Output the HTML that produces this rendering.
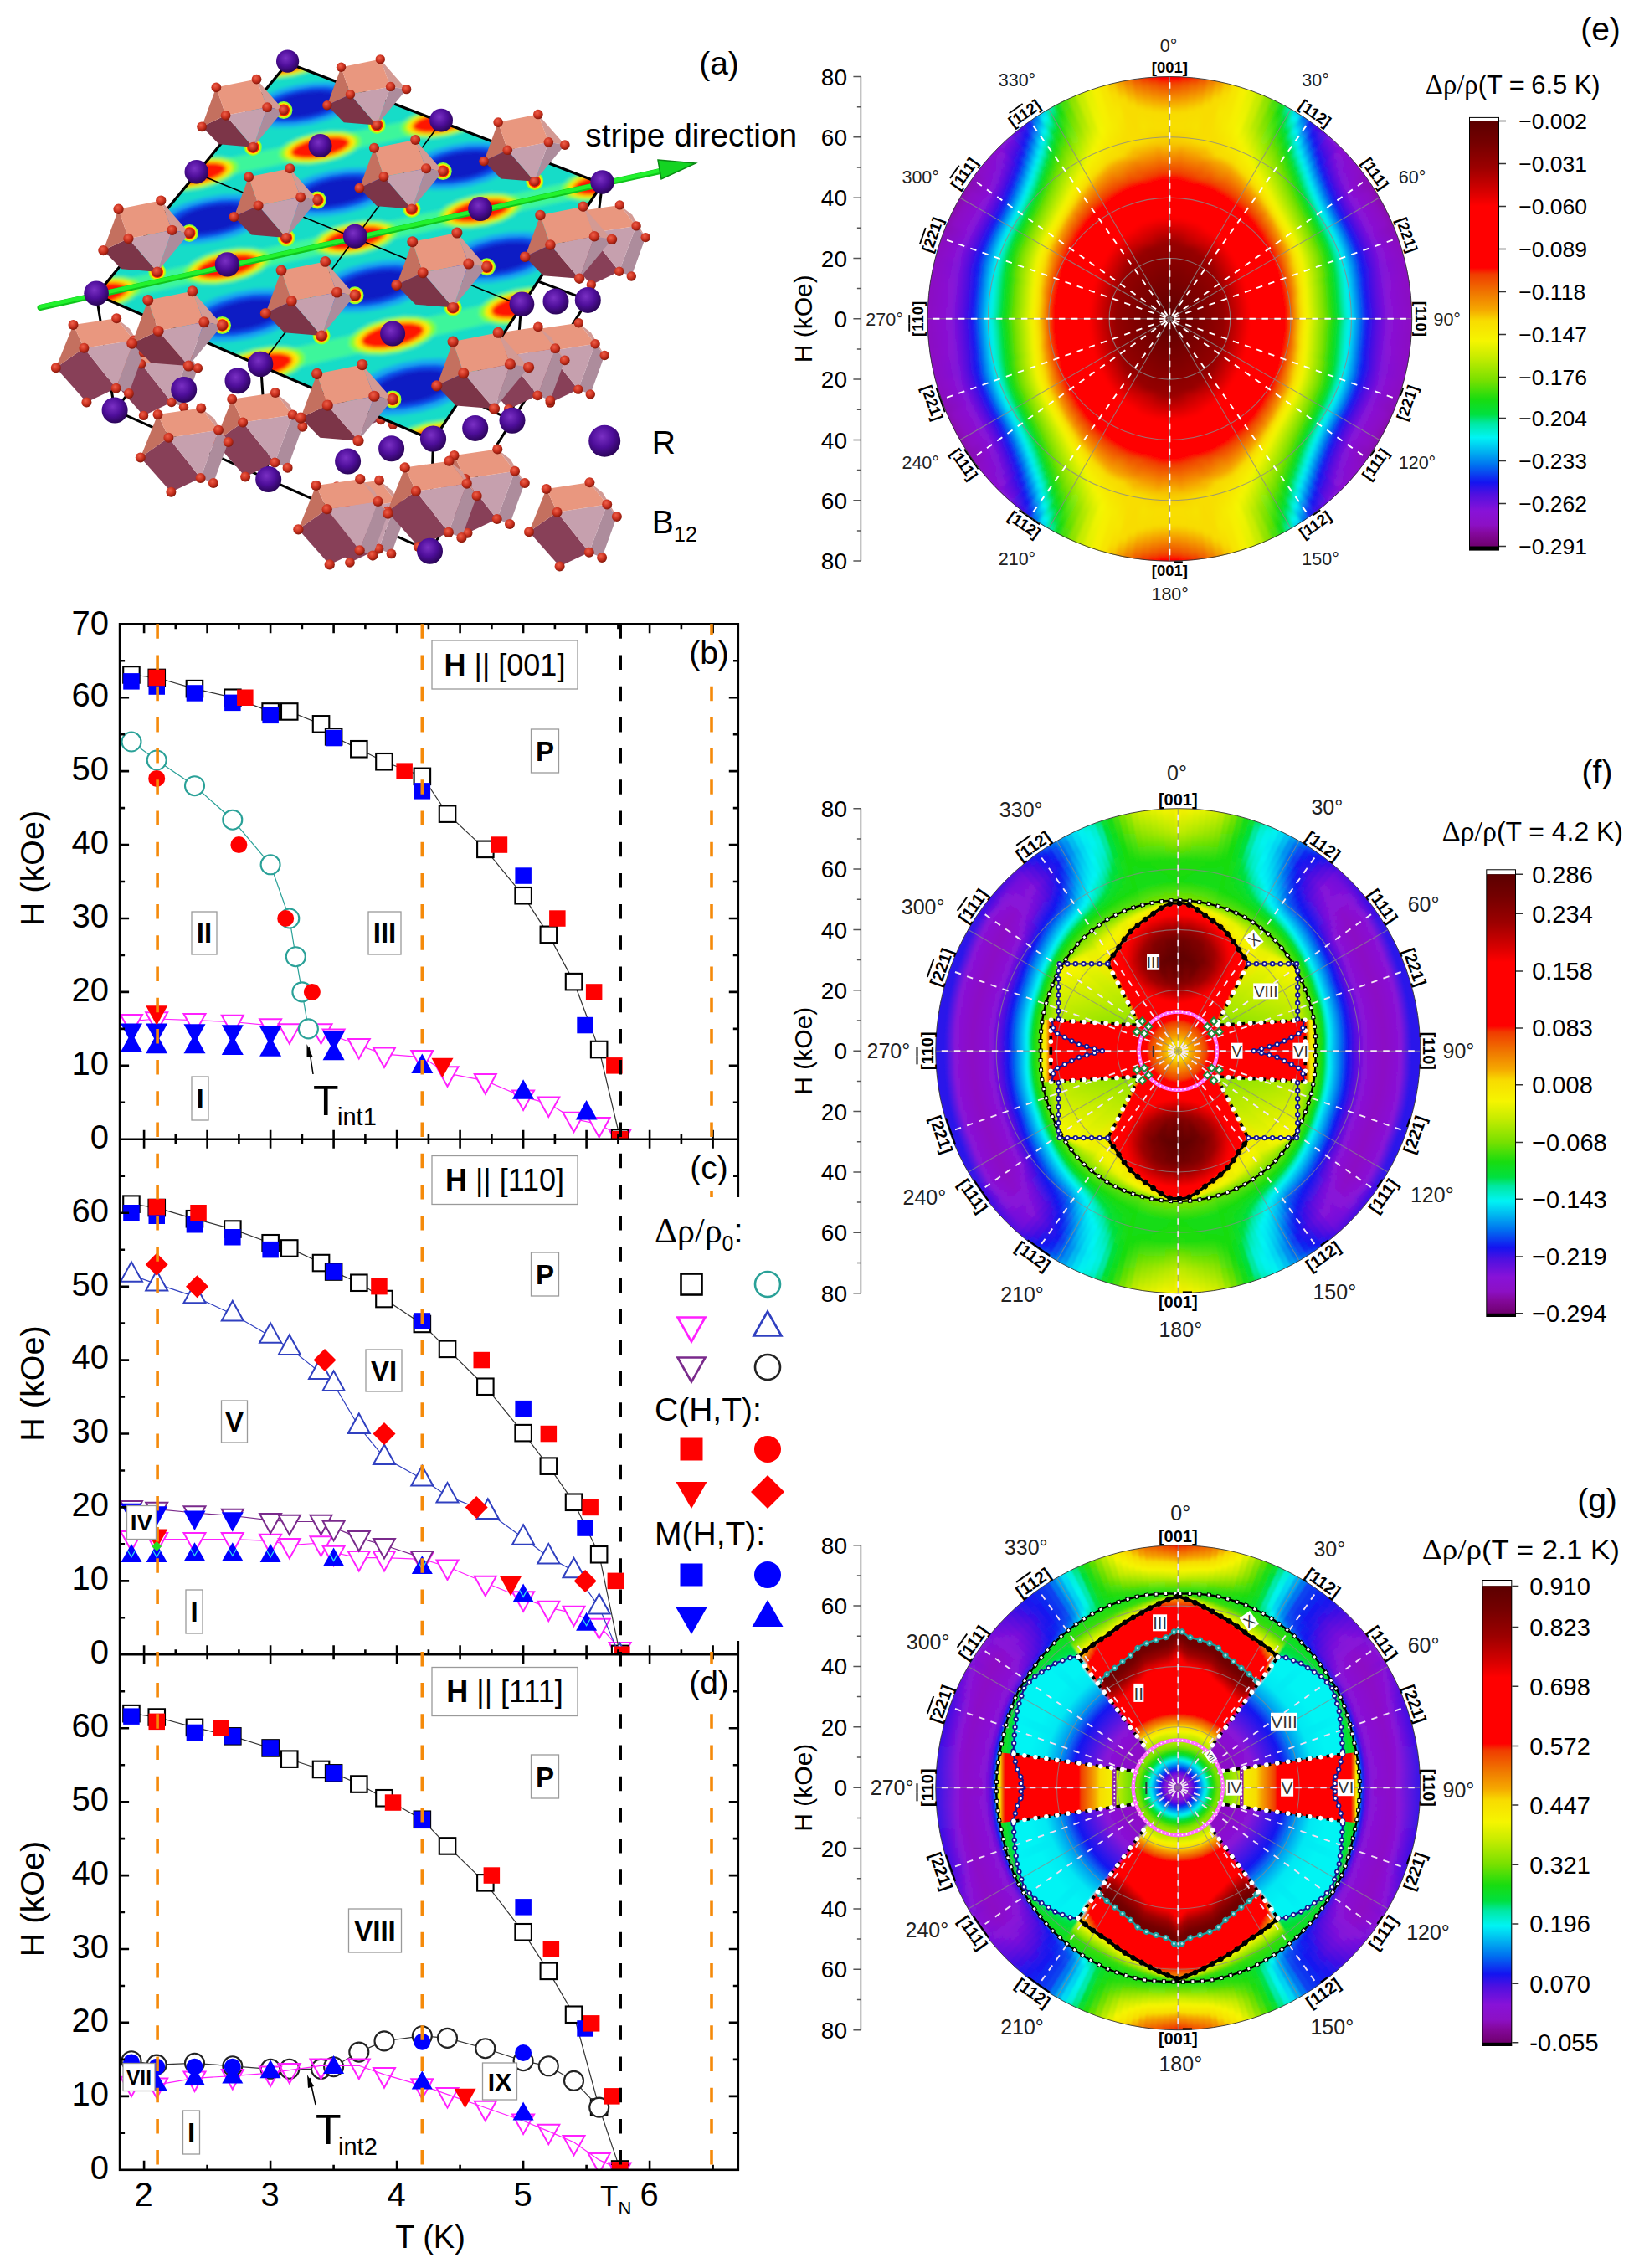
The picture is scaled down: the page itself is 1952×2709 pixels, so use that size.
<!DOCTYPE html>
<html><head><meta charset="utf-8"><title>figure</title><style>html,body{margin:0;padding:0;background:#fff}svg{display:block}</style></head><body>
<svg width="1952" height="2709" viewBox="0 0 1952 2709">
<rect width="1952" height="2709" fill="#fff"/>
<g font-family='"Liberation Sans", Arial, sans-serif' fill="#000">
<defs><clipPath id="cpb"><rect x="143" y="745" width="739" height="615.8"/></clipPath><clipPath id="cpc"><rect x="143" y="1360.8" width="739" height="615.5"/></clipPath><clipPath id="cpd"><rect x="143" y="1976.3" width="739" height="615.5"/></clipPath></defs>
<g clip-path="url(#cpb)">
<polyline points="157,1219.6 187.2,1217 232.5,1218.7 277.8,1220.5 323.1,1224.9 345.8,1231.1 383.5,1231.1 398.6,1237.2 428.8,1248.6 459,1259.2 504.3,1262.7 534.5,1282.1 579.8,1290.9 625.1,1310.2 655.3,1318.1 685.5,1336.6 715.7,1342.7 740.6,1356.8" fill="none" stroke="#ff20ff" stroke-width="1.2"/>
<polygon points="144,1211.9 170,1211.9 157,1235.4" fill="#fff" stroke="#ff20ff" stroke-width="2.0" stroke-linejoin="miter"/>
<polygon points="174.2,1209.2 200.2,1209.2 187.2,1232.7" fill="#fff" stroke="#ff20ff" stroke-width="2.0" stroke-linejoin="miter"/>
<polygon points="219.5,1211 245.5,1211 232.5,1234.5" fill="#fff" stroke="#ff20ff" stroke-width="2.0" stroke-linejoin="miter"/>
<polygon points="264.8,1212.8 290.8,1212.8 277.8,1236.3" fill="#fff" stroke="#ff20ff" stroke-width="2.0" stroke-linejoin="miter"/>
<polygon points="310.1,1217.2 336.1,1217.2 323.1,1240.7" fill="#fff" stroke="#ff20ff" stroke-width="2.0" stroke-linejoin="miter"/>
<polygon points="332.8,1223.3 358.8,1223.3 345.8,1246.8" fill="#fff" stroke="#ff20ff" stroke-width="2.0" stroke-linejoin="miter"/>
<polygon points="370.5,1223.3 396.5,1223.3 383.5,1246.8" fill="#fff" stroke="#ff20ff" stroke-width="2.0" stroke-linejoin="miter"/>
<polygon points="385.6,1229.5 411.6,1229.5 398.6,1253" fill="#fff" stroke="#ff20ff" stroke-width="2.0" stroke-linejoin="miter"/>
<polygon points="415.8,1240.9 441.8,1240.9 428.8,1264.4" fill="#fff" stroke="#ff20ff" stroke-width="2.0" stroke-linejoin="miter"/>
<polygon points="446,1251.4 472,1251.4 459,1274.9" fill="#fff" stroke="#ff20ff" stroke-width="2.0" stroke-linejoin="miter"/>
<polygon points="491.3,1255 517.3,1255 504.3,1278.5" fill="#fff" stroke="#ff20ff" stroke-width="2.0" stroke-linejoin="miter"/>
<polygon points="521.5,1274.3 547.5,1274.3 534.5,1297.8" fill="#fff" stroke="#ff20ff" stroke-width="2.0" stroke-linejoin="miter"/>
<polygon points="566.8,1283.1 592.8,1283.1 579.8,1306.6" fill="#fff" stroke="#ff20ff" stroke-width="2.0" stroke-linejoin="miter"/>
<polygon points="612.1,1302.4 638.1,1302.4 625.1,1325.9" fill="#fff" stroke="#ff20ff" stroke-width="2.0" stroke-linejoin="miter"/>
<polygon points="642.3,1310.4 668.3,1310.4 655.3,1333.9" fill="#fff" stroke="#ff20ff" stroke-width="2.0" stroke-linejoin="miter"/>
<polygon points="672.5,1328.8 698.5,1328.8 685.5,1352.3" fill="#fff" stroke="#ff20ff" stroke-width="2.0" stroke-linejoin="miter"/>
<polygon points="702.7,1335 728.7,1335 715.7,1358.5" fill="#fff" stroke="#ff20ff" stroke-width="2.0" stroke-linejoin="miter"/>
<polygon points="727.6,1349 753.6,1349 740.6,1372.5" fill="#fff" stroke="#ff20ff" stroke-width="2.0" stroke-linejoin="miter"/>
<polyline points="157,806 187.2,809.5 232.5,822.7 277.8,833.2 323.1,849.9 345.8,849.9 383.5,864.9 398.6,879.8 428.8,894.8 459,909.7 504.3,927.3 534.5,972.1 579.8,1014.4 625.1,1069.8 655.3,1116.4 685.5,1172.6 715.7,1253.5 740.6,1359" fill="none" stroke="#333" stroke-width="1.2"/>
<rect x="147.2" y="796.2" width="19.5" height="19.5" fill="#fff" stroke="#000" stroke-width="2.1"/>
<rect x="177.5" y="799.7" width="19.5" height="19.5" fill="#fff" stroke="#000" stroke-width="2.1"/>
<rect x="222.7" y="812.9" width="19.5" height="19.5" fill="#fff" stroke="#000" stroke-width="2.1"/>
<rect x="268.1" y="823.5" width="19.5" height="19.5" fill="#fff" stroke="#000" stroke-width="2.1"/>
<rect x="313.4" y="840.2" width="19.5" height="19.5" fill="#fff" stroke="#000" stroke-width="2.1"/>
<rect x="336" y="840.2" width="19.5" height="19.5" fill="#fff" stroke="#000" stroke-width="2.1"/>
<rect x="373.8" y="855.1" width="19.5" height="19.5" fill="#fff" stroke="#000" stroke-width="2.1"/>
<rect x="388.9" y="870.1" width="19.5" height="19.5" fill="#fff" stroke="#000" stroke-width="2.1"/>
<rect x="419.1" y="885" width="19.5" height="19.5" fill="#fff" stroke="#000" stroke-width="2.1"/>
<rect x="449.2" y="900" width="19.5" height="19.5" fill="#fff" stroke="#000" stroke-width="2.1"/>
<rect x="494.6" y="917.6" width="19.5" height="19.5" fill="#fff" stroke="#000" stroke-width="2.1"/>
<rect x="524.8" y="962.4" width="19.5" height="19.5" fill="#fff" stroke="#000" stroke-width="2.1"/>
<rect x="570.1" y="1004.6" width="19.5" height="19.5" fill="#fff" stroke="#000" stroke-width="2.1"/>
<rect x="615.4" y="1060" width="19.5" height="19.5" fill="#fff" stroke="#000" stroke-width="2.1"/>
<rect x="645.6" y="1106.6" width="19.5" height="19.5" fill="#fff" stroke="#000" stroke-width="2.1"/>
<rect x="675.8" y="1162.9" width="19.5" height="19.5" fill="#fff" stroke="#000" stroke-width="2.1"/>
<rect x="705.9" y="1243.8" width="19.5" height="19.5" fill="#fff" stroke="#000" stroke-width="2.1"/>
<rect x="730.9" y="1349.3" width="19.5" height="19.5" fill="#fff" stroke="#000" stroke-width="2.1"/>
<polyline points="157,886 187.2,908 232.5,938.7 277.8,979.2 323.1,1032.8 345.8,1097 353.3,1142.7 360.9,1184.9 368.4,1228.9" fill="none" stroke="#2aa198" stroke-width="1.2"/>
<circle cx="157" cy="886" r="11.5" fill="#fff" stroke="#2aa198" stroke-width="2.1"/>
<circle cx="187.2" cy="908" r="11.5" fill="#fff" stroke="#2aa198" stroke-width="2.1"/>
<circle cx="232.5" cy="938.7" r="11.5" fill="#fff" stroke="#2aa198" stroke-width="2.1"/>
<circle cx="277.8" cy="979.2" r="11.5" fill="#fff" stroke="#2aa198" stroke-width="2.1"/>
<circle cx="323.1" cy="1032.8" r="11.5" fill="#fff" stroke="#2aa198" stroke-width="2.1"/>
<circle cx="345.8" cy="1097" r="11.5" fill="#fff" stroke="#2aa198" stroke-width="2.1"/>
<circle cx="353.3" cy="1142.7" r="11.5" fill="#fff" stroke="#2aa198" stroke-width="2.1"/>
<circle cx="360.9" cy="1184.9" r="11.5" fill="#fff" stroke="#2aa198" stroke-width="2.1"/>
<circle cx="368.4" cy="1228.9" r="11.5" fill="#fff" stroke="#2aa198" stroke-width="2.1"/>
<polygon points="144,1222.4 170,1222.4 157,1245.9" fill="#0000ff" stroke="none" stroke-width="0" stroke-linejoin="miter"/>
<polygon points="174.2,1222.4 200.2,1222.4 187.2,1245.9" fill="#0000ff" stroke="none" stroke-width="0" stroke-linejoin="miter"/>
<polygon points="219.5,1223.3 245.5,1223.3 232.5,1246.8" fill="#0000ff" stroke="none" stroke-width="0" stroke-linejoin="miter"/>
<polygon points="264.8,1224.2 290.8,1224.2 277.8,1247.7" fill="#0000ff" stroke="none" stroke-width="0" stroke-linejoin="miter"/>
<polygon points="310.1,1225.9 336.1,1225.9 323.1,1249.4" fill="#0000ff" stroke="none" stroke-width="0" stroke-linejoin="miter"/>
<polygon points="385.6,1232.1 411.6,1232.1 398.6,1255.6" fill="#0000ff" stroke="none" stroke-width="0" stroke-linejoin="miter"/>
<polygon points="144,1256.5 170,1256.5 157,1233" fill="#0000ff" stroke="none" stroke-width="0" stroke-linejoin="miter"/>
<polygon points="174.2,1258.2 200.2,1258.2 187.2,1234.7" fill="#0000ff" stroke="none" stroke-width="0" stroke-linejoin="miter"/>
<polygon points="219.5,1258.2 245.5,1258.2 232.5,1234.7" fill="#0000ff" stroke="none" stroke-width="0" stroke-linejoin="miter"/>
<polygon points="264.8,1260 290.8,1260 277.8,1236.5" fill="#0000ff" stroke="none" stroke-width="0" stroke-linejoin="miter"/>
<polygon points="310.1,1261.8 336.1,1261.8 323.1,1238.3" fill="#0000ff" stroke="none" stroke-width="0" stroke-linejoin="miter"/>
<polygon points="385.6,1266.2 411.6,1266.2 398.6,1242.7" fill="#0000ff" stroke="none" stroke-width="0" stroke-linejoin="miter"/>
<polygon points="491.3,1282 517.3,1282 504.3,1258.5" fill="#0000ff" stroke="none" stroke-width="0" stroke-linejoin="miter"/>
<polygon points="612.1,1312.8 638.1,1312.8 625.1,1289.3" fill="#0000ff" stroke="none" stroke-width="0" stroke-linejoin="miter"/>
<polygon points="687.6,1337.4 713.6,1337.4 700.6,1313.9" fill="#0000ff" stroke="none" stroke-width="0" stroke-linejoin="miter"/>
<rect x="147.2" y="804.1" width="19.5" height="19.5" fill="#0000ff" stroke="none" stroke-width="0"/>
<rect x="177.5" y="810.3" width="19.5" height="19.5" fill="#0000ff" stroke="none" stroke-width="0"/>
<rect x="222.7" y="818.2" width="19.5" height="19.5" fill="#0000ff" stroke="none" stroke-width="0"/>
<rect x="268.1" y="829.6" width="19.5" height="19.5" fill="#0000ff" stroke="none" stroke-width="0"/>
<rect x="313.4" y="844.6" width="19.5" height="19.5" fill="#0000ff" stroke="none" stroke-width="0"/>
<rect x="388.9" y="871.8" width="19.5" height="19.5" fill="#0000ff" stroke="none" stroke-width="0"/>
<rect x="494.6" y="935.1" width="19.5" height="19.5" fill="#0000ff" stroke="none" stroke-width="0"/>
<rect x="615.4" y="1036.3" width="19.5" height="19.5" fill="#0000ff" stroke="none" stroke-width="0"/>
<rect x="689.3" y="1214.8" width="19.5" height="19.5" fill="#0000ff" stroke="none" stroke-width="0"/>
<rect x="177.5" y="799.7" width="19.5" height="19.5" fill="#ff0000" stroke="none" stroke-width="0"/>
<rect x="283.1" y="823.5" width="19.5" height="19.5" fill="#ff0000" stroke="none" stroke-width="0"/>
<rect x="473.4" y="911.4" width="19.5" height="19.5" fill="#ff0000" stroke="none" stroke-width="0"/>
<rect x="586.7" y="999.3" width="19.5" height="19.5" fill="#ff0000" stroke="none" stroke-width="0"/>
<rect x="656.1" y="1087.3" width="19.5" height="19.5" fill="#ff0000" stroke="none" stroke-width="0"/>
<rect x="699.9" y="1175.2" width="19.5" height="19.5" fill="#ff0000" stroke="none" stroke-width="0"/>
<rect x="724.1" y="1263.1" width="19.5" height="19.5" fill="#ff0000" stroke="none" stroke-width="0"/>
<rect x="730.9" y="1351" width="19.5" height="19.5" fill="#ff0000" stroke="none" stroke-width="0"/>
<circle cx="187.2" cy="929.9" r="10" fill="#ff0000" stroke="none" stroke-width="0"/>
<circle cx="285.4" cy="1009.1" r="10" fill="#ff0000" stroke="none" stroke-width="0"/>
<circle cx="341.2" cy="1097" r="10" fill="#ff0000" stroke="none" stroke-width="0"/>
<circle cx="372.9" cy="1184.9" r="10" fill="#ff0000" stroke="none" stroke-width="0"/>
<polygon points="174.2,1201.3 200.2,1201.3 187.2,1224.8" fill="#ff0000" stroke="none" stroke-width="0" stroke-linejoin="miter"/>
<polygon points="515.5,1263.8 541.5,1263.8 528.5,1287.3" fill="#ff0000" stroke="none" stroke-width="0" stroke-linejoin="miter"/>
</g><g clip-path="url(#cpc)">
<polyline points="157,1836.9 187.2,1838.6 232.5,1838.6 277.8,1838.6 323.1,1840.4 345.8,1845.7 383.5,1843 398.6,1854.5 428.8,1860.6 459,1860.6 504.3,1862.4 534.5,1871.2 579.8,1890.5 625.1,1909 655.3,1920.4 685.5,1926.6 715.7,1941.5 740.6,1969.7" fill="none" stroke="#ff20ff" stroke-width="1.2"/>
<polygon points="144,1829.1 170,1829.1 157,1852.6" fill="#fff" stroke="#ff20ff" stroke-width="2.0" stroke-linejoin="miter"/>
<polygon points="174.2,1830.9 200.2,1830.9 187.2,1854.4" fill="#fff" stroke="#ff20ff" stroke-width="2.0" stroke-linejoin="miter"/>
<polygon points="219.5,1830.9 245.5,1830.9 232.5,1854.4" fill="#fff" stroke="#ff20ff" stroke-width="2.0" stroke-linejoin="miter"/>
<polygon points="264.8,1830.9 290.8,1830.9 277.8,1854.4" fill="#fff" stroke="#ff20ff" stroke-width="2.0" stroke-linejoin="miter"/>
<polygon points="310.1,1832.7 336.1,1832.7 323.1,1856.2" fill="#fff" stroke="#ff20ff" stroke-width="2.0" stroke-linejoin="miter"/>
<polygon points="332.8,1837.9 358.8,1837.9 345.8,1861.4" fill="#fff" stroke="#ff20ff" stroke-width="2.0" stroke-linejoin="miter"/>
<polygon points="370.5,1835.3 396.5,1835.3 383.5,1858.8" fill="#fff" stroke="#ff20ff" stroke-width="2.0" stroke-linejoin="miter"/>
<polygon points="385.6,1846.7 411.6,1846.7 398.6,1870.2" fill="#fff" stroke="#ff20ff" stroke-width="2.0" stroke-linejoin="miter"/>
<polygon points="415.8,1852.9 441.8,1852.9 428.8,1876.4" fill="#fff" stroke="#ff20ff" stroke-width="2.0" stroke-linejoin="miter"/>
<polygon points="446,1852.9 472,1852.9 459,1876.4" fill="#fff" stroke="#ff20ff" stroke-width="2.0" stroke-linejoin="miter"/>
<polygon points="491.3,1854.6 517.3,1854.6 504.3,1878.1" fill="#fff" stroke="#ff20ff" stroke-width="2.0" stroke-linejoin="miter"/>
<polygon points="521.5,1863.4 547.5,1863.4 534.5,1886.9" fill="#fff" stroke="#ff20ff" stroke-width="2.0" stroke-linejoin="miter"/>
<polygon points="566.8,1882.8 592.8,1882.8 579.8,1906.3" fill="#fff" stroke="#ff20ff" stroke-width="2.0" stroke-linejoin="miter"/>
<polygon points="612.1,1901.2 638.1,1901.2 625.1,1924.7" fill="#fff" stroke="#ff20ff" stroke-width="2.0" stroke-linejoin="miter"/>
<polygon points="642.3,1912.7 668.3,1912.7 655.3,1936.2" fill="#fff" stroke="#ff20ff" stroke-width="2.0" stroke-linejoin="miter"/>
<polygon points="672.5,1918.8 698.5,1918.8 685.5,1942.3" fill="#fff" stroke="#ff20ff" stroke-width="2.0" stroke-linejoin="miter"/>
<polygon points="702.7,1933.8 728.7,1933.8 715.7,1957.3" fill="#fff" stroke="#ff20ff" stroke-width="2.0" stroke-linejoin="miter"/>
<polygon points="727.6,1961.9 753.6,1961.9 740.6,1985.4" fill="#fff" stroke="#ff20ff" stroke-width="2.0" stroke-linejoin="miter"/>
<polyline points="157,1800.8 187.2,1802.6 232.5,1807 277.8,1810.5 323.1,1815.8 345.8,1817.5 383.5,1817.5 398.6,1824.6 428.8,1836.9 459,1845.7 504.3,1860.6" fill="none" stroke="#7a2a8c" stroke-width="1.2"/>
<polygon points="144,1793.1 170,1793.1 157,1816.6" fill="#fff" stroke="#7a2a8c" stroke-width="2.0" stroke-linejoin="miter"/>
<polygon points="174.2,1794.8 200.2,1794.8 187.2,1818.3" fill="#fff" stroke="#7a2a8c" stroke-width="2.0" stroke-linejoin="miter"/>
<polygon points="219.5,1799.2 245.5,1799.2 232.5,1822.7" fill="#fff" stroke="#7a2a8c" stroke-width="2.0" stroke-linejoin="miter"/>
<polygon points="264.8,1802.8 290.8,1802.8 277.8,1826.3" fill="#fff" stroke="#7a2a8c" stroke-width="2.0" stroke-linejoin="miter"/>
<polygon points="310.1,1808 336.1,1808 323.1,1831.5" fill="#fff" stroke="#7a2a8c" stroke-width="2.0" stroke-linejoin="miter"/>
<polygon points="332.8,1809.8 358.8,1809.8 345.8,1833.3" fill="#fff" stroke="#7a2a8c" stroke-width="2.0" stroke-linejoin="miter"/>
<polygon points="370.5,1809.8 396.5,1809.8 383.5,1833.3" fill="#fff" stroke="#7a2a8c" stroke-width="2.0" stroke-linejoin="miter"/>
<polygon points="385.6,1816.8 411.6,1816.8 398.6,1840.3" fill="#fff" stroke="#7a2a8c" stroke-width="2.0" stroke-linejoin="miter"/>
<polygon points="415.8,1829.1 441.8,1829.1 428.8,1852.6" fill="#fff" stroke="#7a2a8c" stroke-width="2.0" stroke-linejoin="miter"/>
<polygon points="446,1837.9 472,1837.9 459,1861.4" fill="#fff" stroke="#7a2a8c" stroke-width="2.0" stroke-linejoin="miter"/>
<polygon points="491.3,1852.9 517.3,1852.9 504.3,1876.4" fill="#fff" stroke="#7a2a8c" stroke-width="2.0" stroke-linejoin="miter"/>
<polyline points="157,1438.2 187.2,1442.6 232.5,1455.8 277.8,1468.1 323.1,1484.8 345.8,1490.9 383.5,1508.5 398.6,1519.1 428.8,1532.3 459,1551.6 504.3,1581.5 534.5,1611.4 579.8,1656.2 625.1,1711.6 655.3,1751.2 685.5,1794.3 715.7,1856.7 740.6,1975.4" fill="none" stroke="#333" stroke-width="1.2"/>
<rect x="147.2" y="1428.4" width="19.5" height="19.5" fill="#fff" stroke="#000" stroke-width="2.1"/>
<rect x="177.5" y="1432.8" width="19.5" height="19.5" fill="#fff" stroke="#000" stroke-width="2.1"/>
<rect x="222.7" y="1446" width="19.5" height="19.5" fill="#fff" stroke="#000" stroke-width="2.1"/>
<rect x="268.1" y="1458.3" width="19.5" height="19.5" fill="#fff" stroke="#000" stroke-width="2.1"/>
<rect x="313.4" y="1475" width="19.5" height="19.5" fill="#fff" stroke="#000" stroke-width="2.1"/>
<rect x="336" y="1481.2" width="19.5" height="19.5" fill="#fff" stroke="#000" stroke-width="2.1"/>
<rect x="373.8" y="1498.8" width="19.5" height="19.5" fill="#fff" stroke="#000" stroke-width="2.1"/>
<rect x="388.9" y="1509.3" width="19.5" height="19.5" fill="#fff" stroke="#000" stroke-width="2.1"/>
<rect x="419.1" y="1522.5" width="19.5" height="19.5" fill="#fff" stroke="#000" stroke-width="2.1"/>
<rect x="449.2" y="1541.8" width="19.5" height="19.5" fill="#fff" stroke="#000" stroke-width="2.1"/>
<rect x="494.6" y="1571.7" width="19.5" height="19.5" fill="#fff" stroke="#000" stroke-width="2.1"/>
<rect x="524.8" y="1601.6" width="19.5" height="19.5" fill="#fff" stroke="#000" stroke-width="2.1"/>
<rect x="570.1" y="1646.5" width="19.5" height="19.5" fill="#fff" stroke="#000" stroke-width="2.1"/>
<rect x="615.4" y="1701.9" width="19.5" height="19.5" fill="#fff" stroke="#000" stroke-width="2.1"/>
<rect x="645.6" y="1741.4" width="19.5" height="19.5" fill="#fff" stroke="#000" stroke-width="2.1"/>
<rect x="675.8" y="1784.5" width="19.5" height="19.5" fill="#fff" stroke="#000" stroke-width="2.1"/>
<rect x="705.9" y="1847" width="19.5" height="19.5" fill="#fff" stroke="#000" stroke-width="2.1"/>
<rect x="730.9" y="1965.7" width="19.5" height="19.5" fill="#fff" stroke="#000" stroke-width="2.1"/>
<polyline points="157,1523.1 187.2,1533.6 232.5,1548.6 277.8,1569.7 323.1,1596 345.8,1610.1 382,1639.1 398.6,1653.2 428.8,1704.2 459,1741.1 504.3,1766.6 534.5,1786.9 582.8,1806.2 625.1,1837 655.3,1859.8 685.5,1876.5 715.7,1919.6 740.6,1978.5" fill="none" stroke="#3040c0" stroke-width="1.2"/>
<polygon points="144,1530.8 170,1530.8 157,1507.3" fill="#fff" stroke="#3040c0" stroke-width="2.0" stroke-linejoin="miter"/>
<polygon points="174.2,1541.4 200.2,1541.4 187.2,1517.9" fill="#fff" stroke="#3040c0" stroke-width="2.0" stroke-linejoin="miter"/>
<polygon points="219.5,1556.3 245.5,1556.3 232.5,1532.8" fill="#fff" stroke="#3040c0" stroke-width="2.0" stroke-linejoin="miter"/>
<polygon points="264.8,1577.4 290.8,1577.4 277.8,1553.9" fill="#fff" stroke="#3040c0" stroke-width="2.0" stroke-linejoin="miter"/>
<polygon points="310.1,1603.8 336.1,1603.8 323.1,1580.3" fill="#fff" stroke="#3040c0" stroke-width="2.0" stroke-linejoin="miter"/>
<polygon points="332.8,1617.9 358.8,1617.9 345.8,1594.4" fill="#fff" stroke="#3040c0" stroke-width="2.0" stroke-linejoin="miter"/>
<polygon points="369,1646.9 395,1646.9 382,1623.4" fill="#fff" stroke="#3040c0" stroke-width="2.0" stroke-linejoin="miter"/>
<polygon points="385.6,1661 411.6,1661 398.6,1637.5" fill="#fff" stroke="#3040c0" stroke-width="2.0" stroke-linejoin="miter"/>
<polygon points="415.8,1711.9 441.8,1711.9 428.8,1688.4" fill="#fff" stroke="#3040c0" stroke-width="2.0" stroke-linejoin="miter"/>
<polygon points="446,1748.9 472,1748.9 459,1725.4" fill="#fff" stroke="#3040c0" stroke-width="2.0" stroke-linejoin="miter"/>
<polygon points="491.3,1774.4 517.3,1774.4 504.3,1750.9" fill="#fff" stroke="#3040c0" stroke-width="2.0" stroke-linejoin="miter"/>
<polygon points="521.5,1794.6 547.5,1794.6 534.5,1771.1" fill="#fff" stroke="#3040c0" stroke-width="2.0" stroke-linejoin="miter"/>
<polygon points="569.8,1813.9 595.8,1813.9 582.8,1790.4" fill="#fff" stroke="#3040c0" stroke-width="2.0" stroke-linejoin="miter"/>
<polygon points="612.1,1844.7 638.1,1844.7 625.1,1821.2" fill="#fff" stroke="#3040c0" stroke-width="2.0" stroke-linejoin="miter"/>
<polygon points="642.3,1867.6 668.3,1867.6 655.3,1844.1" fill="#fff" stroke="#3040c0" stroke-width="2.0" stroke-linejoin="miter"/>
<polygon points="672.5,1884.3 698.5,1884.3 685.5,1860.8" fill="#fff" stroke="#3040c0" stroke-width="2.0" stroke-linejoin="miter"/>
<polygon points="702.7,1927.4 728.7,1927.4 715.7,1903.9" fill="#fff" stroke="#3040c0" stroke-width="2.0" stroke-linejoin="miter"/>
<polygon points="727.6,1986.3 753.6,1986.3 740.6,1962.8" fill="#fff" stroke="#3040c0" stroke-width="2.0" stroke-linejoin="miter"/>
<polygon points="144,1795.7 170,1795.7 157,1819.2" fill="#0000ff" stroke="none" stroke-width="0" stroke-linejoin="miter"/>
<polygon points="174.2,1799.2 200.2,1799.2 187.2,1822.7" fill="#0000ff" stroke="none" stroke-width="0" stroke-linejoin="miter"/>
<polygon points="219.5,1804.5 245.5,1804.5 232.5,1828" fill="#0000ff" stroke="none" stroke-width="0" stroke-linejoin="miter"/>
<polygon points="264.8,1806.3 290.8,1806.3 277.8,1829.8" fill="#0000ff" stroke="none" stroke-width="0" stroke-linejoin="miter"/>
<polygon points="144.5,1866 169.5,1866 157,1844" fill="#0000ff" stroke="none" stroke-width="0" stroke-linejoin="miter"/>
<polygon points="174.7,1866 199.7,1866 187.2,1844" fill="#0000ff" stroke="none" stroke-width="0" stroke-linejoin="miter"/>
<polygon points="220,1864.2 245,1864.2 232.5,1842.2" fill="#0000ff" stroke="none" stroke-width="0" stroke-linejoin="miter"/>
<polygon points="265.3,1864.2 290.3,1864.2 277.8,1842.2" fill="#0000ff" stroke="none" stroke-width="0" stroke-linejoin="miter"/>
<polygon points="310.6,1866 335.6,1866 323.1,1844" fill="#0000ff" stroke="none" stroke-width="0" stroke-linejoin="miter"/>
<polygon points="386.1,1870.4 411.1,1870.4 398.6,1848.4" fill="#0000ff" stroke="none" stroke-width="0" stroke-linejoin="miter"/>
<polygon points="491.8,1880 516.8,1880 504.3,1858" fill="#0000ff" stroke="none" stroke-width="0" stroke-linejoin="miter"/>
<polygon points="612.6,1913.4 637.6,1913.4 625.1,1891.4" fill="#0000ff" stroke="none" stroke-width="0" stroke-linejoin="miter"/>
<polygon points="688.1,1947.7 713.1,1947.7 700.6,1925.7" fill="#0000ff" stroke="none" stroke-width="0" stroke-linejoin="miter"/>
<polyline points="152.5,1852 157,1860 161.5,1852" fill="none" stroke="#30d8f0" stroke-width="1.3"/>
<polyline points="182.7,1852 187.2,1860 191.7,1852" fill="none" stroke="#30d8f0" stroke-width="1.3"/>
<polyline points="228,1850.2 232.5,1858.2 237,1850.2" fill="none" stroke="#30d8f0" stroke-width="1.3"/>
<polyline points="273.3,1850.2 277.8,1858.2 282.3,1850.2" fill="none" stroke="#30d8f0" stroke-width="1.3"/>
<polyline points="318.6,1852 323.1,1860 327.6,1852" fill="none" stroke="#30d8f0" stroke-width="1.3"/>
<polyline points="394.1,1856.4 398.6,1864.4 403.1,1856.4" fill="none" stroke="#30d8f0" stroke-width="1.3"/>
<polyline points="499.8,1866 504.3,1874 508.8,1866" fill="none" stroke="#30d8f0" stroke-width="1.3"/>
<polyline points="620.6,1899.4 625.1,1907.4 629.6,1899.4" fill="none" stroke="#30d8f0" stroke-width="1.3"/>
<polyline points="696.1,1933.7 700.6,1941.7 705.1,1933.7" fill="none" stroke="#30d8f0" stroke-width="1.3"/>
<rect x="147.2" y="1439" width="19.5" height="19.5" fill="#0000ff" stroke="none" stroke-width="0"/>
<rect x="177.5" y="1442.5" width="19.5" height="19.5" fill="#0000ff" stroke="none" stroke-width="0"/>
<rect x="222.7" y="1453" width="19.5" height="19.5" fill="#0000ff" stroke="none" stroke-width="0"/>
<rect x="268.1" y="1468" width="19.5" height="19.5" fill="#0000ff" stroke="none" stroke-width="0"/>
<rect x="313.4" y="1482.9" width="19.5" height="19.5" fill="#0000ff" stroke="none" stroke-width="0"/>
<rect x="388.9" y="1509.3" width="19.5" height="19.5" fill="#0000ff" stroke="none" stroke-width="0"/>
<rect x="494.6" y="1568.2" width="19.5" height="19.5" fill="#0000ff" stroke="none" stroke-width="0"/>
<rect x="615.4" y="1672.9" width="19.5" height="19.5" fill="#0000ff" stroke="none" stroke-width="0"/>
<rect x="689.3" y="1815.3" width="19.5" height="19.5" fill="#0000ff" stroke="none" stroke-width="0"/>
<rect x="177.5" y="1431.9" width="19.5" height="19.5" fill="#ff0000" stroke="none" stroke-width="0"/>
<rect x="227.3" y="1439" width="19.5" height="19.5" fill="#ff0000" stroke="none" stroke-width="0"/>
<rect x="443.2" y="1526.9" width="19.5" height="19.5" fill="#ff0000" stroke="none" stroke-width="0"/>
<rect x="565.5" y="1614.8" width="19.5" height="19.5" fill="#ff0000" stroke="none" stroke-width="0"/>
<rect x="645.6" y="1702.8" width="19.5" height="19.5" fill="#ff0000" stroke="none" stroke-width="0"/>
<rect x="695.4" y="1790.7" width="19.5" height="19.5" fill="#ff0000" stroke="none" stroke-width="0"/>
<rect x="725.6" y="1878.6" width="19.5" height="19.5" fill="#ff0000" stroke="none" stroke-width="0"/>
<rect x="733.1" y="1966.5" width="19.5" height="19.5" fill="#ff0000" stroke="none" stroke-width="0"/>
<polygon points="173.7,1510.3 187.2,1496.8 200.7,1510.3 187.2,1523.8" fill="#f00" stroke="none" stroke-width="0"/>
<polygon points="222,1536.7 235.5,1523.2 249,1536.7 235.5,1550.2" fill="#f00" stroke="none" stroke-width="0"/>
<polygon points="374.5,1624.6 388,1611.1 401.5,1624.6 388,1638.1" fill="#f00" stroke="none" stroke-width="0"/>
<polygon points="445.5,1712.5 459,1699 472.5,1712.5 459,1726" fill="#f00" stroke="none" stroke-width="0"/>
<polygon points="555.7,1800.4 569.2,1786.9 582.7,1800.4 569.2,1813.9" fill="#f00" stroke="none" stroke-width="0"/>
<polygon points="685.6,1888.4 699.1,1874.9 712.6,1888.4 699.1,1901.9" fill="#f00" stroke="none" stroke-width="0"/>
<polygon points="174.2,1826.5 200.2,1826.5 187.2,1850" fill="#ff0000" stroke="none" stroke-width="0" stroke-linejoin="miter"/>
<polygon points="597,1882.8 623,1882.8 610,1906.3" fill="#ff0000" stroke="none" stroke-width="0" stroke-linejoin="miter"/>
<polygon points="181.2,1847 187.2,1841 193.2,1847 187.2,1853" fill="#20e020" stroke="none" stroke-width="0"/>
</g><g clip-path="url(#cpd)">
<polyline points="157,2046.6 187.2,2051 232.5,2063.3 277.8,2073.9 323.1,2088 345.8,2101.2 383.5,2113.5 398.6,2117.9 428.8,2131 459,2147.8 504.3,2173.3 534.5,2204.9 579.8,2248.9 625.1,2307.8 655.3,2354.4 685.5,2406.3 715.7,2517.1 740.6,2590.9" fill="none" stroke="#333" stroke-width="1.2"/>
<rect x="147.2" y="2036.9" width="19.5" height="19.5" fill="#fff" stroke="#000" stroke-width="2.1"/>
<rect x="177.5" y="2041.3" width="19.5" height="19.5" fill="#fff" stroke="#000" stroke-width="2.1"/>
<rect x="222.7" y="2053.6" width="19.5" height="19.5" fill="#fff" stroke="#000" stroke-width="2.1"/>
<rect x="268.1" y="2064.1" width="19.5" height="19.5" fill="#fff" stroke="#000" stroke-width="2.1"/>
<rect x="313.4" y="2078.2" width="19.5" height="19.5" fill="#fff" stroke="#000" stroke-width="2.1"/>
<rect x="336" y="2091.4" width="19.5" height="19.5" fill="#fff" stroke="#000" stroke-width="2.1"/>
<rect x="373.8" y="2103.7" width="19.5" height="19.5" fill="#fff" stroke="#000" stroke-width="2.1"/>
<rect x="388.9" y="2108.1" width="19.5" height="19.5" fill="#fff" stroke="#000" stroke-width="2.1"/>
<rect x="419.1" y="2121.3" width="19.5" height="19.5" fill="#fff" stroke="#000" stroke-width="2.1"/>
<rect x="449.2" y="2138" width="19.5" height="19.5" fill="#fff" stroke="#000" stroke-width="2.1"/>
<rect x="494.6" y="2163.5" width="19.5" height="19.5" fill="#fff" stroke="#000" stroke-width="2.1"/>
<rect x="524.8" y="2195.2" width="19.5" height="19.5" fill="#fff" stroke="#000" stroke-width="2.1"/>
<rect x="570.1" y="2239.1" width="19.5" height="19.5" fill="#fff" stroke="#000" stroke-width="2.1"/>
<rect x="615.4" y="2298" width="19.5" height="19.5" fill="#fff" stroke="#000" stroke-width="2.1"/>
<rect x="645.6" y="2344.6" width="19.5" height="19.5" fill="#fff" stroke="#000" stroke-width="2.1"/>
<rect x="675.8" y="2396.5" width="19.5" height="19.5" fill="#fff" stroke="#000" stroke-width="2.1"/>
<rect x="705.9" y="2507.3" width="19.5" height="19.5" fill="#fff" stroke="#000" stroke-width="2.1"/>
<rect x="730.9" y="2581.2" width="19.5" height="19.5" fill="#fff" stroke="#000" stroke-width="2.1"/>
<polyline points="157,2461.7 187.2,2466.1 232.5,2464.3 277.8,2467.8 323.1,2471.3 345.8,2471.3 383.5,2471.3 398.6,2468.7 428.8,2451.1 459,2437.9 504.3,2431.8 534.5,2434.4 579.8,2446.7 625.1,2461.7 655.3,2467.8 685.5,2485.4 715.7,2517.1" fill="none" stroke="#333" stroke-width="1.2"/>
<circle cx="157" cy="2461.7" r="11.5" fill="#fff" stroke="#222" stroke-width="2.1"/>
<circle cx="187.2" cy="2466.1" r="11.5" fill="#fff" stroke="#222" stroke-width="2.1"/>
<circle cx="232.5" cy="2464.3" r="11.5" fill="#fff" stroke="#222" stroke-width="2.1"/>
<circle cx="277.8" cy="2467.8" r="11.5" fill="#fff" stroke="#222" stroke-width="2.1"/>
<circle cx="323.1" cy="2471.3" r="11.5" fill="#fff" stroke="#222" stroke-width="2.1"/>
<circle cx="345.8" cy="2471.3" r="11.5" fill="#fff" stroke="#222" stroke-width="2.1"/>
<circle cx="383.5" cy="2471.3" r="11.5" fill="#fff" stroke="#222" stroke-width="2.1"/>
<circle cx="398.6" cy="2468.7" r="11.5" fill="#fff" stroke="#222" stroke-width="2.1"/>
<circle cx="428.8" cy="2451.1" r="11.5" fill="#fff" stroke="#222" stroke-width="2.1"/>
<circle cx="459" cy="2437.9" r="11.5" fill="#fff" stroke="#222" stroke-width="2.1"/>
<circle cx="504.3" cy="2431.8" r="11.5" fill="#fff" stroke="#222" stroke-width="2.1"/>
<circle cx="534.5" cy="2434.4" r="11.5" fill="#fff" stroke="#222" stroke-width="2.1"/>
<circle cx="579.8" cy="2446.7" r="11.5" fill="#fff" stroke="#222" stroke-width="2.1"/>
<circle cx="625.1" cy="2461.7" r="11.5" fill="#fff" stroke="#222" stroke-width="2.1"/>
<circle cx="655.3" cy="2467.8" r="11.5" fill="#fff" stroke="#222" stroke-width="2.1"/>
<circle cx="685.5" cy="2485.4" r="11.5" fill="#fff" stroke="#222" stroke-width="2.1"/>
<circle cx="715.7" cy="2517.1" r="11.5" fill="#fff" stroke="#222" stroke-width="2.1"/>
<polyline points="157,2488.4 187.2,2490.2 232.5,2482.3 277.8,2479.6 323.1,2476.1 345.8,2472.6 383.5,2467.3 428.8,2467.3 459,2477.9 504.3,2491.1 534.5,2501.6 579.8,2517.5 625.1,2533.3 655.3,2545.6 685.5,2558.8 715.7,2579.9 740.6,2591.3" fill="none" stroke="#ff20ff" stroke-width="1.2"/>
<polygon points="144,2480.7 170,2480.7 157,2504.2" fill="none" stroke="#ff20ff" stroke-width="2.0" stroke-linejoin="miter"/>
<polygon points="174.2,2482.4 200.2,2482.4 187.2,2505.9" fill="none" stroke="#ff20ff" stroke-width="2.0" stroke-linejoin="miter"/>
<polygon points="219.5,2474.5 245.5,2474.5 232.5,2498" fill="none" stroke="#ff20ff" stroke-width="2.0" stroke-linejoin="miter"/>
<polygon points="264.8,2471.9 290.8,2471.9 277.8,2495.4" fill="none" stroke="#ff20ff" stroke-width="2.0" stroke-linejoin="miter"/>
<polygon points="310.1,2468.4 336.1,2468.4 323.1,2491.9" fill="none" stroke="#ff20ff" stroke-width="2.0" stroke-linejoin="miter"/>
<polygon points="332.8,2464.9 358.8,2464.9 345.8,2488.4" fill="none" stroke="#ff20ff" stroke-width="2.0" stroke-linejoin="miter"/>
<polygon points="370.5,2459.6 396.5,2459.6 383.5,2483.1" fill="none" stroke="#ff20ff" stroke-width="2.0" stroke-linejoin="miter"/>
<polygon points="415.8,2459.6 441.8,2459.6 428.8,2483.1" fill="none" stroke="#ff20ff" stroke-width="2.0" stroke-linejoin="miter"/>
<polygon points="446,2470.1 472,2470.1 459,2493.6" fill="none" stroke="#ff20ff" stroke-width="2.0" stroke-linejoin="miter"/>
<polygon points="491.3,2483.3 517.3,2483.3 504.3,2506.8" fill="none" stroke="#ff20ff" stroke-width="2.0" stroke-linejoin="miter"/>
<polygon points="521.5,2493.9 547.5,2493.9 534.5,2517.4" fill="none" stroke="#ff20ff" stroke-width="2.0" stroke-linejoin="miter"/>
<polygon points="566.8,2509.7 592.8,2509.7 579.8,2533.2" fill="none" stroke="#ff20ff" stroke-width="2.0" stroke-linejoin="miter"/>
<polygon points="612.1,2525.5 638.1,2525.5 625.1,2549" fill="none" stroke="#ff20ff" stroke-width="2.0" stroke-linejoin="miter"/>
<polygon points="642.3,2537.8 668.3,2537.8 655.3,2561.3" fill="none" stroke="#ff20ff" stroke-width="2.0" stroke-linejoin="miter"/>
<polygon points="672.5,2551 698.5,2551 685.5,2574.5" fill="none" stroke="#ff20ff" stroke-width="2.0" stroke-linejoin="miter"/>
<polygon points="702.7,2572.1 728.7,2572.1 715.7,2595.6" fill="none" stroke="#ff20ff" stroke-width="2.0" stroke-linejoin="miter"/>
<polygon points="727.6,2583.6 753.6,2583.6 740.6,2607.1" fill="none" stroke="#ff20ff" stroke-width="2.0" stroke-linejoin="miter"/>
<circle cx="157" cy="2463.4" r="10" fill="#0000ff" stroke="none" stroke-width="0"/>
<circle cx="187.2" cy="2468.7" r="10" fill="#0000ff" stroke="none" stroke-width="0"/>
<circle cx="232.5" cy="2468.7" r="10" fill="#0000ff" stroke="none" stroke-width="0"/>
<circle cx="277.8" cy="2468.7" r="10" fill="#0000ff" stroke="none" stroke-width="0"/>
<circle cx="504.3" cy="2438.8" r="10" fill="#0000ff" stroke="none" stroke-width="0"/>
<circle cx="625.1" cy="2452" r="10" fill="#0000ff" stroke="none" stroke-width="0"/>
<polygon points="174.7,2497.3 199.7,2497.3 187.2,2475.3" fill="#0000ff" stroke="none" stroke-width="0" stroke-linejoin="miter"/>
<polygon points="220,2491.1 245,2491.1 232.5,2469.1" fill="#0000ff" stroke="none" stroke-width="0" stroke-linejoin="miter"/>
<polygon points="265.3,2488.5 290.3,2488.5 277.8,2466.5" fill="#0000ff" stroke="none" stroke-width="0" stroke-linejoin="miter"/>
<polygon points="310.6,2482.3 335.6,2482.3 323.1,2460.3" fill="#0000ff" stroke="none" stroke-width="0" stroke-linejoin="miter"/>
<polygon points="386.1,2477.1 411.1,2477.1 398.6,2455.1" fill="#0000ff" stroke="none" stroke-width="0" stroke-linejoin="miter"/>
<polygon points="491.8,2495.5 516.8,2495.5 504.3,2473.5" fill="#0000ff" stroke="none" stroke-width="0" stroke-linejoin="miter"/>
<polygon points="612.6,2532.5 637.6,2532.5 625.1,2510.5" fill="#0000ff" stroke="none" stroke-width="0" stroke-linejoin="miter"/>
<rect x="147.2" y="2040.4" width="19.5" height="19.5" fill="#0000ff" stroke="none" stroke-width="0"/>
<rect x="222.7" y="2059.7" width="19.5" height="19.5" fill="#0000ff" stroke="none" stroke-width="0"/>
<rect x="268.1" y="2064.1" width="19.5" height="19.5" fill="#0000ff" stroke="none" stroke-width="0"/>
<rect x="313.4" y="2078.2" width="19.5" height="19.5" fill="#0000ff" stroke="none" stroke-width="0"/>
<rect x="388.9" y="2108.1" width="19.5" height="19.5" fill="#0000ff" stroke="none" stroke-width="0"/>
<rect x="494.6" y="2163.5" width="19.5" height="19.5" fill="#0000ff" stroke="none" stroke-width="0"/>
<rect x="615.4" y="2268.1" width="19.5" height="19.5" fill="#0000ff" stroke="none" stroke-width="0"/>
<rect x="689.3" y="2413.2" width="19.5" height="19.5" fill="#0000ff" stroke="none" stroke-width="0"/>
<rect x="177.5" y="2046.6" width="19.5" height="19.5" fill="#ff0000" stroke="none" stroke-width="0"/>
<rect x="254.5" y="2054.5" width="19.5" height="19.5" fill="#ff0000" stroke="none" stroke-width="0"/>
<rect x="459.8" y="2143.3" width="19.5" height="19.5" fill="#ff0000" stroke="none" stroke-width="0"/>
<rect x="577.6" y="2230.3" width="19.5" height="19.5" fill="#ff0000" stroke="none" stroke-width="0"/>
<rect x="648.6" y="2318.3" width="19.5" height="19.5" fill="#ff0000" stroke="none" stroke-width="0"/>
<rect x="696.9" y="2407.1" width="19.5" height="19.5" fill="#ff0000" stroke="none" stroke-width="0"/>
<rect x="721.1" y="2494.1" width="19.5" height="19.5" fill="#ff0000" stroke="none" stroke-width="0"/>
<rect x="730.9" y="2582.1" width="19.5" height="19.5" fill="#ff0000" stroke="none" stroke-width="0"/>
<polygon points="542.6,2494.8 568.6,2494.8 555.6,2518.3" fill="#ff0000" stroke="none" stroke-width="0" stroke-linejoin="miter"/>
</g>
<g stroke="#000" stroke-width="2.6" fill="none">
<rect x="143.1" y="745.3" width="738.7" height="1846.5"/>
<line x1="143.1" y1="1360.8" x2="881.8" y2="1360.8"/>
<line x1="143.1" y1="1976.3" x2="881.8" y2="1976.3"/>
<path d="M172.1 745.3v11M172.1 1349.8v22M172.1 1965.3v11M172.1 1976.3v11M172.1 2580.8v11M209.8 745.3v6M209.8 1354.8v12M209.8 1970.3v6M247.6 745.3v11M247.6 1349.8v22M247.6 1965.3v11M247.6 1976.3v6M247.6 2585.8v6M285.4 745.3v6M285.4 1354.8v12M285.4 1970.3v6M323.1 745.3v11M323.1 1349.8v22M323.1 1965.3v11M323.1 1976.3v11M323.1 2580.8v11M360.9 745.3v6M360.9 1354.8v12M360.9 1970.3v6M398.6 745.3v11M398.6 1349.8v22M398.6 1965.3v11M398.6 1976.3v6M398.6 2585.8v6M436.4 745.3v6M436.4 1354.8v12M436.4 1970.3v6M474.1 745.3v11M474.1 1349.8v22M474.1 1965.3v11M474.1 1976.3v11M474.1 2580.8v11M511.9 745.3v6M511.9 1354.8v12M511.9 1970.3v6M549.6 745.3v11M549.6 1349.8v22M549.6 1965.3v11M549.6 1976.3v6M549.6 2585.8v6M587.4 745.3v6M587.4 1354.8v12M587.4 1970.3v6M625.1 745.3v11M625.1 1349.8v22M625.1 1965.3v11M625.1 1976.3v11M625.1 2580.8v11M662.9 745.3v6M662.9 1354.8v12M662.9 1970.3v6M700.6 745.3v11M700.6 1349.8v22M700.6 1965.3v11M700.6 1976.3v6M700.6 2585.8v6M738.4 745.3v6M738.4 1354.8v12M738.4 1970.3v6M776.1 745.3v11M776.1 1349.8v22M776.1 1965.3v11M776.1 1976.3v11M776.1 2580.8v11M813.9 745.3v6M813.9 1354.8v12M813.9 1970.3v6M851.6 745.3v11M851.6 1349.8v22M851.6 1965.3v11M851.6 1976.3v6M851.6 2585.8v6M143.1 1316.8h6M881.8 1316.8h-6M143.1 1272.9h11M881.8 1272.9h-11M143.1 1228.9h6M881.8 1228.9h-6M143.1 1184.9h11M881.8 1184.9h-11M143.1 1141h6M881.8 1141h-6M143.1 1097h11M881.8 1097h-11M143.1 1053h6M881.8 1053h-6M143.1 1009.1h11M881.8 1009.1h-11M143.1 965.1h6M881.8 965.1h-6M143.1 921.1h11M881.8 921.1h-11M143.1 877.2h6M881.8 877.2h-6M143.1 833.2h11M881.8 833.2h-11M143.1 789.3h6M881.8 789.3h-6M143.1 1932.3h6M881.8 1932.3h-6M143.1 1888.4h11M881.8 1888.4h-11M143.1 1844.4h6M881.8 1844.4h-6M143.1 1800.4h11M881.8 1800.4h-11M143.1 1756.5h6M881.8 1756.5h-6M143.1 1712.5h11M881.8 1712.5h-11M143.1 1668.5h6M881.8 1668.5h-6M143.1 1624.6h11M881.8 1624.6h-11M143.1 1580.6h6M881.8 1580.6h-6M143.1 1536.7h11M881.8 1536.7h-11M143.1 1492.7h6M881.8 1492.7h-6M143.1 1448.7h11M881.8 1448.7h-11M143.1 1404.8h6M881.8 1404.8h-6M143.1 2547.8h6M881.8 2547.8h-6M143.1 2503.9h11M881.8 2503.9h-11M143.1 2459.9h6M881.8 2459.9h-6M143.1 2415.9h11M881.8 2415.9h-11M143.1 2372h6M881.8 2372h-6M143.1 2328h11M881.8 2328h-11M143.1 2284h6M881.8 2284h-6M143.1 2240.1h11M881.8 2240.1h-11M143.1 2196.1h6M881.8 2196.1h-6M143.1 2152.2h11M881.8 2152.2h-11M143.1 2108.2h6M881.8 2108.2h-6M143.1 2064.2h11M881.8 2064.2h-11M143.1 2020.3h6M881.8 2020.3h-6"/>
</g>
<line x1="188.1" y1="745.3" x2="188.1" y2="2590.8" stroke="#f58a0a" stroke-width="3.6" stroke-dasharray="17.5 19.7"/>
<line x1="504.3" y1="745.3" x2="504.3" y2="2590.8" stroke="#f58a0a" stroke-width="3.6" stroke-dasharray="17.5 19.7"/>
<line x1="850" y1="745.3" x2="850" y2="2590.8" stroke="#f58a0a" stroke-width="3.6" stroke-dasharray="17.5 19.7"/>
<line x1="741" y1="745.3" x2="741" y2="2590.8" stroke="#000" stroke-width="4" stroke-dasharray="17.5 19.7"/>
<rect x="772" y="1430" width="190" height="530" fill="#fff"/>
<rect x="516" y="765" width="174" height="58" fill="#fff" stroke="#9a9a9a" stroke-width="1.3"/><text x="603" y="806.8" font-size="36" text-anchor="middle"><tspan font-weight="bold">H</tspan><tspan font-weight="normal"> || [001]</tspan></text>
<rect x="634.5" y="871" width="33" height="52" fill="#fff" stroke="#9a9a9a" stroke-width="1.3"/><text x="651" y="908.7" font-size="33" text-anchor="middle" font-weight="bold">P</text>
<rect x="229" y="1089" width="30" height="51" fill="#fff" stroke="#9a9a9a" stroke-width="1.3"/><text x="244" y="1126.2" font-size="33" text-anchor="middle" font-weight="bold">II</text>
<rect x="440" y="1089" width="39" height="51" fill="#fff" stroke="#9a9a9a" stroke-width="1.3"/><text x="459.5" y="1126.2" font-size="33" text-anchor="middle" font-weight="bold">III</text>
<rect x="229" y="1286" width="20" height="52" fill="#fff" stroke="#9a9a9a" stroke-width="1.3"/><text x="239" y="1323.7" font-size="33" text-anchor="middle" font-weight="bold">I</text>
<text x="374" y="1332" font-size="50">T</text><text x="403" y="1344" font-size="29">int1</text>
<line x1="374" y1="1283" x2="369" y2="1250" stroke="#000" stroke-width="1.5"/><polygon points="366.5,1247 373.5,1262 366.5,1263" fill="#000"/>
<rect x="822" y="758" width="54" height="50" fill="#fff"/><text x="847" y="793" font-size="39" text-anchor="middle">(b)</text>
<rect x="516" y="1380.5" width="174" height="58" fill="#fff" stroke="#9a9a9a" stroke-width="1.3"/><text x="603" y="1422.3" font-size="36" text-anchor="middle"><tspan font-weight="bold">H</tspan><tspan font-weight="normal"> || [110]</tspan></text>
<rect x="634.5" y="1496" width="33" height="52" fill="#fff" stroke="#9a9a9a" stroke-width="1.3"/><text x="651" y="1533.7" font-size="33" text-anchor="middle" font-weight="bold">P</text>
<rect x="437" y="1612" width="43" height="50" fill="#fff" stroke="#9a9a9a" stroke-width="1.3"/><text x="458.5" y="1648.7" font-size="33" text-anchor="middle" font-weight="bold">VI</text>
<rect x="264.5" y="1673" width="31" height="50" fill="#fff" stroke="#9a9a9a" stroke-width="1.3"/><text x="280" y="1709.7" font-size="33" text-anchor="middle" font-weight="bold">V</text>
<rect x="151.5" y="1798.5" width="35" height="40" fill="#fff" stroke="#9a9a9a" stroke-width="1.3"/><text x="169" y="1828.4" font-size="28" text-anchor="middle" font-weight="bold">IV</text>
<rect x="222" y="1899" width="20" height="52" fill="#fff" stroke="#9a9a9a" stroke-width="1.3"/><text x="232" y="1936.7" font-size="33" text-anchor="middle" font-weight="bold">I</text>
<rect x="822" y="1373" width="54" height="50" fill="#fff"/><text x="847" y="1408" font-size="39" text-anchor="middle">(c)</text>
<rect x="516" y="1991.5" width="174" height="58" fill="#fff" stroke="#9a9a9a" stroke-width="1.3"/><text x="603" y="2033.3" font-size="36" text-anchor="middle"><tspan font-weight="bold">H</tspan><tspan font-weight="normal"> || [111]</tspan></text>
<rect x="634.5" y="2096" width="33" height="52" fill="#fff" stroke="#9a9a9a" stroke-width="1.3"/><text x="651" y="2133.7" font-size="33" text-anchor="middle" font-weight="bold">P</text>
<rect x="416.5" y="2280" width="63" height="52" fill="#fff" stroke="#9a9a9a" stroke-width="1.3"/><text x="448" y="2317.7" font-size="33" text-anchor="middle" font-weight="bold">VIII</text>
<rect x="147" y="2464.5" width="38" height="33" fill="#fff" stroke="#9a9a9a" stroke-width="1.3"/><text x="166" y="2489.7" font-size="24.5" text-anchor="middle" font-weight="bold">VII</text>
<rect x="576.5" y="2464" width="41" height="44" fill="#fff" stroke="#9a9a9a" stroke-width="1.3"/><text x="597" y="2496.7" font-size="30" text-anchor="middle" font-weight="bold">IX</text>
<rect x="218.5" y="2521" width="20" height="52" fill="#fff" stroke="#9a9a9a" stroke-width="1.3"/><text x="228.5" y="2558.7" font-size="33" text-anchor="middle" font-weight="bold">I</text>
<text x="377" y="2561" font-size="50">T</text><text x="404" y="2574" font-size="29">int2</text>
<line x1="377" y1="2514" x2="370" y2="2482" stroke="#000" stroke-width="1.5"/><polygon points="367,2478 375,2492 368,2494" fill="#000"/>
<rect x="822" y="1988" width="54" height="50" fill="#fff"/><text x="847" y="2023" font-size="39" text-anchor="middle">(d)</text>
<g font-size="40" text-anchor="end">
<text x="130" y="1371.6">0</text>
<text x="130" y="1283.7">10</text>
<text x="130" y="1195.7">20</text>
<text x="130" y="1107.8">30</text>
<text x="130" y="1019.9">40</text>
<text x="130" y="931.9">50</text>
<text x="130" y="844">60</text>
<text x="130" y="1987.1">0</text>
<text x="130" y="1899.2">10</text>
<text x="130" y="1811.2">20</text>
<text x="130" y="1723.3">30</text>
<text x="130" y="1635.4">40</text>
<text x="130" y="1547.5">50</text>
<text x="130" y="1459.5">60</text>
<text x="130" y="2602.6">0</text>
<text x="130" y="2514.7">10</text>
<text x="130" y="2426.7">20</text>
<text x="130" y="2338.8">30</text>
<text x="130" y="2250.9">40</text>
<text x="130" y="2163">50</text>
<text x="130" y="2075">60</text>
<text x="130" y="757.8">70</text>
</g>
<g font-size="40" text-anchor="middle">
<text x="171.6" y="2634.5">2</text>
<text x="322.6" y="2634.5">3</text>
<text x="473.6" y="2634.5">4</text>
<text x="624.6" y="2634.5">5</text>
<text x="775.6" y="2634.5">6</text>
<text x="727.6" y="2634.5" font-size="35">T</text><text x="746.5" y="2644.6" font-size="22">N</text>
<text x="514" y="2685" font-size="38">T (K)</text>
</g>
<text transform="translate(52 1037) rotate(-90)" font-size="39.5" text-anchor="middle">H (kOe)</text>
<text transform="translate(52 1652.5) rotate(-90)" font-size="39.5" text-anchor="middle">H (kOe)</text>
<text transform="translate(52 2268) rotate(-90)" font-size="39.5" text-anchor="middle">H (kOe)</text>
<text x="782" y="1484" font-size="40"><tspan font-family="Liberation Serif, serif" font-size="42">Δρ/ρ</tspan><tspan dy="10" font-size="25">0</tspan><tspan dy="-10">:</tspan></text>
<text x="782" y="1697" font-size="39">C(H,T):</text>
<text x="782" y="1845" font-size="39">M(H,T):</text>
<rect x="813.5" y="1521.5" width="25" height="25" fill="#fff" stroke="#000" stroke-width="2.6"/>
<circle cx="917" cy="1534" r="15" fill="#fff" stroke="#2aa198" stroke-width="2.6"/>
<polygon points="809.5,1573.5 842.5,1573.5 826,1602.5" fill="#fff" stroke="#ff20ff" stroke-width="2.6" stroke-linejoin="miter"/>
<polygon points="900.5,1595.5 933.5,1595.5 917,1566.5" fill="#fff" stroke="#3040c0" stroke-width="2.6" stroke-linejoin="miter"/>
<polygon points="809.5,1621.5 842.5,1621.5 826,1650.5" fill="#fff" stroke="#7a2a8c" stroke-width="2.6" stroke-linejoin="miter"/>
<circle cx="917" cy="1633" r="15" fill="#fff" stroke="#222" stroke-width="2.6"/>
<rect x="812.5" y="1717.5" width="27" height="27" fill="#ff0000" stroke="none" stroke-width="0"/>
<circle cx="917" cy="1731" r="16" fill="#ff0000" stroke="none" stroke-width="0"/>
<polygon points="807.5,1770 844.5,1770 826,1802" fill="#ff0000" stroke="none" stroke-width="0" stroke-linejoin="miter"/>
<polygon points="897,1782 917,1762 937,1782 917,1802" fill="#f00" stroke="none" stroke-width="0"/>
<rect x="812.5" y="1867.5" width="27" height="27" fill="#0000ff" stroke="none" stroke-width="0"/>
<circle cx="917" cy="1881" r="16" fill="#0000ff" stroke="none" stroke-width="0"/>
<polygon points="807.5,1920 844.5,1920 826,1952" fill="#0000ff" stroke="none" stroke-width="0" stroke-linejoin="miter"/>
<polygon points="898.5,1943 935.5,1943 917,1911" fill="#0000ff" stroke="none" stroke-width="0" stroke-linejoin="miter"/>
</g>
<g font-family='"Liberation Sans", Arial, sans-serif'><defs><radialGradient id="abg" cx="0.4" cy="0.35" r="0.7"><stop offset="0" stop-color="#f0604a"/><stop offset="0.55" stop-color="#c8301e"/><stop offset="1" stop-color="#7a1408"/></radialGradient><radialGradient id="asg" cx="0.42" cy="0.36" r="0.7"><stop offset="0" stop-color="#7a30c4"/><stop offset="0.5" stop-color="#4e0e9a"/><stop offset="1" stop-color="#24034c"/></radialGradient><g id="aph"><polygon points="18.4,-40.7 30,-27.4 51.4,-3 31.3,-6.4" fill="#d39a94"/><polygon points="-48.4,17.1 -19.3,3.4 14.1,42 -27.4,38.6" fill="#7c3548"/><polygon points="-30.8,-30.8 -19.3,3.4 -48.4,17.1" fill="#c4705f"/><polygon points="31.3,-6.4 51.4,-3 14.1,42" fill="#ad8c9c"/><polygon points="-19.3,3.4 31.3,-6.4 14.1,42" fill="#c6a0ae"/><polygon points="-30.8,-30.8 18.4,-40.7 31.3,-6.4 -19.3,3.4" fill="#e9977f"/><circle cx="18.4" cy="-40.7" r="6" fill="url(#abg)"/><circle cx="51.4" cy="-3" r="6" fill="url(#abg)"/><circle cx="-30.8" cy="-30.8" r="6" fill="url(#abg)"/><circle cx="-48.4" cy="17.1" r="6" fill="url(#abg)"/><circle cx="31.3" cy="-6.4" r="6" fill="url(#abg)"/><circle cx="-19.3" cy="3.4" r="6" fill="url(#abg)"/><circle cx="14.1" cy="42" r="6" fill="url(#abg)"/></g><g id="aph2"><polygon points="17.4,-48.3 33,-36 49.9,-7.6 38.2,-22" fill="#d39a94"/><polygon points="-55,10.7 -21.4,-12.9 16.8,35.2 -18.4,52" fill="#884058"/><polygon points="-34.3,-40.7 -21.4,-12.9 -55,10.7" fill="#c4705f"/><polygon points="38.2,-22 49.9,-7.6 32.1,41.3 16.8,35.2" fill="#ad8c9c"/><polygon points="-21.4,-12.9 38.2,-22 16.8,35.2" fill="#c6a0ae"/><polygon points="-34.3,-40.7 17.4,-48.3 38.2,-22 -21.4,-12.9" fill="#e9977f"/><circle cx="17.4" cy="-48.3" r="6" fill="url(#abg)"/><circle cx="49.9" cy="-7.6" r="6" fill="url(#abg)"/><circle cx="-34.3" cy="-40.7" r="6" fill="url(#abg)"/><circle cx="-55" cy="10.7" r="6" fill="url(#abg)"/><circle cx="38.2" cy="-22" r="6" fill="url(#abg)"/><circle cx="-21.4" cy="-12.9" r="6" fill="url(#abg)"/><circle cx="-18.4" cy="52" r="6" fill="url(#abg)"/><circle cx="32.1" cy="41.3" r="6" fill="url(#abg)"/><circle cx="16.8" cy="35.2" r="6" fill="url(#abg)"/></g><g id="ahl"><circle r="10.5" fill="#8cff30"/><circle r="8.8" fill="#ffe600"/><circle r="7.2" fill="#ff2000"/></g></defs><g stroke="#000" stroke-width="3" fill="none"><path d="M115 352L137 490L320.7 572.6L513.5 658.2L517.5 526M513.5 658.2L612 502.2L702.3 358.4L719.5 219.5M320.7 572.6L311.5 435M137 490L190 425M612 502.2L622.8 363M702.3 358.4L640 335M612 502.2L560 478"/></g><use href="#aph2" transform="translate(189 447) scale(0.95)"/><use href="#aph2" transform="translate(723.8 290.8) scale(0.95)"/><use href="#aph2" transform="translate(674.8 431.7) scale(0.95)"/><use href="#aph2" transform="translate(625.8 437.8) scale(0.98)"/><use href="#aph2" transform="translate(439 468) scale(0.95)"/><circle cx="664" cy="360" r="15.5" fill="url(#asg)"/><circle cx="702.3" cy="358.4" r="15.5" fill="url(#asg)"/><circle cx="219.7" cy="465.5" r="15.5" fill="url(#asg)"/><circle cx="284" cy="454.8" r="15.5" fill="url(#asg)"/><circle cx="567.7" cy="511.4" r="15.5" fill="url(#asg)"/><circle cx="612" cy="502.2" r="15.5" fill="url(#asg)"/><use href="#aph2" transform="translate(121.8 428.6) scale(1.00)"/><use href="#aph2" transform="translate(311.5 517.4) scale(1.00)"/><use href="#aph2" transform="translate(576.9 584.7) scale(1.00)"/><circle cx="137.1" cy="490" r="15.5" fill="url(#asg)"/><circle cx="415.6" cy="551.1" r="15.5" fill="url(#asg)"/><circle cx="467.6" cy="535.8" r="15.5" fill="url(#asg)"/><use href="#aph2" transform="translate(222.8 535.7) scale(1.00)"/><use href="#aph2" transform="translate(436 621) scale(0.98)"/><circle cx="320.7" cy="572.6" r="15.5" fill="url(#asg)"/><use href="#aph2" transform="translate(518.7 600) scale(1.02)"/><use href="#aph2" transform="translate(412.5 621.4) scale(1.02)"/><circle cx="513.5" cy="658.2" r="15.5" fill="url(#asg)"/><defs><clipPath id="apl"><polygon points="115.1,352.2 517.5,526 719.5,219.5 343.6,75.2"/></clipPath><filter id="abl" x="-5%" y="-5%" width="110%" height="110%"><feGaussianBlur stdDeviation="2.2"/></filter></defs><g clip-path="url(#apl)"><g filter="url(#abl)"><polygon points="83.4,359.2 527.6,552.3 748.3,213.2 336.1,55.8" fill="#19dcc8"/><polygon points="489.5,545.6 554.4,530 545.1,506.6 480.7,522" fill="#48ff8c" opacity="0.75"/><polygon points="282.7,455.4 658.6,368.9 649.1,347.8 275.5,433.1" fill="#48ff8c" opacity="0.75"/><polygon points="86.2,369.8 753.1,222.8 743.5,203.6 80.5,348.6" fill="#48ff8c" opacity="0.75"/><polygon points="207.8,223.2 559.8,148.8 551.6,130.5 201.6,204" fill="#48ff8c" opacity="0.75"/><polygon points="318.5,89.8 375.4,78.2 368.4,60.8 311.9,72.2" fill="#48ff8c" opacity="0.75"/><g fill="#18a8f0"><polygon points="171.2,279.1 165.2,271.8 152.9,266.8 135.3,264.4 114.2,265 91.7,268.5 69.7,274.5 50.5,282.5 35.9,291.8 27.5,301.3 26,310.3 31.7,317.8 44.1,323 61.9,325.5 83.4,324.8 106.4,321.2 128.6,315 147.8,306.8 162.1,297.5 170.1,288"/><polygon points="285.5,140.7 279.6,134.1 267.6,129.5 250.8,127.3 230.7,127.8 209.3,131 188.5,136.5 170.5,143.7 157,152.2 149.3,160.9 148.2,169.1 153.9,175.9 165.9,180.7 183,182.9 203.5,182.3 225.3,179.1 246.2,173.4 264.2,166 277.5,157.5 284.8,148.8"/><polygon points="389.9,14.4 384,8.3 372.4,4.1 356.2,2.1 337,2.5 316.7,5.4 297.1,10.4 280.1,17.1 267.5,24.8 260.4,32.8 259.6,40.2 265.4,46.5 277,50.8 293.4,52.9 312.9,52.4 333.7,49.4 353.5,44.3 370.4,37.5 382.8,29.7 389.5,21.8"/><polygon points="206.6,395.2 200.3,387.3 187.4,381.9 169.2,379.4 147.3,380 123.9,383.8 101.2,390.3 81.4,398.9 66.4,408.9 57.7,419.2 56.3,428.9 62.3,436.9 75.2,442.6 93.7,445.2 116,444.5 139.9,440.6 162.8,433.9 182.6,425.1 197.3,415 205.6,404.7"/><polygon points="323.3,246.4 317.1,239.3 304.6,234.3 287.2,232 266.4,232.6 244.2,236 222.8,241.9 204.3,249.7 190.3,258.7 182.4,268.1 181.4,276.9 187.4,284.2 199.9,289.3 217.6,291.7 238.9,291.1 261.4,287.6 283,281.5 301.6,273.5 315.2,264.4 322.7,255.1"/><polygon points="429.6,111 423.4,104.5 411.3,100 394.6,97.9 374.7,98.4 353.7,101.4 333.5,106.8 316.1,113.9 303.1,122.2 295.9,130.7 295.2,138.7 301.2,145.4 313.3,150.1 330.3,152.2 350.5,151.7 371.9,148.5 392.3,143 409.7,135.7 422.4,127.4 429.3,118.9"/><polygon points="363.9,359.9 357.3,352.2 344.3,346.9 326.2,344.5 304.7,345.1 281.8,348.7 259.7,355.1 240.5,363.5 226.2,373.3 218.1,383.3 217.2,392.8 223.5,400.7 236.5,406.2 254.9,408.7 276.9,408.1 300.3,404.3 322.6,397.7 341.7,389.1 355.8,379.3 363.4,369.2"/><polygon points="472,214.4 465.5,207.4 452.9,202.6 435.6,200.4 415.1,200.9 393.4,204.2 372.5,210 354.6,217.6 341.2,226.5 333.9,235.7 333.3,244.2 339.6,251.4 352.2,256.4 369.8,258.7 390.7,258.1 412.8,254.7 433.9,248.8 451.8,241 464.9,232 471.8,222.9"/><polygon points="570.5,81.9 564.1,75.5 551.9,71.1 535.3,69 515.7,69.5 495.1,72.5 475.4,77.8 458.5,84.8 446,92.8 439.3,101.2 439,109 445.3,115.6 457.5,120.1 474.4,122.3 494.3,121.8 515.3,118.6 535.2,113.2 552.1,106.1 564.3,98 570.6,89.6"/><polygon points="407.6,482.1 400.7,473.8 387.1,468.1 368.3,465.5 345.9,466.2 322.2,470.1 299.3,477 279.6,486.1 264.8,496.6 256.5,507.5 255.7,517.7 262.3,526.2 275.9,532.1 295.1,534.9 317.9,534.1 342.1,530 365.2,522.9 385,513.6 399.4,503 407.2,492.1"/><polygon points="517.6,325.4 510.7,317.9 497.6,312.7 479.6,310.3 458.4,310.9 435.9,314.5 414.4,320.7 395.9,328.9 382.2,338.5 374.7,348.3 374.2,357.6 380.9,365.3 394,370.6 412.3,373.1 434,372.5 456.8,368.8 478.6,362.4 497.1,354 510.5,344.4 517.5,334.5"/><polygon points="617.4,183.2 610.6,176.3 598,171.6 580.7,169.4 560.5,169.9 539.2,173.2 518.9,178.8 501.5,186.3 488.8,194.9 482,203.9 481.8,212.3 488.4,219.3 501,224.2 518.6,226.5 539.2,225.9 560.9,222.6 581.4,216.8 598.7,209.1 611.2,200.4 617.6,191.5"/><polygon points="566.6,444.8 559.3,436.8 545.7,431.2 526.9,428.6 504.9,429.3 481.7,433.1 459.4,439.8 440.4,448.7 426.3,459 418.7,469.6 418.3,479.6 425.3,487.9 439,493.7 458,496.4 480.6,495.6 504.2,491.6 526.7,484.7 545.8,475.6 559.5,465.3 566.6,454.7"/><polygon points="667.7,291.8 660.5,284.4 647.4,279.3 629.5,277 608.5,277.6 586.5,281.1 565.6,287.1 547.7,295.2 534.6,304.5 527.7,314.1 527.7,323.2 534.6,330.7 547.8,335.9 566,338.4 587.4,337.7 609.8,334.1 631,327.9 648.8,319.6 661.6,310.3 668,300.7"/><polygon points="759.6,152.6 752.6,145.9 739.9,141.3 722.7,139.1 702.7,139.6 681.8,142.8 662,148.3 645.2,155.6 633,164.1 626.7,172.9 627,181.1 633.8,188 646.5,192.8 664,195 684.3,194.4 705.6,191.2 725.6,185.5 742.4,178 754.3,169.5 760.2,160.7"/><polygon points="619.4,573.7 611.8,565 597.5,558.9 578,556.2 555.1,556.9 531,561.1 508,568.3 488.4,578 473.9,589.1 466.1,600.6 465.9,611.4 473.3,620.3 487.6,626.6 507.5,629.5 530.9,628.7 555.4,624.3 578.7,616.8 598.3,607 612.4,595.8 619.7,584.3"/><polygon points="721.7,408.5 714.2,400.6 700.5,395.1 681.8,392.6 660.1,393.3 637.4,397 615.7,403.6 597.3,412.2 583.9,422.3 576.9,432.7 577,442.4 584.3,450.5 598.1,456.2 617,458.8 639.2,458.1 662.4,454.2 684.3,447.4 702.6,438.5 715.7,428.4 722.3,418.1"/><polygon points="814.4,258.9 807,251.7 793.7,246.7 775.9,244.4 755.3,245 733.7,248.4 713.3,254.3 696,262.2 683.5,271.3 677.2,280.7 677.5,289.5 684.7,296.9 698,302 716.1,304.4 737.2,303.8 759.2,300.3 779.8,294.2 797,286.1 809.2,277 815.1,267.6"/></g><g fill="#1048e8"><polygon points="158.1,281.9 153.3,276.2 143.3,272.3 128.9,270.5 111.7,271.1 93.2,274 75.2,278.9 59.5,285.3 47.5,292.7 40.6,300.4 39.3,307.5 43.9,313.3 54,317.3 68.5,319.1 86.1,318.5 104.8,315.6 123,310.5 138.7,304 150.5,296.5 157.1,288.9"/><polygon points="273.2,143.3 268.4,138 258.7,134.5 244.9,132.9 228.5,133.4 210.9,136 194,140.5 179.2,146.3 168.1,153.1 161.7,160 160.8,166.5 165.4,171.8 175.2,175.5 189.1,177.1 205.8,176.6 223.6,173.9 240.7,169.3 255.4,163.4 266.4,156.6 272.5,149.7"/><polygon points="378.2,16.7 373.4,11.9 364,8.6 350.8,7.2 335.1,7.6 318.5,10 302.4,14.1 288.5,19.5 278.1,25.6 272.3,32 271.6,37.9 276.2,42.8 285.7,46.1 299,47.6 314.9,47.1 331.8,44.7 348,40.5 361.9,35.1 372.2,28.9 377.7,22.6"/><polygon points="193,398.2 188,392 177.5,387.8 162.6,385.9 144.8,386.6 125.6,389.7 107,395 90.7,402 78.4,409.9 71.3,418.2 70.1,425.8 74.9,432.1 85.4,436.4 100.5,438.4 118.7,437.7 138.1,434.5 156.9,429 173.2,422 185.3,413.9 192.1,405.8"/><polygon points="310.5,249.1 305.5,243.5 295.4,239.7 281.2,238 264.2,238.6 246,241.4 228.5,246.2 213.3,252.5 201.8,259.7 195.3,267.2 194.4,274.1 199.3,279.8 209.4,283.8 223.9,285.5 241.2,284.9 259.6,282 277.2,277.1 292.4,270.7 303.7,263.4 309.9,256"/><polygon points="417.5,113.5 412.5,108.4 402.7,104.9 389,103.3 372.8,103.8 355.6,106.4 339.1,110.7 324.7,116.5 314.1,123.1 308.1,129.9 307.5,136.2 312.4,141.4 322.2,145 336,146.6 352.5,146.1 369.9,143.5 386.6,139 400.9,133.2 411.4,126.5 417.1,119.7"/><polygon points="350.7,362.9 345.4,356.8 334.9,352.7 320.1,350.9 302.5,351.5 283.7,354.5 265.6,359.7 249.9,366.5 238.1,374.3 231.5,382.3 230.6,389.8 235.7,395.9 246.3,400.2 261.3,402.1 279.2,401.4 298.3,398.3 316.5,393 332.2,386.1 343.8,378.2 350.1,370.2"/><polygon points="459.5,217.1 454.3,211.6 444.1,207.9 430,206.2 413.2,206.7 395.4,209.5 378.3,214.2 363.6,220.4 352.6,227.4 346.6,234.7 346,241.5 351.1,247.1 361.3,251 375.7,252.7 392.7,252.1 410.8,249.3 428,244.5 442.7,238.2 453.5,231.1 459.2,223.8"/><polygon points="558.7,84.4 553.5,79.3 543.7,75.9 530.1,74.3 514.1,74.8 497.2,77.4 481,81.6 467.2,87.3 456.9,93.7 451.4,100.4 451.1,106.6 456.1,111.7 466,115.2 479.8,116.8 496,116.3 513.1,113.7 529.4,109.3 543.3,103.6 553.3,97.1 558.6,90.5"/><polygon points="393.9,485.3 388.4,478.8 377.4,474.4 362,472.4 343.7,473.1 324.3,476.4 305.5,482 289.3,489.3 277.2,497.7 270.4,506.4 269.6,514.4 275,521.1 286,525.7 301.6,527.7 320.2,527 340,523.6 358.9,517.8 375.1,510.4 387,501.9 393.5,493.3"/><polygon points="504.7,328.3 499.2,322.4 488.6,318.4 473.9,316.6 456.5,317.2 438.1,320.2 420.5,325.2 405.3,331.9 394,339.5 387.9,347.3 387.4,354.6 392.7,360.6 403.4,364.8 418.3,366.6 435.9,366 454.6,362.9 472.4,357.8 487.5,351 498.6,343.3 504.5,335.5"/><polygon points="605.2,185.8 599.8,180.4 589.5,176.7 575.5,175.1 558.9,175.6 541.5,178.3 524.8,182.9 510.5,189 500.1,195.9 494.4,203 494.2,209.6 499.5,215.1 509.8,218.9 524,220.6 540.9,220 558.5,217.3 575.3,212.6 589.6,206.4 599.9,199.5 605.2,192.4"/><polygon points="553.2,448 547.4,441.6 536.4,437.3 521.1,435.4 503.1,436 484,439.2 465.8,444.7 450.1,451.9 438.6,460.1 432.3,468.5 431.9,476.4 437.6,482.9 448.7,487.4 464.2,489.3 482.5,488.6 501.8,485.3 520.2,479.7 535.8,472.4 547.2,464.2 553.1,455.7"/><polygon points="655.1,294.6 649.4,288.8 638.7,284.9 624.1,283.1 607,283.7 588.9,286.6 571.8,291.5 557.1,298 546.3,305.5 540.6,313.1 540.5,320.3 546.1,326.2 556.8,330.2 571.6,332 589,331.4 607.3,328.4 624.6,323.4 639.2,316.8 649.8,309.3 655.2,301.6"/><polygon points="747.6,155.2 742,149.9 731.7,146.3 717.7,144.7 701.4,145.2 684.3,147.9 668.1,152.3 654.3,158.3 644.2,165 639,172 639.1,178.5 644.6,183.9 654.9,187.6 669.1,189.2 685.7,188.7 703,186 719.4,181.4 733.2,175.4 743,168.5 748,161.6"/><polygon points="605.6,577.1 599.5,570.2 587.9,565.5 572,563.5 553.3,564.2 533.6,567.7 514.7,573.6 498.6,581.4 486.7,590.2 480.3,599.4 480,607.9 486,614.9 497.6,619.7 513.7,621.9 532.8,621.1 552.8,617.5 571.8,611.4 588,603.5 599.6,594.6 605.7,585.5"/><polygon points="708.7,411.5 702.7,405.3 691.5,401.1 676.4,399.2 658.6,399.9 640,403 622.2,408.3 607.1,415.3 596.1,423.3 590.3,431.6 590.3,439.3 596.2,445.6 607.4,450 622.7,451.9 640.8,451.2 659.7,448 677.6,442.6 692.7,435.4 703.5,427.4 709,419.1"/><polygon points="802,261.6 796.1,256 785.4,252.1 770.9,250.4 754,251 736.3,253.8 719.6,258.6 705.4,265 695.2,272.3 689.9,279.7 690.1,286.7 695.9,292.5 706.6,296.4 721.3,298.2 738.5,297.6 756.4,294.7 773.3,289.8 787.5,283.3 797.5,276 802.5,268.5"/></g><g fill="#0a1cc4"><polygon points="145,284.7 141.4,280.4 133.6,277.5 122.4,276.2 109,276.8 94.6,279 80.6,282.8 68.3,287.8 59,293.5 53.6,299.2 52.6,304.6 56.2,309 64,312 75.2,313.3 88.8,312.7 103.4,310.4 117.5,306.5 129.7,301.5 138.9,295.8 144.2,290"/><polygon points="260.8,145.8 257.1,141.9 249.6,139.2 238.9,138.1 226.1,138.6 212.5,140.6 199.2,144.1 187.7,148.6 179.1,153.7 174.1,159 173.4,163.9 176.9,167.9 184.5,170.6 195.2,171.8 208.2,171.3 222,169.2 235.3,165.7 246.8,161.1 255.4,155.9 260.2,150.7"/><polygon points="366.4,19.1 362.8,15.4 355.5,13 345.3,11.9 333.1,12.4 320.1,14.2 307.6,17.4 296.7,21.5 288.6,26.2 284.1,31 283.5,35.5 287.1,39.2 294.4,41.7 304.7,42.7 317,42.3 330.2,40.4 342.8,37.2 353.6,33 361.6,28.3 366,23.5"/><polygon points="179.5,401.3 175.6,396.6 167.5,393.5 156,392.1 142.1,392.7 127.1,395.2 112.6,399.3 100,404.6 90.4,410.7 84.8,416.9 83.8,422.7 87.6,427.4 95.7,430.6 107.4,432 121.5,431.4 136.6,428.9 151.2,424.7 163.8,419.3 173.3,413.2 178.7,407"/><polygon points="297.7,251.9 293.9,247.7 286.1,244.8 275,243.6 261.8,244.1 247.7,246.3 234,250 222.1,254.9 213.2,260.4 208.2,266.1 207.4,271.3 211.2,275.6 219,278.5 230.2,279.8 243.6,279.2 257.9,277 271.6,273.2 283.5,268.3 292.3,262.7 297.2,257.1"/><polygon points="405.3,116 401.5,112.1 394,109.5 383.4,108.4 370.8,108.9 357.4,110.9 344.5,114.3 333.3,118.7 325,123.7 320.3,128.9 319.8,133.6 323.6,137.6 331.1,140.2 341.8,141.4 354.6,140.9 368.2,138.8 381.1,135.4 392.3,130.9 400.5,125.9 405,120.7"/><polygon points="337.5,365.8 333.4,361.3 325.3,358.2 313.8,356.9 300.1,357.5 285.5,359.9 271.4,363.9 259.1,369.1 249.9,375 244.7,381.1 244.1,386.8 248,391.4 256.2,394.5 267.8,395.9 281.7,395.3 296.4,392.8 310.7,388.7 322.9,383.5 331.9,377.5 336.9,371.4"/><polygon points="447,219.8 443,215.7 435.1,212.9 424.2,211.7 411.1,212.2 397.3,214.3 384,218 372.5,222.7 363.9,228.1 359.2,233.7 358.8,238.8 362.7,243 370.5,245.8 381.6,247.1 394.8,246.5 408.8,244.3 422.2,240.6 433.7,235.8 442.1,230.4 446.7,224.9"/><polygon points="546.8,86.8 542.9,83 535.3,80.5 524.7,79.3 512.3,79.8 499.1,81.8 486.5,85.1 475.7,89.4 467.7,94.3 463.4,99.4 463.1,104.1 467,107.9 474.6,110.5 485.3,111.7 497.9,111.2 511.1,109.2 523.8,105.8 534.6,101.4 542.5,96.5 546.7,91.4"/><polygon points="380.2,488.5 376,483.6 367.5,480.3 355.5,478.9 341.3,479.5 326.2,482.1 311.6,486.4 298.9,492.1 289.5,498.5 284.2,505.1 283.5,511.2 287.7,516.2 296.2,519.5 308.3,521 322.7,520.3 338,517.7 352.7,513.3 365.3,507.5 374.7,501.1 379.8,494.5"/><polygon points="491.7,331.2 487.5,326.8 479.3,323.8 467.9,322.5 454.4,323 440.1,325.4 426.4,329.3 414.5,334.4 405.8,340.2 400.9,346.2 400.5,351.7 404.6,356.2 412.9,359.3 424.4,360.6 438.1,360 452.5,357.6 466.4,353.6 478.2,348.4 486.8,342.6 491.5,336.7"/><polygon points="592.9,188.4 588.8,184.4 580.9,181.6 570,180.5 557.1,180.9 543.5,183.1 530.6,186.6 519.4,191.3 511.3,196.6 506.9,202 506.7,207 510.7,211.1 518.7,213.9 529.7,215.1 542.7,214.6 556.4,212.4 569.5,208.8 580.6,204.1 588.6,198.8 592.9,193.4"/><polygon points="539.9,451.1 535.4,446.3 526.9,443.1 515,441.7 501,442.3 486.2,444.8 472,449.1 459.8,454.6 450.8,460.9 445.8,467.3 445.5,473.2 449.8,478.1 458.4,481.4 470.4,482.8 484.6,482.2 499.6,479.6 513.9,475.3 526.1,469.7 535,463.4 539.7,457"/><polygon points="642.4,297.4 638.1,293.1 629.8,290.1 618.5,288.9 605.2,289.4 591.2,291.7 577.8,295.5 566.3,300.5 558,306.2 553.5,312 553.3,317.4 557.6,321.8 565.9,324.8 577.3,326.1 590.8,325.5 605,323.2 618.5,319.3 629.9,314.3 638.2,308.5 642.5,302.7"/><polygon points="735.7,157.7 731.4,153.8 723.4,151.1 712.6,149.9 699.9,150.4 686.6,152.5 673.9,156 663.2,160.5 655.3,165.7 651.2,171 651.3,175.9 655.5,179.9 663.5,182.6 674.4,183.8 687.2,183.3 700.7,181.2 713.4,177.7 724.2,173.1 731.9,167.9 735.8,162.6"/><polygon points="591.8,580.5 587.1,575.3 578.2,571.8 565.8,570.3 551.3,571 535.9,573.7 521.2,578.3 508.6,584.3 499.3,591.1 494.3,598 494.1,604.4 498.7,609.7 507.6,613.3 520.1,614.8 534.9,614.1 550.4,611.3 565.2,606.6 577.8,600.6 586.9,593.8 591.7,586.8"/><polygon points="695.7,414.6 691.1,409.9 682.5,406.8 670.7,405.4 656.9,406 642.4,408.5 628.6,412.6 616.8,418 608.2,424.1 603.6,430.4 603.6,436.2 608.1,440.9 616.7,444.2 628.6,445.5 642.6,444.9 657.3,442.4 671.2,438.2 682.9,432.7 691.4,426.6 695.8,420.3"/><polygon points="789.7,264.4 785.2,260.1 776.9,257.3 765.7,256 752.5,256.5 738.8,258.8 725.7,262.5 714.7,267.4 706.7,273 702.5,278.6 702.6,283.9 707.1,288.2 715.4,291.2 726.7,292.4 740,291.9 753.9,289.6 767,285.8 778.1,280.9 786,275.3 790,269.6"/></g><g fill="#7dff38"><polygon points="167.5,340.7 161.4,334.3 148.3,330.7 130.2,330.3 109.8,333.2 90.1,339.1 74.2,346.9 64.4,355.6 62.3,363.8 68.3,370.3 81.5,374 99.8,374.4 120.5,371.4 140.3,365.5 156.1,357.5 165.7,348.8"/><polygon points="284.2,196.8 278.1,191 265.5,187.7 248.3,187.4 228.9,190 210.4,195.3 195.5,202.4 186.5,210.3 184.8,217.8 190.7,223.7 203.4,227.1 220.9,227.4 240.5,224.7 259.1,219.3 273.9,212.1 282.7,204.2"/><polygon points="390.5,65.7 384.5,60.4 372.4,57.4 355.9,57 337.5,59.4 320,64.2 306,70.7 297.7,77.9 296.3,84.8 302.2,90.2 314.4,93.3 331.1,93.6 349.8,91.1 367.4,86.2 381.3,79.7 389.4,72.5"/><polygon points="322.7,306.6 316.3,300.4 303.2,296.9 285.3,296.5 265.3,299.3 246.2,305 230.8,312.7 221.6,321.2 219.9,329.2 226.1,335.5 239.3,339.2 257.5,339.6 277.7,336.6 297,330.8 312.3,323.1 321.3,314.6"/><polygon points="430.9,165.9 424.7,160.2 412.1,157 395,156.6 376,159.2 358,164.4 343.6,171.3 335.1,179.1 333.8,186.4 339.9,192.2 352.6,195.5 369.9,195.9 389.1,193.2 407.3,187.9 421.6,180.9 429.9,173.2"/><polygon points="364,424.7 357.4,418 343.7,414.2 325.2,413.8 304.5,416.9 284.7,423 268.9,431.3 259.4,440.4 257.7,449.1 264.3,455.9 278,459.8 296.8,460.2 317.8,457.1 337.7,450.8 353.5,442.5 362.7,433.3"/><polygon points="474.3,273.3 467.7,267.3 454.6,263.8 436.9,263.4 417.3,266.2 398.7,271.7 383.9,279.2 375.1,287.5 373.9,295.4 380.3,301.6 393.5,305.1 411.5,305.5 431.3,302.7 450.1,297 464.8,289.4 473.3,281.1"/><polygon points="574.5,135.7 568,130.1 555.4,126.9 538.5,126.6 519.9,129.1 502.3,134.2 488.4,141 480.4,148.5 479.4,155.7 485.8,161.4 498.5,164.6 515.6,165 534.5,162.4 552.2,157.2 566,150.3 573.8,142.8"/><polygon points="520.8,388.8 513.9,382.2 500.3,378.5 481.9,378.1 461.6,381.1 442.4,387.1 427.2,395.2 418.2,404.1 417,412.6 423.8,419.2 437.6,423.1 456.2,423.5 476.8,420.4 496.1,414.3 511.2,406.1 519.9,397.2"/><polygon points="622.4,240.8 615.7,234.9 602.5,231.5 585,231.1 565.8,233.8 547.7,239.2 533.4,246.6 525.2,254.7 524.3,262.4 531,268.4 544.2,271.9 561.9,272.3 581.4,269.5 599.7,263.9 613.8,256.5 621.8,248.4"/><polygon points="571,513.2 563.7,506.1 549.5,502.1 530.4,501.7 509.4,505 489.5,511.4 473.8,520.1 464.7,529.8 463.6,538.9 470.7,546.1 485.1,550.3 504.4,550.7 525.7,547.3 545.7,540.7 561.3,531.9 570.2,522.2"/><polygon points="673.9,353.7 666.8,347.3 653.1,343.6 635,343.3 615.1,346.2 596.4,352 581.7,359.9 573.3,368.7 572.6,376.9 579.6,383.4 593.3,387.2 611.7,387.6 631.9,384.6 650.7,378.6 665.3,370.6 673.4,361.9"/><polygon points="767.3,209 760.3,203.2 747.2,199.8 729.9,199.5 711,202.1 693.3,207.5 679.6,214.6 671.9,222.6 671.4,230.1 678.2,236 691.5,239.4 709,239.8 728.1,237.1 745.9,231.6 759.5,224.4 767,216.5"/></g><g fill="#ffe600"><polygon points="160.8,342.2 155.6,336.9 144.2,334 128.5,333.9 110.7,336.5 93.5,341.5 79.6,348.2 71,355.5 69.1,362.3 74.2,367.6 85.6,370.6 101.5,370.7 119.5,368 136.8,362.9 150.7,356.2 159.1,348.9"/><polygon points="277.9,198.2 272.7,193.4 261.8,190.8 246.8,190.6 229.9,193 213.7,197.5 200.7,203.6 192.7,210.2 191.2,216.4 196.3,221.2 207.2,223.9 222.4,224.1 239.5,221.7 255.7,217 268.7,210.9 276.5,204.3"/><polygon points="384.6,66.9 379.5,62.6 368.9,60.1 354.6,60 338.6,62.2 323.3,66.3 311,71.8 303.7,77.9 302.4,83.5 307.4,88 318,90.4 332.5,90.6 348.7,88.4 364.1,84.1 376.3,78.6 383.4,72.5"/><polygon points="316.1,308.1 310.7,303 299.4,300.1 283.8,300 266.4,302.5 249.7,307.4 236.2,313.9 228.1,321.1 226.5,327.7 231.9,332.9 243.3,335.8 259,336 276.6,333.3 293.4,328.4 306.8,321.8 314.8,314.7"/><polygon points="424.8,167.2 419.4,162.6 408.5,160 393.7,159.8 377.1,162.2 361.4,166.6 348.8,172.5 341.2,179 340,185.1 345.3,189.8 356.2,192.4 371.2,192.6 388,190.2 403.8,185.7 416.4,179.7 423.7,173.2"/><polygon points="357.3,426.3 351.6,420.8 339.8,417.7 323.7,417.6 305.6,420.3 288.3,425.6 274.5,432.6 266.1,440.3 264.6,447.5 270.2,453.1 282,456.2 298.4,456.4 316.7,453.5 334,448.2 347.8,441.1 356,433.4"/><polygon points="467.9,274.7 462.3,269.7 451,267 435.6,266.8 418.5,269.3 402.2,274.1 389.2,280.5 381.5,287.4 380.3,294 385.9,299 397.3,301.9 412.8,302 430.1,299.5 446.5,294.6 459.4,288.2 466.9,281.2"/><polygon points="568.5,137 563,132.4 552.1,129.9 537.4,129.7 521.1,132 505.8,136.3 493.6,142.1 486.5,148.5 485.5,154.4 491,159 501.9,161.6 516.8,161.8 533.2,159.5 548.6,155 560.8,149.2 567.7,142.8"/><polygon points="514.2,390.3 508.4,384.9 496.6,381.9 480.6,381.8 462.9,384.5 446.1,389.7 432.7,396.5 424.9,404 423.7,411 429.5,416.5 441.4,419.5 457.5,419.7 475.4,416.9 492.3,411.7 505.6,404.8 513.3,397.3"/><polygon points="616.2,242.2 610.4,237.3 599.1,234.6 583.9,234.4 567.1,236.9 551.3,241.6 538.8,247.8 531.5,254.6 530.6,261 536.3,265.9 547.7,268.7 563.1,268.8 580.1,266.3 596,261.6 608.4,255.3 615.5,248.5"/><polygon points="564.2,514.8 558,509 545.7,505.8 529.1,505.7 510.8,508.6 493.4,514.2 479.6,521.6 471.6,529.7 470.5,537.3 476.6,543.2 489,546.4 505.7,546.6 524.3,543.6 541.8,537.9 555.4,530.4 563.3,522.3"/><polygon points="667.5,355.2 661.4,349.9 649.6,347 633.9,346.9 616.5,349.5 600.2,354.5 587.3,361.2 579.9,368.6 579.1,375.4 585.1,380.8 596.9,383.7 612.9,383.9 630.4,381.2 646.8,376.1 659.6,369.3 666.9,362"/><polygon points="761.2,210.3 755.3,205.6 743.9,202.9 728.9,202.8 712.5,205.2 697,209.7 685,215.8 678.1,222.5 677.5,228.7 683.4,233.6 694.8,236.3 710,236.4 726.6,234 742.1,229.3 754.1,223.2 760.8,216.5"/></g><g fill="#ff1400"><polygon points="153,343.9 148.8,339.8 139.4,337.6 126.4,337.6 111.6,339.8 97.4,343.9 85.8,349.3 78.6,355.2 76.9,360.6 81.1,364.7 90.5,367 103.7,367 118.6,364.7 132.9,360.5 144.5,355.1 151.5,349.2"/><polygon points="270.5,199.7 266.3,196 257.3,194 244.9,194 230.9,196 217.5,199.7 206.6,204.6 200,209.9 198.6,214.9 202.8,218.6 211.8,220.7 224.3,220.7 238.4,218.6 251.9,214.8 262.8,209.9 269.3,204.6"/><polygon points="377.6,68.3 373.4,64.9 364.8,63.1 352.9,63.1 339.6,64.9 326.9,68.3 316.7,72.8 310.6,77.6 309.4,82.1 313.5,85.6 322.2,87.4 334.2,87.4 347.6,85.6 360.4,82.1 370.5,77.6 376.6,72.8"/><polygon points="308.5,309.7 304.1,305.7 294.8,303.6 281.9,303.6 267.5,305.8 253.6,309.8 242.4,315 235.6,320.8 234.2,326 238.6,330.1 248,332.3 261,332.3 275.6,330.1 289.5,326 300.6,320.7 307.3,315"/><polygon points="417.6,168.7 413.3,165.1 404.3,163.1 392,163.1 378.3,165.1 365.2,168.7 354.7,173.5 348.4,178.7 347.3,183.5 351.6,187.2 360.6,189.2 373,189.2 386.8,187.2 400,183.5 410.4,178.7 416.6,173.5"/><polygon points="349.4,428.1 344.8,423.8 335.1,421.4 321.7,421.5 306.8,423.8 292.4,428.2 280.9,433.8 273.9,440 272.5,445.7 277.1,450.1 286.9,452.4 300.4,452.4 315.5,450 329.9,445.6 341.4,439.9 348.3,433.7"/><polygon points="460.5,276.4 455.9,272.5 446.6,270.3 433.9,270.3 419.7,272.5 406.2,276.4 395.4,281.6 388.9,287.1 387.9,292.3 392.4,296.3 401.7,298.4 414.6,298.4 428.9,296.3 442.4,292.3 453.2,287.1 459.5,281.5"/><polygon points="561.4,138.4 557,134.9 548,132.9 535.9,132.9 522.4,134.9 509.6,138.4 499.5,143.1 493.5,148.2 492.7,152.9 497.1,156.5 506.1,158.5 518.3,158.5 531.9,156.5 544.7,152.9 554.8,148.2 560.7,143.1"/><polygon points="506.6,392.1 501.8,387.8 492.1,385.6 478.9,385.6 464.2,387.9 450.3,392.1 439.1,397.7 432.5,403.7 431.5,409.3 436.2,413.5 446,415.8 459.3,415.8 474.1,413.5 488.1,409.2 499.2,403.6 505.7,397.6"/><polygon points="609,243.8 604.3,239.9 595,237.9 582.4,237.9 568.5,240 555.3,243.8 544.9,248.8 538.8,254.3 538,259.4 542.6,263.2 552,265.3 564.7,265.3 578.7,263.2 591.9,259.3 602.3,254.3 608.3,248.8"/><polygon points="556.2,516.7 551.2,512.2 541.1,509.7 527.4,509.8 512.2,512.2 497.8,516.8 486.3,522.8 479.5,529.3 478.5,535.3 483.5,540 493.7,542.4 507.5,542.4 522.9,539.9 537.3,535.2 548.8,529.2 555.4,522.7"/><polygon points="660,356.9 655.1,352.8 645.4,350.5 632.4,350.6 618,352.8 604.4,356.9 593.7,362.4 587.4,368.2 586.7,373.7 591.5,377.9 601.3,380.1 614.4,380.1 628.9,377.8 642.6,373.6 653.3,368.2 659.4,362.3"/><polygon points="754.1,211.9 749.3,208.2 740,206.1 727.6,206.1 713.9,208.2 701.1,211.9 691,216.8 685.3,222.2 684.7,227.1 689.5,230.9 698.8,233 711.4,233 725.1,230.9 738,227.1 748,222.2 753.7,216.8"/></g></g><g stroke="#000" fill="none"><path d="M311.1 436.9L527.1 145.7M234.7 207.3L623.4 365.3" stroke-width="1.6"/></g></g><polygon points="115.1,352.2 517.5,526 719.5,219.5 343.6,75.2" fill="none" stroke="#000" stroke-width="3.2" stroke-linejoin="round"/><g clip-path="url(#apl)"><use href="#ahl" x="485.6" y="106.7"/><use href="#ahl" x="450.2" y="149.4"/><use href="#ahl" x="674.9" y="173.1"/><use href="#ahl" x="638.7" y="216.7"/><use href="#ahl" x="338.9" y="131.6"/><use href="#ahl" x="302.3" y="175.7"/><use href="#ahl" x="529.2" y="204.6"/><use href="#ahl" x="491.9" y="249.6"/><use href="#ahl" x="731" y="285.9"/><use href="#ahl" x="692.2" y="332.7"/><use href="#ahl" x="379.3" y="239"/><use href="#ahl" x="342" y="284"/><use href="#ahl" x="581.5" y="318.8"/><use href="#ahl" x="541.2" y="367.4"/><use href="#ahl" x="226.2" y="278.4"/><use href="#ahl" x="187.8" y="324.8"/><use href="#ahl" x="424" y="352.8"/><use href="#ahl" x="384.1" y="400.9"/><use href="#ahl" x="631.5" y="438.7"/><use href="#ahl" x="590.5" y="488.2"/><use href="#ahl" x="265.5" y="388.5"/><use href="#ahl" x="225.2" y="437.1"/><use href="#ahl" x="469" y="477"/><use href="#ahl" x="428" y="526.5"/></g><path d="M48 367.5L791 204" stroke="#10c41c" stroke-width="7" stroke-linecap="round"/><path d="M48 366.6L791 203.1" stroke="#22f22e" stroke-width="4.6" stroke-linecap="round"/><polygon points="786,191 831,195 790,214" fill="#14d422" stroke="#0a8a14" stroke-width="1.5"/><circle cx="343.6" cy="73.2" r="13.6" fill="url(#asg)"/><use href="#aph" transform="translate(436.8 109.5) scale(0.95)"/><use href="#aph" transform="translate(288.5 134.5) scale(0.98)"/><circle cx="527.1" cy="143.7" r="13.9" fill="url(#asg)"/><use href="#aph" transform="translate(625 176) scale(0.97)"/><circle cx="382.5" cy="174.1" r="14" fill="url(#asg)"/><use href="#aph" transform="translate(477.8 207.6) scale(1.00)"/><circle cx="234.7" cy="205.3" r="14.2" fill="url(#asg)"/><circle cx="719.5" cy="217.5" r="14.2" fill="url(#asg)"/><use href="#aph" transform="translate(327.9 242) scale(1.00)"/><circle cx="573.6" cy="249.5" r="14.4" fill="url(#asg)"/><use href="#aph" transform="translate(173.3 281.5) scale(1.03)"/><use href="#aph" transform="translate(677.5 289) scale(1.04)"/><circle cx="424.3" cy="282.3" r="14.5" fill="url(#asg)"/><use href="#aph" transform="translate(526 322) scale(1.08)"/><circle cx="271.5" cy="315.9" r="14.7" fill="url(#asg)"/><use href="#aph" transform="translate(369 356) scale(1.07)"/><circle cx="115.1" cy="350.2" r="14.8" fill="url(#asg)"/><circle cx="623.4" cy="363.3" r="14.9" fill="url(#asg)"/><use href="#aph" transform="translate(210 391.7) scale(1.08)"/><circle cx="469.1" cy="398.6" r="15" fill="url(#asg)"/><use href="#aph" transform="translate(575 442) scale(1.10)"/><circle cx="311.1" cy="434.9" r="15.2" fill="url(#asg)"/><use href="#aph" transform="translate(412.5 480.3) scale(1.10)"/><circle cx="517.5" cy="524" r="15.6" fill="url(#asg)"/><circle cx="722.2" cy="526.7" r="19" fill="url(#asg)"/><use href="#aph2" transform="translate(687 624.6) scale(1.00)"/><text x="778.8" y="542" font-size="39">R</text><text x="778.8" y="636.8" font-size="39">B</text><text x="805" y="647" font-size="25">12</text><text x="699.3" y="174.6" font-size="38.9">stripe direction</text><text x="859" y="89" font-size="39" text-anchor="middle">(a)</text></g>
<clipPath id="ce"><circle cx="1397.4" cy="381" r="289.5"/></clipPath><filter id="bl" x="-5%" y="-5%" width="110%" height="110%"><feGaussianBlur stdDeviation="2.2"/></filter><g clip-path="url(#ce)"><g filter="url(#bl)"><defs><radialGradient id="e0" gradientUnits="userSpaceOnUse" cx="1397.4" cy="381" r="289.5"><stop offset="0" stop-color="#5c0000"/><stop offset=".312" stop-color="#950000"/><stop offset=".423" stop-color="#f00"/><stop offset=".582" stop-color="#f00"/><stop offset=".6" stop-color="#f03c00"/><stop offset=".725" stop-color="#f7c800"/><stop offset=".787" stop-color="#f8df00"/><stop offset=".85" stop-color="#f8dc00"/><stop offset=".975" stop-color="#f03c00"/><stop offset=".984" stop-color="#f00"/><stop offset="1" stop-color="#f00"/></radialGradient><radialGradient id="e1" gradientUnits="userSpaceOnUse" cx="1397.4" cy="381" r="289.5"><stop offset="0" stop-color="#5c0000"/><stop offset=".312" stop-color="#960000"/><stop offset=".42" stop-color="#f00"/><stop offset=".581" stop-color="#f00"/><stop offset=".6" stop-color="#f03c00"/><stop offset=".725" stop-color="#f7c900"/><stop offset=".787" stop-color="#f8df00"/><stop offset=".851" stop-color="#f8dc00"/><stop offset=".975" stop-color="#f04100"/><stop offset=".987" stop-color="#f00"/><stop offset="1" stop-color="#f00"/></radialGradient><radialGradient id="e2" gradientUnits="userSpaceOnUse" cx="1397.4" cy="381" r="289.5"><stop offset="0" stop-color="#5c0000"/><stop offset=".312" stop-color="#970000"/><stop offset=".416" stop-color="#f00"/><stop offset=".581" stop-color="#f00"/><stop offset=".599" stop-color="#f03c00"/><stop offset=".704" stop-color="#f5a800"/><stop offset=".725" stop-color="#f7ca00"/><stop offset=".787" stop-color="#f8df00"/><stop offset=".855" stop-color="#f8dc00"/><stop offset=".975" stop-color="#f04e00"/><stop offset=".984" stop-color="#f03c00"/><stop offset=".995" stop-color="#f00"/><stop offset="1" stop-color="#f00"/></radialGradient><radialGradient id="e3" gradientUnits="userSpaceOnUse" cx="1397.4" cy="381" r="289.5"><stop offset="0" stop-color="#5c0000"/><stop offset=".312" stop-color="#980000"/><stop offset=".419" stop-color="#f00"/><stop offset=".576" stop-color="#f00"/><stop offset=".594" stop-color="#f03c00"/><stop offset=".738" stop-color="#f8d500"/><stop offset=".8" stop-color="#f7e000"/><stop offset=".864" stop-color="#f8dc00"/><stop offset=".975" stop-color="#f06000"/><stop offset="1" stop-color="#f42b00"/></radialGradient><radialGradient id="e4" gradientUnits="userSpaceOnUse" cx="1397.4" cy="381" r="289.5"><stop offset="0" stop-color="#5c0000"/><stop offset=".3" stop-color="#940000"/><stop offset=".418" stop-color="#f00"/><stop offset=".572" stop-color="#f00"/><stop offset=".591" stop-color="#f03c00"/><stop offset=".738" stop-color="#f8da00"/><stop offset=".8" stop-color="#f7e200"/><stop offset=".876" stop-color="#f8dc00"/><stop offset="1" stop-color="#f05400"/></radialGradient><radialGradient id="e5" gradientUnits="userSpaceOnUse" cx="1397.4" cy="381" r="289.5"><stop offset="0" stop-color="#5c0000"/><stop offset=".3" stop-color="#940000"/><stop offset=".416" stop-color="#f00"/><stop offset=".569" stop-color="#f00"/><stop offset=".587" stop-color="#f03c00"/><stop offset=".738" stop-color="#f8dd00"/><stop offset=".896" stop-color="#f8dc00"/><stop offset="1" stop-color="#f07600"/></radialGradient><radialGradient id="e6" gradientUnits="userSpaceOnUse" cx="1397.4" cy="381" r="289.5"><stop offset="0" stop-color="#5c0000"/><stop offset=".3" stop-color="#940000"/><stop offset=".325" stop-color="#b60000"/><stop offset=".415" stop-color="#f00"/><stop offset=".573" stop-color="#f00"/><stop offset=".585" stop-color="#f03c00"/><stop offset=".6" stop-color="#f05800"/><stop offset=".613" stop-color="#f05700"/><stop offset=".662" stop-color="#f28800"/><stop offset=".688" stop-color="#f6b700"/><stop offset=".7" stop-color="#f6b500"/><stop offset=".738" stop-color="#f8de00"/><stop offset=".925" stop-color="#f8dc00"/><stop offset="1" stop-color="#f39800"/></radialGradient><radialGradient id="e7" gradientUnits="userSpaceOnUse" cx="1397.4" cy="381" r="289.5"><stop offset="0" stop-color="#5c0000"/><stop offset=".3" stop-color="#950000"/><stop offset=".325" stop-color="#b90000"/><stop offset=".414" stop-color="#f00"/><stop offset=".571" stop-color="#f00"/><stop offset=".585" stop-color="#f03c00"/><stop offset=".6" stop-color="#f05500"/><stop offset=".662" stop-color="#f28c00"/><stop offset=".688" stop-color="#f6b800"/><stop offset=".725" stop-color="#f8dc00"/><stop offset=".875" stop-color="#f7e700"/><stop offset=".955" stop-color="#f8dc00"/><stop offset="1" stop-color="#f7c400"/></radialGradient><radialGradient id="e8" gradientUnits="userSpaceOnUse" cx="1397.4" cy="381" r="289.5"><stop offset="0" stop-color="#5c0000"/><stop offset=".3" stop-color="#950000"/><stop offset=".325" stop-color="#b00"/><stop offset=".413" stop-color="#f00"/><stop offset=".57" stop-color="#f00"/><stop offset=".584" stop-color="#f03c00"/><stop offset=".678" stop-color="#f5a800"/><stop offset=".7" stop-color="#f8d800"/><stop offset=".825" stop-color="#f6ea00"/><stop offset="1" stop-color="#f7e400"/></radialGradient><radialGradient id="e9" gradientUnits="userSpaceOnUse" cx="1397.4" cy="381" r="289.5"><stop offset="0" stop-color="#5c0000"/><stop offset=".3" stop-color="#960000"/><stop offset=".338" stop-color="#c90000"/><stop offset=".41" stop-color="#f00"/><stop offset=".568" stop-color="#f00"/><stop offset=".583" stop-color="#f03c00"/><stop offset=".613" stop-color="#f06a00"/><stop offset=".676" stop-color="#f5a800"/><stop offset=".703" stop-color="#f8dc00"/><stop offset=".838" stop-color="#f6f000"/><stop offset="1" stop-color="#f5f100"/></radialGradient><radialGradient id="e10" gradientUnits="userSpaceOnUse" cx="1397.4" cy="381" r="289.5"><stop offset="0" stop-color="#5c0000"/><stop offset=".3" stop-color="#980000"/><stop offset=".338" stop-color="#c00"/><stop offset=".405" stop-color="#f00"/><stop offset=".563" stop-color="#f00"/><stop offset=".581" stop-color="#f03c00"/><stop offset=".625" stop-color="#f07c00"/><stop offset=".673" stop-color="#f5a800"/><stop offset=".7" stop-color="#f8dc00"/><stop offset=".819" stop-color="#f5f500"/><stop offset="1" stop-color="#e1f100"/></radialGradient><radialGradient id="e11" gradientUnits="userSpaceOnUse" cx="1397.4" cy="381" r="289.5"><stop offset="0" stop-color="#5c0000"/><stop offset=".3" stop-color="#9a0000"/><stop offset=".338" stop-color="#ce0000"/><stop offset=".4" stop-color="#f00"/><stop offset=".561" stop-color="#f00"/><stop offset=".577" stop-color="#f03c00"/><stop offset=".668" stop-color="#f5a800"/><stop offset=".696" stop-color="#f8dc00"/><stop offset=".786" stop-color="#f5f500"/><stop offset=".85" stop-color="#d5ef00"/><stop offset="1" stop-color="#c2eb00"/></radialGradient><radialGradient id="e12" gradientUnits="userSpaceOnUse" cx="1397.4" cy="381" r="289.5"><stop offset="0" stop-color="#5c0000"/><stop offset=".287" stop-color="#950000"/><stop offset=".395" stop-color="#f00"/><stop offset=".558" stop-color="#f00"/><stop offset=".575" stop-color="#f03c00"/><stop offset=".66" stop-color="#f5a800"/><stop offset=".686" stop-color="#f8dc00"/><stop offset=".7" stop-color="#f7e300"/><stop offset=".764" stop-color="#f5f500"/><stop offset=".863" stop-color="#b5e900"/><stop offset="1" stop-color="#88e200"/></radialGradient><radialGradient id="e13" gradientUnits="userSpaceOnUse" cx="1397.4" cy="381" r="289.5"><stop offset="0" stop-color="#5c0000"/><stop offset=".287" stop-color="#950000"/><stop offset=".35" stop-color="#dc0000"/><stop offset=".398" stop-color="#f00"/><stop offset=".555" stop-color="#f00"/><stop offset=".572" stop-color="#f03c00"/><stop offset=".652" stop-color="#f5a800"/><stop offset=".676" stop-color="#f8dc00"/><stop offset=".688" stop-color="#f7e200"/><stop offset=".744" stop-color="#f5f500"/><stop offset=".863" stop-color="#95e400"/><stop offset="1" stop-color="#41de09"/></radialGradient><radialGradient id="e14" gradientUnits="userSpaceOnUse" cx="1397.4" cy="381" r="289.5"><stop offset="0" stop-color="#5c0000"/><stop offset=".287" stop-color="#970000"/><stop offset=".392" stop-color="#f00"/><stop offset=".55" stop-color="#f00"/><stop offset=".569" stop-color="#f03c00"/><stop offset=".645" stop-color="#f5a800"/><stop offset=".669" stop-color="#f8dc00"/><stop offset=".726" stop-color="#f5f500"/><stop offset=".959" stop-color="#18dc10"/><stop offset="1" stop-color="#0bde2b"/></radialGradient><radialGradient id="e15" gradientUnits="userSpaceOnUse" cx="1397.4" cy="381" r="289.5"><stop offset="0" stop-color="#5c0000"/><stop offset=".287" stop-color="#900"/><stop offset=".387" stop-color="#f00"/><stop offset=".544" stop-color="#f00"/><stop offset=".565" stop-color="#f03c00"/><stop offset=".636" stop-color="#f5a800"/><stop offset=".658" stop-color="#f8dc00"/><stop offset=".707" stop-color="#f5f500"/><stop offset=".832" stop-color="#78e000"/><stop offset=".901" stop-color="#18dc10"/><stop offset=".955" stop-color="#00e040"/><stop offset=".986" stop-color="#00e8a0"/><stop offset="1" stop-color="#00ebb6"/></radialGradient><radialGradient id="e16" gradientUnits="userSpaceOnUse" cx="1397.4" cy="381" r="289.5"><stop offset="0" stop-color="#5c0000"/><stop offset=".275" stop-color="#950000"/><stop offset=".388" stop-color="#f00"/><stop offset=".545" stop-color="#f00"/><stop offset=".561" stop-color="#f03c00"/><stop offset=".632" stop-color="#f5a800"/><stop offset=".651" stop-color="#f8dc00"/><stop offset=".694" stop-color="#f5f500"/><stop offset=".814" stop-color="#78e000"/><stop offset=".873" stop-color="#18dc10"/><stop offset=".913" stop-color="#00e040"/><stop offset=".936" stop-color="#00e8a0"/><stop offset=".974" stop-color="#00f4f4"/><stop offset="1" stop-color="#00c9f1"/></radialGradient><radialGradient id="e17" gradientUnits="userSpaceOnUse" cx="1397.4" cy="381" r="289.5"><stop offset="0" stop-color="#5c0000"/><stop offset=".275" stop-color="#950000"/><stop offset=".38" stop-color="#f00"/><stop offset=".542" stop-color="#f00"/><stop offset=".55" stop-color="#fa1500"/><stop offset=".558" stop-color="#f03c00"/><stop offset=".623" stop-color="#f5a800"/><stop offset=".643" stop-color="#f8dc00"/><stop offset=".682" stop-color="#f5f500"/><stop offset=".792" stop-color="#78e000"/><stop offset=".845" stop-color="#18dc10"/><stop offset=".879" stop-color="#00e040"/><stop offset=".898" stop-color="#00e8a0"/><stop offset=".93" stop-color="#00f4f4"/><stop offset="1" stop-color="#045ff0"/></radialGradient><radialGradient id="e18" gradientUnits="userSpaceOnUse" cx="1397.4" cy="381" r="289.5"><stop offset="0" stop-color="#5c0000"/><stop offset=".275" stop-color="#970000"/><stop offset=".381" stop-color="#f00"/><stop offset=".539" stop-color="#f00"/><stop offset=".554" stop-color="#f03c00"/><stop offset=".619" stop-color="#f5a800"/><stop offset=".636" stop-color="#f8dc00"/><stop offset=".671" stop-color="#f5f500"/><stop offset=".773" stop-color="#78e000"/><stop offset=".823" stop-color="#18dc10"/><stop offset=".852" stop-color="#00e040"/><stop offset=".869" stop-color="#00e8a0"/><stop offset=".897" stop-color="#00f4f4"/><stop offset=".975" stop-color="#0e30f0"/><stop offset="1" stop-color="#2313ec"/></radialGradient><radialGradient id="e19" gradientUnits="userSpaceOnUse" cx="1397.4" cy="381" r="289.5"><stop offset="0" stop-color="#5c0000"/><stop offset=".275" stop-color="#900"/><stop offset=".377" stop-color="#f00"/><stop offset=".536" stop-color="#f00"/><stop offset=".548" stop-color="#f03c00"/><stop offset=".6" stop-color="#f28e00"/><stop offset=".628" stop-color="#f8dc00"/><stop offset=".661" stop-color="#f5f500"/><stop offset=".757" stop-color="#78e000"/><stop offset=".8" stop-color="#1edc0f"/><stop offset=".83" stop-color="#00e040"/><stop offset=".845" stop-color="#00e8a0"/><stop offset=".872" stop-color="#00f4f4"/><stop offset=".923" stop-color="#0070f0"/><stop offset=".95" stop-color="#1121f0"/><stop offset=".959" stop-color="#1414f0"/><stop offset="1" stop-color="#5010e0"/></radialGradient><radialGradient id="e20" gradientUnits="userSpaceOnUse" cx="1397.4" cy="381" r="289.5"><stop offset="0" stop-color="#5c0000"/><stop offset=".275" stop-color="#9b0000"/><stop offset=".375" stop-color="#f00"/><stop offset=".533" stop-color="#f00"/><stop offset=".546" stop-color="#f03c00"/><stop offset=".604" stop-color="#f5a800"/><stop offset=".619" stop-color="#f8dc00"/><stop offset=".651" stop-color="#f5f500"/><stop offset=".742" stop-color="#78e000"/><stop offset=".786" stop-color="#18dc10"/><stop offset=".812" stop-color="#00e040"/><stop offset=".827" stop-color="#00e8a0"/><stop offset=".852" stop-color="#00f4f4"/><stop offset=".901" stop-color="#0070f0"/><stop offset=".935" stop-color="#1414f0"/><stop offset="1" stop-color="#6a11dc"/></radialGradient><radialGradient id="e21" gradientUnits="userSpaceOnUse" cx="1397.4" cy="381" r="289.5"><stop offset="0" stop-color="#5c0000"/><stop offset=".263" stop-color="#950000"/><stop offset=".371" stop-color="#f00"/><stop offset=".529" stop-color="#f00"/><stop offset=".543" stop-color="#f03c00"/><stop offset=".588" stop-color="#f28b00"/><stop offset=".614" stop-color="#f8dc00"/><stop offset=".642" stop-color="#f5f500"/><stop offset=".728" stop-color="#78e000"/><stop offset=".77" stop-color="#18dc10"/><stop offset=".796" stop-color="#00e040"/><stop offset=".81" stop-color="#00e8a0"/><stop offset=".835" stop-color="#00f4f4"/><stop offset=".882" stop-color="#0070f0"/><stop offset=".911" stop-color="#1414f0"/><stop offset=".95" stop-color="#5010e0"/><stop offset="1" stop-color="#8212d9"/></radialGradient><radialGradient id="e22" gradientUnits="userSpaceOnUse" cx="1397.4" cy="381" r="289.5"><stop offset="0" stop-color="#5c0000"/><stop offset=".263" stop-color="#970000"/><stop offset=".368" stop-color="#f00"/><stop offset=".526" stop-color="#f00"/><stop offset=".537" stop-color="#f03c00"/><stop offset=".592" stop-color="#f5a800"/><stop offset=".606" stop-color="#f8dc00"/><stop offset=".635" stop-color="#f5f500"/><stop offset=".717" stop-color="#78e000"/><stop offset=".756" stop-color="#18dc10"/><stop offset=".782" stop-color="#00e040"/><stop offset=".795" stop-color="#00e8a0"/><stop offset=".819" stop-color="#00f4f4"/><stop offset=".864" stop-color="#0070f0"/><stop offset=".887" stop-color="#1121f0"/><stop offset=".896" stop-color="#1414f0"/><stop offset=".936" stop-color="#5010e0"/><stop offset="1" stop-color="#8912d4"/></radialGradient><radialGradient id="e23" gradientUnits="userSpaceOnUse" cx="1397.4" cy="381" r="289.5"><stop offset="0" stop-color="#5c0000"/><stop offset=".263" stop-color="#900"/><stop offset=".365" stop-color="#f00"/><stop offset=".523" stop-color="#f00"/><stop offset=".534" stop-color="#f03c00"/><stop offset=".589" stop-color="#f5a800"/><stop offset=".602" stop-color="#f8dc00"/><stop offset=".628" stop-color="#f5f500"/><stop offset=".707" stop-color="#78e000"/><stop offset=".745" stop-color="#18dc10"/><stop offset=".769" stop-color="#00e040"/><stop offset=".782" stop-color="#00e8a0"/><stop offset=".805" stop-color="#00f4f4"/><stop offset=".849" stop-color="#0070f0"/><stop offset=".877" stop-color="#1414f0"/><stop offset=".913" stop-color="#5010e0"/><stop offset=".963" stop-color="#8812d8"/><stop offset="1" stop-color="#8a11d0"/></radialGradient><radialGradient id="e24" gradientUnits="userSpaceOnUse" cx="1397.4" cy="381" r="289.5"><stop offset="0" stop-color="#5c0000"/><stop offset=".25" stop-color="#940000"/><stop offset=".361" stop-color="#f00"/><stop offset=".52" stop-color="#f00"/><stop offset=".532" stop-color="#f03c00"/><stop offset=".583" stop-color="#f5a800"/><stop offset=".596" stop-color="#f8dc00"/><stop offset=".624" stop-color="#f5f500"/><stop offset=".699" stop-color="#78e000"/><stop offset=".735" stop-color="#18dc10"/><stop offset=".758" stop-color="#00e040"/><stop offset=".771" stop-color="#00e8a0"/><stop offset=".794" stop-color="#00f4f4"/><stop offset=".837" stop-color="#0070f0"/><stop offset=".864" stop-color="#1414f0"/><stop offset=".897" stop-color="#5010e0"/><stop offset=".938" stop-color="#8012d9"/><stop offset="1" stop-color="#8a11cc"/></radialGradient><radialGradient id="e25" gradientUnits="userSpaceOnUse" cx="1397.4" cy="381" r="289.5"><stop offset="0" stop-color="#5c0000"/><stop offset=".25" stop-color="#950000"/><stop offset=".359" stop-color="#f00"/><stop offset=".515" stop-color="#f00"/><stop offset=".525" stop-color="#f03c00"/><stop offset=".578" stop-color="#f5a800"/><stop offset=".592" stop-color="#f8dc00"/><stop offset=".619" stop-color="#f5f500"/><stop offset=".692" stop-color="#78e000"/><stop offset=".725" stop-color="#1edc0f"/><stop offset=".749" stop-color="#00e040"/><stop offset=".762" stop-color="#00e8a0"/><stop offset=".784" stop-color="#00f4f4"/><stop offset=".826" stop-color="#0070f0"/><stop offset=".853" stop-color="#1414f0"/><stop offset=".885" stop-color="#5010e0"/><stop offset=".925" stop-color="#8212d9"/><stop offset="1" stop-color="#8b10c8"/></radialGradient><radialGradient id="e26" gradientUnits="userSpaceOnUse" cx="1397.4" cy="381" r="289.5"><stop offset="0" stop-color="#5c0000"/><stop offset=".25" stop-color="#960000"/><stop offset=".357" stop-color="#f00"/><stop offset=".513" stop-color="#f00"/><stop offset=".523" stop-color="#f03c00"/><stop offset=".574" stop-color="#f5a800"/><stop offset=".589" stop-color="#f8dc00"/><stop offset=".615" stop-color="#f5f500"/><stop offset=".686" stop-color="#78e000"/><stop offset=".72" stop-color="#18dc10"/><stop offset=".743" stop-color="#00e040"/><stop offset=".755" stop-color="#00e8a0"/><stop offset=".776" stop-color="#00f4f4"/><stop offset=".817" stop-color="#0070f0"/><stop offset=".845" stop-color="#1414f0"/><stop offset=".875" stop-color="#5010e0"/><stop offset=".912" stop-color="#8212d9"/><stop offset="1" stop-color="#8c10c4"/></radialGradient><radialGradient id="e27" gradientUnits="userSpaceOnUse" cx="1397.4" cy="381" r="289.5"><stop offset="0" stop-color="#5c0000"/><stop offset=".25" stop-color="#980000"/><stop offset=".354" stop-color="#f00"/><stop offset=".51" stop-color="#f00"/><stop offset=".52" stop-color="#f03c00"/><stop offset=".568" stop-color="#f5a800"/><stop offset=".583" stop-color="#f8dc00"/><stop offset=".613" stop-color="#f5f500"/><stop offset=".682" stop-color="#78e000"/><stop offset=".713" stop-color="#22dc0e"/><stop offset=".737" stop-color="#00e040"/><stop offset=".749" stop-color="#00e8a0"/><stop offset=".77" stop-color="#00f4f4"/><stop offset=".811" stop-color="#0070f0"/><stop offset=".836" stop-color="#1414f0"/><stop offset=".866" stop-color="#5010e0"/><stop offset=".91" stop-color="#8812d8"/><stop offset="1" stop-color="#8a0eba"/></radialGradient><radialGradient id="e28" gradientUnits="userSpaceOnUse" cx="1397.4" cy="381" r="289.5"><stop offset="0" stop-color="#5c0000"/><stop offset=".25" stop-color="#900"/><stop offset=".352" stop-color="#f00"/><stop offset=".508" stop-color="#f00"/><stop offset=".518" stop-color="#f03c00"/><stop offset=".566" stop-color="#f5a800"/><stop offset=".58" stop-color="#f8dc00"/><stop offset=".609" stop-color="#f5f500"/><stop offset=".679" stop-color="#78e000"/><stop offset=".712" stop-color="#18dc10"/><stop offset=".733" stop-color="#00e040"/><stop offset=".745" stop-color="#00e8a0"/><stop offset=".766" stop-color="#00f4f4"/><stop offset=".805" stop-color="#0070f0"/><stop offset=".832" stop-color="#1414f0"/><stop offset=".86" stop-color="#5010e0"/><stop offset=".9" stop-color="#8812d8"/><stop offset="1" stop-color="#880cb2"/></radialGradient><radialGradient id="e29" gradientUnits="userSpaceOnUse" cx="1397.4" cy="381" r="289.5"><stop offset="0" stop-color="#5c0000"/><stop offset=".237" stop-color="#940000"/><stop offset=".348" stop-color="#f00"/><stop offset=".504" stop-color="#f00"/><stop offset=".516" stop-color="#f03c00"/><stop offset=".565" stop-color="#f5a800"/><stop offset=".58" stop-color="#f8dc00"/><stop offset=".608" stop-color="#f5f500"/><stop offset=".674" stop-color="#78e000"/><stop offset=".708" stop-color="#18dc10"/><stop offset=".73" stop-color="#00e040"/><stop offset=".742" stop-color="#00e8a0"/><stop offset=".762" stop-color="#00f4f4"/><stop offset=".802" stop-color="#0070f0"/><stop offset=".826" stop-color="#1414f0"/><stop offset=".856" stop-color="#5010e0"/><stop offset=".898" stop-color="#8812d8"/><stop offset=".972" stop-color="#8c10c4"/><stop offset="1" stop-color="#870bac"/></radialGradient><radialGradient id="e30" gradientUnits="userSpaceOnUse" cx="1397.4" cy="381" r="289.5"><stop offset="0" stop-color="#5c0000"/><stop offset=".237" stop-color="#950000"/><stop offset=".346" stop-color="#f00"/><stop offset=".501" stop-color="#f00"/><stop offset=".51" stop-color="#f03c00"/><stop offset=".559" stop-color="#f5a800"/><stop offset=".575" stop-color="#f8dc00"/><stop offset=".603" stop-color="#f5f500"/><stop offset=".672" stop-color="#78e000"/><stop offset=".705" stop-color="#18dc10"/><stop offset=".728" stop-color="#00e040"/><stop offset=".74" stop-color="#00e8a0"/><stop offset=".76" stop-color="#00f4f4"/><stop offset=".8" stop-color="#0070f0"/><stop offset=".824" stop-color="#1414f0"/><stop offset=".854" stop-color="#5010e0"/><stop offset=".897" stop-color="#8812d8"/><stop offset=".969" stop-color="#8c10c4"/><stop offset="1" stop-color="#870ba9"/></radialGradient><radialGradient id="e31" gradientUnits="userSpaceOnUse" cx="1397.4" cy="381" r="289.5"><stop offset="0" stop-color="#5c0000"/><stop offset=".237" stop-color="#950000"/><stop offset=".345" stop-color="#f00"/><stop offset=".5" stop-color="#f00"/><stop offset=".508" stop-color="#f03c00"/><stop offset=".557" stop-color="#f5a800"/><stop offset=".572" stop-color="#f8dc00"/><stop offset=".6" stop-color="#f5f500"/><stop offset=".667" stop-color="#78e000"/><stop offset=".702" stop-color="#18dc10"/><stop offset=".726" stop-color="#00e040"/><stop offset=".738" stop-color="#00e8a0"/><stop offset=".759" stop-color="#00f4f4"/><stop offset=".799" stop-color="#0070f0"/><stop offset=".824" stop-color="#1414f0"/><stop offset=".854" stop-color="#5010e0"/><stop offset=".897" stop-color="#8812d8"/><stop offset=".969" stop-color="#8c10c4"/><stop offset="1" stop-color="#870ba9"/></radialGradient><radialGradient id="e32" gradientUnits="userSpaceOnUse" cx="1397.4" cy="381" r="289.5"><stop offset="0" stop-color="#5c0000"/><stop offset=".237" stop-color="#960000"/><stop offset=".343" stop-color="#f00"/><stop offset=".497" stop-color="#f00"/><stop offset=".506" stop-color="#f03c00"/><stop offset=".552" stop-color="#f5a800"/><stop offset=".568" stop-color="#f8dc00"/><stop offset=".597" stop-color="#f5f500"/><stop offset=".666" stop-color="#78e000"/><stop offset=".7" stop-color="#1ddc0f"/><stop offset=".724" stop-color="#00e040"/><stop offset=".736" stop-color="#00e8a0"/><stop offset=".757" stop-color="#00f4f4"/><stop offset=".799" stop-color="#0070f0"/><stop offset=".824" stop-color="#1414f0"/><stop offset=".854" stop-color="#5010e0"/><stop offset=".898" stop-color="#8812d8"/><stop offset=".971" stop-color="#8c10c4"/><stop offset="1" stop-color="#870bab"/></radialGradient><radialGradient id="e33" gradientUnits="userSpaceOnUse" cx="1397.4" cy="381" r="289.5"><stop offset="0" stop-color="#5c0000"/><stop offset=".237" stop-color="#970000"/><stop offset=".341" stop-color="#f00"/><stop offset=".495" stop-color="#f00"/><stop offset=".5" stop-color="#fb1200"/><stop offset=".505" stop-color="#f03c00"/><stop offset=".564" stop-color="#f8dc00"/><stop offset=".594" stop-color="#f5f500"/><stop offset=".665" stop-color="#78e000"/><stop offset=".7" stop-color="#18dc10"/><stop offset=".722" stop-color="#00e040"/><stop offset=".735" stop-color="#00e8a0"/><stop offset=".756" stop-color="#00f4f4"/><stop offset=".798" stop-color="#0070f0"/><stop offset=".824" stop-color="#1414f0"/><stop offset=".855" stop-color="#5010e0"/><stop offset=".899" stop-color="#8812d8"/><stop offset=".976" stop-color="#8c10c4"/><stop offset="1" stop-color="#880caf"/></radialGradient><radialGradient id="e34" gradientUnits="userSpaceOnUse" cx="1397.4" cy="381" r="289.5"><stop offset="0" stop-color="#5c0000"/><stop offset=".237" stop-color="#980000"/><stop offset=".339" stop-color="#f00"/><stop offset=".492" stop-color="#f00"/><stop offset=".503" stop-color="#f03c00"/><stop offset=".561" stop-color="#f8dc00"/><stop offset=".59" stop-color="#f5f500"/><stop offset=".662" stop-color="#78e000"/><stop offset=".697" stop-color="#18dc10"/><stop offset=".72" stop-color="#00e040"/><stop offset=".733" stop-color="#00e8a0"/><stop offset=".755" stop-color="#00f4f4"/><stop offset=".798" stop-color="#0070f0"/><stop offset=".824" stop-color="#1414f0"/><stop offset=".856" stop-color="#5010e0"/><stop offset=".9" stop-color="#8612d8"/><stop offset="1" stop-color="#890db4"/></radialGradient><radialGradient id="e35" gradientUnits="userSpaceOnUse" cx="1397.4" cy="381" r="289.5"><stop offset="0" stop-color="#5c0000"/><stop offset=".225" stop-color="#930000"/><stop offset=".336" stop-color="#f00"/><stop offset=".49" stop-color="#f00"/><stop offset=".501" stop-color="#f03c00"/><stop offset=".558" stop-color="#f8dc00"/><stop offset=".586" stop-color="#f5f500"/><stop offset=".656" stop-color="#78e000"/><stop offset=".693" stop-color="#18dc10"/><stop offset=".717" stop-color="#00e040"/><stop offset=".731" stop-color="#00e8a0"/><stop offset=".753" stop-color="#00f4f4"/><stop offset=".797" stop-color="#0070f0"/><stop offset=".824" stop-color="#1414f0"/><stop offset=".857" stop-color="#5010e0"/><stop offset=".9" stop-color="#8312d9"/><stop offset="1" stop-color="#8a0eb9"/></radialGradient><radialGradient id="e36" gradientUnits="userSpaceOnUse" cx="1397.4" cy="381" r="289.5"><stop offset="0" stop-color="#5c0000"/><stop offset=".225" stop-color="#940000"/><stop offset=".335" stop-color="#f00"/><stop offset=".488" stop-color="#f00"/><stop offset=".497" stop-color="#f03c00"/><stop offset=".542" stop-color="#f5a800"/><stop offset=".556" stop-color="#f8dc00"/><stop offset=".583" stop-color="#f5f500"/><stop offset=".655" stop-color="#78e000"/><stop offset=".69" stop-color="#18dc10"/><stop offset=".715" stop-color="#00e040"/><stop offset=".728" stop-color="#00e8a0"/><stop offset=".751" stop-color="#00f4f4"/><stop offset=".796" stop-color="#0070f0"/><stop offset=".824" stop-color="#1414f0"/><stop offset=".859" stop-color="#5010e0"/><stop offset=".91" stop-color="#8812d8"/><stop offset="1" stop-color="#8b0fbe"/></radialGradient><radialGradient id="e37" gradientUnits="userSpaceOnUse" cx="1397.4" cy="381" r="289.5"><stop offset="0" stop-color="#5c0000"/><stop offset=".225" stop-color="#940000"/><stop offset=".334" stop-color="#f00"/><stop offset=".488" stop-color="#f00"/><stop offset=".495" stop-color="#f03c00"/><stop offset=".537" stop-color="#f5a800"/><stop offset=".551" stop-color="#f8dc00"/><stop offset=".579" stop-color="#f5f500"/><stop offset=".652" stop-color="#78e000"/><stop offset=".687" stop-color="#18dc10"/><stop offset=".711" stop-color="#00e040"/><stop offset=".725" stop-color="#00e8a0"/><stop offset=".749" stop-color="#00f4f4"/><stop offset=".795" stop-color="#0070f0"/><stop offset=".823" stop-color="#1414f0"/><stop offset=".858" stop-color="#5010e0"/><stop offset=".91" stop-color="#8812d8"/><stop offset="1" stop-color="#8b0fc1"/></radialGradient><radialGradient id="e38" gradientUnits="userSpaceOnUse" cx="1397.4" cy="381" r="289.5"><stop offset="0" stop-color="#5c0000"/><stop offset=".225" stop-color="#940000"/><stop offset=".333" stop-color="#f00"/><stop offset=".487" stop-color="#f00"/><stop offset=".494" stop-color="#f03c00"/><stop offset=".536" stop-color="#f5a800"/><stop offset=".549" stop-color="#f8dc00"/><stop offset=".575" stop-color="#f5f500"/><stop offset=".644" stop-color="#78e000"/><stop offset=".68" stop-color="#18dc10"/><stop offset=".708" stop-color="#00e040"/><stop offset=".723" stop-color="#00e8a0"/><stop offset=".746" stop-color="#00f4f4"/><stop offset=".791" stop-color="#0070f0"/><stop offset=".812" stop-color="#1027f0"/><stop offset=".823" stop-color="#1414f0"/><stop offset=".858" stop-color="#5010e0"/><stop offset=".9" stop-color="#8112d9"/><stop offset="1" stop-color="#8c10c3"/></radialGradient><radialGradient id="e39" gradientUnits="userSpaceOnUse" cx="1397.4" cy="381" r="289.5"><stop offset="0" stop-color="#5c0000"/><stop offset=".225" stop-color="#950000"/><stop offset=".332" stop-color="#f00"/><stop offset=".485" stop-color="#f00"/><stop offset=".494" stop-color="#f03c00"/><stop offset=".534" stop-color="#f5a800"/><stop offset=".547" stop-color="#f8dc00"/><stop offset=".573" stop-color="#f5f500"/><stop offset=".644" stop-color="#78e000"/><stop offset=".678" stop-color="#18dc10"/><stop offset=".704" stop-color="#00e040"/><stop offset=".72" stop-color="#00e8a0"/><stop offset=".745" stop-color="#00f4f4"/><stop offset=".789" stop-color="#0070f0"/><stop offset=".818" stop-color="#1414f0"/><stop offset=".854" stop-color="#5010e0"/><stop offset=".9" stop-color="#8312d9"/><stop offset="1" stop-color="#8c10c3"/></radialGradient><radialGradient id="e40" gradientUnits="userSpaceOnUse" cx="1397.4" cy="381" r="289.5"><stop offset="0" stop-color="#5c0000"/><stop offset=".225" stop-color="#950000"/><stop offset=".331" stop-color="#f00"/><stop offset=".484" stop-color="#f00"/><stop offset=".493" stop-color="#f03c00"/><stop offset=".53" stop-color="#f5a800"/><stop offset=".543" stop-color="#f8dc00"/><stop offset=".57" stop-color="#f5f500"/><stop offset=".641" stop-color="#78e000"/><stop offset=".675" stop-color="#18dc10"/><stop offset=".702" stop-color="#00e040"/><stop offset=".717" stop-color="#00e8a0"/><stop offset=".742" stop-color="#00f4f4"/><stop offset=".786" stop-color="#0070f0"/><stop offset=".813" stop-color="#1414f0"/><stop offset=".85" stop-color="#5010e0"/><stop offset=".9" stop-color="#8612d8"/><stop offset="1" stop-color="#8c10c3"/></radialGradient><radialGradient id="e41" gradientUnits="userSpaceOnUse" cx="1397.4" cy="381" r="289.5"><stop offset="0" stop-color="#5c0000"/><stop offset=".225" stop-color="#950000"/><stop offset=".331" stop-color="#f00"/><stop offset=".484" stop-color="#f00"/><stop offset=".487" stop-color="#fb0f00"/><stop offset=".492" stop-color="#f03c00"/><stop offset=".542" stop-color="#f8dc00"/><stop offset=".568" stop-color="#f5f500"/><stop offset=".639" stop-color="#78e000"/><stop offset=".673" stop-color="#18dc10"/><stop offset=".7" stop-color="#00e040"/><stop offset=".715" stop-color="#00e8a0"/><stop offset=".74" stop-color="#00f4f4"/><stop offset=".785" stop-color="#0070f0"/><stop offset=".812" stop-color="#1414f0"/><stop offset=".848" stop-color="#5010e0"/><stop offset=".9" stop-color="#8812d8"/><stop offset="1" stop-color="#8c10c2"/></radialGradient><radialGradient id="e42" gradientUnits="userSpaceOnUse" cx="1397.4" cy="381" r="289.5"><stop offset="0" stop-color="#5c0000"/><stop offset=".225" stop-color="#950000"/><stop offset=".331" stop-color="#f00"/><stop offset=".483" stop-color="#f00"/><stop offset=".487" stop-color="#fb1100"/><stop offset=".492" stop-color="#f03c00"/><stop offset=".541" stop-color="#f8dc00"/><stop offset=".566" stop-color="#f5f500"/><stop offset=".637" stop-color="#78e000"/><stop offset=".672" stop-color="#18dc10"/><stop offset=".698" stop-color="#00e040"/><stop offset=".714" stop-color="#00e8a0"/><stop offset=".739" stop-color="#00f4f4"/><stop offset=".784" stop-color="#0070f0"/><stop offset=".811" stop-color="#1414f0"/><stop offset=".847" stop-color="#5010e0"/><stop offset=".899" stop-color="#8812d8"/><stop offset="1" stop-color="#8b0fc1"/></radialGradient><radialGradient id="e43" gradientUnits="userSpaceOnUse" cx="1397.4" cy="381" r="289.5"><stop offset="0" stop-color="#5c0000"/><stop offset=".225" stop-color="#950000"/><stop offset=".33" stop-color="#f00"/><stop offset=".483" stop-color="#f00"/><stop offset=".487" stop-color="#fa1300"/><stop offset=".492" stop-color="#f03c00"/><stop offset=".541" stop-color="#f8dc00"/><stop offset=".566" stop-color="#f5f500"/><stop offset=".637" stop-color="#78e000"/><stop offset=".671" stop-color="#18dc10"/><stop offset=".698" stop-color="#00e040"/><stop offset=".713" stop-color="#00e8a0"/><stop offset=".739" stop-color="#00f4f4"/><stop offset=".784" stop-color="#0070f0"/><stop offset=".811" stop-color="#1414f0"/><stop offset=".846" stop-color="#5010e0"/><stop offset=".899" stop-color="#8812d8"/><stop offset="1" stop-color="#8b0fc1"/></radialGradient><radialGradient id="e44" gradientUnits="userSpaceOnUse" cx="1397.4" cy="381" r="289.5"><stop offset="0" stop-color="#5c0000"/><stop offset=".225" stop-color="#950000"/><stop offset=".33" stop-color="#f00"/><stop offset=".482" stop-color="#f00"/><stop offset=".487" stop-color="#fa1400"/><stop offset=".491" stop-color="#f03c00"/><stop offset=".541" stop-color="#f8dc00"/><stop offset=".567" stop-color="#f5f500"/><stop offset=".638" stop-color="#78e000"/><stop offset=".672" stop-color="#18dc10"/><stop offset=".699" stop-color="#00e040"/><stop offset=".714" stop-color="#00e8a0"/><stop offset=".74" stop-color="#00f4f4"/><stop offset=".784" stop-color="#0070f0"/><stop offset=".811" stop-color="#1414f0"/><stop offset=".847" stop-color="#5010e0"/><stop offset=".899" stop-color="#8812d8"/><stop offset="1" stop-color="#8c10c2"/></radialGradient><radialGradient id="e45" gradientUnits="userSpaceOnUse" cx="1397.4" cy="381" r="289.5"><stop offset="0" stop-color="#5c0000"/><stop offset=".225" stop-color="#950000"/><stop offset=".33" stop-color="#f00"/><stop offset=".482" stop-color="#f00"/><stop offset=".487" stop-color="#fa1400"/><stop offset=".491" stop-color="#f03c00"/><stop offset=".542" stop-color="#f8dc00"/><stop offset=".569" stop-color="#f5f500"/><stop offset=".64" stop-color="#78e000"/><stop offset=".675" stop-color="#18dc10"/><stop offset=".702" stop-color="#00e040"/><stop offset=".717" stop-color="#00e8a0"/><stop offset=".742" stop-color="#00f4f4"/><stop offset=".786" stop-color="#0070f0"/><stop offset=".812" stop-color="#1414f0"/><stop offset=".849" stop-color="#5010e0"/><stop offset=".9" stop-color="#8812d8"/><stop offset="1" stop-color="#8c10c4"/></radialGradient></defs><circle cx="1397.4" cy="381" r="309.8" fill="url(#e22)"/><g shape-rendering="crispEdges"><path d="M1397.4 381L1391.3 71.3L1403.5 71.3ZM1397.4 381L1403.5 690.7L1391.3 690.7Z" fill="url(#e0)"/><path d="M1397.4 381L1402.2 71.3L1414.3 71.7ZM1397.4 381L1414.3 690.3L1402.2 690.7ZM1397.4 381L1392.6 690.7L1380.5 690.3ZM1397.4 381L1380.5 71.7L1392.6 71.3Z" fill="url(#e1)"/><path d="M1397.4 381L1413 71.6L1425 72.5ZM1397.4 381L1425 689.5L1413 690.4ZM1397.4 381L1381.8 690.4L1369.8 689.5ZM1397.4 381L1369.8 72.5L1381.8 71.6Z" fill="url(#e2)"/><path d="M1397.4 381L1423.8 72.4L1435.8 73.6ZM1397.4 381L1435.8 688.4L1423.8 689.6ZM1397.4 381L1371 689.6L1359 688.4ZM1397.4 381L1359 73.6L1371 72.4Z" fill="url(#e3)"/><path d="M1397.4 381L1434.5 73.5L1446.5 75.2ZM1397.4 381L1446.5 686.8L1434.5 688.5ZM1397.4 381L1360.3 688.5L1348.3 686.8ZM1397.4 381L1348.3 75.2L1360.3 73.5Z" fill="url(#e4)"/><path d="M1397.4 381L1445.2 74.9L1457.1 77.1ZM1397.4 381L1457.1 684.9L1445.2 687.1ZM1397.4 381L1349.6 687.1L1337.7 684.9ZM1397.4 381L1337.7 77.1L1349.6 74.9Z" fill="url(#e5)"/><path d="M1397.4 381L1455.9 76.8L1467.7 79.3ZM1397.4 381L1467.7 682.7L1455.9 685.2ZM1397.4 381L1338.9 685.2L1327.1 682.7ZM1397.4 381L1327.1 79.3L1338.9 76.8Z" fill="url(#e6)"/><path d="M1397.4 381L1466.4 79L1478.2 82ZM1397.4 381L1478.2 680L1466.4 683ZM1397.4 381L1328.4 683L1316.6 680ZM1397.4 381L1316.6 82L1328.4 79Z" fill="url(#e7)"/><path d="M1397.4 381L1476.9 81.6L1488.6 85ZM1397.4 381L1488.6 677L1476.9 680.4ZM1397.4 381L1317.9 680.4L1306.2 677ZM1397.4 381L1306.2 85L1317.9 81.6Z" fill="url(#e8)"/><path d="M1397.4 381L1487.3 84.6L1498.9 88.3ZM1397.4 381L1498.9 673.7L1487.3 677.4ZM1397.4 381L1307.5 677.4L1295.9 673.7ZM1397.4 381L1295.9 88.3L1307.5 84.6Z" fill="url(#e9)"/><path d="M1397.4 381L1497.6 87.9L1509 92ZM1397.4 381L1509 670L1497.6 674.1ZM1397.4 381L1297.2 674.1L1285.8 670ZM1397.4 381L1285.8 92L1297.2 87.9Z" fill="url(#e10)"/><path d="M1397.4 381L1507.8 91.6L1519 96.1ZM1397.4 381L1519 665.9L1507.8 670.4ZM1397.4 381L1287 670.4L1275.8 665.9ZM1397.4 381L1275.8 96.1L1287 91.6Z" fill="url(#e11)"/><path d="M1397.4 381L1517.8 95.6L1528.9 100.5ZM1397.4 381L1528.9 661.5L1517.8 666.4ZM1397.4 381L1277 666.4L1265.9 661.5ZM1397.4 381L1265.9 100.5L1277 95.6Z" fill="url(#e12)"/><path d="M1397.4 381L1527.7 100L1538.6 105.3ZM1397.4 381L1538.6 656.7L1527.7 662ZM1397.4 381L1267.1 662L1256.2 656.7ZM1397.4 381L1256.2 105.3L1267.1 100Z" fill="url(#e13)"/><path d="M1397.4 381L1537.5 104.7L1548.1 110.4ZM1397.4 381L1548.1 651.6L1537.5 657.3ZM1397.4 381L1257.3 657.3L1246.7 651.6ZM1397.4 381L1246.7 110.4L1257.3 104.7Z" fill="url(#e14)"/><path d="M1397.4 381L1547 109.8L1557.5 115.8ZM1397.4 381L1557.5 646.2L1547 652.2ZM1397.4 381L1247.8 652.2L1237.3 646.2ZM1397.4 381L1237.3 115.8L1247.8 109.8Z" fill="url(#e15)"/><path d="M1397.4 381L1556.4 115.1L1566.7 121.6ZM1397.4 381L1566.7 640.4L1556.4 646.9ZM1397.4 381L1238.4 646.9L1228.1 640.4ZM1397.4 381L1228.1 121.6L1238.4 115.1Z" fill="url(#e16)"/><path d="M1397.4 381L1565.6 120.9L1575.6 127.6ZM1397.4 381L1575.6 634.4L1565.6 641.1ZM1397.4 381L1229.2 641.1L1219.2 634.4ZM1397.4 381L1219.2 127.6L1229.2 120.9Z" fill="url(#e17)"/><path d="M1397.4 381L1574.5 126.9L1584.3 134ZM1397.4 381L1584.3 628L1574.5 635.1ZM1397.4 381L1220.3 635.1L1210.5 628ZM1397.4 381L1210.5 134L1220.3 126.9Z" fill="url(#e18)"/><path d="M1397.4 381L1583.3 133.2L1592.8 140.7ZM1397.4 381L1592.8 621.3L1583.3 628.8ZM1397.4 381L1211.5 628.8L1202 621.3ZM1397.4 381L1202 140.7L1211.5 133.2Z" fill="url(#e19)"/><path d="M1397.4 381L1591.8 139.9L1601.1 147.6ZM1397.4 381L1601.1 614.4L1591.8 622.1ZM1397.4 381L1203 622.1L1193.7 614.4ZM1397.4 381L1193.7 147.6L1203 139.9Z" fill="url(#e20)"/><path d="M1397.4 381L1600.1 146.8L1609.1 154.9ZM1397.4 381L1609.1 607.1L1600.1 615.2ZM1397.4 381L1194.7 615.2L1185.7 607.1ZM1397.4 381L1185.7 154.9L1194.7 146.8Z" fill="url(#e21)"/><path d="M1397.4 381L1608.2 154L1616.9 162.4ZM1397.4 381L1616.9 599.6L1608.2 608ZM1397.4 381L1186.6 608L1177.9 599.6ZM1397.4 381L1177.9 162.4L1186.6 154Z" fill="url(#e22)"/><path d="M1397.4 381L1616 161.5L1624.4 170.2ZM1397.4 381L1624.4 591.8L1616 600.5ZM1397.4 381L1178.8 600.5L1170.4 591.8ZM1397.4 381L1170.4 170.2L1178.8 161.5Z" fill="url(#e23)"/><path d="M1397.4 381L1623.5 169.3L1631.6 178.3ZM1397.4 381L1631.6 583.7L1623.5 592.7ZM1397.4 381L1171.3 592.7L1163.2 583.7ZM1397.4 381L1163.2 178.3L1171.3 169.3Z" fill="url(#e24)"/><path d="M1397.4 381L1630.8 177.3L1638.5 186.6ZM1397.4 381L1638.5 575.4L1630.8 584.7ZM1397.4 381L1164 584.7L1156.3 575.4ZM1397.4 381L1156.3 186.6L1164 177.3Z" fill="url(#e25)"/><path d="M1397.4 381L1637.7 185.6L1645.2 195.1ZM1397.4 381L1645.2 566.9L1637.7 576.4ZM1397.4 381L1157.1 576.4L1149.6 566.9ZM1397.4 381L1149.6 195.1L1157.1 185.6Z" fill="url(#e26)"/><path d="M1397.4 381L1644.4 194.1L1651.5 203.9ZM1397.4 381L1651.5 558.1L1644.4 567.9ZM1397.4 381L1150.4 567.9L1143.3 558.1ZM1397.4 381L1143.3 203.9L1150.4 194.1Z" fill="url(#e27)"/><path d="M1397.4 381L1650.8 202.8L1657.5 212.8ZM1397.4 381L1657.5 549.2L1650.8 559.2ZM1397.4 381L1144 559.2L1137.3 549.2ZM1397.4 381L1137.3 212.8L1144 202.8Z" fill="url(#e28)"/><path d="M1397.4 381L1656.8 211.7L1663.3 222ZM1397.4 381L1663.3 540L1656.8 550.3ZM1397.4 381L1138 550.3L1131.5 540ZM1397.4 381L1131.5 222L1138 211.7Z" fill="url(#e29)"/><path d="M1397.4 381L1662.6 220.9L1668.6 231.4ZM1397.4 381L1668.6 530.6L1662.6 541.1ZM1397.4 381L1132.2 541.1L1126.2 530.6ZM1397.4 381L1126.2 231.4L1132.2 220.9Z" fill="url(#e30)"/><path d="M1397.4 381L1668 230.3L1673.7 240.9ZM1397.4 381L1673.7 521.1L1668 531.7ZM1397.4 381L1126.8 531.7L1121.1 521.1ZM1397.4 381L1121.1 240.9L1126.8 230.3Z" fill="url(#e31)"/><path d="M1397.4 381L1673.1 239.8L1678.4 250.7ZM1397.4 381L1678.4 511.3L1673.1 522.2ZM1397.4 381L1121.7 522.2L1116.4 511.3ZM1397.4 381L1116.4 250.7L1121.7 239.8Z" fill="url(#e32)"/><path d="M1397.4 381L1677.9 249.5L1682.8 260.6ZM1397.4 381L1682.8 501.4L1677.9 512.5ZM1397.4 381L1116.9 512.5L1112 501.4ZM1397.4 381L1112 260.6L1116.9 249.5Z" fill="url(#e33)"/><path d="M1397.4 381L1682.3 259.4L1686.8 270.6ZM1397.4 381L1686.8 491.4L1682.3 502.6ZM1397.4 381L1112.5 502.6L1108 491.4ZM1397.4 381L1108 270.6L1112.5 259.4Z" fill="url(#e34)"/><path d="M1397.4 381L1686.4 269.4L1690.5 280.8ZM1397.4 381L1690.5 481.2L1686.4 492.6ZM1397.4 381L1108.4 492.6L1104.3 481.2ZM1397.4 381L1104.3 280.8L1108.4 269.4Z" fill="url(#e35)"/><path d="M1397.4 381L1690.1 279.5L1693.8 291.1ZM1397.4 381L1693.8 470.9L1690.1 482.5ZM1397.4 381L1104.7 482.5L1101 470.9ZM1397.4 381L1101 291.1L1104.7 279.5Z" fill="url(#e36)"/><path d="M1397.4 381L1693.4 289.8L1696.8 301.5ZM1397.4 381L1696.8 460.5L1693.4 472.2ZM1397.4 381L1101.4 472.2L1098 460.5ZM1397.4 381L1098 301.5L1101.4 289.8Z" fill="url(#e37)"/><path d="M1397.4 381L1696.4 300.2L1699.4 312ZM1397.4 381L1699.4 450L1696.4 461.8ZM1397.4 381L1098.4 461.8L1095.4 450ZM1397.4 381L1095.4 312L1098.4 300.2Z" fill="url(#e38)"/><path d="M1397.4 381L1699.1 310.7L1701.6 322.5ZM1397.4 381L1701.6 439.5L1699.1 451.3ZM1397.4 381L1095.7 451.3L1093.2 439.5ZM1397.4 381L1093.2 322.5L1095.7 310.7Z" fill="url(#e39)"/><path d="M1397.4 381L1701.3 321.3L1703.5 333.2ZM1397.4 381L1703.5 428.8L1701.3 440.7ZM1397.4 381L1093.5 440.7L1091.3 428.8ZM1397.4 381L1091.3 333.2L1093.5 321.3Z" fill="url(#e40)"/><path d="M1397.4 381L1703.2 331.9L1704.9 343.9ZM1397.4 381L1704.9 418.1L1703.2 430.1ZM1397.4 381L1091.6 430.1L1089.9 418.1ZM1397.4 381L1089.9 343.9L1091.6 331.9Z" fill="url(#e41)"/><path d="M1397.4 381L1704.8 342.6L1706 354.6ZM1397.4 381L1706 407.4L1704.8 419.4ZM1397.4 381L1090 419.4L1088.8 407.4ZM1397.4 381L1088.8 354.6L1090 342.6Z" fill="url(#e42)"/><path d="M1397.4 381L1705.9 353.4L1706.8 365.4ZM1397.4 381L1706.8 396.6L1705.9 408.6ZM1397.4 381L1088.9 408.6L1088 396.6ZM1397.4 381L1088 365.4L1088.9 353.4Z" fill="url(#e43)"/><path d="M1397.4 381L1706.7 364.1L1707.1 376.2ZM1397.4 381L1707.1 385.8L1706.7 397.9ZM1397.4 381L1088.1 397.9L1087.7 385.8ZM1397.4 381L1087.7 376.2L1088.1 364.1Z" fill="url(#e44)"/><path d="M1397.4 381L1707.1 374.9L1707.1 387.1ZM1397.4 381L1087.7 387.1L1087.7 374.9Z" fill="url(#e45)"/></g></g></g>
<clipPath id="cf"><circle cx="1407.3" cy="1255.2" r="289.5"/></clipPath><filter id="bl2" x="-5%" y="-5%" width="110%" height="110%"><feGaussianBlur stdDeviation="0.9"/></filter><g clip-path="url(#cf)"><g filter="url(#bl2)"><defs><radialGradient id="f0" gradientUnits="userSpaceOnUse" cx="1407.3" cy="1255.2" r="289.5"><stop offset="0" stop-color="#f6ec00"/><stop offset=".037" stop-color="#f8dc00"/><stop offset=".057" stop-color="#f5a800"/><stop offset=".119" stop-color="#f03c00"/><stop offset=".128" stop-color="#f00"/><stop offset=".2" stop-color="#f00"/><stop offset=".258" stop-color="#9c0000"/><stop offset=".289" stop-color="#7d0000"/><stop offset=".385" stop-color="#610000"/><stop offset=".461" stop-color="#740000"/><stop offset=".504" stop-color="#9c0000"/><stop offset=".563" stop-color="#f00"/><stop offset=".609" stop-color="#f00"/><stop offset=".609" stop-color="#f03c00"/><stop offset=".609" stop-color="#f4a300"/><stop offset=".611" stop-color="#f8dc00"/><stop offset=".614" stop-color="#f5f500"/><stop offset=".616" stop-color="#e6f200"/><stop offset=".619" stop-color="#87e200"/><stop offset=".621" stop-color="#63df04"/><stop offset=".622" stop-color="#87e200"/><stop offset=".7" stop-color="#18dc10"/><stop offset=".787" stop-color="#23dc0e"/><stop offset=".838" stop-color="#78e000"/><stop offset=".9" stop-color="#c1eb00"/><stop offset=".979" stop-color="#f5f500"/><stop offset="1" stop-color="#f6ec00"/></radialGradient><radialGradient id="f1" gradientUnits="userSpaceOnUse" cx="1407.3" cy="1255.2" r="289.5"><stop offset="0" stop-color="#f6ec00"/><stop offset=".037" stop-color="#f8dc00"/><stop offset=".057" stop-color="#f5a800"/><stop offset=".119" stop-color="#f03c00"/><stop offset=".128" stop-color="#f00"/><stop offset=".2" stop-color="#f00"/><stop offset=".259" stop-color="#9c0000"/><stop offset=".289" stop-color="#7d0000"/><stop offset=".385" stop-color="#610000"/><stop offset=".461" stop-color="#740000"/><stop offset=".503" stop-color="#9c0000"/><stop offset=".563" stop-color="#f00"/><stop offset=".609" stop-color="#f00"/><stop offset=".609" stop-color="#f03c00"/><stop offset=".61" stop-color="#f4a300"/><stop offset=".611" stop-color="#f8dc00"/><stop offset=".614" stop-color="#f5f500"/><stop offset=".616" stop-color="#e6f200"/><stop offset=".619" stop-color="#87e200"/><stop offset=".621" stop-color="#63df04"/><stop offset=".621" stop-color="#84e200"/><stop offset=".7" stop-color="#17dc11"/><stop offset=".787" stop-color="#21dc0e"/><stop offset=".843" stop-color="#78e000"/><stop offset=".9" stop-color="#b8ea00"/><stop offset="1" stop-color="#f6f000"/></radialGradient><radialGradient id="f2" gradientUnits="userSpaceOnUse" cx="1407.3" cy="1255.2" r="289.5"><stop offset="0" stop-color="#f6ec00"/><stop offset=".037" stop-color="#f8dc00"/><stop offset=".057" stop-color="#f5a800"/><stop offset=".119" stop-color="#f03c00"/><stop offset=".128" stop-color="#f00"/><stop offset=".2" stop-color="#f00"/><stop offset=".259" stop-color="#9c0000"/><stop offset=".289" stop-color="#7e0000"/><stop offset=".321" stop-color="#6a0000"/><stop offset=".386" stop-color="#610000"/><stop offset=".45" stop-color="#6e0000"/><stop offset=".482" stop-color="#860000"/><stop offset=".562" stop-color="#f00"/><stop offset=".61" stop-color="#f00"/><stop offset=".61" stop-color="#f03c00"/><stop offset=".61" stop-color="#f4a300"/><stop offset=".612" stop-color="#f8dc00"/><stop offset=".615" stop-color="#f5f500"/><stop offset=".616" stop-color="#e6f200"/><stop offset=".619" stop-color="#87e200"/><stop offset=".621" stop-color="#63df04"/><stop offset=".621" stop-color="#82e200"/><stop offset=".7" stop-color="#17dc12"/><stop offset=".787" stop-color="#1fdc0f"/><stop offset=".849" stop-color="#78e000"/><stop offset=".9" stop-color="#afe800"/><stop offset="1" stop-color="#f5f400"/></radialGradient><radialGradient id="f3" gradientUnits="userSpaceOnUse" cx="1407.3" cy="1255.2" r="289.5"><stop offset="0" stop-color="#f6ec00"/><stop offset=".037" stop-color="#f8dc00"/><stop offset=".057" stop-color="#f5a800"/><stop offset=".119" stop-color="#f03c00"/><stop offset=".128" stop-color="#f00"/><stop offset=".2" stop-color="#f00"/><stop offset=".26" stop-color="#9c0000"/><stop offset=".288" stop-color="#800000"/><stop offset=".383" stop-color="#620000"/><stop offset=".457" stop-color="#740000"/><stop offset=".501" stop-color="#9c0000"/><stop offset=".561" stop-color="#f00"/><stop offset=".605" stop-color="#f00"/><stop offset=".605" stop-color="#f03c00"/><stop offset=".605" stop-color="#f4a300"/><stop offset=".607" stop-color="#f8dc00"/><stop offset=".612" stop-color="#f5f500"/><stop offset=".614" stop-color="#e6f200"/><stop offset=".618" stop-color="#87e200"/><stop offset=".621" stop-color="#63df04"/><stop offset=".621" stop-color="#80e100"/><stop offset=".629" stop-color="#78e000"/><stop offset=".7" stop-color="#16dc13"/><stop offset=".787" stop-color="#1edc0f"/><stop offset=".9" stop-color="#a7e700"/><stop offset="1" stop-color="#eef400"/></radialGradient><radialGradient id="f4" gradientUnits="userSpaceOnUse" cx="1407.3" cy="1255.2" r="289.5"><stop offset="0" stop-color="#f6ec00"/><stop offset=".037" stop-color="#f8dc00"/><stop offset=".057" stop-color="#f5a800"/><stop offset=".119" stop-color="#f03c00"/><stop offset=".128" stop-color="#f00"/><stop offset=".201" stop-color="#f00"/><stop offset=".262" stop-color="#9c0000"/><stop offset=".286" stop-color="#840000"/><stop offset=".379" stop-color="#630000"/><stop offset=".454" stop-color="#740000"/><stop offset=".499" stop-color="#9c0000"/><stop offset=".56" stop-color="#f00"/><stop offset=".597" stop-color="#f00"/><stop offset=".598" stop-color="#f03c00"/><stop offset=".598" stop-color="#f4a300"/><stop offset=".601" stop-color="#f8dc00"/><stop offset=".608" stop-color="#f5f500"/><stop offset=".61" stop-color="#e6f200"/><stop offset=".616" stop-color="#87e200"/><stop offset=".621" stop-color="#63df04"/><stop offset=".621" stop-color="#7ee100"/><stop offset=".7" stop-color="#16dc14"/><stop offset=".787" stop-color="#1cdc0f"/><stop offset=".9" stop-color="#9ee600"/><stop offset="1" stop-color="#e6f200"/></radialGradient><radialGradient id="f5" gradientUnits="userSpaceOnUse" cx="1407.3" cy="1255.2" r="289.5"><stop offset="0" stop-color="#f6ec00"/><stop offset=".037" stop-color="#f8dc00"/><stop offset=".057" stop-color="#f5a800"/><stop offset=".119" stop-color="#f03c00"/><stop offset=".128" stop-color="#f00"/><stop offset=".202" stop-color="#f00"/><stop offset=".284" stop-color="#800"/><stop offset=".376" stop-color="#640000"/><stop offset=".467" stop-color="#800000"/><stop offset=".496" stop-color="#9c0000"/><stop offset=".557" stop-color="#f00"/><stop offset=".59" stop-color="#f00"/><stop offset=".59" stop-color="#f03c00"/><stop offset=".59" stop-color="#f4a300"/><stop offset=".594" stop-color="#f8dc00"/><stop offset=".603" stop-color="#f5f500"/><stop offset=".607" stop-color="#e6f200"/><stop offset=".614" stop-color="#87e200"/><stop offset=".62" stop-color="#63df04"/><stop offset=".621" stop-color="#7ce100"/><stop offset=".7" stop-color="#15dc15"/><stop offset=".787" stop-color="#1bdc10"/><stop offset=".9" stop-color="#95e400"/><stop offset="1" stop-color="#ddf000"/></radialGradient><radialGradient id="f6" gradientUnits="userSpaceOnUse" cx="1407.3" cy="1255.2" r="289.5"><stop offset="0" stop-color="#f6ec00"/><stop offset=".037" stop-color="#f8dc00"/><stop offset=".057" stop-color="#f5a800"/><stop offset=".119" stop-color="#f03c00"/><stop offset=".128" stop-color="#f00"/><stop offset=".203" stop-color="#f00"/><stop offset=".282" stop-color="#8d0000"/><stop offset=".312" stop-color="#750000"/><stop offset=".372" stop-color="#600"/><stop offset=".462" stop-color="#800000"/><stop offset=".491" stop-color="#9c0000"/><stop offset=".554" stop-color="#f00"/><stop offset=".582" stop-color="#f00"/><stop offset=".582" stop-color="#f03c00"/><stop offset=".582" stop-color="#f4a300"/><stop offset=".588" stop-color="#f8dc00"/><stop offset=".599" stop-color="#f5f500"/><stop offset=".603" stop-color="#e6f200"/><stop offset=".613" stop-color="#87e200"/><stop offset=".62" stop-color="#63df04"/><stop offset=".62" stop-color="#79e000"/><stop offset=".622" stop-color="#78e000"/><stop offset=".7" stop-color="#15dd16"/><stop offset=".787" stop-color="#19dc10"/><stop offset=".9" stop-color="#8ce300"/><stop offset="1" stop-color="#d4ee00"/></radialGradient><radialGradient id="f7" gradientUnits="userSpaceOnUse" cx="1407.3" cy="1255.2" r="289.5"><stop offset="0" stop-color="#f6ec00"/><stop offset=".037" stop-color="#f8dc00"/><stop offset=".057" stop-color="#f5a800"/><stop offset=".119" stop-color="#f03c00"/><stop offset=".128" stop-color="#f00"/><stop offset=".206" stop-color="#f00"/><stop offset=".279" stop-color="#930000"/><stop offset=".322" stop-color="#740000"/><stop offset=".368" stop-color="#690000"/><stop offset=".457" stop-color="#800000"/><stop offset=".487" stop-color="#9c0000"/><stop offset=".552" stop-color="#f00"/><stop offset=".575" stop-color="#f00"/><stop offset=".575" stop-color="#f03c00"/><stop offset=".575" stop-color="#f4a300"/><stop offset=".582" stop-color="#f8dc00"/><stop offset=".588" stop-color="#f6ec00"/><stop offset=".6" stop-color="#e6f200"/><stop offset=".611" stop-color="#87e200"/><stop offset=".62" stop-color="#63df04"/><stop offset=".62" stop-color="#76e000"/><stop offset=".699" stop-color="#15dd17"/><stop offset=".789" stop-color="#18dc10"/><stop offset=".899" stop-color="#7fe100"/><stop offset="1" stop-color="#c3eb00"/></radialGradient><radialGradient id="f8" gradientUnits="userSpaceOnUse" cx="1407.3" cy="1255.2" r="289.5"><stop offset="0" stop-color="#f6ec00"/><stop offset=".037" stop-color="#f8dc00"/><stop offset=".057" stop-color="#f5a800"/><stop offset=".119" stop-color="#f03c00"/><stop offset=".128" stop-color="#f00"/><stop offset=".208" stop-color="#f00"/><stop offset=".276" stop-color="#9c0000"/><stop offset=".33" stop-color="#740000"/><stop offset=".364" stop-color="#6c0000"/><stop offset=".451" stop-color="#810000"/><stop offset=".482" stop-color="#9c0000"/><stop offset=".551" stop-color="#f00"/><stop offset=".567" stop-color="#f00"/><stop offset=".567" stop-color="#f03c00"/><stop offset=".567" stop-color="#f4a300"/><stop offset=".575" stop-color="#f8dc00"/><stop offset=".582" stop-color="#f6ec00"/><stop offset=".596" stop-color="#e6f200"/><stop offset=".61" stop-color="#87e200"/><stop offset=".62" stop-color="#63df04"/><stop offset=".62" stop-color="#72e001"/><stop offset=".696" stop-color="#15dd17"/><stop offset=".795" stop-color="#18dc10"/><stop offset="1" stop-color="#9fe600"/></radialGradient><radialGradient id="f9" gradientUnits="userSpaceOnUse" cx="1407.3" cy="1255.2" r="289.5"><stop offset="0" stop-color="#f6ec00"/><stop offset=".037" stop-color="#f8dc00"/><stop offset=".057" stop-color="#f5a800"/><stop offset=".119" stop-color="#f03c00"/><stop offset=".128" stop-color="#f00"/><stop offset=".209" stop-color="#f00"/><stop offset=".28" stop-color="#9c0000"/><stop offset=".361" stop-color="#700000"/><stop offset=".447" stop-color="#840000"/><stop offset=".475" stop-color="#9c0000"/><stop offset=".546" stop-color="#f00"/><stop offset=".561" stop-color="#f00"/><stop offset=".561" stop-color="#f03c00"/><stop offset=".561" stop-color="#f4a300"/><stop offset=".569" stop-color="#f8dc00"/><stop offset=".586" stop-color="#f5f500"/><stop offset=".593" stop-color="#e6f200"/><stop offset=".61" stop-color="#87e200"/><stop offset=".62" stop-color="#63df04"/><stop offset=".62" stop-color="#6de002"/><stop offset=".694" stop-color="#15dd17"/><stop offset=".812" stop-color="#18dc10"/><stop offset="1" stop-color="#7ce100"/></radialGradient><radialGradient id="f10" gradientUnits="userSpaceOnUse" cx="1407.3" cy="1255.2" r="289.5"><stop offset="0" stop-color="#f6ec00"/><stop offset=".037" stop-color="#f8dc00"/><stop offset=".057" stop-color="#f5a800"/><stop offset=".119" stop-color="#f03c00"/><stop offset=".128" stop-color="#f00"/><stop offset=".213" stop-color="#f00"/><stop offset=".302" stop-color="#8e0000"/><stop offset=".386" stop-color="#740000"/><stop offset=".467" stop-color="#9c0000"/><stop offset=".541" stop-color="#f00"/><stop offset=".555" stop-color="#f00"/><stop offset=".555" stop-color="#f03c00"/><stop offset=".556" stop-color="#f4a300"/><stop offset=".563" stop-color="#f8dc00"/><stop offset=".582" stop-color="#f5f500"/><stop offset=".59" stop-color="#e6f200"/><stop offset=".619" stop-color="#63df04"/><stop offset=".683" stop-color="#18dc10"/><stop offset=".877" stop-color="#18dc10"/><stop offset="1" stop-color="#49de08"/></radialGradient><radialGradient id="f11" gradientUnits="userSpaceOnUse" cx="1407.3" cy="1255.2" r="289.5"><stop offset="0" stop-color="#f6ec00"/><stop offset=".037" stop-color="#f8dc00"/><stop offset=".057" stop-color="#f5a800"/><stop offset=".119" stop-color="#f03c00"/><stop offset=".128" stop-color="#f00"/><stop offset=".217" stop-color="#f00"/><stop offset=".291" stop-color="#9c0000"/><stop offset=".383" stop-color="#7a0000"/><stop offset=".459" stop-color="#9c0000"/><stop offset=".536" stop-color="#f00"/><stop offset=".55" stop-color="#f00"/><stop offset=".55" stop-color="#f03c00"/><stop offset=".55" stop-color="#f4a300"/><stop offset=".557" stop-color="#f8dc00"/><stop offset=".578" stop-color="#f5f500"/><stop offset=".588" stop-color="#e6f200"/><stop offset=".619" stop-color="#63df04"/><stop offset=".68" stop-color="#18dc10"/><stop offset=".888" stop-color="#0ede24"/><stop offset="1" stop-color="#17dc12"/></radialGradient><radialGradient id="f12" gradientUnits="userSpaceOnUse" cx="1407.3" cy="1255.2" r="289.5"><stop offset="0" stop-color="#f6ec00"/><stop offset=".037" stop-color="#f8dc00"/><stop offset=".057" stop-color="#f5a800"/><stop offset=".119" stop-color="#f03c00"/><stop offset=".128" stop-color="#f00"/><stop offset=".22" stop-color="#f00"/><stop offset=".298" stop-color="#9c0000"/><stop offset=".38" stop-color="#820000"/><stop offset=".448" stop-color="#9c0000"/><stop offset=".53" stop-color="#f00"/><stop offset=".544" stop-color="#f00"/><stop offset=".544" stop-color="#f03c00"/><stop offset=".544" stop-color="#f4a300"/><stop offset=".552" stop-color="#f8dc00"/><stop offset=".574" stop-color="#f5f500"/><stop offset=".585" stop-color="#e6f200"/><stop offset=".619" stop-color="#63df04"/><stop offset=".678" stop-color="#18dc10"/><stop offset=".884" stop-color="#01e03e"/><stop offset="1" stop-color="#08df31"/></radialGradient><radialGradient id="f13" gradientUnits="userSpaceOnUse" cx="1407.3" cy="1255.2" r="289.5"><stop offset="0" stop-color="#f6ec00"/><stop offset=".037" stop-color="#f8dc00"/><stop offset=".057" stop-color="#f5a800"/><stop offset=".119" stop-color="#f03c00"/><stop offset=".128" stop-color="#f00"/><stop offset=".224" stop-color="#f00"/><stop offset=".31" stop-color="#9c0000"/><stop offset=".377" stop-color="#890000"/><stop offset=".436" stop-color="#9c0000"/><stop offset=".523" stop-color="#f00"/><stop offset=".539" stop-color="#f00"/><stop offset=".539" stop-color="#f03c00"/><stop offset=".539" stop-color="#f4a300"/><stop offset=".546" stop-color="#f8dc00"/><stop offset=".57" stop-color="#f5f500"/><stop offset=".582" stop-color="#e6f200"/><stop offset=".619" stop-color="#63df04"/><stop offset=".675" stop-color="#18dc10"/><stop offset=".805" stop-color="#00e040"/><stop offset=".83" stop-color="#00e367"/><stop offset=".89" stop-color="#00e8a0"/><stop offset=".952" stop-color="#00e8a0"/><stop offset=".975" stop-color="#00e794"/><stop offset="1" stop-color="#00e46d"/></radialGradient><radialGradient id="f14" gradientUnits="userSpaceOnUse" cx="1407.3" cy="1255.2" r="289.5"><stop offset="0" stop-color="#f6ec00"/><stop offset=".037" stop-color="#f8dc00"/><stop offset=".057" stop-color="#f5a800"/><stop offset=".119" stop-color="#f03c00"/><stop offset=".128" stop-color="#f00"/><stop offset=".229" stop-color="#f00"/><stop offset=".32" stop-color="#9e0000"/><stop offset=".374" stop-color="#920000"/><stop offset=".427" stop-color="#a00000"/><stop offset=".516" stop-color="#f00"/><stop offset=".533" stop-color="#f00"/><stop offset=".533" stop-color="#f03c00"/><stop offset=".533" stop-color="#f4a300"/><stop offset=".54" stop-color="#f8dc00"/><stop offset=".566" stop-color="#f5f500"/><stop offset=".58" stop-color="#e6f200"/><stop offset=".618" stop-color="#63df04"/><stop offset=".673" stop-color="#18dc10"/><stop offset=".773" stop-color="#00e040"/><stop offset=".815" stop-color="#00e8a0"/><stop offset=".875" stop-color="#00efd1"/><stop offset=".925" stop-color="#00f1de"/><stop offset=".975" stop-color="#00efd1"/><stop offset="1" stop-color="#00ecb9"/></radialGradient><radialGradient id="f15" gradientUnits="userSpaceOnUse" cx="1407.3" cy="1255.2" r="289.5"><stop offset="0" stop-color="#f6ec00"/><stop offset=".037" stop-color="#f8dc00"/><stop offset=".057" stop-color="#f5a800"/><stop offset=".119" stop-color="#f03c00"/><stop offset=".128" stop-color="#f00"/><stop offset=".234" stop-color="#f00"/><stop offset=".318" stop-color="#ac0000"/><stop offset=".37" stop-color="#9a0000"/><stop offset=".422" stop-color="#ab0000"/><stop offset=".507" stop-color="#f00"/><stop offset=".526" stop-color="#f00"/><stop offset=".526" stop-color="#f03c00"/><stop offset=".526" stop-color="#f4a300"/><stop offset=".534" stop-color="#f8dc00"/><stop offset=".541" stop-color="#f6ec00"/><stop offset=".576" stop-color="#e6f200"/><stop offset=".618" stop-color="#63df04"/><stop offset=".669" stop-color="#18dc10"/><stop offset=".745" stop-color="#00e040"/><stop offset=".786" stop-color="#00e8a0"/><stop offset=".818" stop-color="#00eec8"/><stop offset=".925" stop-color="#00f3f0"/><stop offset=".975" stop-color="#00f2e9"/><stop offset="1" stop-color="#00f0d4"/></radialGradient><radialGradient id="f16" gradientUnits="userSpaceOnUse" cx="1407.3" cy="1255.2" r="289.5"><stop offset="0" stop-color="#f6ec00"/><stop offset=".037" stop-color="#f8dc00"/><stop offset=".057" stop-color="#f5a800"/><stop offset=".119" stop-color="#f03c00"/><stop offset=".128" stop-color="#f00"/><stop offset=".24" stop-color="#f00"/><stop offset=".315" stop-color="#ba0000"/><stop offset=".366" stop-color="#a80000"/><stop offset=".417" stop-color="#b60000"/><stop offset=".497" stop-color="#f00"/><stop offset=".519" stop-color="#f00"/><stop offset=".519" stop-color="#f03c00"/><stop offset=".52" stop-color="#f4a300"/><stop offset=".527" stop-color="#f8dc00"/><stop offset=".534" stop-color="#f6ec00"/><stop offset=".573" stop-color="#e6f200"/><stop offset=".617" stop-color="#63df04"/><stop offset=".665" stop-color="#18dc10"/><stop offset=".724" stop-color="#00e040"/><stop offset=".76" stop-color="#00e8a0"/><stop offset=".811" stop-color="#00f2e4"/><stop offset=".866" stop-color="#00f4f4"/><stop offset=".925" stop-color="#00e8f3"/><stop offset="1" stop-color="#00f3f0"/></radialGradient><radialGradient id="f17" gradientUnits="userSpaceOnUse" cx="1407.3" cy="1255.2" r="289.5"><stop offset="0" stop-color="#f6ec00"/><stop offset=".037" stop-color="#f8dc00"/><stop offset=".057" stop-color="#f5a800"/><stop offset=".119" stop-color="#f03c00"/><stop offset=".128" stop-color="#f00"/><stop offset=".248" stop-color="#f00"/><stop offset=".312" stop-color="#c70000"/><stop offset=".362" stop-color="#b60000"/><stop offset=".412" stop-color="#c10000"/><stop offset=".486" stop-color="#f00"/><stop offset=".512" stop-color="#f00"/><stop offset=".513" stop-color="#f03c00"/><stop offset=".513" stop-color="#f4a300"/><stop offset=".52" stop-color="#f8dc00"/><stop offset=".527" stop-color="#f6ec00"/><stop offset=".551" stop-color="#f5f500"/><stop offset=".57" stop-color="#e6f200"/><stop offset=".617" stop-color="#63df04"/><stop offset=".662" stop-color="#18dc10"/><stop offset=".71" stop-color="#00e040"/><stop offset=".738" stop-color="#00e8a0"/><stop offset=".799" stop-color="#00f4f4"/><stop offset=".925" stop-color="#00d4f2"/><stop offset="1" stop-color="#00dff3"/></radialGradient><radialGradient id="f18" gradientUnits="userSpaceOnUse" cx="1407.3" cy="1255.2" r="289.5"><stop offset="0" stop-color="#f6ec00"/><stop offset=".037" stop-color="#f8dc00"/><stop offset=".057" stop-color="#f5a800"/><stop offset=".119" stop-color="#f03c00"/><stop offset=".128" stop-color="#f00"/><stop offset=".256" stop-color="#f00"/><stop offset=".309" stop-color="#d50000"/><stop offset=".358" stop-color="#c40000"/><stop offset=".407" stop-color="#cd0000"/><stop offset=".472" stop-color="#f00"/><stop offset=".506" stop-color="#f00"/><stop offset=".506" stop-color="#f03c00"/><stop offset=".506" stop-color="#f4a300"/><stop offset=".513" stop-color="#f8dc00"/><stop offset=".52" stop-color="#f6ec00"/><stop offset=".546" stop-color="#f5f500"/><stop offset=".566" stop-color="#e6f200"/><stop offset=".616" stop-color="#63df04"/><stop offset=".659" stop-color="#18dc10"/><stop offset=".7" stop-color="#00e040"/><stop offset=".723" stop-color="#00e8a0"/><stop offset=".781" stop-color="#00f4f4"/><stop offset=".925" stop-color="#00b3f0"/><stop offset="1" stop-color="#00c2f1"/></radialGradient><radialGradient id="f19" gradientUnits="userSpaceOnUse" cx="1407.3" cy="1255.2" r="289.5"><stop offset="0" stop-color="#f6ec00"/><stop offset=".037" stop-color="#f8dc00"/><stop offset=".057" stop-color="#f5a800"/><stop offset=".119" stop-color="#f03c00"/><stop offset=".128" stop-color="#f00"/><stop offset=".267" stop-color="#f00"/><stop offset=".354" stop-color="#d20000"/><stop offset=".402" stop-color="#d90000"/><stop offset=".457" stop-color="#f00"/><stop offset=".499" stop-color="#f00"/><stop offset=".499" stop-color="#f03c00"/><stop offset=".499" stop-color="#f4a300"/><stop offset=".506" stop-color="#f8dc00"/><stop offset=".514" stop-color="#f6ec00"/><stop offset=".541" stop-color="#f5f500"/><stop offset=".563" stop-color="#e6f200"/><stop offset=".605" stop-color="#87e200"/><stop offset=".615" stop-color="#63df04"/><stop offset=".657" stop-color="#18dc10"/><stop offset=".692" stop-color="#00e040"/><stop offset=".711" stop-color="#00e8a0"/><stop offset=".727" stop-color="#00eecb"/><stop offset=".761" stop-color="#00f4f4"/><stop offset=".925" stop-color="#0090f0"/><stop offset=".975" stop-color="#0090f0"/><stop offset="1" stop-color="#00a4f0"/></radialGradient><radialGradient id="f20" gradientUnits="userSpaceOnUse" cx="1407.3" cy="1255.2" r="289.5"><stop offset="0" stop-color="#f6ec00"/><stop offset=".037" stop-color="#f8dc00"/><stop offset=".057" stop-color="#f5a800"/><stop offset=".119" stop-color="#f03c00"/><stop offset=".128" stop-color="#f00"/><stop offset=".28" stop-color="#f00"/><stop offset=".35" stop-color="#e00000"/><stop offset=".397" stop-color="#e60000"/><stop offset=".438" stop-color="#f00"/><stop offset=".492" stop-color="#f00"/><stop offset=".492" stop-color="#f03c00"/><stop offset=".492" stop-color="#f4a300"/><stop offset=".499" stop-color="#f8dc00"/><stop offset=".507" stop-color="#f6ec00"/><stop offset=".536" stop-color="#f5f500"/><stop offset=".559" stop-color="#e6f200"/><stop offset=".604" stop-color="#87e200"/><stop offset=".614" stop-color="#63df04"/><stop offset=".655" stop-color="#18dc10"/><stop offset=".686" stop-color="#00e040"/><stop offset=".702" stop-color="#00e8a0"/><stop offset=".722" stop-color="#00f0db"/><stop offset=".741" stop-color="#00f4f4"/><stop offset=".859" stop-color="#008cf0"/><stop offset=".922" stop-color="#016af0"/><stop offset=".975" stop-color="#0070f0"/><stop offset="1" stop-color="#008af0"/></radialGradient><radialGradient id="f21" gradientUnits="userSpaceOnUse" cx="1407.3" cy="1255.2" r="289.5"><stop offset="0" stop-color="#f6ec00"/><stop offset=".037" stop-color="#f8dc00"/><stop offset=".057" stop-color="#f5a800"/><stop offset=".119" stop-color="#f03c00"/><stop offset=".128" stop-color="#f00"/><stop offset=".295" stop-color="#f00"/><stop offset=".346" stop-color="#e00"/><stop offset=".485" stop-color="#f00"/><stop offset=".485" stop-color="#f03c00"/><stop offset=".485" stop-color="#f4a300"/><stop offset=".492" stop-color="#f8dc00"/><stop offset=".5" stop-color="#f6ec00"/><stop offset=".531" stop-color="#f5f500"/><stop offset=".555" stop-color="#e6f200"/><stop offset=".572" stop-color="#c8ec00"/><stop offset=".603" stop-color="#87e200"/><stop offset=".613" stop-color="#63df04"/><stop offset=".653" stop-color="#18dc10"/><stop offset=".681" stop-color="#00e040"/><stop offset=".696" stop-color="#00e8a0"/><stop offset=".717" stop-color="#00f2e9"/><stop offset=".725" stop-color="#00f4f4"/><stop offset=".855" stop-color="#0269f0"/><stop offset=".917" stop-color="#0b3ff0"/><stop offset=".975" stop-color="#074ef0"/><stop offset="1" stop-color="#0073f0"/></radialGradient><radialGradient id="f22" gradientUnits="userSpaceOnUse" cx="1407.3" cy="1255.2" r="289.5"><stop offset="0" stop-color="#f6ec00"/><stop offset=".037" stop-color="#f8dc00"/><stop offset=".057" stop-color="#f5a800"/><stop offset=".119" stop-color="#f03c00"/><stop offset=".128" stop-color="#f00"/><stop offset=".48" stop-color="#f00"/><stop offset=".48" stop-color="#f03c00"/><stop offset=".48" stop-color="#f4a300"/><stop offset=".488" stop-color="#f8dc00"/><stop offset=".495" stop-color="#f6ec00"/><stop offset=".528" stop-color="#f5f500"/><stop offset=".553" stop-color="#e6f200"/><stop offset=".57" stop-color="#c8ec00"/><stop offset=".651" stop-color="#18dc10"/><stop offset=".676" stop-color="#00e040"/><stop offset=".689" stop-color="#00e8a0"/><stop offset=".712" stop-color="#00f4f4"/><stop offset=".85" stop-color="#0a42f0"/><stop offset=".912" stop-color="#1414f0"/><stop offset=".975" stop-color="#0f2bf0"/><stop offset="1" stop-color="#0559f0"/></radialGradient><radialGradient id="f23" gradientUnits="userSpaceOnUse" cx="1407.3" cy="1255.2" r="289.5"><stop offset="0" stop-color="#f6ec00"/><stop offset=".037" stop-color="#f8dc00"/><stop offset=".057" stop-color="#f5a800"/><stop offset=".119" stop-color="#f03c00"/><stop offset=".128" stop-color="#f00"/><stop offset=".476" stop-color="#f00"/><stop offset=".476" stop-color="#f03c00"/><stop offset=".476" stop-color="#f4a300"/><stop offset=".483" stop-color="#f8dc00"/><stop offset=".491" stop-color="#f6ec00"/><stop offset=".524" stop-color="#f5f500"/><stop offset=".55" stop-color="#e6f200"/><stop offset=".568" stop-color="#c8ec00"/><stop offset=".649" stop-color="#18dc10"/><stop offset=".673" stop-color="#00e040"/><stop offset=".686" stop-color="#00e8a0"/><stop offset=".707" stop-color="#00f4f4"/><stop offset=".77" stop-color="#0082f0"/><stop offset=".845" stop-color="#1028f0"/><stop offset=".875" stop-color="#1414f0"/><stop offset=".908" stop-color="#2813eb"/><stop offset=".97" stop-color="#1415f0"/><stop offset="1" stop-color="#0b3ff0"/></radialGradient><radialGradient id="f24" gradientUnits="userSpaceOnUse" cx="1407.3" cy="1255.2" r="289.5"><stop offset="0" stop-color="#f6ec00"/><stop offset=".037" stop-color="#f8dc00"/><stop offset=".057" stop-color="#f5a800"/><stop offset=".119" stop-color="#f03c00"/><stop offset=".128" stop-color="#f00"/><stop offset=".471" stop-color="#f00"/><stop offset=".471" stop-color="#f03c00"/><stop offset=".471" stop-color="#f4a300"/><stop offset=".479" stop-color="#f8dc00"/><stop offset=".486" stop-color="#f6ec00"/><stop offset=".521" stop-color="#f5f500"/><stop offset=".548" stop-color="#e6f200"/><stop offset=".566" stop-color="#c8ec00"/><stop offset=".646" stop-color="#18dc10"/><stop offset=".67" stop-color="#00e040"/><stop offset=".682" stop-color="#00e8a0"/><stop offset=".703" stop-color="#00f4f4"/><stop offset=".766" stop-color="#016af0"/><stop offset=".836" stop-color="#1414f0"/><stop offset=".903" stop-color="#3c11e5"/><stop offset=".984" stop-color="#1414f0"/><stop offset="1" stop-color="#1025f0"/></radialGradient><radialGradient id="f25" gradientUnits="userSpaceOnUse" cx="1407.3" cy="1255.2" r="289.5"><stop offset="0" stop-color="#f6ec00"/><stop offset=".037" stop-color="#f8dc00"/><stop offset=".057" stop-color="#f5a800"/><stop offset=".119" stop-color="#f03c00"/><stop offset=".128" stop-color="#f00"/><stop offset=".467" stop-color="#f00"/><stop offset=".467" stop-color="#f03c00"/><stop offset=".467" stop-color="#f4a300"/><stop offset=".475" stop-color="#f8dc00"/><stop offset=".482" stop-color="#f6ec00"/><stop offset=".518" stop-color="#f5f500"/><stop offset=".545" stop-color="#e6f200"/><stop offset=".564" stop-color="#c8ec00"/><stop offset=".599" stop-color="#87e200"/><stop offset=".609" stop-color="#63df04"/><stop offset=".644" stop-color="#18dc10"/><stop offset=".667" stop-color="#00e040"/><stop offset=".678" stop-color="#00e8a0"/><stop offset=".698" stop-color="#00f4f4"/><stop offset=".762" stop-color="#0654f0"/><stop offset=".814" stop-color="#1414f0"/><stop offset=".838" stop-color="#3012e9"/><stop offset=".9" stop-color="#5110e0"/><stop offset=".963" stop-color="#3c11e5"/><stop offset="1" stop-color="#1a14ee"/></radialGradient><radialGradient id="f26" gradientUnits="userSpaceOnUse" cx="1407.3" cy="1255.2" r="289.5"><stop offset="0" stop-color="#f6ec00"/><stop offset=".037" stop-color="#f8dc00"/><stop offset=".057" stop-color="#f5a800"/><stop offset=".119" stop-color="#f03c00"/><stop offset=".128" stop-color="#f00"/><stop offset=".454" stop-color="#f00"/><stop offset=".454" stop-color="#f03c00"/><stop offset=".454" stop-color="#f5a800"/><stop offset=".454" stop-color="#f8dc00"/><stop offset=".454" stop-color="#f5f500"/><stop offset=".535" stop-color="#e6f200"/><stop offset=".598" stop-color="#87e200"/><stop offset=".608" stop-color="#63df04"/><stop offset=".643" stop-color="#18dc10"/><stop offset=".664" stop-color="#00e040"/><stop offset=".675" stop-color="#00e8a0"/><stop offset=".694" stop-color="#00f4f4"/><stop offset=".762" stop-color="#0947f0"/><stop offset=".8" stop-color="#1414f0"/><stop offset=".838" stop-color="#4311e3"/><stop offset=".9" stop-color="#6311dd"/><stop offset=".965" stop-color="#5010e0"/><stop offset="1" stop-color="#2e12e9"/></radialGradient><radialGradient id="f27" gradientUnits="userSpaceOnUse" cx="1407.3" cy="1255.2" r="289.5"><stop offset="0" stop-color="#f6ec00"/><stop offset=".037" stop-color="#f8dc00"/><stop offset=".057" stop-color="#f5a800"/><stop offset=".119" stop-color="#f03c00"/><stop offset=".128" stop-color="#f00"/><stop offset=".403" stop-color="#f00"/><stop offset=".403" stop-color="#f03c00"/><stop offset=".404" stop-color="#f5a800"/><stop offset=".404" stop-color="#f8dc00"/><stop offset=".404" stop-color="#f5f500"/><stop offset=".404" stop-color="#dbf000"/><stop offset=".472" stop-color="#f6ec00"/><stop offset=".539" stop-color="#e6f200"/><stop offset=".597" stop-color="#87e200"/><stop offset=".607" stop-color="#63df04"/><stop offset=".641" stop-color="#18dc10"/><stop offset=".662" stop-color="#00e040"/><stop offset=".672" stop-color="#00e8a0"/><stop offset=".691" stop-color="#00f4f4"/><stop offset=".762" stop-color="#0c39f0"/><stop offset=".788" stop-color="#1414f0"/><stop offset=".833" stop-color="#5010e0"/><stop offset=".9" stop-color="#7411db"/><stop offset=".963" stop-color="#6111de"/><stop offset="1" stop-color="#4111e4"/></radialGradient><radialGradient id="f28" gradientUnits="userSpaceOnUse" cx="1407.3" cy="1255.2" r="289.5"><stop offset="0" stop-color="#f6ec00"/><stop offset=".037" stop-color="#f8dc00"/><stop offset=".057" stop-color="#f5a800"/><stop offset=".119" stop-color="#f03c00"/><stop offset=".128" stop-color="#f00"/><stop offset=".363" stop-color="#f00"/><stop offset=".363" stop-color="#f03c00"/><stop offset=".363" stop-color="#f5a800"/><stop offset=".363" stop-color="#f8dc00"/><stop offset=".363" stop-color="#f5f500"/><stop offset=".363" stop-color="#ceed00"/><stop offset=".483" stop-color="#f6ec00"/><stop offset=".544" stop-color="#e6f200"/><stop offset=".596" stop-color="#87e200"/><stop offset=".606" stop-color="#63df04"/><stop offset=".639" stop-color="#18dc10"/><stop offset=".659" stop-color="#00e040"/><stop offset=".669" stop-color="#00e8a0"/><stop offset=".687" stop-color="#00f4f4"/><stop offset=".739" stop-color="#0070f0"/><stop offset=".762" stop-color="#0f2bf0"/><stop offset=".778" stop-color="#1414f0"/><stop offset=".838" stop-color="#6111de"/><stop offset=".9" stop-color="#8512d8"/><stop offset=".963" stop-color="#7011db"/><stop offset="1" stop-color="#5310e0"/></radialGradient><radialGradient id="f29" gradientUnits="userSpaceOnUse" cx="1407.3" cy="1255.2" r="289.5"><stop offset="0" stop-color="#f6ec00"/><stop offset=".037" stop-color="#f8dc00"/><stop offset=".057" stop-color="#f5a800"/><stop offset=".119" stop-color="#f03c00"/><stop offset=".128" stop-color="#f00"/><stop offset=".33" stop-color="#f00"/><stop offset=".33" stop-color="#f03c00"/><stop offset=".331" stop-color="#f5a800"/><stop offset=".331" stop-color="#f8dc00"/><stop offset=".331" stop-color="#f5f500"/><stop offset=".331" stop-color="#c3eb00"/><stop offset=".495" stop-color="#f6ec00"/><stop offset=".55" stop-color="#e6f200"/><stop offset=".595" stop-color="#87e200"/><stop offset=".637" stop-color="#18dc10"/><stop offset=".656" stop-color="#00e040"/><stop offset=".666" stop-color="#00e8a0"/><stop offset=".683" stop-color="#00f4f4"/><stop offset=".735" stop-color="#0070f0"/><stop offset=".759" stop-color="#1028f0"/><stop offset=".772" stop-color="#1414f0"/><stop offset=".833" stop-color="#61d"/><stop offset=".891" stop-color="#8812d8"/><stop offset=".961" stop-color="#7311db"/><stop offset=".998" stop-color="#5110e0"/></radialGradient><radialGradient id="f30" gradientUnits="userSpaceOnUse" cx="1407.3" cy="1255.2" r="289.5"><stop offset="0" stop-color="#f6ec00"/><stop offset=".037" stop-color="#f8dc00"/><stop offset=".057" stop-color="#f5a800"/><stop offset=".119" stop-color="#f03c00"/><stop offset=".128" stop-color="#f00"/><stop offset=".303" stop-color="#f00"/><stop offset=".303" stop-color="#f03c00"/><stop offset=".303" stop-color="#f5a800"/><stop offset=".303" stop-color="#f8dc00"/><stop offset=".303" stop-color="#f5f500"/><stop offset=".304" stop-color="#b9ea00"/><stop offset=".535" stop-color="#f5f500"/><stop offset=".555" stop-color="#e6f200"/><stop offset=".635" stop-color="#18dc10"/><stop offset=".654" stop-color="#00e040"/><stop offset=".663" stop-color="#00e8a0"/><stop offset=".68" stop-color="#00f4f4"/><stop offset=".731" stop-color="#0070f0"/><stop offset=".766" stop-color="#1414f0"/><stop offset=".828" stop-color="#6b11dc"/><stop offset=".877" stop-color="#8812d8"/><stop offset=".959" stop-color="#7611db"/><stop offset=".997" stop-color="#4f10e0"/></radialGradient><radialGradient id="f31" gradientUnits="userSpaceOnUse" cx="1407.3" cy="1255.2" r="289.5"><stop offset="0" stop-color="#f6ec00"/><stop offset=".037" stop-color="#f8dc00"/><stop offset=".057" stop-color="#f5a800"/><stop offset=".119" stop-color="#f03c00"/><stop offset=".128" stop-color="#f00"/><stop offset=".28" stop-color="#f00"/><stop offset=".281" stop-color="#f03c00"/><stop offset=".281" stop-color="#f5a800"/><stop offset=".281" stop-color="#f8dc00"/><stop offset=".281" stop-color="#f5f500"/><stop offset=".281" stop-color="#b0e800"/><stop offset=".544" stop-color="#f5f500"/><stop offset=".561" stop-color="#e6f200"/><stop offset=".602" stop-color="#63df04"/><stop offset=".632" stop-color="#18dc10"/><stop offset=".651" stop-color="#00e040"/><stop offset=".66" stop-color="#00e8a0"/><stop offset=".676" stop-color="#00f4f4"/><stop offset=".727" stop-color="#0070f0"/><stop offset=".761" stop-color="#1414f0"/><stop offset=".823" stop-color="#7011db"/><stop offset=".864" stop-color="#8812d8"/><stop offset=".925" stop-color="#8812d8"/><stop offset=".958" stop-color="#7911da"/><stop offset=".995" stop-color="#4c10e1"/></radialGradient><radialGradient id="f32" gradientUnits="userSpaceOnUse" cx="1407.3" cy="1255.2" r="289.5"><stop offset="0" stop-color="#f6ec00"/><stop offset=".037" stop-color="#f8dc00"/><stop offset=".057" stop-color="#f5a800"/><stop offset=".119" stop-color="#f03c00"/><stop offset=".128" stop-color="#f00"/><stop offset=".261" stop-color="#f00"/><stop offset=".261" stop-color="#f03c00"/><stop offset=".261" stop-color="#f5a800"/><stop offset=".261" stop-color="#f8dc00"/><stop offset=".261" stop-color="#f5f500"/><stop offset=".261" stop-color="#a9e700"/><stop offset=".554" stop-color="#f5f500"/><stop offset=".568" stop-color="#e6f200"/><stop offset=".6" stop-color="#63df04"/><stop offset=".63" stop-color="#18dc10"/><stop offset=".648" stop-color="#00e040"/><stop offset=".657" stop-color="#00e8a0"/><stop offset=".673" stop-color="#00f4f4"/><stop offset=".723" stop-color="#0070f0"/><stop offset=".756" stop-color="#1414f0"/><stop offset=".819" stop-color="#7511db"/><stop offset=".851" stop-color="#8812d8"/><stop offset=".932" stop-color="#8812d8"/><stop offset=".956" stop-color="#7c12da"/><stop offset=".994" stop-color="#4a10e2"/></radialGradient><radialGradient id="f33" gradientUnits="userSpaceOnUse" cx="1407.3" cy="1255.2" r="289.5"><stop offset="0" stop-color="#f6ec00"/><stop offset=".037" stop-color="#f8dc00"/><stop offset=".057" stop-color="#f5a800"/><stop offset=".119" stop-color="#f03c00"/><stop offset=".128" stop-color="#f00"/><stop offset=".244" stop-color="#f00"/><stop offset=".244" stop-color="#f03c00"/><stop offset=".244" stop-color="#f5a800"/><stop offset=".244" stop-color="#f8dc00"/><stop offset=".244" stop-color="#f5f500"/><stop offset=".244" stop-color="#a2e600"/><stop offset=".566" stop-color="#f5f500"/><stop offset=".575" stop-color="#e6f200"/><stop offset=".589" stop-color="#87e200"/><stop offset=".598" stop-color="#63df04"/><stop offset=".628" stop-color="#18dc10"/><stop offset=".645" stop-color="#00e040"/><stop offset=".654" stop-color="#00e8a0"/><stop offset=".669" stop-color="#00f4f4"/><stop offset=".719" stop-color="#0070f0"/><stop offset=".751" stop-color="#1414f0"/><stop offset=".782" stop-color="#5010e0"/><stop offset=".838" stop-color="#8812d8"/><stop offset=".884" stop-color="#8a11cc"/><stop offset=".938" stop-color="#8812d8"/><stop offset=".955" stop-color="#7f12d9"/><stop offset=".992" stop-color="#4711e2"/></radialGradient><radialGradient id="f34" gradientUnits="userSpaceOnUse" cx="1407.3" cy="1255.2" r="289.5"><stop offset="0" stop-color="#f6ec00"/><stop offset=".037" stop-color="#f8dc00"/><stop offset=".057" stop-color="#f5a800"/><stop offset=".119" stop-color="#f03c00"/><stop offset=".128" stop-color="#f00"/><stop offset=".23" stop-color="#f00"/><stop offset=".23" stop-color="#f03c00"/><stop offset=".23" stop-color="#f5a800"/><stop offset=".23" stop-color="#f8dc00"/><stop offset=".23" stop-color="#f5f500"/><stop offset=".23" stop-color="#9ce500"/><stop offset=".536" stop-color="#f5f500"/><stop offset=".578" stop-color="#f5f500"/><stop offset=".583" stop-color="#e6f200"/><stop offset=".592" stop-color="#87e200"/><stop offset=".597" stop-color="#63df04"/><stop offset=".626" stop-color="#18dc10"/><stop offset=".642" stop-color="#00e040"/><stop offset=".651" stop-color="#00e8a0"/><stop offset=".666" stop-color="#00f4f4"/><stop offset=".715" stop-color="#0070f0"/><stop offset=".746" stop-color="#1414f0"/><stop offset=".776" stop-color="#5010e0"/><stop offset=".825" stop-color="#8812d8"/><stop offset=".881" stop-color="#8b11c9"/><stop offset=".942" stop-color="#8812d8"/><stop offset=".991" stop-color="#4411e3"/></radialGradient><radialGradient id="f35" gradientUnits="userSpaceOnUse" cx="1407.3" cy="1255.2" r="289.5"><stop offset="0" stop-color="#f6ec00"/><stop offset=".037" stop-color="#f8dc00"/><stop offset=".057" stop-color="#f5a800"/><stop offset=".119" stop-color="#f03c00"/><stop offset=".128" stop-color="#f00"/><stop offset=".217" stop-color="#f00"/><stop offset=".217" stop-color="#f03c00"/><stop offset=".217" stop-color="#f5a800"/><stop offset=".217" stop-color="#f8dc00"/><stop offset=".217" stop-color="#f5f500"/><stop offset=".217" stop-color="#97e500"/><stop offset=".546" stop-color="#f5f500"/><stop offset=".59" stop-color="#f6ec00"/><stop offset=".592" stop-color="#e6f200"/><stop offset=".594" stop-color="#87e200"/><stop offset=".595" stop-color="#63df04"/><stop offset=".623" stop-color="#18dc10"/><stop offset=".64" stop-color="#00e040"/><stop offset=".648" stop-color="#00e8a0"/><stop offset=".662" stop-color="#00f4f4"/><stop offset=".711" stop-color="#0070f0"/><stop offset=".742" stop-color="#1414f0"/><stop offset=".77" stop-color="#5010e0"/><stop offset=".812" stop-color="#8812d8"/><stop offset=".878" stop-color="#8b10c7"/><stop offset=".946" stop-color="#8812d8"/><stop offset=".989" stop-color="#4211e4"/></radialGradient><radialGradient id="f36" gradientUnits="userSpaceOnUse" cx="1407.3" cy="1255.2" r="289.5"><stop offset="0" stop-color="#f6ec00"/><stop offset=".037" stop-color="#f8dc00"/><stop offset=".057" stop-color="#f5a800"/><stop offset=".119" stop-color="#f03c00"/><stop offset=".128" stop-color="#f00"/><stop offset=".205" stop-color="#f00"/><stop offset=".205" stop-color="#f03c00"/><stop offset=".206" stop-color="#f5a800"/><stop offset=".206" stop-color="#f8dc00"/><stop offset=".206" stop-color="#f5f500"/><stop offset=".206" stop-color="#93e400"/><stop offset=".556" stop-color="#f5f500"/><stop offset=".611" stop-color="#f6ec00"/><stop offset=".602" stop-color="#e6f200"/><stop offset=".597" stop-color="#87e200"/><stop offset=".594" stop-color="#63df04"/><stop offset=".621" stop-color="#18dc10"/><stop offset=".637" stop-color="#00e040"/><stop offset=".645" stop-color="#00e8a0"/><stop offset=".658" stop-color="#00f4f4"/><stop offset=".708" stop-color="#0070f0"/><stop offset=".738" stop-color="#1414f0"/><stop offset=".764" stop-color="#5010e0"/><stop offset=".8" stop-color="#8812d8"/><stop offset=".875" stop-color="#8c10c4"/><stop offset=".95" stop-color="#8812d8"/><stop offset=".988" stop-color="#3f11e5"/></radialGradient><radialGradient id="f37" gradientUnits="userSpaceOnUse" cx="1407.3" cy="1255.2" r="289.5"><stop offset="0" stop-color="#f6ec00"/><stop offset=".037" stop-color="#f8dc00"/><stop offset=".057" stop-color="#f5a800"/><stop offset=".119" stop-color="#f03c00"/><stop offset=".128" stop-color="#f00"/><stop offset=".195" stop-color="#f00"/><stop offset=".195" stop-color="#f03c00"/><stop offset=".195" stop-color="#f5a800"/><stop offset=".195" stop-color="#f8dc00"/><stop offset=".196" stop-color="#f5f500"/><stop offset=".196" stop-color="#8fe300"/><stop offset=".599" stop-color="#f5f500"/><stop offset=".599" stop-color="#ceed00"/><stop offset=".592" stop-color="#63df04"/><stop offset=".619" stop-color="#18dc10"/><stop offset=".635" stop-color="#00e040"/><stop offset=".643" stop-color="#00e8a0"/><stop offset=".656" stop-color="#00f4f4"/><stop offset=".705" stop-color="#0070f0"/><stop offset=".734" stop-color="#1414f0"/><stop offset=".76" stop-color="#5010e0"/><stop offset=".797" stop-color="#8812d8"/><stop offset=".872" stop-color="#8c10c4"/><stop offset=".948" stop-color="#8812d8"/><stop offset=".986" stop-color="#3c11e5"/></radialGradient><radialGradient id="f38" gradientUnits="userSpaceOnUse" cx="1407.3" cy="1255.2" r="289.5"><stop offset="0" stop-color="#f6ec00"/><stop offset=".037" stop-color="#f8dc00"/><stop offset=".057" stop-color="#f5a800"/><stop offset=".119" stop-color="#f03c00"/><stop offset=".128" stop-color="#f00"/><stop offset=".161" stop-color="#f00"/><stop offset=".161" stop-color="#f03c00"/><stop offset=".161" stop-color="#f5a800"/><stop offset=".161" stop-color="#f8dc00"/><stop offset=".161" stop-color="#f5f500"/><stop offset=".162" stop-color="#8ee300"/><stop offset=".589" stop-color="#f5f500"/><stop offset=".589" stop-color="#ceed00"/><stop offset=".591" stop-color="#63df04"/><stop offset=".617" stop-color="#18dc10"/><stop offset=".632" stop-color="#00e040"/><stop offset=".64" stop-color="#00e8a0"/><stop offset=".654" stop-color="#00f4f4"/><stop offset=".702" stop-color="#0070f0"/><stop offset=".731" stop-color="#1414f0"/><stop offset=".757" stop-color="#5010e0"/><stop offset=".794" stop-color="#8812d8"/><stop offset=".869" stop-color="#8c10c4"/><stop offset=".945" stop-color="#8812d8"/><stop offset=".984" stop-color="#3912e6"/></radialGradient><radialGradient id="f39" gradientUnits="userSpaceOnUse" cx="1407.3" cy="1255.2" r="289.5"><stop offset="0" stop-color="#f6ec00"/><stop offset=".037" stop-color="#f8dc00"/><stop offset=".057" stop-color="#f5a800"/><stop offset=".119" stop-color="#f03c00"/><stop offset=".128" stop-color="#f00"/><stop offset=".161" stop-color="#f00"/><stop offset=".161" stop-color="#f03c00"/><stop offset=".161" stop-color="#f5a800"/><stop offset=".161" stop-color="#f8dc00"/><stop offset=".161" stop-color="#f5f500"/><stop offset=".162" stop-color="#8ee300"/><stop offset=".266" stop-color="#9ae500"/><stop offset=".579" stop-color="#f0f400"/><stop offset=".579" stop-color="#ceed00"/><stop offset=".589" stop-color="#63df04"/><stop offset=".614" stop-color="#18dc10"/><stop offset=".63" stop-color="#00e040"/><stop offset=".638" stop-color="#00e8a0"/><stop offset=".651" stop-color="#00f4f4"/><stop offset=".699" stop-color="#0070f0"/><stop offset=".728" stop-color="#1414f0"/><stop offset=".754" stop-color="#5010e0"/><stop offset=".791" stop-color="#8812d8"/><stop offset=".866" stop-color="#8c10c4"/><stop offset=".943" stop-color="#8812d8"/><stop offset=".983" stop-color="#3712e7"/></radialGradient><radialGradient id="f40" gradientUnits="userSpaceOnUse" cx="1407.3" cy="1255.2" r="289.5"><stop offset="0" stop-color="#f6ec00"/><stop offset=".037" stop-color="#f8dc00"/><stop offset=".057" stop-color="#f5a800"/><stop offset=".119" stop-color="#f03c00"/><stop offset=".128" stop-color="#f00"/><stop offset=".161" stop-color="#f00"/><stop offset=".161" stop-color="#f03c00"/><stop offset=".161" stop-color="#f5a800"/><stop offset=".161" stop-color="#f8dc00"/><stop offset=".161" stop-color="#f5f500"/><stop offset=".162" stop-color="#8ee300"/><stop offset=".263" stop-color="#97e500"/><stop offset=".57" stop-color="#eaf300"/><stop offset=".57" stop-color="#ceed00"/><stop offset=".588" stop-color="#63df04"/><stop offset=".612" stop-color="#18dc10"/><stop offset=".628" stop-color="#00e040"/><stop offset=".635" stop-color="#00e8a0"/><stop offset=".649" stop-color="#00f4f4"/><stop offset=".696" stop-color="#0070f0"/><stop offset=".725" stop-color="#1414f0"/><stop offset=".751" stop-color="#5010e0"/><stop offset=".787" stop-color="#8812d8"/><stop offset=".863" stop-color="#8c10c4"/><stop offset=".941" stop-color="#8812d8"/><stop offset=".981" stop-color="#3412e7"/></radialGradient><radialGradient id="f41" gradientUnits="userSpaceOnUse" cx="1407.3" cy="1255.2" r="289.5"><stop offset="0" stop-color="#f6ec00"/><stop offset=".037" stop-color="#f8dc00"/><stop offset=".057" stop-color="#f5a800"/><stop offset=".119" stop-color="#f03c00"/><stop offset=".128" stop-color="#f00"/><stop offset=".161" stop-color="#f00"/><stop offset=".161" stop-color="#f03c00"/><stop offset=".161" stop-color="#f5a800"/><stop offset=".161" stop-color="#f8dc00"/><stop offset=".161" stop-color="#f5f500"/><stop offset=".162" stop-color="#8ee300"/><stop offset=".261" stop-color="#94e400"/><stop offset=".562" stop-color="#e5f200"/><stop offset=".562" stop-color="#ceed00"/><stop offset=".586" stop-color="#63df04"/><stop offset=".61" stop-color="#18dc10"/><stop offset=".625" stop-color="#00e040"/><stop offset=".633" stop-color="#00e8a0"/><stop offset=".647" stop-color="#00f4f4"/><stop offset=".693" stop-color="#0070f0"/><stop offset=".722" stop-color="#1414f0"/><stop offset=".748" stop-color="#5010e0"/><stop offset=".784" stop-color="#8812d8"/><stop offset=".859" stop-color="#8c10c4"/><stop offset=".938" stop-color="#8812d8"/><stop offset=".98" stop-color="#3112e8"/></radialGradient><radialGradient id="f42" gradientUnits="userSpaceOnUse" cx="1407.3" cy="1255.2" r="289.5"><stop offset="0" stop-color="#f6ec00"/><stop offset=".037" stop-color="#f8dc00"/><stop offset=".057" stop-color="#f5a800"/><stop offset=".119" stop-color="#f03c00"/><stop offset=".128" stop-color="#f00"/><stop offset=".161" stop-color="#f00"/><stop offset=".161" stop-color="#f03c00"/><stop offset=".161" stop-color="#f5a800"/><stop offset=".161" stop-color="#f8dc00"/><stop offset=".161" stop-color="#f5f500"/><stop offset=".162" stop-color="#8ee300"/><stop offset=".259" stop-color="#92e400"/><stop offset=".554" stop-color="#dff100"/><stop offset=".554" stop-color="#ceed00"/><stop offset=".58" stop-color="#78e000"/><stop offset=".608" stop-color="#18dc10"/><stop offset=".623" stop-color="#00e040"/><stop offset=".631" stop-color="#00e8a0"/><stop offset=".644" stop-color="#00f4f4"/><stop offset=".691" stop-color="#0070f0"/><stop offset=".719" stop-color="#1414f0"/><stop offset=".745" stop-color="#5010e0"/><stop offset=".781" stop-color="#8812d8"/><stop offset=".856" stop-color="#8c10c4"/><stop offset=".936" stop-color="#8812d8"/><stop offset=".978" stop-color="#2f12e9"/></radialGradient><radialGradient id="f43" gradientUnits="userSpaceOnUse" cx="1407.3" cy="1255.2" r="289.5"><stop offset="0" stop-color="#f6ec00"/><stop offset=".037" stop-color="#f8dc00"/><stop offset=".057" stop-color="#f5a800"/><stop offset=".119" stop-color="#f03c00"/><stop offset=".128" stop-color="#f00"/><stop offset=".161" stop-color="#f00"/><stop offset=".161" stop-color="#f03c00"/><stop offset=".161" stop-color="#f5a800"/><stop offset=".161" stop-color="#f8dc00"/><stop offset=".161" stop-color="#f5f500"/><stop offset=".162" stop-color="#8ee300"/><stop offset=".258" stop-color="#8fe300"/><stop offset=".547" stop-color="#daf000"/><stop offset=".547" stop-color="#ceed00"/><stop offset=".578" stop-color="#78e000"/><stop offset=".605" stop-color="#18dc10"/><stop offset=".621" stop-color="#00e040"/><stop offset=".628" stop-color="#00e8a0"/><stop offset=".642" stop-color="#00f4f4"/><stop offset=".688" stop-color="#0070f0"/><stop offset=".716" stop-color="#1414f0"/><stop offset=".742" stop-color="#5010e0"/><stop offset=".778" stop-color="#8812d8"/><stop offset=".853" stop-color="#8c10c4"/><stop offset=".934" stop-color="#8812d8"/><stop offset=".977" stop-color="#2c12ea"/></radialGradient><radialGradient id="f44" gradientUnits="userSpaceOnUse" cx="1407.3" cy="1255.2" r="289.5"><stop offset="0" stop-color="#f6ec00"/><stop offset=".037" stop-color="#f8dc00"/><stop offset=".057" stop-color="#f5a800"/><stop offset=".119" stop-color="#f03c00"/><stop offset=".128" stop-color="#f00"/><stop offset=".161" stop-color="#f00"/><stop offset=".161" stop-color="#f03c00"/><stop offset=".161" stop-color="#f5a800"/><stop offset=".161" stop-color="#f8dc00"/><stop offset=".161" stop-color="#f5f500"/><stop offset=".162" stop-color="#8ee300"/><stop offset=".303" stop-color="#97e500"/><stop offset=".54" stop-color="#d5ef00"/><stop offset=".575" stop-color="#78e000"/><stop offset=".603" stop-color="#18dc10"/><stop offset=".618" stop-color="#00e040"/><stop offset=".626" stop-color="#00e8a0"/><stop offset=".64" stop-color="#00f4f4"/><stop offset=".685" stop-color="#0070f0"/><stop offset=".713" stop-color="#1414f0"/><stop offset=".739" stop-color="#5010e0"/><stop offset=".775" stop-color="#8812d8"/><stop offset=".85" stop-color="#8c10c4"/><stop offset=".931" stop-color="#8812d8"/><stop offset=".975" stop-color="#2913ea"/></radialGradient><radialGradient id="f45" gradientUnits="userSpaceOnUse" cx="1407.3" cy="1255.2" r="289.5"><stop offset="0" stop-color="#f6ec00"/><stop offset=".037" stop-color="#f8dc00"/><stop offset=".057" stop-color="#f5a800"/><stop offset=".119" stop-color="#f03c00"/><stop offset=".128" stop-color="#f00"/><stop offset=".161" stop-color="#f00"/><stop offset=".161" stop-color="#f03c00"/><stop offset=".161" stop-color="#f5a800"/><stop offset=".161" stop-color="#f8dc00"/><stop offset=".161" stop-color="#f5f500"/><stop offset=".162" stop-color="#8ee300"/><stop offset=".301" stop-color="#94e400"/><stop offset=".534" stop-color="#cfed00"/><stop offset=".574" stop-color="#78e000"/><stop offset=".602" stop-color="#18dc10"/><stop offset=".617" stop-color="#00e040"/><stop offset=".625" stop-color="#00e8a0"/><stop offset=".639" stop-color="#00f4f4"/><stop offset=".684" stop-color="#0070f0"/><stop offset=".712" stop-color="#1414f0"/><stop offset=".738" stop-color="#5010e0"/><stop offset=".775" stop-color="#8812d8"/><stop offset=".85" stop-color="#8c10c4"/><stop offset=".93" stop-color="#8812d8"/><stop offset=".974" stop-color="#2913ea"/></radialGradient><radialGradient id="f46" gradientUnits="userSpaceOnUse" cx="1407.3" cy="1255.2" r="289.5"><stop offset="0" stop-color="#f6ec00"/><stop offset=".037" stop-color="#f8dc00"/><stop offset=".057" stop-color="#f5a800"/><stop offset=".119" stop-color="#f03c00"/><stop offset=".128" stop-color="#f00"/><stop offset=".161" stop-color="#f00"/><stop offset=".161" stop-color="#f03c00"/><stop offset=".161" stop-color="#f5a800"/><stop offset=".161" stop-color="#f8dc00"/><stop offset=".161" stop-color="#f5f500"/><stop offset=".162" stop-color="#8ee300"/><stop offset=".299" stop-color="#91e400"/><stop offset=".529" stop-color="#ceed00"/><stop offset=".572" stop-color="#78e000"/><stop offset=".602" stop-color="#18dc10"/><stop offset=".616" stop-color="#00e040"/><stop offset=".624" stop-color="#00e8a0"/><stop offset=".637" stop-color="#00f4f4"/><stop offset=".683" stop-color="#0070f0"/><stop offset=".711" stop-color="#1414f0"/><stop offset=".737" stop-color="#5010e0"/><stop offset=".774" stop-color="#8812d8"/><stop offset=".85" stop-color="#8c10c4"/><stop offset=".93" stop-color="#8812d8"/><stop offset=".973" stop-color="#2913ea"/></radialGradient><radialGradient id="f47" gradientUnits="userSpaceOnUse" cx="1407.3" cy="1255.2" r="289.5"><stop offset="0" stop-color="#f6ec00"/><stop offset=".037" stop-color="#f8dc00"/><stop offset=".057" stop-color="#f5a800"/><stop offset=".119" stop-color="#f03c00"/><stop offset=".128" stop-color="#f00"/><stop offset=".161" stop-color="#f00"/><stop offset=".161" stop-color="#f03c00"/><stop offset=".161" stop-color="#f5a800"/><stop offset=".161" stop-color="#f8dc00"/><stop offset=".161" stop-color="#f5f500"/><stop offset=".162" stop-color="#8ee300"/><stop offset=".297" stop-color="#91e400"/><stop offset=".524" stop-color="#ceed00"/><stop offset=".579" stop-color="#63df04"/><stop offset=".601" stop-color="#18dc10"/><stop offset=".615" stop-color="#00e040"/><stop offset=".623" stop-color="#00e8a0"/><stop offset=".636" stop-color="#00f4f4"/><stop offset=".682" stop-color="#0070f0"/><stop offset=".71" stop-color="#1414f0"/><stop offset=".737" stop-color="#5010e0"/><stop offset=".774" stop-color="#8812d8"/><stop offset=".85" stop-color="#8c10c4"/><stop offset=".929" stop-color="#8812d8"/><stop offset=".973" stop-color="#2913ea"/></radialGradient><radialGradient id="f48" gradientUnits="userSpaceOnUse" cx="1407.3" cy="1255.2" r="289.5"><stop offset="0" stop-color="#f6ec00"/><stop offset=".037" stop-color="#f8dc00"/><stop offset=".057" stop-color="#f5a800"/><stop offset=".119" stop-color="#f03c00"/><stop offset=".128" stop-color="#f00"/><stop offset=".161" stop-color="#f00"/><stop offset=".161" stop-color="#f03c00"/><stop offset=".161" stop-color="#f5a800"/><stop offset=".161" stop-color="#f8dc00"/><stop offset=".161" stop-color="#f5f500"/><stop offset=".162" stop-color="#8ee300"/><stop offset=".34" stop-color="#96e500"/><stop offset=".519" stop-color="#bfeb00"/><stop offset=".519" stop-color="#ceed00"/><stop offset=".578" stop-color="#63df04"/><stop offset=".6" stop-color="#18dc10"/><stop offset=".615" stop-color="#00e040"/><stop offset=".622" stop-color="#00e8a0"/><stop offset=".635" stop-color="#00f4f4"/><stop offset=".681" stop-color="#0070f0"/><stop offset=".709" stop-color="#1414f0"/><stop offset=".736" stop-color="#5010e0"/><stop offset=".773" stop-color="#8812d8"/><stop offset=".85" stop-color="#8c10c4"/><stop offset=".928" stop-color="#8812d8"/><stop offset=".972" stop-color="#2913ea"/></radialGradient><radialGradient id="f49" gradientUnits="userSpaceOnUse" cx="1407.3" cy="1255.2" r="289.5"><stop offset="0" stop-color="#f6ec00"/><stop offset=".037" stop-color="#f8dc00"/><stop offset=".057" stop-color="#f5a800"/><stop offset=".119" stop-color="#f03c00"/><stop offset=".128" stop-color="#f00"/><stop offset=".161" stop-color="#f00"/><stop offset=".161" stop-color="#f03c00"/><stop offset=".161" stop-color="#f5a800"/><stop offset=".161" stop-color="#f8dc00"/><stop offset=".161" stop-color="#f5f500"/><stop offset=".162" stop-color="#8ee300"/><stop offset=".382" stop-color="#9be500"/><stop offset=".515" stop-color="#b9ea00"/><stop offset=".515" stop-color="#ceed00"/><stop offset=".568" stop-color="#78e000"/><stop offset=".599" stop-color="#18dc10"/><stop offset=".614" stop-color="#00e040"/><stop offset=".621" stop-color="#00e8a0"/><stop offset=".634" stop-color="#00f4f4"/><stop offset=".68" stop-color="#0070f0"/><stop offset=".709" stop-color="#1414f0"/><stop offset=".736" stop-color="#5010e0"/><stop offset=".773" stop-color="#8812d8"/><stop offset=".85" stop-color="#8c10c4"/><stop offset=".927" stop-color="#8812d8"/><stop offset=".971" stop-color="#2913ea"/></radialGradient><radialGradient id="f50" gradientUnits="userSpaceOnUse" cx="1407.3" cy="1255.2" r="289.5"><stop offset="0" stop-color="#f6ec00"/><stop offset=".037" stop-color="#f8dc00"/><stop offset=".057" stop-color="#f5a800"/><stop offset=".119" stop-color="#f03c00"/><stop offset=".128" stop-color="#f00"/><stop offset=".161" stop-color="#f00"/><stop offset=".161" stop-color="#f03c00"/><stop offset=".161" stop-color="#f5a800"/><stop offset=".161" stop-color="#f8dc00"/><stop offset=".161" stop-color="#f5f500"/><stop offset=".162" stop-color="#8ee300"/><stop offset=".292" stop-color="#92e400"/><stop offset=".511" stop-color="#b4e900"/><stop offset=".511" stop-color="#ceed00"/><stop offset=".566" stop-color="#78e000"/><stop offset=".598" stop-color="#18dc10"/><stop offset=".613" stop-color="#00e040"/><stop offset=".62" stop-color="#00e8a0"/><stop offset=".633" stop-color="#00f4f4"/><stop offset=".679" stop-color="#0070f0"/><stop offset=".708" stop-color="#1414f0"/><stop offset=".735" stop-color="#5010e0"/><stop offset=".773" stop-color="#8812d8"/><stop offset=".85" stop-color="#8c10c4"/><stop offset=".927" stop-color="#8812d8"/><stop offset=".97" stop-color="#2913ea"/></radialGradient><radialGradient id="f51" gradientUnits="userSpaceOnUse" cx="1407.3" cy="1255.2" r="289.5"><stop offset="0" stop-color="#f6ec00"/><stop offset=".037" stop-color="#f8dc00"/><stop offset=".057" stop-color="#f5a800"/><stop offset=".119" stop-color="#f03c00"/><stop offset=".128" stop-color="#f00"/><stop offset=".161" stop-color="#f00"/><stop offset=".161" stop-color="#f03c00"/><stop offset=".161" stop-color="#f5a800"/><stop offset=".161" stop-color="#f8dc00"/><stop offset=".161" stop-color="#f5f500"/><stop offset=".162" stop-color="#8ee300"/><stop offset=".508" stop-color="#aee800"/><stop offset=".508" stop-color="#ceed00"/><stop offset=".565" stop-color="#78e000"/><stop offset=".598" stop-color="#18dc10"/><stop offset=".612" stop-color="#00e040"/><stop offset=".619" stop-color="#00e8a0"/><stop offset=".632" stop-color="#00f4f4"/><stop offset=".679" stop-color="#0070f0"/><stop offset=".707" stop-color="#1414f0"/><stop offset=".734" stop-color="#5010e0"/><stop offset=".772" stop-color="#8812d8"/><stop offset=".85" stop-color="#8c10c4"/><stop offset=".926" stop-color="#8812d8"/><stop offset=".97" stop-color="#2913ea"/></radialGradient><radialGradient id="f52" gradientUnits="userSpaceOnUse" cx="1407.3" cy="1255.2" r="289.5"><stop offset="0" stop-color="#f6ec00"/><stop offset=".037" stop-color="#f8dc00"/><stop offset=".057" stop-color="#f5a800"/><stop offset=".119" stop-color="#f03c00"/><stop offset=".128" stop-color="#f00"/><stop offset=".161" stop-color="#f00"/><stop offset=".161" stop-color="#f03c00"/><stop offset=".161" stop-color="#f5a800"/><stop offset=".161" stop-color="#f8dc00"/><stop offset=".161" stop-color="#f5f500"/><stop offset=".162" stop-color="#8ee300"/><stop offset=".505" stop-color="#aae800"/><stop offset=".505" stop-color="#ceed00"/><stop offset=".564" stop-color="#78e000"/><stop offset=".597" stop-color="#18dc10"/><stop offset=".611" stop-color="#00e040"/><stop offset=".618" stop-color="#00e8a0"/><stop offset=".631" stop-color="#00f4f4"/><stop offset=".678" stop-color="#0070f0"/><stop offset=".706" stop-color="#1414f0"/><stop offset=".734" stop-color="#5010e0"/><stop offset=".772" stop-color="#8812d8"/><stop offset=".85" stop-color="#8c10c4"/><stop offset=".925" stop-color="#8812d8"/><stop offset=".969" stop-color="#2913ea"/></radialGradient><radialGradient id="f53" gradientUnits="userSpaceOnUse" cx="1407.3" cy="1255.2" r="289.5"><stop offset="0" stop-color="#f6ec00"/><stop offset=".037" stop-color="#f8dc00"/><stop offset=".057" stop-color="#f5a800"/><stop offset=".119" stop-color="#f03c00"/><stop offset=".128" stop-color="#f00"/><stop offset=".161" stop-color="#f00"/><stop offset=".161" stop-color="#f03c00"/><stop offset=".161" stop-color="#f5a800"/><stop offset=".161" stop-color="#f8dc00"/><stop offset=".161" stop-color="#f5f500"/><stop offset=".162" stop-color="#8ee300"/><stop offset=".502" stop-color="#aae800"/><stop offset=".502" stop-color="#ceed00"/><stop offset=".563" stop-color="#78e000"/><stop offset=".596" stop-color="#18dc10"/><stop offset=".61" stop-color="#00e040"/><stop offset=".617" stop-color="#00e8a0"/><stop offset=".63" stop-color="#00f4f4"/><stop offset=".677" stop-color="#0070f0"/><stop offset=".705" stop-color="#1414f0"/><stop offset=".733" stop-color="#5010e0"/><stop offset=".771" stop-color="#8812d8"/><stop offset=".85" stop-color="#8c10c4"/><stop offset=".924" stop-color="#8812d8"/><stop offset=".968" stop-color="#2913ea"/></radialGradient><radialGradient id="f54" gradientUnits="userSpaceOnUse" cx="1407.3" cy="1255.2" r="289.5"><stop offset="0" stop-color="#f6ec00"/><stop offset=".037" stop-color="#f8dc00"/><stop offset=".057" stop-color="#f5a800"/><stop offset=".119" stop-color="#f03c00"/><stop offset=".128" stop-color="#f00"/><stop offset=".161" stop-color="#f00"/><stop offset=".161" stop-color="#f03c00"/><stop offset=".161" stop-color="#f5a800"/><stop offset=".161" stop-color="#f8dc00"/><stop offset=".161" stop-color="#f5f500"/><stop offset=".162" stop-color="#8ee300"/><stop offset=".5" stop-color="#aae800"/><stop offset=".5" stop-color="#ceed00"/><stop offset=".562" stop-color="#78e000"/><stop offset=".595" stop-color="#18dc10"/><stop offset=".609" stop-color="#00e040"/><stop offset=".616" stop-color="#00e8a0"/><stop offset=".629" stop-color="#00f4f4"/><stop offset=".676" stop-color="#0070f0"/><stop offset=".705" stop-color="#1414f0"/><stop offset=".732" stop-color="#5010e0"/><stop offset=".771" stop-color="#8812d8"/><stop offset=".85" stop-color="#8c10c4"/><stop offset=".923" stop-color="#8812d8"/><stop offset=".967" stop-color="#2913ea"/></radialGradient><radialGradient id="f55" gradientUnits="userSpaceOnUse" cx="1407.3" cy="1255.2" r="289.5"><stop offset="0" stop-color="#f6ec00"/><stop offset=".037" stop-color="#f8dc00"/><stop offset=".057" stop-color="#f5a800"/><stop offset=".119" stop-color="#f03c00"/><stop offset=".128" stop-color="#f00"/><stop offset=".161" stop-color="#f00"/><stop offset=".161" stop-color="#f03c00"/><stop offset=".161" stop-color="#f5a800"/><stop offset=".161" stop-color="#f8dc00"/><stop offset=".161" stop-color="#f5f500"/><stop offset=".162" stop-color="#8ee300"/><stop offset=".498" stop-color="#aae800"/><stop offset=".498" stop-color="#ceed00"/><stop offset=".561" stop-color="#78e000"/><stop offset=".594" stop-color="#18dc10"/><stop offset=".608" stop-color="#00e040"/><stop offset=".615" stop-color="#00e8a0"/><stop offset=".628" stop-color="#00f4f4"/><stop offset=".675" stop-color="#0070f0"/><stop offset=".704" stop-color="#1414f0"/><stop offset=".732" stop-color="#5010e0"/><stop offset=".771" stop-color="#8812d8"/><stop offset=".85" stop-color="#8c10c4"/><stop offset=".923" stop-color="#8812d8"/><stop offset=".966" stop-color="#2913ea"/></radialGradient><radialGradient id="f56" gradientUnits="userSpaceOnUse" cx="1407.3" cy="1255.2" r="289.5"><stop offset="0" stop-color="#f6ec00"/><stop offset=".037" stop-color="#f8dc00"/><stop offset=".057" stop-color="#f5a800"/><stop offset=".119" stop-color="#f03c00"/><stop offset=".128" stop-color="#f00"/><stop offset=".161" stop-color="#f00"/><stop offset=".161" stop-color="#f03c00"/><stop offset=".161" stop-color="#f5a800"/><stop offset=".161" stop-color="#f8dc00"/><stop offset=".161" stop-color="#f5f500"/><stop offset=".162" stop-color="#8ee300"/><stop offset=".496" stop-color="#aae800"/><stop offset=".497" stop-color="#ceed00"/><stop offset=".56" stop-color="#78e000"/><stop offset=".594" stop-color="#18dc10"/><stop offset=".607" stop-color="#00e040"/><stop offset=".615" stop-color="#00e8a0"/><stop offset=".627" stop-color="#00f4f4"/><stop offset=".674" stop-color="#0070f0"/><stop offset=".703" stop-color="#1414f0"/><stop offset=".731" stop-color="#5010e0"/><stop offset=".77" stop-color="#8812d8"/><stop offset=".85" stop-color="#8c10c4"/><stop offset=".922" stop-color="#8812d8"/><stop offset=".966" stop-color="#2913ea"/></radialGradient><radialGradient id="f57" gradientUnits="userSpaceOnUse" cx="1407.3" cy="1255.2" r="289.5"><stop offset="0" stop-color="#f6ec00"/><stop offset=".037" stop-color="#f8dc00"/><stop offset=".057" stop-color="#f5a800"/><stop offset=".119" stop-color="#f03c00"/><stop offset=".128" stop-color="#f00"/><stop offset=".161" stop-color="#f00"/><stop offset=".161" stop-color="#f03c00"/><stop offset=".161" stop-color="#f5a800"/><stop offset=".161" stop-color="#f8dc00"/><stop offset=".161" stop-color="#f5f500"/><stop offset=".162" stop-color="#8ee300"/><stop offset=".495" stop-color="#aae800"/><stop offset=".496" stop-color="#ceed00"/><stop offset=".559" stop-color="#78e000"/><stop offset=".593" stop-color="#18dc10"/><stop offset=".607" stop-color="#00e040"/><stop offset=".614" stop-color="#00e8a0"/><stop offset=".625" stop-color="#00f4f4"/><stop offset=".673" stop-color="#0070f0"/><stop offset=".702" stop-color="#1414f0"/><stop offset=".731" stop-color="#5010e0"/><stop offset=".77" stop-color="#8812d8"/><stop offset=".85" stop-color="#8c10c4"/><stop offset=".921" stop-color="#8812d8"/><stop offset=".965" stop-color="#2913ea"/></radialGradient><radialGradient id="f58" gradientUnits="userSpaceOnUse" cx="1407.3" cy="1255.2" r="289.5"><stop offset="0" stop-color="#f6ec00"/><stop offset=".037" stop-color="#f8dc00"/><stop offset=".057" stop-color="#f5a800"/><stop offset=".119" stop-color="#f03c00"/><stop offset=".128" stop-color="#f00"/><stop offset=".161" stop-color="#f00"/><stop offset=".161" stop-color="#f03c00"/><stop offset=".161" stop-color="#f5a800"/><stop offset=".161" stop-color="#f8dc00"/><stop offset=".161" stop-color="#f5f500"/><stop offset=".162" stop-color="#8ee300"/><stop offset=".494" stop-color="#aae800"/><stop offset=".495" stop-color="#ceed00"/><stop offset=".558" stop-color="#78e000"/><stop offset=".592" stop-color="#18dc10"/><stop offset=".606" stop-color="#00e040"/><stop offset=".613" stop-color="#00e8a0"/><stop offset=".624" stop-color="#00f4f4"/><stop offset=".672" stop-color="#0070f0"/><stop offset=".702" stop-color="#1414f0"/><stop offset=".73" stop-color="#5010e0"/><stop offset=".77" stop-color="#8812d8"/><stop offset=".85" stop-color="#8c10c4"/><stop offset=".92" stop-color="#8812d8"/><stop offset=".964" stop-color="#2913ea"/></radialGradient><radialGradient id="f59" gradientUnits="userSpaceOnUse" cx="1407.3" cy="1255.2" r="289.5"><stop offset="0" stop-color="#f6ec00"/><stop offset=".037" stop-color="#f8dc00"/><stop offset=".057" stop-color="#f5a800"/><stop offset=".119" stop-color="#f03c00"/><stop offset=".128" stop-color="#f00"/><stop offset=".161" stop-color="#f00"/><stop offset=".161" stop-color="#f03c00"/><stop offset=".161" stop-color="#f5a800"/><stop offset=".161" stop-color="#f8dc00"/><stop offset=".161" stop-color="#f5f500"/><stop offset=".162" stop-color="#8ee300"/><stop offset=".494" stop-color="#aae800"/><stop offset=".494" stop-color="#ceed00"/><stop offset=".557" stop-color="#78e000"/><stop offset=".591" stop-color="#18dc10"/><stop offset=".605" stop-color="#00e040"/><stop offset=".612" stop-color="#00e8a0"/><stop offset=".623" stop-color="#00f4f4"/><stop offset=".671" stop-color="#0070f0"/><stop offset=".701" stop-color="#1414f0"/><stop offset=".729" stop-color="#5010e0"/><stop offset=".769" stop-color="#8812d8"/><stop offset=".85" stop-color="#8c10c4"/><stop offset=".92" stop-color="#8812d8"/><stop offset=".963" stop-color="#2913ea"/></radialGradient><radialGradient id="f60" gradientUnits="userSpaceOnUse" cx="1407.3" cy="1255.2" r="289.5"><stop offset="0" stop-color="#f6ec00"/><stop offset=".037" stop-color="#f8dc00"/><stop offset=".057" stop-color="#f5a800"/><stop offset=".119" stop-color="#f03c00"/><stop offset=".128" stop-color="#f00"/><stop offset=".161" stop-color="#f00"/><stop offset=".161" stop-color="#f03c00"/><stop offset=".161" stop-color="#f5a800"/><stop offset=".161" stop-color="#f8dc00"/><stop offset=".161" stop-color="#f5f500"/><stop offset=".162" stop-color="#8ee300"/><stop offset=".494" stop-color="#aae800"/><stop offset=".494" stop-color="#ceed00"/><stop offset=".556" stop-color="#78e000"/><stop offset=".59" stop-color="#18dc10"/><stop offset=".604" stop-color="#00e040"/><stop offset=".611" stop-color="#00e8a0"/><stop offset=".622" stop-color="#00f4f4"/><stop offset=".67" stop-color="#0070f0"/><stop offset=".7" stop-color="#1414f0"/><stop offset=".729" stop-color="#5010e0"/><stop offset=".769" stop-color="#8812d8"/><stop offset=".85" stop-color="#8c10c4"/><stop offset=".919" stop-color="#8812d8"/><stop offset=".963" stop-color="#2913ea"/></radialGradient></defs><circle cx="1407.3" cy="1255.2" r="309.8" fill="url(#f30)"/><g shape-rendering="crispEdges"><path d="M1407.3 1255.2L1402.6 945.5L1412 945.5ZM1407.3 1255.2L1412 1564.9L1402.6 1564.9Z" fill="url(#f0)"/><path d="M1407.3 1255.2L1410.7 945.5L1420.1 945.7ZM1407.3 1255.2L1420.1 1564.7L1410.7 1564.9ZM1407.3 1255.2L1403.9 1564.9L1394.5 1564.7ZM1407.3 1255.2L1394.5 945.7L1403.9 945.5Z" fill="url(#f1)"/><path d="M1407.3 1255.2L1418.8 945.6L1428.2 946.1ZM1407.3 1255.2L1428.2 1564.3L1418.8 1564.8ZM1407.3 1255.2L1395.8 1564.8L1386.4 1564.3ZM1407.3 1255.2L1386.4 946.1L1395.8 945.6Z" fill="url(#f2)"/><path d="M1407.3 1255.2L1426.9 946.1L1436.3 946.8ZM1407.3 1255.2L1436.3 1563.6L1426.9 1564.3ZM1407.3 1255.2L1387.7 1564.3L1378.3 1563.6ZM1407.3 1255.2L1378.3 946.8L1387.7 946.1Z" fill="url(#f3)"/><path d="M1407.3 1255.2L1435 946.7L1444.4 947.7ZM1407.3 1255.2L1444.4 1562.7L1435 1563.7ZM1407.3 1255.2L1379.6 1563.7L1370.2 1562.7ZM1407.3 1255.2L1370.2 947.7L1379.6 946.7Z" fill="url(#f4)"/><path d="M1407.3 1255.2L1443.1 947.5L1452.4 948.7ZM1407.3 1255.2L1452.4 1561.7L1443.1 1562.9ZM1407.3 1255.2L1371.5 1562.9L1362.2 1561.7ZM1407.3 1255.2L1362.2 948.7L1371.5 947.5Z" fill="url(#f5)"/><path d="M1407.3 1255.2L1451.1 948.5L1460.4 950ZM1407.3 1255.2L1460.4 1560.4L1451.1 1561.9ZM1407.3 1255.2L1363.5 1561.9L1354.2 1560.4ZM1407.3 1255.2L1354.2 950L1363.5 948.5Z" fill="url(#f6)"/><path d="M1407.3 1255.2L1459.1 949.8L1468.4 951.5ZM1407.3 1255.2L1468.4 1558.9L1459.1 1560.6ZM1407.3 1255.2L1355.5 1560.6L1346.2 1558.9ZM1407.3 1255.2L1346.2 951.5L1355.5 949.8Z" fill="url(#f7)"/><path d="M1407.3 1255.2L1467.1 951.3L1476.3 953.2ZM1407.3 1255.2L1476.3 1557.2L1467.1 1559.1ZM1407.3 1255.2L1347.5 1559.1L1338.3 1557.2ZM1407.3 1255.2L1338.3 953.2L1347.5 951.3Z" fill="url(#f8)"/><path d="M1407.3 1255.2L1475 952.9L1484.2 955.1ZM1407.3 1255.2L1484.2 1555.3L1475 1557.5ZM1407.3 1255.2L1339.6 1557.5L1330.4 1555.3ZM1407.3 1255.2L1330.4 955.1L1339.6 952.9Z" fill="url(#f9)"/><path d="M1407.3 1255.2L1482.9 954.8L1492 957.2ZM1407.3 1255.2L1492 1553.2L1482.9 1555.6ZM1407.3 1255.2L1331.7 1555.6L1322.6 1553.2ZM1407.3 1255.2L1322.6 957.2L1331.7 954.8Z" fill="url(#f10)"/><path d="M1407.3 1255.2L1490.8 956.9L1499.8 959.6ZM1407.3 1255.2L1499.8 1550.8L1490.8 1553.5ZM1407.3 1255.2L1323.8 1553.5L1314.8 1550.8ZM1407.3 1255.2L1314.8 959.6L1323.8 956.9Z" fill="url(#f11)"/><path d="M1407.3 1255.2L1498.5 959.2L1507.5 962.1ZM1407.3 1255.2L1507.5 1548.3L1498.5 1551.2ZM1407.3 1255.2L1316.1 1551.2L1307.1 1548.3ZM1407.3 1255.2L1307.1 962.1L1316.1 959.2Z" fill="url(#f12)"/><path d="M1407.3 1255.2L1506.3 961.7L1515.1 964.8ZM1407.3 1255.2L1515.1 1545.6L1506.3 1548.7ZM1407.3 1255.2L1308.3 1548.7L1299.5 1545.6ZM1407.3 1255.2L1299.5 964.8L1308.3 961.7Z" fill="url(#f13)"/><path d="M1407.3 1255.2L1513.9 964.4L1522.7 967.7ZM1407.3 1255.2L1522.7 1542.7L1513.9 1546ZM1407.3 1255.2L1300.7 1546L1291.9 1542.7ZM1407.3 1255.2L1291.9 967.7L1300.7 964.4Z" fill="url(#f14)"/><path d="M1407.3 1255.2L1521.5 967.2L1530.2 970.8ZM1407.3 1255.2L1530.2 1539.6L1521.5 1543.2ZM1407.3 1255.2L1293.1 1543.2L1284.4 1539.6ZM1407.3 1255.2L1284.4 970.8L1293.1 967.2Z" fill="url(#f15)"/><path d="M1407.3 1255.2L1529 970.3L1537.6 974.2ZM1407.3 1255.2L1537.6 1536.2L1529 1540.1ZM1407.3 1255.2L1285.6 1540.1L1277 1536.2ZM1407.3 1255.2L1277 974.2L1285.6 970.3Z" fill="url(#f16)"/><path d="M1407.3 1255.2L1536.4 973.6L1544.9 977.7ZM1407.3 1255.2L1544.9 1532.7L1536.4 1536.8ZM1407.3 1255.2L1278.2 1536.8L1269.7 1532.7ZM1407.3 1255.2L1269.7 977.7L1278.2 973.6Z" fill="url(#f17)"/><path d="M1407.3 1255.2L1543.7 977.1L1552.1 981.4ZM1407.3 1255.2L1552.1 1529L1543.7 1533.3ZM1407.3 1255.2L1270.9 1533.3L1262.5 1529ZM1407.3 1255.2L1262.5 981.4L1270.9 977.1Z" fill="url(#f18)"/><path d="M1407.3 1255.2L1551 980.8L1559.2 985.2ZM1407.3 1255.2L1559.2 1525.2L1551 1529.6ZM1407.3 1255.2L1263.6 1529.6L1255.4 1525.2ZM1407.3 1255.2L1255.4 985.2L1263.6 980.8Z" fill="url(#f19)"/><path d="M1407.3 1255.2L1558.1 984.6L1566.2 989.3ZM1407.3 1255.2L1566.2 1521.1L1558.1 1525.8ZM1407.3 1255.2L1256.5 1525.8L1248.4 1521.1ZM1407.3 1255.2L1248.4 989.3L1256.5 984.6Z" fill="url(#f20)"/><path d="M1407.3 1255.2L1565.1 988.7L1573.1 993.6ZM1407.3 1255.2L1573.1 1516.8L1565.1 1521.7ZM1407.3 1255.2L1249.5 1521.7L1241.5 1516.8ZM1407.3 1255.2L1241.5 993.6L1249.5 988.7Z" fill="url(#f21)"/><path d="M1407.3 1255.2L1572 992.9L1579.9 998ZM1407.3 1255.2L1579.9 1512.4L1572 1517.5ZM1407.3 1255.2L1242.6 1517.5L1234.7 1512.4ZM1407.3 1255.2L1234.7 998L1242.6 992.9Z" fill="url(#f22)"/><path d="M1407.3 1255.2L1578.9 997.3L1586.6 1002.6ZM1407.3 1255.2L1586.6 1507.8L1578.9 1513.1ZM1407.3 1255.2L1235.7 1513.1L1228 1507.8ZM1407.3 1255.2L1228 1002.6L1235.7 997.3Z" fill="url(#f23)"/><path d="M1407.3 1255.2L1585.5 1001.9L1593.2 1007.4ZM1407.3 1255.2L1593.2 1503L1585.5 1508.5ZM1407.3 1255.2L1229.1 1508.5L1221.4 1503ZM1407.3 1255.2L1221.4 1007.4L1229.1 1001.9Z" fill="url(#f24)"/><path d="M1407.3 1255.2L1592.1 1006.6L1599.6 1012.3ZM1407.3 1255.2L1599.6 1498.1L1592.1 1503.8ZM1407.3 1255.2L1222.5 1503.8L1215 1498.1ZM1407.3 1255.2L1215 1012.3L1222.5 1006.6Z" fill="url(#f25)"/><path d="M1407.3 1255.2L1598.6 1011.5L1605.9 1017.5ZM1407.3 1255.2L1605.9 1492.9L1598.6 1498.9ZM1407.3 1255.2L1216 1498.9L1208.7 1492.9ZM1407.3 1255.2L1208.7 1017.5L1216 1011.5Z" fill="url(#f26)"/><path d="M1407.3 1255.2L1604.9 1016.6L1612 1022.7ZM1407.3 1255.2L1612 1487.7L1604.9 1493.8ZM1407.3 1255.2L1209.7 1493.8L1202.6 1487.7ZM1407.3 1255.2L1202.6 1022.7L1209.7 1016.6Z" fill="url(#f27)"/><path d="M1407.3 1255.2L1611.1 1021.9L1618 1028.2ZM1407.3 1255.2L1618 1482.2L1611.1 1488.5ZM1407.3 1255.2L1203.5 1488.5L1196.6 1482.2ZM1407.3 1255.2L1196.6 1028.2L1203.5 1021.9Z" fill="url(#f28)"/><path d="M1407.3 1255.2L1617.1 1027.3L1623.9 1033.8ZM1407.3 1255.2L1623.9 1476.6L1617.1 1483.1ZM1407.3 1255.2L1197.5 1483.1L1190.7 1476.6ZM1407.3 1255.2L1190.7 1033.8L1197.5 1027.3Z" fill="url(#f29)"/><path d="M1407.3 1255.2L1623 1032.9L1629.6 1039.5ZM1407.3 1255.2L1629.6 1470.9L1623 1477.5ZM1407.3 1255.2L1191.6 1477.5L1185 1470.9ZM1407.3 1255.2L1185 1039.5L1191.6 1032.9Z" fill="url(#f30)"/><path d="M1407.3 1255.2L1628.7 1038.6L1635.2 1045.4ZM1407.3 1255.2L1635.2 1465L1628.7 1471.8ZM1407.3 1255.2L1185.9 1471.8L1179.4 1465ZM1407.3 1255.2L1179.4 1045.4L1185.9 1038.6Z" fill="url(#f31)"/><path d="M1407.3 1255.2L1634.3 1044.5L1640.6 1051.4ZM1407.3 1255.2L1640.6 1459L1634.3 1465.9ZM1407.3 1255.2L1180.3 1465.9L1174 1459ZM1407.3 1255.2L1174 1051.4L1180.3 1044.5Z" fill="url(#f32)"/><path d="M1407.3 1255.2L1639.8 1050.5L1645.9 1057.6ZM1407.3 1255.2L1645.9 1452.8L1639.8 1459.9ZM1407.3 1255.2L1174.8 1459.9L1168.7 1452.8ZM1407.3 1255.2L1168.7 1057.6L1174.8 1050.5Z" fill="url(#f33)"/><path d="M1407.3 1255.2L1645 1056.6L1651 1063.9ZM1407.3 1255.2L1651 1446.5L1645 1453.8ZM1407.3 1255.2L1169.6 1453.8L1163.6 1446.5ZM1407.3 1255.2L1163.6 1063.9L1169.6 1056.6Z" fill="url(#f34)"/><path d="M1407.3 1255.2L1650.2 1062.9L1655.9 1070.4ZM1407.3 1255.2L1655.9 1440L1650.2 1447.5ZM1407.3 1255.2L1164.4 1447.5L1158.7 1440ZM1407.3 1255.2L1158.7 1070.4L1164.4 1062.9Z" fill="url(#f35)"/><path d="M1407.3 1255.2L1655.1 1069.3L1660.6 1077ZM1407.3 1255.2L1660.6 1433.4L1655.1 1441.1ZM1407.3 1255.2L1159.5 1441.1L1154 1433.4ZM1407.3 1255.2L1154 1077L1159.5 1069.3Z" fill="url(#f36)"/><path d="M1407.3 1255.2L1659.9 1075.9L1665.2 1083.6ZM1407.3 1255.2L1665.2 1426.8L1659.9 1434.5ZM1407.3 1255.2L1154.7 1434.5L1149.4 1426.8ZM1407.3 1255.2L1149.4 1083.6L1154.7 1075.9Z" fill="url(#f37)"/><path d="M1407.3 1255.2L1664.5 1082.6L1669.6 1090.5ZM1407.3 1255.2L1669.6 1419.9L1664.5 1427.8ZM1407.3 1255.2L1150.1 1427.8L1145 1419.9ZM1407.3 1255.2L1145 1090.5L1150.1 1082.6Z" fill="url(#f38)"/><path d="M1407.3 1255.2L1668.9 1089.4L1673.8 1097.4ZM1407.3 1255.2L1673.8 1413L1668.9 1421ZM1407.3 1255.2L1145.7 1421L1140.8 1413ZM1407.3 1255.2L1140.8 1097.4L1145.7 1089.4Z" fill="url(#f39)"/><path d="M1407.3 1255.2L1673.2 1096.3L1677.9 1104.4ZM1407.3 1255.2L1677.9 1406L1673.2 1414.1ZM1407.3 1255.2L1141.4 1414.1L1136.7 1406ZM1407.3 1255.2L1136.7 1104.4L1141.4 1096.3Z" fill="url(#f40)"/><path d="M1407.3 1255.2L1677.3 1103.3L1681.7 1111.5ZM1407.3 1255.2L1681.7 1398.9L1677.3 1407.1ZM1407.3 1255.2L1137.3 1407.1L1132.9 1398.9ZM1407.3 1255.2L1132.9 1111.5L1137.3 1103.3Z" fill="url(#f41)"/><path d="M1407.3 1255.2L1681.1 1110.4L1685.4 1118.8ZM1407.3 1255.2L1685.4 1391.6L1681.1 1400ZM1407.3 1255.2L1133.5 1400L1129.2 1391.6ZM1407.3 1255.2L1129.2 1118.8L1133.5 1110.4Z" fill="url(#f42)"/><path d="M1407.3 1255.2L1684.8 1117.6L1688.9 1126.1ZM1407.3 1255.2L1688.9 1384.3L1684.8 1392.8ZM1407.3 1255.2L1129.8 1392.8L1125.7 1384.3ZM1407.3 1255.2L1125.7 1126.1L1129.8 1117.6Z" fill="url(#f43)"/><path d="M1407.3 1255.2L1688.3 1124.9L1692.2 1133.5ZM1407.3 1255.2L1692.2 1376.9L1688.3 1385.5ZM1407.3 1255.2L1126.3 1385.5L1122.4 1376.9ZM1407.3 1255.2L1122.4 1133.5L1126.3 1124.9Z" fill="url(#f44)"/><path d="M1407.3 1255.2L1691.7 1132.3L1695.3 1141ZM1407.3 1255.2L1695.3 1369.4L1691.7 1378.1ZM1407.3 1255.2L1122.9 1378.1L1119.3 1369.4ZM1407.3 1255.2L1119.3 1141L1122.9 1132.3Z" fill="url(#f45)"/><path d="M1407.3 1255.2L1694.8 1139.8L1698.1 1148.6ZM1407.3 1255.2L1698.1 1361.8L1694.8 1370.6ZM1407.3 1255.2L1119.8 1370.6L1116.5 1361.8ZM1407.3 1255.2L1116.5 1148.6L1119.8 1139.8Z" fill="url(#f46)"/><path d="M1407.3 1255.2L1697.7 1147.4L1700.8 1156.2ZM1407.3 1255.2L1700.8 1354.2L1697.7 1363ZM1407.3 1255.2L1116.9 1363L1113.8 1354.2ZM1407.3 1255.2L1113.8 1156.2L1116.9 1147.4Z" fill="url(#f47)"/><path d="M1407.3 1255.2L1700.4 1155L1703.3 1164ZM1407.3 1255.2L1703.3 1346.4L1700.4 1355.4ZM1407.3 1255.2L1114.2 1355.4L1111.3 1346.4ZM1407.3 1255.2L1111.3 1164L1114.2 1155Z" fill="url(#f48)"/><path d="M1407.3 1255.2L1702.9 1162.7L1705.6 1171.7ZM1407.3 1255.2L1705.6 1338.7L1702.9 1347.7ZM1407.3 1255.2L1111.7 1347.7L1109 1338.7ZM1407.3 1255.2L1109 1171.7L1111.7 1162.7Z" fill="url(#f49)"/><path d="M1407.3 1255.2L1705.3 1170.5L1707.7 1179.6ZM1407.3 1255.2L1707.7 1330.8L1705.3 1339.9ZM1407.3 1255.2L1109.3 1339.9L1106.9 1330.8ZM1407.3 1255.2L1106.9 1179.6L1109.3 1170.5Z" fill="url(#f50)"/><path d="M1407.3 1255.2L1707.4 1178.3L1709.6 1187.5ZM1407.3 1255.2L1709.6 1322.9L1707.4 1332.1ZM1407.3 1255.2L1107.2 1332.1L1105 1322.9ZM1407.3 1255.2L1105 1187.5L1107.2 1178.3Z" fill="url(#f51)"/><path d="M1407.3 1255.2L1709.3 1186.2L1711.2 1195.4ZM1407.3 1255.2L1711.2 1315L1709.3 1324.2ZM1407.3 1255.2L1105.3 1324.2L1103.4 1315ZM1407.3 1255.2L1103.4 1195.4L1105.3 1186.2Z" fill="url(#f52)"/><path d="M1407.3 1255.2L1711 1194.1L1712.7 1203.4ZM1407.3 1255.2L1712.7 1307L1711 1316.3ZM1407.3 1255.2L1103.6 1316.3L1101.9 1307ZM1407.3 1255.2L1101.9 1203.4L1103.6 1194.1Z" fill="url(#f53)"/><path d="M1407.3 1255.2L1712.5 1202.1L1714 1211.4ZM1407.3 1255.2L1714 1299L1712.5 1308.3ZM1407.3 1255.2L1102.1 1308.3L1100.6 1299ZM1407.3 1255.2L1100.6 1211.4L1102.1 1202.1Z" fill="url(#f54)"/><path d="M1407.3 1255.2L1713.8 1210.1L1715 1219.4ZM1407.3 1255.2L1715 1291L1713.8 1300.3ZM1407.3 1255.2L1100.8 1300.3L1099.6 1291ZM1407.3 1255.2L1099.6 1219.4L1100.8 1210.1Z" fill="url(#f55)"/><path d="M1407.3 1255.2L1714.8 1218.1L1715.8 1227.5ZM1407.3 1255.2L1715.8 1282.9L1714.8 1292.3ZM1407.3 1255.2L1099.8 1292.3L1098.8 1282.9ZM1407.3 1255.2L1098.8 1227.5L1099.8 1218.1Z" fill="url(#f56)"/><path d="M1407.3 1255.2L1715.7 1226.2L1716.4 1235.6ZM1407.3 1255.2L1716.4 1274.8L1715.7 1284.2ZM1407.3 1255.2L1098.9 1284.2L1098.2 1274.8ZM1407.3 1255.2L1098.2 1235.6L1098.9 1226.2Z" fill="url(#f57)"/><path d="M1407.3 1255.2L1716.4 1234.3L1716.9 1243.7ZM1407.3 1255.2L1716.9 1266.7L1716.4 1276.1ZM1407.3 1255.2L1098.2 1276.1L1097.7 1266.7ZM1407.3 1255.2L1097.7 1243.7L1098.2 1234.3Z" fill="url(#f58)"/><path d="M1407.3 1255.2L1716.8 1242.4L1717 1251.8ZM1407.3 1255.2L1717 1258.6L1716.8 1268ZM1407.3 1255.2L1097.8 1268L1097.6 1258.6ZM1407.3 1255.2L1097.6 1251.8L1097.8 1242.4Z" fill="url(#f59)"/><path d="M1407.3 1255.2L1717 1250.5L1717 1259.9ZM1407.3 1255.2L1097.6 1259.9L1097.6 1250.5Z" fill="url(#f60)"/></g></g></g><clipPath id="cg"><circle cx="1407.3" cy="2135.2" r="289.5"/></clipPath><g clip-path="url(#cg)"><g filter="url(#bl2)"><defs><radialGradient id="g0" gradientUnits="userSpaceOnUse" cx="1407.3" cy="2135.2" r="289.5"><stop offset="0" stop-color="#8b11ca"/><stop offset=".051" stop-color="#8812d8"/><stop offset=".065" stop-color="#5010e0"/><stop offset=".075" stop-color="#1414f0"/><stop offset=".089" stop-color="#0070f0"/><stop offset=".113" stop-color="#00f4f4"/><stop offset=".125" stop-color="#00e8a0"/><stop offset=".133" stop-color="#00e040"/><stop offset=".146" stop-color="#18dc10"/><stop offset=".169" stop-color="#87e200"/><stop offset=".232" stop-color="#f5f500"/><stop offset=".251" stop-color="#f8dc00"/><stop offset=".262" stop-color="#f5a800"/><stop offset=".296" stop-color="#f03c00"/><stop offset=".302" stop-color="#f00"/><stop offset=".54" stop-color="#f00"/><stop offset=".599" stop-color="#8d0000"/><stop offset=".656" stop-color="#6a0000"/><stop offset=".656" stop-color="#9c0000"/><stop offset=".656" stop-color="#f00"/><stop offset=".749" stop-color="#f00"/><stop offset=".754" stop-color="#f03c00"/><stop offset=".79" stop-color="#f6b400"/><stop offset=".79" stop-color="#f8dc00"/><stop offset=".79" stop-color="#f6ec00"/><stop offset=".791" stop-color="#f5f500"/><stop offset=".795" stop-color="#78e000"/><stop offset=".796" stop-color="#38dd0b"/><stop offset=".8" stop-color="#15dd17"/><stop offset=".837" stop-color="#78e000"/><stop offset=".866" stop-color="#c8ec00"/><stop offset=".893" stop-color="#f5f500"/><stop offset=".925" stop-color="#f8dc00"/><stop offset=".941" stop-color="#f5a800"/><stop offset=".989" stop-color="#f03c00"/><stop offset=".997" stop-color="#f00"/><stop offset="1" stop-color="#f00"/></radialGradient><radialGradient id="g1" gradientUnits="userSpaceOnUse" cx="1407.3" cy="2135.2" r="289.5"><stop offset="0" stop-color="#8b11ca"/><stop offset=".051" stop-color="#8812d8"/><stop offset=".065" stop-color="#5010e0"/><stop offset=".075" stop-color="#1414f0"/><stop offset=".089" stop-color="#0070f0"/><stop offset=".113" stop-color="#00f4f4"/><stop offset=".125" stop-color="#00e8a0"/><stop offset=".133" stop-color="#00e040"/><stop offset=".146" stop-color="#18dc10"/><stop offset=".169" stop-color="#87e200"/><stop offset=".196" stop-color="#c1eb00"/><stop offset=".196" stop-color="#b0e800"/><stop offset=".232" stop-color="#f5f500"/><stop offset=".251" stop-color="#f8dc00"/><stop offset=".262" stop-color="#f5a800"/><stop offset=".296" stop-color="#f03c00"/><stop offset=".302" stop-color="#f00"/><stop offset=".527" stop-color="#f00"/><stop offset=".575" stop-color="#9c0000"/><stop offset=".613" stop-color="#740000"/><stop offset=".644" stop-color="#6a0000"/><stop offset=".644" stop-color="#9c0000"/><stop offset=".644" stop-color="#f00"/><stop offset=".746" stop-color="#f00"/><stop offset=".753" stop-color="#f03c00"/><stop offset=".783" stop-color="#f39400"/><stop offset=".783" stop-color="#f8dc00"/><stop offset=".784" stop-color="#f6ec00"/><stop offset=".785" stop-color="#f5f500"/><stop offset=".787" stop-color="#c8ec00"/><stop offset=".792" stop-color="#78e000"/><stop offset=".794" stop-color="#38dd0b"/><stop offset=".801" stop-color="#15dd17"/><stop offset=".838" stop-color="#78e000"/><stop offset=".868" stop-color="#c8ec00"/><stop offset=".896" stop-color="#f5f500"/><stop offset=".928" stop-color="#f8dc00"/><stop offset=".944" stop-color="#f5a800"/><stop offset=".995" stop-color="#f03c00"/><stop offset="1" stop-color="#f91900"/></radialGradient><radialGradient id="g2" gradientUnits="userSpaceOnUse" cx="1407.3" cy="2135.2" r="289.5"><stop offset="0" stop-color="#8b11ca"/><stop offset=".051" stop-color="#8812d8"/><stop offset=".065" stop-color="#5010e0"/><stop offset=".075" stop-color="#1414f0"/><stop offset=".089" stop-color="#0070f0"/><stop offset=".113" stop-color="#00f4f4"/><stop offset=".125" stop-color="#00e8a0"/><stop offset=".133" stop-color="#00e040"/><stop offset=".146" stop-color="#18dc10"/><stop offset=".165" stop-color="#78e000"/><stop offset=".196" stop-color="#c0eb00"/><stop offset=".196" stop-color="#b0e800"/><stop offset=".232" stop-color="#f5f500"/><stop offset=".251" stop-color="#f8dc00"/><stop offset=".262" stop-color="#f5a800"/><stop offset=".296" stop-color="#f03c00"/><stop offset=".302" stop-color="#f00"/><stop offset=".513" stop-color="#f00"/><stop offset=".562" stop-color="#9c0000"/><stop offset=".601" stop-color="#740000"/><stop offset=".632" stop-color="#6a0000"/><stop offset=".632" stop-color="#9c0000"/><stop offset=".632" stop-color="#f00"/><stop offset=".745" stop-color="#f00"/><stop offset=".753" stop-color="#f03c00"/><stop offset=".777" stop-color="#f07800"/><stop offset=".777" stop-color="#f5a800"/><stop offset=".777" stop-color="#f8dc00"/><stop offset=".777" stop-color="#f6ec00"/><stop offset=".779" stop-color="#f5f500"/><stop offset=".782" stop-color="#c8ec00"/><stop offset=".788" stop-color="#78e000"/><stop offset=".792" stop-color="#38dd0b"/><stop offset=".802" stop-color="#15dd17"/><stop offset=".839" stop-color="#78e000"/><stop offset=".869" stop-color="#c4eb00"/><stop offset=".898" stop-color="#f5f500"/><stop offset=".931" stop-color="#f8dc00"/><stop offset=".948" stop-color="#f5a800"/><stop offset="1" stop-color="#f03f00"/></radialGradient><radialGradient id="g3" gradientUnits="userSpaceOnUse" cx="1407.3" cy="2135.2" r="289.5"><stop offset="0" stop-color="#8b11ca"/><stop offset=".051" stop-color="#8812d8"/><stop offset=".065" stop-color="#5010e0"/><stop offset=".075" stop-color="#1414f0"/><stop offset=".089" stop-color="#0070f0"/><stop offset=".113" stop-color="#00f4f4"/><stop offset=".125" stop-color="#00e8a0"/><stop offset=".133" stop-color="#00e040"/><stop offset=".146" stop-color="#18dc10"/><stop offset=".165" stop-color="#78e000"/><stop offset=".196" stop-color="#c0eb00"/><stop offset=".196" stop-color="#b0e800"/><stop offset=".232" stop-color="#f5f500"/><stop offset=".251" stop-color="#f8dc00"/><stop offset=".262" stop-color="#f5a800"/><stop offset=".296" stop-color="#f03c00"/><stop offset=".302" stop-color="#f00"/><stop offset=".503" stop-color="#f00"/><stop offset=".553" stop-color="#9c0000"/><stop offset=".595" stop-color="#710000"/><stop offset=".622" stop-color="#6a0000"/><stop offset=".622" stop-color="#9c0000"/><stop offset=".622" stop-color="#f00"/><stop offset=".747" stop-color="#f00"/><stop offset=".756" stop-color="#f03c00"/><stop offset=".77" stop-color="#f05a00"/><stop offset=".77" stop-color="#f5a800"/><stop offset=".77" stop-color="#f8dc00"/><stop offset=".77" stop-color="#f6ec00"/><stop offset=".772" stop-color="#f5f500"/><stop offset=".778" stop-color="#c8ec00"/><stop offset=".785" stop-color="#78e000"/><stop offset=".789" stop-color="#38dd0b"/><stop offset=".803" stop-color="#15dd17"/><stop offset=".869" stop-color="#bfeb00"/><stop offset=".901" stop-color="#f5f500"/><stop offset=".934" stop-color="#f8dc00"/><stop offset=".951" stop-color="#f5a800"/><stop offset="1" stop-color="#f04e00"/></radialGradient><radialGradient id="g4" gradientUnits="userSpaceOnUse" cx="1407.3" cy="2135.2" r="289.5"><stop offset="0" stop-color="#8b11ca"/><stop offset=".051" stop-color="#8812d8"/><stop offset=".065" stop-color="#5010e0"/><stop offset=".075" stop-color="#1414f0"/><stop offset=".089" stop-color="#0070f0"/><stop offset=".113" stop-color="#00f4f4"/><stop offset=".125" stop-color="#00e8a0"/><stop offset=".133" stop-color="#00e040"/><stop offset=".146" stop-color="#18dc10"/><stop offset=".165" stop-color="#78e000"/><stop offset=".196" stop-color="#bfeb00"/><stop offset=".196" stop-color="#b0e800"/><stop offset=".232" stop-color="#f5f500"/><stop offset=".251" stop-color="#f8dc00"/><stop offset=".262" stop-color="#f5a800"/><stop offset=".296" stop-color="#f03c00"/><stop offset=".302" stop-color="#f00"/><stop offset=".501" stop-color="#f00"/><stop offset=".55" stop-color="#9c0000"/><stop offset=".589" stop-color="#740000"/><stop offset=".62" stop-color="#6a0000"/><stop offset=".62" stop-color="#9c0000"/><stop offset=".62" stop-color="#f00"/><stop offset=".752" stop-color="#f00"/><stop offset=".763" stop-color="#f03c00"/><stop offset=".763" stop-color="#f5a800"/><stop offset=".763" stop-color="#f8dc00"/><stop offset=".763" stop-color="#f6ec00"/><stop offset=".766" stop-color="#f5f500"/><stop offset=".773" stop-color="#c8ec00"/><stop offset=".782" stop-color="#78e000"/><stop offset=".787" stop-color="#38dd0b"/><stop offset=".803" stop-color="#15dd17"/><stop offset=".869" stop-color="#b9ea00"/><stop offset=".904" stop-color="#f5f500"/><stop offset=".937" stop-color="#f8dc00"/><stop offset=".955" stop-color="#f5a800"/><stop offset="1" stop-color="#f05d00"/></radialGradient><radialGradient id="g5" gradientUnits="userSpaceOnUse" cx="1407.3" cy="2135.2" r="289.5"><stop offset="0" stop-color="#8b11ca"/><stop offset=".051" stop-color="#8812d8"/><stop offset=".065" stop-color="#5010e0"/><stop offset=".075" stop-color="#1414f0"/><stop offset=".089" stop-color="#0070f0"/><stop offset=".113" stop-color="#00f4f4"/><stop offset=".125" stop-color="#00e8a0"/><stop offset=".133" stop-color="#00e040"/><stop offset=".146" stop-color="#18dc10"/><stop offset=".165" stop-color="#78e000"/><stop offset=".196" stop-color="#bfeb00"/><stop offset=".196" stop-color="#b0e800"/><stop offset=".232" stop-color="#f5f500"/><stop offset=".251" stop-color="#f8dc00"/><stop offset=".262" stop-color="#f5a800"/><stop offset=".296" stop-color="#f03c00"/><stop offset=".302" stop-color="#f00"/><stop offset=".499" stop-color="#f00"/><stop offset=".548" stop-color="#9c0000"/><stop offset=".586" stop-color="#740000"/><stop offset=".617" stop-color="#6a0000"/><stop offset=".617" stop-color="#9c0000"/><stop offset=".617" stop-color="#f00"/><stop offset=".756" stop-color="#f00"/><stop offset=".756" stop-color="#f03c00"/><stop offset=".756" stop-color="#f5a800"/><stop offset=".756" stop-color="#f8dc00"/><stop offset=".757" stop-color="#f6ec00"/><stop offset=".76" stop-color="#f5f500"/><stop offset=".768" stop-color="#c8ec00"/><stop offset=".779" stop-color="#78e000"/><stop offset=".785" stop-color="#38dd0b"/><stop offset=".804" stop-color="#15dd17"/><stop offset=".869" stop-color="#b4e900"/><stop offset=".906" stop-color="#f5f500"/><stop offset=".94" stop-color="#f8dc00"/><stop offset=".96" stop-color="#f5a800"/><stop offset="1" stop-color="#f06c00"/></radialGradient><radialGradient id="g6" gradientUnits="userSpaceOnUse" cx="1407.3" cy="2135.2" r="289.5"><stop offset="0" stop-color="#8b11ca"/><stop offset=".051" stop-color="#8812d8"/><stop offset=".065" stop-color="#5010e0"/><stop offset=".075" stop-color="#1414f0"/><stop offset=".089" stop-color="#0070f0"/><stop offset=".113" stop-color="#00f4f4"/><stop offset=".125" stop-color="#00e8a0"/><stop offset=".133" stop-color="#00e040"/><stop offset=".146" stop-color="#18dc10"/><stop offset=".165" stop-color="#78e000"/><stop offset=".196" stop-color="#beea00"/><stop offset=".196" stop-color="#afe800"/><stop offset=".232" stop-color="#f5f500"/><stop offset=".251" stop-color="#f8dc00"/><stop offset=".262" stop-color="#f5a800"/><stop offset=".296" stop-color="#f03c00"/><stop offset=".303" stop-color="#f00"/><stop offset=".497" stop-color="#f00"/><stop offset=".546" stop-color="#9c0000"/><stop offset=".584" stop-color="#740000"/><stop offset=".615" stop-color="#6a0000"/><stop offset=".615" stop-color="#9c0000"/><stop offset=".615" stop-color="#f00"/><stop offset=".75" stop-color="#f00"/><stop offset=".75" stop-color="#f03c00"/><stop offset=".75" stop-color="#f5a800"/><stop offset=".75" stop-color="#f8dc00"/><stop offset=".75" stop-color="#f6ec00"/><stop offset=".754" stop-color="#f5f500"/><stop offset=".763" stop-color="#c8ec00"/><stop offset=".776" stop-color="#78e000"/><stop offset=".783" stop-color="#38dd0b"/><stop offset=".805" stop-color="#15dd17"/><stop offset=".832" stop-color="#4ade08"/><stop offset=".87" stop-color="#ace800"/><stop offset=".912" stop-color="#f5f500"/><stop offset=".95" stop-color="#f8dc00"/><stop offset=".972" stop-color="#f5a800"/><stop offset="1" stop-color="#f18300"/></radialGradient><radialGradient id="g7" gradientUnits="userSpaceOnUse" cx="1407.3" cy="2135.2" r="289.5"><stop offset="0" stop-color="#8b11ca"/><stop offset=".051" stop-color="#8812d8"/><stop offset=".065" stop-color="#5010e0"/><stop offset=".075" stop-color="#1414f0"/><stop offset=".089" stop-color="#0070f0"/><stop offset=".113" stop-color="#00f4f4"/><stop offset=".125" stop-color="#00e8a0"/><stop offset=".133" stop-color="#00e040"/><stop offset=".146" stop-color="#18dc10"/><stop offset=".165" stop-color="#78e000"/><stop offset=".196" stop-color="#bdea00"/><stop offset=".196" stop-color="#afe800"/><stop offset=".232" stop-color="#f5f500"/><stop offset=".251" stop-color="#f8dc00"/><stop offset=".262" stop-color="#f5a800"/><stop offset=".296" stop-color="#f03c00"/><stop offset=".303" stop-color="#f00"/><stop offset=".494" stop-color="#f00"/><stop offset=".543" stop-color="#9c0000"/><stop offset=".582" stop-color="#740000"/><stop offset=".612" stop-color="#6a0000"/><stop offset=".613" stop-color="#9c0000"/><stop offset=".613" stop-color="#f00"/><stop offset=".743" stop-color="#f00"/><stop offset=".743" stop-color="#f03c00"/><stop offset=".743" stop-color="#f5a800"/><stop offset=".743" stop-color="#f8dc00"/><stop offset=".743" stop-color="#f6ec00"/><stop offset=".748" stop-color="#f5f500"/><stop offset=".758" stop-color="#c8ec00"/><stop offset=".773" stop-color="#78e000"/><stop offset=".781" stop-color="#38dd0b"/><stop offset=".806" stop-color="#15dd17"/><stop offset=".833" stop-color="#46de08"/><stop offset=".871" stop-color="#a3e600"/><stop offset=".922" stop-color="#f5f500"/><stop offset=".965" stop-color="#f8dc00"/><stop offset="1" stop-color="#f49e00"/></radialGradient><radialGradient id="g8" gradientUnits="userSpaceOnUse" cx="1407.3" cy="2135.2" r="289.5"><stop offset="0" stop-color="#8b11ca"/><stop offset=".051" stop-color="#8812d8"/><stop offset=".065" stop-color="#5010e0"/><stop offset=".075" stop-color="#1414f0"/><stop offset=".089" stop-color="#0070f0"/><stop offset=".113" stop-color="#00f4f4"/><stop offset=".125" stop-color="#00e8a0"/><stop offset=".133" stop-color="#00e040"/><stop offset=".146" stop-color="#18dc10"/><stop offset=".169" stop-color="#87e200"/><stop offset=".196" stop-color="#bcea00"/><stop offset=".196" stop-color="#afe800"/><stop offset=".222" stop-color="#d7ef00"/><stop offset=".232" stop-color="#f5f500"/><stop offset=".251" stop-color="#f8dc00"/><stop offset=".262" stop-color="#f5a800"/><stop offset=".296" stop-color="#f03c00"/><stop offset=".303" stop-color="#f00"/><stop offset=".492" stop-color="#f00"/><stop offset=".541" stop-color="#9c0000"/><stop offset=".579" stop-color="#740000"/><stop offset=".61" stop-color="#6a0000"/><stop offset=".61" stop-color="#9c0000"/><stop offset=".61" stop-color="#f00"/><stop offset=".736" stop-color="#f00"/><stop offset=".736" stop-color="#f03c00"/><stop offset=".736" stop-color="#f5a800"/><stop offset=".736" stop-color="#f8dc00"/><stop offset=".736" stop-color="#f6ec00"/><stop offset=".741" stop-color="#f5f500"/><stop offset=".753" stop-color="#c8ec00"/><stop offset=".769" stop-color="#78e000"/><stop offset=".778" stop-color="#38dd0b"/><stop offset=".806" stop-color="#15dd17"/><stop offset=".835" stop-color="#41de09"/><stop offset=".855" stop-color="#78e000"/><stop offset=".899" stop-color="#c8ec00"/><stop offset=".935" stop-color="#f5f500"/><stop offset=".985" stop-color="#f8dc00"/><stop offset="1" stop-color="#f7c200"/></radialGradient><radialGradient id="g9" gradientUnits="userSpaceOnUse" cx="1407.3" cy="2135.2" r="289.5"><stop offset="0" stop-color="#8b11ca"/><stop offset=".051" stop-color="#8812d8"/><stop offset=".065" stop-color="#5010e0"/><stop offset=".075" stop-color="#1414f0"/><stop offset=".089" stop-color="#0070f0"/><stop offset=".113" stop-color="#00f4f4"/><stop offset=".125" stop-color="#00e8a0"/><stop offset=".133" stop-color="#00e040"/><stop offset=".146" stop-color="#18dc10"/><stop offset=".169" stop-color="#87e200"/><stop offset=".196" stop-color="#baea00"/><stop offset=".196" stop-color="#afe800"/><stop offset=".221" stop-color="#d6ef00"/><stop offset=".232" stop-color="#f5f500"/><stop offset=".251" stop-color="#f8dc00"/><stop offset=".262" stop-color="#f5a800"/><stop offset=".296" stop-color="#f03c00"/><stop offset=".303" stop-color="#f00"/><stop offset=".49" stop-color="#f00"/><stop offset=".539" stop-color="#9c0000"/><stop offset=".577" stop-color="#740000"/><stop offset=".608" stop-color="#6a0000"/><stop offset=".608" stop-color="#9c0000"/><stop offset=".608" stop-color="#f00"/><stop offset=".731" stop-color="#f00"/><stop offset=".731" stop-color="#f03c00"/><stop offset=".731" stop-color="#f5a800"/><stop offset=".731" stop-color="#f8dc00"/><stop offset=".731" stop-color="#f6ec00"/><stop offset=".736" stop-color="#f5f500"/><stop offset=".748" stop-color="#c8ec00"/><stop offset=".766" stop-color="#78e000"/><stop offset=".775" stop-color="#38dd0b"/><stop offset=".806" stop-color="#15dd17"/><stop offset=".836" stop-color="#3dde0a"/><stop offset=".86" stop-color="#78e000"/><stop offset=".912" stop-color="#cfed00"/><stop offset=".951" stop-color="#f5f500"/><stop offset="1" stop-color="#f7e100"/></radialGradient><radialGradient id="g10" gradientUnits="userSpaceOnUse" cx="1407.3" cy="2135.2" r="289.5"><stop offset="0" stop-color="#8b11ca"/><stop offset=".051" stop-color="#8812d8"/><stop offset=".065" stop-color="#5010e0"/><stop offset=".075" stop-color="#1414f0"/><stop offset=".089" stop-color="#0070f0"/><stop offset=".113" stop-color="#00f4f4"/><stop offset=".125" stop-color="#00e8a0"/><stop offset=".133" stop-color="#00e040"/><stop offset=".146" stop-color="#18dc10"/><stop offset=".169" stop-color="#87e200"/><stop offset=".195" stop-color="#b9ea00"/><stop offset=".196" stop-color="#afe800"/><stop offset=".221" stop-color="#d5ef00"/><stop offset=".232" stop-color="#f5f500"/><stop offset=".251" stop-color="#f8dc00"/><stop offset=".262" stop-color="#f5a800"/><stop offset=".296" stop-color="#f03c00"/><stop offset=".303" stop-color="#f00"/><stop offset=".488" stop-color="#f00"/><stop offset=".537" stop-color="#9c0000"/><stop offset=".575" stop-color="#740000"/><stop offset=".605" stop-color="#6a0000"/><stop offset=".605" stop-color="#9c0000"/><stop offset=".606" stop-color="#f00"/><stop offset=".726" stop-color="#f00"/><stop offset=".726" stop-color="#f03c00"/><stop offset=".726" stop-color="#f5a800"/><stop offset=".726" stop-color="#f8dc00"/><stop offset=".726" stop-color="#f6ec00"/><stop offset=".731" stop-color="#f5f500"/><stop offset=".744" stop-color="#c8ec00"/><stop offset=".763" stop-color="#78e000"/><stop offset=".773" stop-color="#38dd0b"/><stop offset=".806" stop-color="#15dd17"/><stop offset=".838" stop-color="#38dd0b"/><stop offset=".866" stop-color="#78e000"/><stop offset=".912" stop-color="#c1eb00"/><stop offset=".975" stop-color="#f5f500"/><stop offset="1" stop-color="#f6ec00"/></radialGradient><radialGradient id="g11" gradientUnits="userSpaceOnUse" cx="1407.3" cy="2135.2" r="289.5"><stop offset="0" stop-color="#8b11ca"/><stop offset=".051" stop-color="#8812d8"/><stop offset=".065" stop-color="#5010e0"/><stop offset=".075" stop-color="#1414f0"/><stop offset=".089" stop-color="#0070f0"/><stop offset=".113" stop-color="#00f4f4"/><stop offset=".125" stop-color="#00e8a0"/><stop offset=".133" stop-color="#00e040"/><stop offset=".146" stop-color="#18dc10"/><stop offset=".169" stop-color="#87e200"/><stop offset=".22" stop-color="#d3ee00"/><stop offset=".232" stop-color="#f5f500"/><stop offset=".251" stop-color="#f8dc00"/><stop offset=".262" stop-color="#f5a800"/><stop offset=".296" stop-color="#f03c00"/><stop offset=".304" stop-color="#f00"/><stop offset=".48" stop-color="#f00"/><stop offset=".529" stop-color="#9c0000"/><stop offset=".567" stop-color="#740000"/><stop offset=".598" stop-color="#6a0000"/><stop offset=".598" stop-color="#9c0000"/><stop offset=".598" stop-color="#f00"/><stop offset=".721" stop-color="#f00"/><stop offset=".721" stop-color="#f03c00"/><stop offset=".721" stop-color="#f5a800"/><stop offset=".721" stop-color="#f8dc00"/><stop offset=".721" stop-color="#f6ec00"/><stop offset=".727" stop-color="#f5f500"/><stop offset=".74" stop-color="#c8ec00"/><stop offset=".76" stop-color="#78e000"/><stop offset=".771" stop-color="#38dd0b"/><stop offset=".805" stop-color="#13dd1a"/><stop offset=".838" stop-color="#2fdd0c"/><stop offset=".912" stop-color="#a3e600"/><stop offset="1" stop-color="#e6f200"/></radialGradient><radialGradient id="g12" gradientUnits="userSpaceOnUse" cx="1407.3" cy="2135.2" r="289.5"><stop offset="0" stop-color="#8b11ca"/><stop offset=".051" stop-color="#8812d8"/><stop offset=".065" stop-color="#5010e0"/><stop offset=".075" stop-color="#1414f0"/><stop offset=".089" stop-color="#0070f0"/><stop offset=".113" stop-color="#00f4f4"/><stop offset=".125" stop-color="#00e8a0"/><stop offset=".133" stop-color="#00e040"/><stop offset=".146" stop-color="#18dc10"/><stop offset=".169" stop-color="#87e200"/><stop offset=".22" stop-color="#d1ee00"/><stop offset=".232" stop-color="#f5f500"/><stop offset=".251" stop-color="#f8dc00"/><stop offset=".262" stop-color="#f5a800"/><stop offset=".296" stop-color="#f03c00"/><stop offset=".303" stop-color="#f00"/><stop offset=".472" stop-color="#f00"/><stop offset=".521" stop-color="#9c0000"/><stop offset=".559" stop-color="#740000"/><stop offset=".589" stop-color="#6a0000"/><stop offset=".589" stop-color="#9c0000"/><stop offset=".589" stop-color="#f00"/><stop offset=".716" stop-color="#f00"/><stop offset=".716" stop-color="#f03c00"/><stop offset=".716" stop-color="#f5a800"/><stop offset=".716" stop-color="#f8dc00"/><stop offset=".716" stop-color="#f6ec00"/><stop offset=".722" stop-color="#f5f500"/><stop offset=".736" stop-color="#c8ec00"/><stop offset=".757" stop-color="#78e000"/><stop offset=".769" stop-color="#38dd0b"/><stop offset=".805" stop-color="#12dd1d"/><stop offset=".838" stop-color="#26dd0e"/><stop offset=".912" stop-color="#86e200"/><stop offset="1" stop-color="#c1eb00"/></radialGradient><radialGradient id="g13" gradientUnits="userSpaceOnUse" cx="1407.3" cy="2135.2" r="289.5"><stop offset="0" stop-color="#8b11ca"/><stop offset=".051" stop-color="#8812d8"/><stop offset=".065" stop-color="#5010e0"/><stop offset=".075" stop-color="#1414f0"/><stop offset=".089" stop-color="#0070f0"/><stop offset=".113" stop-color="#00f4f4"/><stop offset=".125" stop-color="#00e8a0"/><stop offset=".133" stop-color="#00e040"/><stop offset=".146" stop-color="#18dc10"/><stop offset=".169" stop-color="#87e200"/><stop offset=".219" stop-color="#cfed00"/><stop offset=".232" stop-color="#f5f500"/><stop offset=".252" stop-color="#f8dc00"/><stop offset=".263" stop-color="#f5a800"/><stop offset=".298" stop-color="#f03c00"/><stop offset=".304" stop-color="#f00"/><stop offset=".464" stop-color="#f00"/><stop offset=".513" stop-color="#9c0000"/><stop offset=".551" stop-color="#740000"/><stop offset=".581" stop-color="#6a0000"/><stop offset=".581" stop-color="#9c0000"/><stop offset=".581" stop-color="#f00"/><stop offset=".711" stop-color="#f00"/><stop offset=".711" stop-color="#f03c00"/><stop offset=".711" stop-color="#f5a800"/><stop offset=".711" stop-color="#f8dc00"/><stop offset=".711" stop-color="#f6ec00"/><stop offset=".718" stop-color="#f5f500"/><stop offset=".733" stop-color="#c8ec00"/><stop offset=".754" stop-color="#78e000"/><stop offset=".766" stop-color="#38dd0b"/><stop offset=".794" stop-color="#18dc10"/><stop offset=".804" stop-color="#10dd20"/><stop offset=".838" stop-color="#1ddc0f"/><stop offset=".912" stop-color="#60df04"/><stop offset="1" stop-color="#95e400"/></radialGradient><radialGradient id="g14" gradientUnits="userSpaceOnUse" cx="1407.3" cy="2135.2" r="289.5"><stop offset="0" stop-color="#8b11ca"/><stop offset=".051" stop-color="#8812d8"/><stop offset=".065" stop-color="#5010e0"/><stop offset=".075" stop-color="#1414f0"/><stop offset=".089" stop-color="#0070f0"/><stop offset=".113" stop-color="#00f4f4"/><stop offset=".125" stop-color="#00e8a0"/><stop offset=".133" stop-color="#00e040"/><stop offset=".146" stop-color="#18dc10"/><stop offset=".169" stop-color="#87e200"/><stop offset=".219" stop-color="#ceed00"/><stop offset=".232" stop-color="#f5f500"/><stop offset=".252" stop-color="#f8dc00"/><stop offset=".262" stop-color="#f5a800"/><stop offset=".297" stop-color="#f03c00"/><stop offset=".303" stop-color="#f00"/><stop offset=".46" stop-color="#f00"/><stop offset=".508" stop-color="#9c0000"/><stop offset=".546" stop-color="#740000"/><stop offset=".577" stop-color="#6a0000"/><stop offset=".577" stop-color="#9c0000"/><stop offset=".577" stop-color="#f00"/><stop offset=".706" stop-color="#f00"/><stop offset=".706" stop-color="#f03c00"/><stop offset=".706" stop-color="#f5a800"/><stop offset=".706" stop-color="#f8dc00"/><stop offset=".706" stop-color="#f6ec00"/><stop offset=".713" stop-color="#f5f500"/><stop offset=".751" stop-color="#78e000"/><stop offset=".764" stop-color="#38dd0b"/><stop offset=".793" stop-color="#18dc10"/><stop offset=".803" stop-color="#15dd17"/><stop offset=".803" stop-color="#0fde23"/><stop offset=".875" stop-color="#20dc0f"/><stop offset="1" stop-color="#63df04"/></radialGradient><radialGradient id="g15" gradientUnits="userSpaceOnUse" cx="1407.3" cy="2135.2" r="289.5"><stop offset="0" stop-color="#8b11ca"/><stop offset=".051" stop-color="#8812d8"/><stop offset=".065" stop-color="#5010e0"/><stop offset=".075" stop-color="#1414f0"/><stop offset=".089" stop-color="#0070f0"/><stop offset=".113" stop-color="#00f4f4"/><stop offset=".125" stop-color="#00e8a0"/><stop offset=".133" stop-color="#00e040"/><stop offset=".146" stop-color="#18dc10"/><stop offset=".169" stop-color="#87e200"/><stop offset=".218" stop-color="#cded00"/><stop offset=".232" stop-color="#f5f500"/><stop offset=".251" stop-color="#f8dc00"/><stop offset=".262" stop-color="#f5a800"/><stop offset=".296" stop-color="#f03c00"/><stop offset=".302" stop-color="#f00"/><stop offset=".456" stop-color="#f00"/><stop offset=".504" stop-color="#9c0000"/><stop offset=".542" stop-color="#740000"/><stop offset=".572" stop-color="#6a0000"/><stop offset=".572" stop-color="#9c0000"/><stop offset=".572" stop-color="#f00"/><stop offset=".701" stop-color="#f00"/><stop offset=".701" stop-color="#f03c00"/><stop offset=".701" stop-color="#f5a800"/><stop offset=".701" stop-color="#f8dc00"/><stop offset=".701" stop-color="#f6ec00"/><stop offset=".708" stop-color="#f5f500"/><stop offset=".749" stop-color="#78e000"/><stop offset=".762" stop-color="#38dd0b"/><stop offset=".802" stop-color="#15dd17"/><stop offset=".802" stop-color="#0bde2b"/><stop offset="1" stop-color="#25dd0e"/></radialGradient><radialGradient id="g16" gradientUnits="userSpaceOnUse" cx="1407.3" cy="2135.2" r="289.5"><stop offset="0" stop-color="#8b11ca"/><stop offset=".051" stop-color="#8812d8"/><stop offset=".065" stop-color="#5010e0"/><stop offset=".075" stop-color="#1414f0"/><stop offset=".089" stop-color="#0070f0"/><stop offset=".113" stop-color="#00f4f4"/><stop offset=".125" stop-color="#00e8a0"/><stop offset=".133" stop-color="#00e040"/><stop offset=".146" stop-color="#18dc10"/><stop offset=".169" stop-color="#87e200"/><stop offset=".218" stop-color="#cded00"/><stop offset=".232" stop-color="#f5f500"/><stop offset=".251" stop-color="#f8dc00"/><stop offset=".262" stop-color="#f5a800"/><stop offset=".296" stop-color="#f03c00"/><stop offset=".302" stop-color="#f00"/><stop offset=".451" stop-color="#f00"/><stop offset=".5" stop-color="#9c0000"/><stop offset=".537" stop-color="#740000"/><stop offset=".568" stop-color="#6a0000"/><stop offset=".568" stop-color="#9c0000"/><stop offset=".568" stop-color="#f00"/><stop offset=".696" stop-color="#f00"/><stop offset=".696" stop-color="#f03c00"/><stop offset=".696" stop-color="#f5a800"/><stop offset=".696" stop-color="#f8dc00"/><stop offset=".696" stop-color="#f6ec00"/><stop offset=".704" stop-color="#f5f500"/><stop offset=".745" stop-color="#78e000"/><stop offset=".759" stop-color="#38dd0b"/><stop offset=".801" stop-color="#15dd17"/><stop offset=".802" stop-color="#01e03e"/><stop offset=".875" stop-color="#00e14d"/><stop offset="1" stop-color="#09de2d"/></radialGradient><radialGradient id="g17" gradientUnits="userSpaceOnUse" cx="1407.3" cy="2135.2" r="289.5"><stop offset="0" stop-color="#8b11ca"/><stop offset=".051" stop-color="#8812d8"/><stop offset=".065" stop-color="#5010e0"/><stop offset=".075" stop-color="#1414f0"/><stop offset=".089" stop-color="#0070f0"/><stop offset=".113" stop-color="#00f4f4"/><stop offset=".125" stop-color="#00e8a0"/><stop offset=".133" stop-color="#00e040"/><stop offset=".146" stop-color="#18dc10"/><stop offset=".169" stop-color="#87e200"/><stop offset=".217" stop-color="#cced00"/><stop offset=".231" stop-color="#f5f500"/><stop offset=".251" stop-color="#f8dc00"/><stop offset=".261" stop-color="#f5a800"/><stop offset=".296" stop-color="#f03c00"/><stop offset=".302" stop-color="#f00"/><stop offset=".447" stop-color="#f00"/><stop offset=".495" stop-color="#9c0000"/><stop offset=".533" stop-color="#740000"/><stop offset=".563" stop-color="#6a0000"/><stop offset=".563" stop-color="#9c0000"/><stop offset=".564" stop-color="#f00"/><stop offset=".692" stop-color="#f00"/><stop offset=".692" stop-color="#f03c00"/><stop offset=".692" stop-color="#f5a800"/><stop offset=".692" stop-color="#f8dc00"/><stop offset=".692" stop-color="#f6ec00"/><stop offset=".7" stop-color="#f5f500"/><stop offset=".743" stop-color="#78e000"/><stop offset=".757" stop-color="#38dd0b"/><stop offset=".8" stop-color="#15dd17"/><stop offset=".801" stop-color="#00e040"/><stop offset=".801" stop-color="#00e579"/><stop offset=".838" stop-color="#00e9aa"/><stop offset=".912" stop-color="#00eaad"/><stop offset=".959" stop-color="#00e8a0"/><stop offset="1" stop-color="#00e581"/></radialGradient><radialGradient id="g18" gradientUnits="userSpaceOnUse" cx="1407.3" cy="2135.2" r="289.5"><stop offset="0" stop-color="#8b11ca"/><stop offset=".051" stop-color="#8812d8"/><stop offset=".065" stop-color="#5010e0"/><stop offset=".075" stop-color="#1414f0"/><stop offset=".089" stop-color="#0070f0"/><stop offset=".113" stop-color="#00f4f4"/><stop offset=".125" stop-color="#00e8a0"/><stop offset=".133" stop-color="#00e040"/><stop offset=".146" stop-color="#18dc10"/><stop offset=".169" stop-color="#87e200"/><stop offset=".217" stop-color="#cced00"/><stop offset=".231" stop-color="#f5f500"/><stop offset=".251" stop-color="#f8dc00"/><stop offset=".261" stop-color="#f5a800"/><stop offset=".296" stop-color="#f03c00"/><stop offset=".302" stop-color="#f00"/><stop offset=".441" stop-color="#f00"/><stop offset=".491" stop-color="#9c0000"/><stop offset=".53" stop-color="#740000"/><stop offset=".56" stop-color="#6a0000"/><stop offset=".56" stop-color="#9c0000"/><stop offset=".56" stop-color="#f00"/><stop offset=".69" stop-color="#f00"/><stop offset=".69" stop-color="#f03c00"/><stop offset=".69" stop-color="#f5a800"/><stop offset=".69" stop-color="#f8dc00"/><stop offset=".691" stop-color="#f6ec00"/><stop offset=".698" stop-color="#f5f500"/><stop offset=".741" stop-color="#78e000"/><stop offset=".755" stop-color="#38dd0b"/><stop offset=".798" stop-color="#15dd17"/><stop offset=".799" stop-color="#00e040"/><stop offset=".8" stop-color="#00e8a0"/><stop offset=".8" stop-color="#00eaad"/><stop offset=".838" stop-color="#00f2e3"/><stop offset=".912" stop-color="#00f3ed"/><stop offset="1" stop-color="#00efd4"/></radialGradient><radialGradient id="g19" gradientUnits="userSpaceOnUse" cx="1407.3" cy="2135.2" r="289.5"><stop offset="0" stop-color="#8b11ca"/><stop offset=".051" stop-color="#8812d8"/><stop offset=".065" stop-color="#5010e0"/><stop offset=".075" stop-color="#1414f0"/><stop offset=".089" stop-color="#0070f0"/><stop offset=".113" stop-color="#00f4f4"/><stop offset=".125" stop-color="#00e8a0"/><stop offset=".133" stop-color="#00e040"/><stop offset=".146" stop-color="#18dc10"/><stop offset=".169" stop-color="#87e200"/><stop offset=".216" stop-color="#cbed00"/><stop offset=".231" stop-color="#f5f500"/><stop offset=".25" stop-color="#f8dc00"/><stop offset=".261" stop-color="#f5a800"/><stop offset=".296" stop-color="#f03c00"/><stop offset=".302" stop-color="#f00"/><stop offset=".439" stop-color="#f00"/><stop offset=".489" stop-color="#9c0000"/><stop offset=".527" stop-color="#740000"/><stop offset=".558" stop-color="#6a0000"/><stop offset=".558" stop-color="#9c0000"/><stop offset=".558" stop-color="#f00"/><stop offset=".689" stop-color="#f00"/><stop offset=".689" stop-color="#f03c00"/><stop offset=".689" stop-color="#f5a800"/><stop offset=".689" stop-color="#f8dc00"/><stop offset=".689" stop-color="#f6ec00"/><stop offset=".697" stop-color="#f5f500"/><stop offset=".74" stop-color="#78e000"/><stop offset=".754" stop-color="#38dd0b"/><stop offset=".797" stop-color="#15dd17"/><stop offset=".798" stop-color="#00e040"/><stop offset=".798" stop-color="#00e8a0"/><stop offset=".799" stop-color="#00f0d8"/><stop offset=".815" stop-color="#00f4f4"/><stop offset=".835" stop-color="#00d8f2"/><stop offset=".875" stop-color="#00ccf2"/><stop offset="1" stop-color="#00dcf3"/></radialGradient><radialGradient id="g20" gradientUnits="userSpaceOnUse" cx="1407.3" cy="2135.2" r="289.5"><stop offset="0" stop-color="#8b11ca"/><stop offset=".051" stop-color="#8812d8"/><stop offset=".065" stop-color="#5010e0"/><stop offset=".075" stop-color="#1414f0"/><stop offset=".089" stop-color="#0070f0"/><stop offset=".113" stop-color="#00f4f4"/><stop offset=".125" stop-color="#00e8a0"/><stop offset=".133" stop-color="#00e040"/><stop offset=".146" stop-color="#18dc10"/><stop offset=".169" stop-color="#87e200"/><stop offset=".216" stop-color="#cbed00"/><stop offset=".231" stop-color="#f5f500"/><stop offset=".25" stop-color="#f8dc00"/><stop offset=".261" stop-color="#f5a800"/><stop offset=".296" stop-color="#f03c00"/><stop offset=".302" stop-color="#f00"/><stop offset=".437" stop-color="#f00"/><stop offset=".487" stop-color="#9c0000"/><stop offset=".525" stop-color="#740000"/><stop offset=".556" stop-color="#6a0000"/><stop offset=".556" stop-color="#9c0000"/><stop offset=".556" stop-color="#f00"/><stop offset=".67" stop-color="#f00"/><stop offset=".68" stop-color="#f03c00"/><stop offset=".687" stop-color="#f04900"/><stop offset=".687" stop-color="#f5a800"/><stop offset=".687" stop-color="#f8dc00"/><stop offset=".687" stop-color="#f6ec00"/><stop offset=".695" stop-color="#f5f500"/><stop offset=".738" stop-color="#78e000"/><stop offset=".752" stop-color="#38dd0b"/><stop offset=".796" stop-color="#15dd17"/><stop offset=".796" stop-color="#00e040"/><stop offset=".797" stop-color="#00e8a0"/><stop offset=".797" stop-color="#00f4f4"/><stop offset=".797" stop-color="#00e5f3"/><stop offset=".832" stop-color="#00b0f0"/><stop offset=".875" stop-color="#00a1f0"/><stop offset="1" stop-color="#00acf0"/></radialGradient><radialGradient id="g21" gradientUnits="userSpaceOnUse" cx="1407.3" cy="2135.2" r="289.5"><stop offset="0" stop-color="#8b11ca"/><stop offset=".051" stop-color="#8812d8"/><stop offset=".065" stop-color="#5010e0"/><stop offset=".075" stop-color="#1414f0"/><stop offset=".089" stop-color="#0070f0"/><stop offset=".113" stop-color="#00f4f4"/><stop offset=".125" stop-color="#00e8a0"/><stop offset=".133" stop-color="#00e040"/><stop offset=".146" stop-color="#18dc10"/><stop offset=".169" stop-color="#87e200"/><stop offset=".193" stop-color="#a1e600"/><stop offset=".193" stop-color="#ace800"/><stop offset=".216" stop-color="#caec00"/><stop offset=".231" stop-color="#f5f500"/><stop offset=".25" stop-color="#f8dc00"/><stop offset=".261" stop-color="#f5a800"/><stop offset=".296" stop-color="#f03c00"/><stop offset=".302" stop-color="#f00"/><stop offset=".435" stop-color="#f00"/><stop offset=".485" stop-color="#9c0000"/><stop offset=".523" stop-color="#740000"/><stop offset=".553" stop-color="#6a0000"/><stop offset=".553" stop-color="#9c0000"/><stop offset=".554" stop-color="#f00"/><stop offset=".657" stop-color="#f00"/><stop offset=".666" stop-color="#f03c00"/><stop offset=".685" stop-color="#f06c00"/><stop offset=".685" stop-color="#f5a800"/><stop offset=".685" stop-color="#f8dc00"/><stop offset=".686" stop-color="#f6ec00"/><stop offset=".693" stop-color="#f5f500"/><stop offset=".737" stop-color="#78e000"/><stop offset=".751" stop-color="#38dd0b"/><stop offset=".795" stop-color="#15dd17"/><stop offset=".795" stop-color="#00e040"/><stop offset=".795" stop-color="#00e8a0"/><stop offset=".795" stop-color="#00f4f4"/><stop offset=".795" stop-color="#00c0f1"/><stop offset=".828" stop-color="#0086f0"/><stop offset=".875" stop-color="#0074f0"/><stop offset="1" stop-color="#0079f0"/></radialGradient><radialGradient id="g22" gradientUnits="userSpaceOnUse" cx="1407.3" cy="2135.2" r="289.5"><stop offset="0" stop-color="#8b11ca"/><stop offset=".051" stop-color="#8812d8"/><stop offset=".065" stop-color="#5010e0"/><stop offset=".075" stop-color="#1414f0"/><stop offset=".089" stop-color="#0070f0"/><stop offset=".113" stop-color="#00f4f4"/><stop offset=".125" stop-color="#00e8a0"/><stop offset=".133" stop-color="#00e040"/><stop offset=".146" stop-color="#18dc10"/><stop offset=".169" stop-color="#87e200"/><stop offset=".193" stop-color="#9ee600"/><stop offset=".193" stop-color="#abe800"/><stop offset=".215" stop-color="#caec00"/><stop offset=".23" stop-color="#f5f500"/><stop offset=".25" stop-color="#f8dc00"/><stop offset=".261" stop-color="#f5a800"/><stop offset=".296" stop-color="#f03c00"/><stop offset=".302" stop-color="#f00"/><stop offset=".433" stop-color="#f00"/><stop offset=".483" stop-color="#9c0000"/><stop offset=".521" stop-color="#740000"/><stop offset=".551" stop-color="#6a0000"/><stop offset=".551" stop-color="#9c0000"/><stop offset=".551" stop-color="#f00"/><stop offset=".648" stop-color="#f00"/><stop offset=".655" stop-color="#f03c00"/><stop offset=".684" stop-color="#f28d00"/><stop offset=".684" stop-color="#f8dc00"/><stop offset=".684" stop-color="#f6ec00"/><stop offset=".692" stop-color="#f5f500"/><stop offset=".735" stop-color="#78e000"/><stop offset=".749" stop-color="#38dd0b"/><stop offset=".793" stop-color="#15dd17"/><stop offset=".793" stop-color="#00e040"/><stop offset=".793" stop-color="#00e8a0"/><stop offset=".794" stop-color="#00f4f4"/><stop offset=".794" stop-color="#0099f0"/><stop offset=".825" stop-color="#0559f0"/><stop offset=".875" stop-color="#0a42f0"/><stop offset="1" stop-color="#0a42f0"/></radialGradient><radialGradient id="g23" gradientUnits="userSpaceOnUse" cx="1407.3" cy="2135.2" r="289.5"><stop offset="0" stop-color="#8b11ca"/><stop offset=".051" stop-color="#8812d8"/><stop offset=".065" stop-color="#5010e0"/><stop offset=".075" stop-color="#1414f0"/><stop offset=".089" stop-color="#0070f0"/><stop offset=".113" stop-color="#00f4f4"/><stop offset=".125" stop-color="#00e8a0"/><stop offset=".133" stop-color="#00e040"/><stop offset=".146" stop-color="#18dc10"/><stop offset=".169" stop-color="#87e200"/><stop offset=".193" stop-color="#9be500"/><stop offset=".193" stop-color="#abe800"/><stop offset=".215" stop-color="#caec00"/><stop offset=".23" stop-color="#f5f500"/><stop offset=".25" stop-color="#f8dc00"/><stop offset=".261" stop-color="#f5a800"/><stop offset=".296" stop-color="#f03c00"/><stop offset=".302" stop-color="#f00"/><stop offset=".432" stop-color="#f00"/><stop offset=".482" stop-color="#9c0000"/><stop offset=".52" stop-color="#740000"/><stop offset=".549" stop-color="#6b0000"/><stop offset=".549" stop-color="#9c0000"/><stop offset=".549" stop-color="#f00"/><stop offset=".641" stop-color="#f00"/><stop offset=".647" stop-color="#f03c00"/><stop offset=".682" stop-color="#f5b000"/><stop offset=".682" stop-color="#f8dc00"/><stop offset=".682" stop-color="#f6ec00"/><stop offset=".69" stop-color="#f5f500"/><stop offset=".734" stop-color="#78e000"/><stop offset=".748" stop-color="#38dd0b"/><stop offset=".792" stop-color="#15dd17"/><stop offset=".792" stop-color="#00e040"/><stop offset=".792" stop-color="#00e8a0"/><stop offset=".792" stop-color="#00f4f4"/><stop offset=".792" stop-color="#0088f0"/><stop offset=".822" stop-color="#084af0"/><stop offset=".872" stop-color="#0d33f0"/><stop offset="1" stop-color="#0d36f0"/></radialGradient><radialGradient id="g24" gradientUnits="userSpaceOnUse" cx="1407.3" cy="2135.2" r="289.5"><stop offset="0" stop-color="#8b11ca"/><stop offset=".051" stop-color="#8812d8"/><stop offset=".065" stop-color="#5010e0"/><stop offset=".075" stop-color="#1414f0"/><stop offset=".089" stop-color="#0070f0"/><stop offset=".113" stop-color="#00f4f4"/><stop offset=".125" stop-color="#00e8a0"/><stop offset=".133" stop-color="#00e040"/><stop offset=".146" stop-color="#18dc10"/><stop offset=".169" stop-color="#87e200"/><stop offset=".192" stop-color="#99e500"/><stop offset=".193" stop-color="#aae800"/><stop offset=".215" stop-color="#c9ec00"/><stop offset=".23" stop-color="#f5f500"/><stop offset=".25" stop-color="#f8dc00"/><stop offset=".261" stop-color="#f5a800"/><stop offset=".296" stop-color="#f03c00"/><stop offset=".302" stop-color="#f00"/><stop offset=".435" stop-color="#f00"/><stop offset=".491" stop-color="#9c0000"/><stop offset=".547" stop-color="#7a0000"/><stop offset=".547" stop-color="#9c0000"/><stop offset=".547" stop-color="#f00"/><stop offset=".635" stop-color="#f00"/><stop offset=".64" stop-color="#f03c00"/><stop offset=".67" stop-color="#f5a800"/><stop offset=".68" stop-color="#f8de00"/><stop offset=".681" stop-color="#f6ec00"/><stop offset=".689" stop-color="#f5f500"/><stop offset=".732" stop-color="#78e000"/><stop offset=".746" stop-color="#38dd0b"/><stop offset=".79" stop-color="#15dd17"/><stop offset=".791" stop-color="#00e040"/><stop offset=".791" stop-color="#00e8a0"/><stop offset=".791" stop-color="#00f4f4"/><stop offset=".791" stop-color="#0076f0"/><stop offset=".82" stop-color="#0b3bf0"/><stop offset=".87" stop-color="#1024f0"/><stop offset="1" stop-color="#0f29f0"/></radialGradient><radialGradient id="g25" gradientUnits="userSpaceOnUse" cx="1407.3" cy="2135.2" r="289.5"><stop offset="0" stop-color="#8b11ca"/><stop offset=".051" stop-color="#8812d8"/><stop offset=".065" stop-color="#5010e0"/><stop offset=".075" stop-color="#1414f0"/><stop offset=".089" stop-color="#0070f0"/><stop offset=".113" stop-color="#00f4f4"/><stop offset=".125" stop-color="#00e8a0"/><stop offset=".133" stop-color="#00e040"/><stop offset=".146" stop-color="#18dc10"/><stop offset=".169" stop-color="#87e200"/><stop offset=".192" stop-color="#96e400"/><stop offset=".192" stop-color="#aae800"/><stop offset=".221" stop-color="#d6ef00"/><stop offset=".232" stop-color="#f5f500"/><stop offset=".251" stop-color="#f8dc00"/><stop offset=".262" stop-color="#f5a800"/><stop offset=".296" stop-color="#f03c00"/><stop offset=".302" stop-color="#f00"/><stop offset=".444" stop-color="#f00"/><stop offset=".515" stop-color="#a50000"/><stop offset=".545" stop-color="#9a0000"/><stop offset=".545" stop-color="#f00"/><stop offset=".598" stop-color="#f00"/><stop offset=".601" stop-color="#f03c00"/><stop offset=".619" stop-color="#f5a800"/><stop offset=".625" stop-color="#f8dc00"/><stop offset=".631" stop-color="#f6ec00"/><stop offset=".632" stop-color="#f5f500"/><stop offset=".632" stop-color="#78e000"/><stop offset=".632" stop-color="#18dc10"/><stop offset=".632" stop-color="#00e040"/><stop offset=".632" stop-color="#00e8a0"/><stop offset=".632" stop-color="#00f4f3"/><stop offset=".68" stop-color="#00f4f4"/><stop offset=".68" stop-color="#00e8a0"/><stop offset=".68" stop-color="#00e470"/><stop offset=".707" stop-color="#00e040"/><stop offset=".789" stop-color="#15dd17"/><stop offset=".789" stop-color="#00e040"/><stop offset=".789" stop-color="#00e8a0"/><stop offset=".789" stop-color="#00f4f4"/><stop offset=".79" stop-color="#0363f0"/><stop offset=".817" stop-color="#0f2df0"/><stop offset=".877" stop-color="#1414f0"/><stop offset="1" stop-color="#121df0"/></radialGradient><radialGradient id="g26" gradientUnits="userSpaceOnUse" cx="1407.3" cy="2135.2" r="289.5"><stop offset="0" stop-color="#8b11ca"/><stop offset=".051" stop-color="#8812d8"/><stop offset=".065" stop-color="#5010e0"/><stop offset=".075" stop-color="#1414f0"/><stop offset=".089" stop-color="#0070f0"/><stop offset=".113" stop-color="#00f4f4"/><stop offset=".125" stop-color="#00e8a0"/><stop offset=".133" stop-color="#00e040"/><stop offset=".146" stop-color="#18dc10"/><stop offset=".169" stop-color="#87e200"/><stop offset=".192" stop-color="#93e400"/><stop offset=".192" stop-color="#aae700"/><stop offset=".219" stop-color="#d0ee00"/><stop offset=".231" stop-color="#f5f500"/><stop offset=".233" stop-color="#f5f500"/><stop offset=".233" stop-color="#78e000"/><stop offset=".233" stop-color="#18dc10"/><stop offset=".233" stop-color="#00e040"/><stop offset=".233" stop-color="#00e8a0"/><stop offset=".233" stop-color="#00f4f4"/><stop offset=".233" stop-color="#0070f0"/><stop offset=".233" stop-color="#1414f0"/><stop offset=".233" stop-color="#5010e0"/><stop offset=".233" stop-color="#8812d8"/><stop offset=".233" stop-color="#8b10c9"/><stop offset=".32" stop-color="#8812d8"/><stop offset=".438" stop-color="#1414f0"/><stop offset=".5" stop-color="#0099f0"/><stop offset=".562" stop-color="#00e8f3"/><stop offset=".628" stop-color="#00f4f4"/><stop offset=".693" stop-color="#00f4f4"/><stop offset=".693" stop-color="#00e8a0"/><stop offset=".693" stop-color="#00e470"/><stop offset=".717" stop-color="#00e040"/><stop offset=".787" stop-color="#15dd17"/><stop offset=".788" stop-color="#00e040"/><stop offset=".788" stop-color="#00e8a0"/><stop offset=".788" stop-color="#00f4f4"/><stop offset=".788" stop-color="#074ff0"/><stop offset=".814" stop-color="#121ef0"/><stop offset=".912" stop-color="#2913ea"/><stop offset="1" stop-color="#1714ef"/></radialGradient><radialGradient id="g27" gradientUnits="userSpaceOnUse" cx="1407.3" cy="2135.2" r="289.5"><stop offset="0" stop-color="#8b11ca"/><stop offset=".051" stop-color="#8812d8"/><stop offset=".065" stop-color="#5010e0"/><stop offset=".075" stop-color="#1414f0"/><stop offset=".089" stop-color="#0070f0"/><stop offset=".113" stop-color="#00f4f4"/><stop offset=".125" stop-color="#00e8a0"/><stop offset=".133" stop-color="#00e040"/><stop offset=".146" stop-color="#18dc10"/><stop offset=".165" stop-color="#78e000"/><stop offset=".169" stop-color="#87e200"/><stop offset=".192" stop-color="#90e400"/><stop offset=".192" stop-color="#78e000"/><stop offset=".192" stop-color="#18dc10"/><stop offset=".192" stop-color="#00e040"/><stop offset=".192" stop-color="#00e8a0"/><stop offset=".192" stop-color="#00f4f4"/><stop offset=".192" stop-color="#0070f0"/><stop offset=".192" stop-color="#1414f0"/><stop offset=".192" stop-color="#5010e0"/><stop offset=".192" stop-color="#8812d8"/><stop offset=".192" stop-color="#8c10c4"/><stop offset=".32" stop-color="#8812d8"/><stop offset=".438" stop-color="#1414f0"/><stop offset=".5" stop-color="#0099f0"/><stop offset=".562" stop-color="#00e8f3"/><stop offset=".628" stop-color="#00f4f4"/><stop offset=".701" stop-color="#00f4f4"/><stop offset=".701" stop-color="#00e8a0"/><stop offset=".701" stop-color="#00e470"/><stop offset=".722" stop-color="#00e040"/><stop offset=".786" stop-color="#15dd17"/><stop offset=".786" stop-color="#00e040"/><stop offset=".786" stop-color="#00e8a0"/><stop offset=".786" stop-color="#00f4f4"/><stop offset=".787" stop-color="#0b3ff0"/><stop offset=".809" stop-color="#1414f0"/><stop offset=".912" stop-color="#3b11e6"/><stop offset="1" stop-color="#2413ec"/></radialGradient><radialGradient id="g28" gradientUnits="userSpaceOnUse" cx="1407.3" cy="2135.2" r="289.5"><stop offset="0" stop-color="#8b11ca"/><stop offset=".051" stop-color="#8812d8"/><stop offset=".065" stop-color="#5010e0"/><stop offset=".075" stop-color="#1414f0"/><stop offset=".089" stop-color="#0070f0"/><stop offset=".113" stop-color="#00f4f4"/><stop offset=".125" stop-color="#00e8a0"/><stop offset=".133" stop-color="#00e040"/><stop offset=".146" stop-color="#18dc10"/><stop offset=".165" stop-color="#78e000"/><stop offset=".169" stop-color="#87e200"/><stop offset=".191" stop-color="#8de300"/><stop offset=".191" stop-color="#78e000"/><stop offset=".191" stop-color="#18dc10"/><stop offset=".191" stop-color="#00e040"/><stop offset=".191" stop-color="#00e8a0"/><stop offset=".191" stop-color="#00f4f4"/><stop offset=".191" stop-color="#0070f0"/><stop offset=".191" stop-color="#1414f0"/><stop offset=".191" stop-color="#5010e0"/><stop offset=".191" stop-color="#8812d8"/><stop offset=".191" stop-color="#8c10c4"/><stop offset=".32" stop-color="#8812d8"/><stop offset=".438" stop-color="#1414f0"/><stop offset=".5" stop-color="#0099f0"/><stop offset=".562" stop-color="#00e8f3"/><stop offset=".628" stop-color="#00f4f4"/><stop offset=".708" stop-color="#00f4f4"/><stop offset=".708" stop-color="#00e8a0"/><stop offset=".708" stop-color="#00e470"/><stop offset=".727" stop-color="#00e040"/><stop offset=".784" stop-color="#15dd17"/><stop offset=".784" stop-color="#00e040"/><stop offset=".785" stop-color="#00e8a0"/><stop offset=".785" stop-color="#00f4f4"/><stop offset=".785" stop-color="#0d35f0"/><stop offset=".801" stop-color="#1414f0"/><stop offset=".811" stop-color="#2613eb"/><stop offset=".861" stop-color="#4211e4"/><stop offset=".912" stop-color="#5010e0"/><stop offset="1" stop-color="#3412e7"/></radialGradient><radialGradient id="g29" gradientUnits="userSpaceOnUse" cx="1407.3" cy="2135.2" r="289.5"><stop offset="0" stop-color="#8b11ca"/><stop offset=".051" stop-color="#8812d8"/><stop offset=".065" stop-color="#5010e0"/><stop offset=".075" stop-color="#1414f0"/><stop offset=".089" stop-color="#0070f0"/><stop offset=".113" stop-color="#00f4f4"/><stop offset=".125" stop-color="#00e8a0"/><stop offset=".133" stop-color="#00e040"/><stop offset=".146" stop-color="#18dc10"/><stop offset=".165" stop-color="#78e000"/><stop offset=".169" stop-color="#87e200"/><stop offset=".191" stop-color="#8ae300"/><stop offset=".191" stop-color="#78e000"/><stop offset=".191" stop-color="#18dc10"/><stop offset=".191" stop-color="#00e040"/><stop offset=".191" stop-color="#00e8a0"/><stop offset=".191" stop-color="#00f4f4"/><stop offset=".191" stop-color="#0070f0"/><stop offset=".191" stop-color="#1414f0"/><stop offset=".191" stop-color="#5010e0"/><stop offset=".191" stop-color="#8812d8"/><stop offset=".191" stop-color="#8c10c4"/><stop offset=".32" stop-color="#8812d8"/><stop offset=".438" stop-color="#1414f0"/><stop offset=".5" stop-color="#0099f0"/><stop offset=".562" stop-color="#00e8f3"/><stop offset=".628" stop-color="#00f4f4"/><stop offset=".715" stop-color="#00f4f4"/><stop offset=".715" stop-color="#00e8a0"/><stop offset=".715" stop-color="#00e470"/><stop offset=".732" stop-color="#00e040"/><stop offset=".783" stop-color="#15dd17"/><stop offset=".783" stop-color="#00e040"/><stop offset=".783" stop-color="#00e8a0"/><stop offset=".783" stop-color="#00f4f4"/><stop offset=".783" stop-color="#0070f0"/><stop offset=".783" stop-color="#0f2bf0"/><stop offset=".794" stop-color="#1414f0"/><stop offset=".809" stop-color="#3412e7"/><stop offset=".859" stop-color="#5310e0"/><stop offset=".912" stop-color="#5e10de"/><stop offset="1" stop-color="#4411e3"/></radialGradient><radialGradient id="g30" gradientUnits="userSpaceOnUse" cx="1407.3" cy="2135.2" r="289.5"><stop offset="0" stop-color="#8b11ca"/><stop offset=".051" stop-color="#8812d8"/><stop offset=".065" stop-color="#5010e0"/><stop offset=".075" stop-color="#1414f0"/><stop offset=".089" stop-color="#0070f0"/><stop offset=".113" stop-color="#00f4f4"/><stop offset=".125" stop-color="#00e8a0"/><stop offset=".133" stop-color="#00e040"/><stop offset=".146" stop-color="#18dc10"/><stop offset=".169" stop-color="#87e200"/><stop offset=".191" stop-color="#87e200"/><stop offset=".191" stop-color="#78e000"/><stop offset=".191" stop-color="#18dc10"/><stop offset=".191" stop-color="#00e040"/><stop offset=".191" stop-color="#00e8a0"/><stop offset=".191" stop-color="#00f4f4"/><stop offset=".191" stop-color="#0070f0"/><stop offset=".191" stop-color="#1414f0"/><stop offset=".191" stop-color="#5010e0"/><stop offset=".191" stop-color="#8812d8"/><stop offset=".191" stop-color="#8c10c4"/><stop offset=".32" stop-color="#8812d8"/><stop offset=".438" stop-color="#1414f0"/><stop offset=".5" stop-color="#0099f0"/><stop offset=".562" stop-color="#00e8f3"/><stop offset=".722" stop-color="#00f4f4"/><stop offset=".722" stop-color="#00e8a0"/><stop offset=".722" stop-color="#00e470"/><stop offset=".737" stop-color="#00e040"/><stop offset=".781" stop-color="#15dd17"/><stop offset=".781" stop-color="#00e040"/><stop offset=".781" stop-color="#00e8a0"/><stop offset=".781" stop-color="#00f4f4"/><stop offset=".781" stop-color="#0070f0"/><stop offset=".782" stop-color="#1121f0"/><stop offset=".787" stop-color="#1414f0"/><stop offset=".808" stop-color="#4211e4"/><stop offset=".858" stop-color="#5f11de"/><stop offset=".912" stop-color="#6b11dc"/><stop offset="1" stop-color="#5310e0"/></radialGradient><radialGradient id="g31" gradientUnits="userSpaceOnUse" cx="1407.3" cy="2135.2" r="289.5"><stop offset="0" stop-color="#8b11ca"/><stop offset=".051" stop-color="#8812d8"/><stop offset=".065" stop-color="#5010e0"/><stop offset=".075" stop-color="#1414f0"/><stop offset=".089" stop-color="#0070f0"/><stop offset=".113" stop-color="#00f4f4"/><stop offset=".125" stop-color="#00e8a0"/><stop offset=".133" stop-color="#00e040"/><stop offset=".146" stop-color="#18dc10"/><stop offset=".169" stop-color="#87e200"/><stop offset=".19" stop-color="#84e200"/><stop offset=".19" stop-color="#78e000"/><stop offset=".19" stop-color="#18dc10"/><stop offset=".19" stop-color="#00e040"/><stop offset=".19" stop-color="#00e8a0"/><stop offset=".19" stop-color="#00f4f4"/><stop offset=".19" stop-color="#0070f0"/><stop offset=".191" stop-color="#1414f0"/><stop offset=".191" stop-color="#5010e0"/><stop offset=".191" stop-color="#8812d8"/><stop offset=".191" stop-color="#8c10c4"/><stop offset=".32" stop-color="#8812d8"/><stop offset=".438" stop-color="#1414f0"/><stop offset=".5" stop-color="#0099f0"/><stop offset=".562" stop-color="#00e8f3"/><stop offset=".727" stop-color="#00f4f4"/><stop offset=".727" stop-color="#00e8a0"/><stop offset=".727" stop-color="#00e470"/><stop offset=".74" stop-color="#00e040"/><stop offset=".78" stop-color="#15dd17"/><stop offset=".78" stop-color="#00e040"/><stop offset=".78" stop-color="#00e8a0"/><stop offset=".78" stop-color="#00f4f4"/><stop offset=".78" stop-color="#0070f0"/><stop offset=".78" stop-color="#1317f0"/><stop offset=".781" stop-color="#1414f0"/><stop offset=".807" stop-color="#5010e0"/><stop offset=".857" stop-color="#6b11dc"/><stop offset=".912" stop-color="#7911da"/><stop offset="1" stop-color="#5e10de"/></radialGradient><radialGradient id="g32" gradientUnits="userSpaceOnUse" cx="1407.3" cy="2135.2" r="289.5"><stop offset="0" stop-color="#8b11ca"/><stop offset=".051" stop-color="#8812d8"/><stop offset=".065" stop-color="#5010e0"/><stop offset=".075" stop-color="#1414f0"/><stop offset=".089" stop-color="#0070f0"/><stop offset=".113" stop-color="#00f4f4"/><stop offset=".125" stop-color="#00e8a0"/><stop offset=".133" stop-color="#00e040"/><stop offset=".146" stop-color="#18dc10"/><stop offset=".165" stop-color="#78e000"/><stop offset=".169" stop-color="#87e200"/><stop offset=".19" stop-color="#78e000"/><stop offset=".19" stop-color="#18dc10"/><stop offset=".19" stop-color="#00e040"/><stop offset=".19" stop-color="#00e8a0"/><stop offset=".19" stop-color="#00f4f4"/><stop offset=".19" stop-color="#0070f0"/><stop offset=".19" stop-color="#1414f0"/><stop offset=".19" stop-color="#5010e0"/><stop offset=".19" stop-color="#8812d8"/><stop offset=".19" stop-color="#8c10c4"/><stop offset=".32" stop-color="#8812d8"/><stop offset=".438" stop-color="#1414f0"/><stop offset=".5" stop-color="#0099f0"/><stop offset=".562" stop-color="#00e8f3"/><stop offset=".628" stop-color="#00f4f4"/><stop offset=".733" stop-color="#00f4f4"/><stop offset=".733" stop-color="#00e8a0"/><stop offset=".733" stop-color="#00e470"/><stop offset=".744" stop-color="#00e040"/><stop offset=".778" stop-color="#15dd17"/><stop offset=".778" stop-color="#00e040"/><stop offset=".778" stop-color="#00e8a0"/><stop offset=".778" stop-color="#00f4f4"/><stop offset=".778" stop-color="#0070f0"/><stop offset=".778" stop-color="#1414f0"/><stop offset=".806" stop-color="#5810df"/><stop offset=".856" stop-color="#7611db"/><stop offset=".912" stop-color="#8412d9"/><stop offset="1" stop-color="#61d"/></radialGradient><radialGradient id="g33" gradientUnits="userSpaceOnUse" cx="1407.3" cy="2135.2" r="289.5"><stop offset="0" stop-color="#8b11ca"/><stop offset=".051" stop-color="#8812d8"/><stop offset=".065" stop-color="#5010e0"/><stop offset=".075" stop-color="#1414f0"/><stop offset=".089" stop-color="#0070f0"/><stop offset=".113" stop-color="#00f4f4"/><stop offset=".125" stop-color="#00e8a0"/><stop offset=".133" stop-color="#00e040"/><stop offset=".146" stop-color="#18dc10"/><stop offset=".165" stop-color="#78e000"/><stop offset=".169" stop-color="#87e200"/><stop offset=".19" stop-color="#78e000"/><stop offset=".19" stop-color="#18dc10"/><stop offset=".19" stop-color="#00e040"/><stop offset=".19" stop-color="#00e8a0"/><stop offset=".19" stop-color="#00f4f4"/><stop offset=".19" stop-color="#0070f0"/><stop offset=".19" stop-color="#1414f0"/><stop offset=".19" stop-color="#5010e0"/><stop offset=".19" stop-color="#8812d8"/><stop offset=".19" stop-color="#8c10c4"/><stop offset=".32" stop-color="#8812d8"/><stop offset=".438" stop-color="#1414f0"/><stop offset=".5" stop-color="#0099f0"/><stop offset=".562" stop-color="#00e8f3"/><stop offset=".628" stop-color="#00f4f4"/><stop offset=".738" stop-color="#00f4f4"/><stop offset=".738" stop-color="#00e8a0"/><stop offset=".738" stop-color="#00e470"/><stop offset=".748" stop-color="#00e040"/><stop offset=".776" stop-color="#15dd17"/><stop offset=".776" stop-color="#00e040"/><stop offset=".776" stop-color="#00e8a0"/><stop offset=".776" stop-color="#00f4f4"/><stop offset=".777" stop-color="#0070f0"/><stop offset=".777" stop-color="#1414f0"/><stop offset=".805" stop-color="#5f11de"/><stop offset=".855" stop-color="#8012d9"/><stop offset=".933" stop-color="#8812d8"/><stop offset="1" stop-color="#6d11dc"/></radialGradient><radialGradient id="g34" gradientUnits="userSpaceOnUse" cx="1407.3" cy="2135.2" r="289.5"><stop offset="0" stop-color="#8b11ca"/><stop offset=".051" stop-color="#8812d8"/><stop offset=".065" stop-color="#5010e0"/><stop offset=".075" stop-color="#1414f0"/><stop offset=".089" stop-color="#0070f0"/><stop offset=".113" stop-color="#00f4f4"/><stop offset=".125" stop-color="#00e8a0"/><stop offset=".133" stop-color="#00e040"/><stop offset=".146" stop-color="#18dc10"/><stop offset=".165" stop-color="#78e000"/><stop offset=".169" stop-color="#87e200"/><stop offset=".189" stop-color="#78e000"/><stop offset=".189" stop-color="#18dc10"/><stop offset=".19" stop-color="#00e040"/><stop offset=".19" stop-color="#00e8a0"/><stop offset=".19" stop-color="#00f4f4"/><stop offset=".19" stop-color="#0070f0"/><stop offset=".19" stop-color="#1414f0"/><stop offset=".19" stop-color="#5010e0"/><stop offset=".19" stop-color="#8812d8"/><stop offset=".19" stop-color="#8c10c4"/><stop offset=".32" stop-color="#8812d8"/><stop offset=".438" stop-color="#1414f0"/><stop offset=".5" stop-color="#0099f0"/><stop offset=".562" stop-color="#00e8f3"/><stop offset=".628" stop-color="#00f4f4"/><stop offset=".743" stop-color="#00f4f4"/><stop offset=".744" stop-color="#00e8a0"/><stop offset=".744" stop-color="#00e470"/><stop offset=".751" stop-color="#00e040"/><stop offset=".774" stop-color="#15dd17"/><stop offset=".775" stop-color="#00e040"/><stop offset=".775" stop-color="#00e8a0"/><stop offset=".775" stop-color="#00f4f4"/><stop offset=".775" stop-color="#0070f0"/><stop offset=".775" stop-color="#1e13ed"/><stop offset=".803" stop-color="#61d"/><stop offset=".852" stop-color="#8812d8"/><stop offset=".965" stop-color="#8812d8"/><stop offset="1" stop-color="#7411db"/></radialGradient><radialGradient id="g35" gradientUnits="userSpaceOnUse" cx="1407.3" cy="2135.2" r="289.5"><stop offset="0" stop-color="#8b11ca"/><stop offset=".051" stop-color="#8812d8"/><stop offset=".065" stop-color="#5010e0"/><stop offset=".075" stop-color="#1414f0"/><stop offset=".089" stop-color="#0070f0"/><stop offset=".113" stop-color="#00f4f4"/><stop offset=".125" stop-color="#00e8a0"/><stop offset=".133" stop-color="#00e040"/><stop offset=".146" stop-color="#18dc10"/><stop offset=".165" stop-color="#78e000"/><stop offset=".169" stop-color="#87e200"/><stop offset=".189" stop-color="#77e000"/><stop offset=".189" stop-color="#18dc10"/><stop offset=".189" stop-color="#00e040"/><stop offset=".189" stop-color="#00e8a0"/><stop offset=".189" stop-color="#00f4f4"/><stop offset=".189" stop-color="#0070f0"/><stop offset=".189" stop-color="#1414f0"/><stop offset=".189" stop-color="#5010e0"/><stop offset=".189" stop-color="#8812d8"/><stop offset=".189" stop-color="#8c10c4"/><stop offset=".32" stop-color="#8812d8"/><stop offset=".438" stop-color="#1414f0"/><stop offset=".5" stop-color="#0099f0"/><stop offset=".562" stop-color="#00e8f3"/><stop offset=".628" stop-color="#00f4f4"/><stop offset=".749" stop-color="#00f4f4"/><stop offset=".749" stop-color="#00e8a0"/><stop offset=".749" stop-color="#00e470"/><stop offset=".755" stop-color="#00e040"/><stop offset=".773" stop-color="#15dd17"/><stop offset=".773" stop-color="#00e040"/><stop offset=".773" stop-color="#00e8a0"/><stop offset=".773" stop-color="#00f4f4"/><stop offset=".774" stop-color="#0070f0"/><stop offset=".774" stop-color="#1414f0"/><stop offset=".774" stop-color="#2113ed"/><stop offset=".802" stop-color="#6d11dc"/><stop offset=".838" stop-color="#8812d8"/><stop offset=".912" stop-color="#8a11cd"/><stop offset="1" stop-color="#7c12da"/></radialGradient><radialGradient id="g36" gradientUnits="userSpaceOnUse" cx="1407.3" cy="2135.2" r="289.5"><stop offset="0" stop-color="#8b11ca"/><stop offset=".051" stop-color="#8812d8"/><stop offset=".065" stop-color="#5010e0"/><stop offset=".075" stop-color="#1414f0"/><stop offset=".089" stop-color="#0070f0"/><stop offset=".113" stop-color="#00f4f4"/><stop offset=".125" stop-color="#00e8a0"/><stop offset=".133" stop-color="#00e040"/><stop offset=".146" stop-color="#18dc10"/><stop offset=".165" stop-color="#78e000"/><stop offset=".169" stop-color="#87e200"/><stop offset=".189" stop-color="#73e001"/><stop offset=".189" stop-color="#18dc10"/><stop offset=".189" stop-color="#00e040"/><stop offset=".189" stop-color="#00e8a0"/><stop offset=".189" stop-color="#00f4f4"/><stop offset=".189" stop-color="#0070f0"/><stop offset=".189" stop-color="#1414f0"/><stop offset=".189" stop-color="#5010e0"/><stop offset=".189" stop-color="#8812d8"/><stop offset=".189" stop-color="#8c10c4"/><stop offset=".32" stop-color="#8812d8"/><stop offset=".438" stop-color="#1414f0"/><stop offset=".5" stop-color="#0099f0"/><stop offset=".562" stop-color="#00e8f3"/><stop offset=".628" stop-color="#00f4f4"/><stop offset=".752" stop-color="#00f4f4"/><stop offset=".752" stop-color="#00e8a0"/><stop offset=".752" stop-color="#00e470"/><stop offset=".757" stop-color="#00e040"/><stop offset=".772" stop-color="#15dd17"/><stop offset=".772" stop-color="#00e040"/><stop offset=".772" stop-color="#00e8a0"/><stop offset=".772" stop-color="#00f4f4"/><stop offset=".773" stop-color="#0070f0"/><stop offset=".773" stop-color="#1414f0"/><stop offset=".773" stop-color="#2513ec"/><stop offset=".801" stop-color="#7411db"/><stop offset=".826" stop-color="#8812d8"/><stop offset=".912" stop-color="#8b11c9"/><stop offset="1" stop-color="#8312d9"/></radialGradient><radialGradient id="g37" gradientUnits="userSpaceOnUse" cx="1407.3" cy="2135.2" r="289.5"><stop offset="0" stop-color="#8b11ca"/><stop offset=".051" stop-color="#8812d8"/><stop offset=".065" stop-color="#5010e0"/><stop offset=".075" stop-color="#1414f0"/><stop offset=".089" stop-color="#0070f0"/><stop offset=".113" stop-color="#00f4f4"/><stop offset=".125" stop-color="#00e8a0"/><stop offset=".133" stop-color="#00e040"/><stop offset=".146" stop-color="#18dc10"/><stop offset=".165" stop-color="#78e000"/><stop offset=".169" stop-color="#87e200"/><stop offset=".189" stop-color="#6fe002"/><stop offset=".189" stop-color="#18dc10"/><stop offset=".189" stop-color="#00e040"/><stop offset=".189" stop-color="#00e8a0"/><stop offset=".189" stop-color="#00f4f4"/><stop offset=".189" stop-color="#0070f0"/><stop offset=".189" stop-color="#1414f0"/><stop offset=".189" stop-color="#5010e0"/><stop offset=".189" stop-color="#8812d8"/><stop offset=".189" stop-color="#8c10c4"/><stop offset=".32" stop-color="#8812d8"/><stop offset=".438" stop-color="#1414f0"/><stop offset=".5" stop-color="#0099f0"/><stop offset=".562" stop-color="#00e8f3"/><stop offset=".628" stop-color="#00f4f4"/><stop offset=".755" stop-color="#00f4f4"/><stop offset=".755" stop-color="#00e8a0"/><stop offset=".755" stop-color="#00e470"/><stop offset=".759" stop-color="#00e040"/><stop offset=".771" stop-color="#15dd17"/><stop offset=".771" stop-color="#00e040"/><stop offset=".771" stop-color="#00e8a0"/><stop offset=".771" stop-color="#00f4f4"/><stop offset=".772" stop-color="#0070f0"/><stop offset=".772" stop-color="#1414f0"/><stop offset=".772" stop-color="#2813eb"/><stop offset=".8" stop-color="#7c12da"/><stop offset=".815" stop-color="#8812d8"/><stop offset=".912" stop-color="#8c10c5"/><stop offset="1" stop-color="#8812d7"/></radialGradient><radialGradient id="g38" gradientUnits="userSpaceOnUse" cx="1407.3" cy="2135.2" r="289.5"><stop offset="0" stop-color="#8b11ca"/><stop offset=".051" stop-color="#8812d8"/><stop offset=".065" stop-color="#5010e0"/><stop offset=".075" stop-color="#1414f0"/><stop offset=".089" stop-color="#0070f0"/><stop offset=".113" stop-color="#00f4f4"/><stop offset=".125" stop-color="#00e8a0"/><stop offset=".133" stop-color="#00e040"/><stop offset=".146" stop-color="#18dc10"/><stop offset=".165" stop-color="#78e000"/><stop offset=".169" stop-color="#87e200"/><stop offset=".188" stop-color="#6bdf02"/><stop offset=".188" stop-color="#18dc10"/><stop offset=".188" stop-color="#00e040"/><stop offset=".188" stop-color="#00e8a0"/><stop offset=".188" stop-color="#00f4f4"/><stop offset=".188" stop-color="#0070f0"/><stop offset=".189" stop-color="#1414f0"/><stop offset=".189" stop-color="#5010e0"/><stop offset=".189" stop-color="#8812d8"/><stop offset=".189" stop-color="#8c10c4"/><stop offset=".32" stop-color="#8812d8"/><stop offset=".438" stop-color="#1414f0"/><stop offset=".5" stop-color="#0099f0"/><stop offset=".562" stop-color="#00e8f3"/><stop offset=".628" stop-color="#00f4f4"/><stop offset=".758" stop-color="#00f4f4"/><stop offset=".758" stop-color="#00e8a0"/><stop offset=".758" stop-color="#00e470"/><stop offset=".761" stop-color="#00e040"/><stop offset=".77" stop-color="#15dd17"/><stop offset=".77" stop-color="#00e040"/><stop offset=".77" stop-color="#00e8a0"/><stop offset=".77" stop-color="#00f4f4"/><stop offset=".77" stop-color="#0070f0"/><stop offset=".771" stop-color="#1414f0"/><stop offset=".771" stop-color="#2313ec"/><stop offset=".799" stop-color="#7d12da"/><stop offset=".811" stop-color="#8812d8"/><stop offset=".911" stop-color="#8c10c4"/><stop offset="1" stop-color="#8712d8"/></radialGradient><radialGradient id="g39" gradientUnits="userSpaceOnUse" cx="1407.3" cy="2135.2" r="289.5"><stop offset="0" stop-color="#8b11ca"/><stop offset=".051" stop-color="#8812d8"/><stop offset=".065" stop-color="#5010e0"/><stop offset=".075" stop-color="#1414f0"/><stop offset=".089" stop-color="#0070f0"/><stop offset=".113" stop-color="#00f4f4"/><stop offset=".125" stop-color="#00e8a0"/><stop offset=".133" stop-color="#00e040"/><stop offset=".146" stop-color="#18dc10"/><stop offset=".165" stop-color="#78e000"/><stop offset=".169" stop-color="#87e200"/><stop offset=".188" stop-color="#67df03"/><stop offset=".188" stop-color="#18dc10"/><stop offset=".188" stop-color="#00e040"/><stop offset=".188" stop-color="#00e8a0"/><stop offset=".188" stop-color="#00f4f4"/><stop offset=".188" stop-color="#0070f0"/><stop offset=".188" stop-color="#1414f0"/><stop offset=".188" stop-color="#5010e0"/><stop offset=".188" stop-color="#8812d8"/><stop offset=".188" stop-color="#8c10c4"/><stop offset=".32" stop-color="#8812d8"/><stop offset=".438" stop-color="#1414f0"/><stop offset=".5" stop-color="#0099f0"/><stop offset=".562" stop-color="#00e8f3"/><stop offset=".628" stop-color="#00f4f4"/><stop offset=".753" stop-color="#00f4f4"/><stop offset=".753" stop-color="#00e8a0"/><stop offset=".754" stop-color="#00e470"/><stop offset=".758" stop-color="#00e040"/><stop offset=".77" stop-color="#15dd17"/><stop offset=".77" stop-color="#00e040"/><stop offset=".77" stop-color="#00e8a0"/><stop offset=".77" stop-color="#00f4f4"/><stop offset=".77" stop-color="#0070f0"/><stop offset=".77" stop-color="#1414f0"/><stop offset=".782" stop-color="#5010e0"/><stop offset=".797" stop-color="#7b12da"/><stop offset=".81" stop-color="#8812d8"/><stop offset=".908" stop-color="#8c10c5"/><stop offset="1" stop-color="#7f12d9"/></radialGradient><radialGradient id="g40" gradientUnits="userSpaceOnUse" cx="1407.3" cy="2135.2" r="289.5"><stop offset="0" stop-color="#8b11ca"/><stop offset=".051" stop-color="#8812d8"/><stop offset=".065" stop-color="#5010e0"/><stop offset=".075" stop-color="#1414f0"/><stop offset=".089" stop-color="#0070f0"/><stop offset=".113" stop-color="#00f4f4"/><stop offset=".125" stop-color="#00e8a0"/><stop offset=".133" stop-color="#00e040"/><stop offset=".146" stop-color="#18dc10"/><stop offset=".165" stop-color="#78e000"/><stop offset=".169" stop-color="#87e200"/><stop offset=".188" stop-color="#63df04"/><stop offset=".188" stop-color="#18dc10"/><stop offset=".188" stop-color="#00e040"/><stop offset=".188" stop-color="#00e8a0"/><stop offset=".188" stop-color="#00f4f4"/><stop offset=".188" stop-color="#0070f0"/><stop offset=".188" stop-color="#1414f0"/><stop offset=".188" stop-color="#5010e0"/><stop offset=".188" stop-color="#8812d8"/><stop offset=".188" stop-color="#8c10c4"/><stop offset=".32" stop-color="#8812d8"/><stop offset=".438" stop-color="#1414f0"/><stop offset=".5" stop-color="#0099f0"/><stop offset=".562" stop-color="#00e8f3"/><stop offset=".628" stop-color="#00f4f4"/><stop offset=".749" stop-color="#00f4f4"/><stop offset=".749" stop-color="#00e8a0"/><stop offset=".749" stop-color="#00e470"/><stop offset=".754" stop-color="#00e040"/><stop offset=".769" stop-color="#15dd17"/><stop offset=".769" stop-color="#00e040"/><stop offset=".769" stop-color="#00e8a0"/><stop offset=".769" stop-color="#00f4f4"/><stop offset=".769" stop-color="#0070f0"/><stop offset=".769" stop-color="#1317f0"/><stop offset=".77" stop-color="#1414f0"/><stop offset=".782" stop-color="#5010e0"/><stop offset=".795" stop-color="#7a11da"/><stop offset=".809" stop-color="#8812d8"/><stop offset=".905" stop-color="#8c10c5"/><stop offset=".981" stop-color="#8812d8"/><stop offset="1" stop-color="#7811da"/></radialGradient><radialGradient id="g41" gradientUnits="userSpaceOnUse" cx="1407.3" cy="2135.2" r="289.5"><stop offset="0" stop-color="#8b11ca"/><stop offset=".051" stop-color="#8812d8"/><stop offset=".065" stop-color="#5010e0"/><stop offset=".075" stop-color="#1414f0"/><stop offset=".089" stop-color="#0070f0"/><stop offset=".113" stop-color="#00f4f4"/><stop offset=".125" stop-color="#00e8a0"/><stop offset=".133" stop-color="#00e040"/><stop offset=".146" stop-color="#18dc10"/><stop offset=".165" stop-color="#78e000"/><stop offset=".169" stop-color="#87e200"/><stop offset=".188" stop-color="#5fdf04"/><stop offset=".188" stop-color="#18dc10"/><stop offset=".188" stop-color="#00e040"/><stop offset=".188" stop-color="#00e8a0"/><stop offset=".188" stop-color="#00f4f4"/><stop offset=".188" stop-color="#0070f0"/><stop offset=".188" stop-color="#1414f0"/><stop offset=".188" stop-color="#5010e0"/><stop offset=".188" stop-color="#8812d8"/><stop offset=".188" stop-color="#8c10c4"/><stop offset=".32" stop-color="#8812d8"/><stop offset=".438" stop-color="#1414f0"/><stop offset=".5" stop-color="#0099f0"/><stop offset=".562" stop-color="#00e8f3"/><stop offset=".628" stop-color="#00f4f4"/><stop offset=".745" stop-color="#00f4f4"/><stop offset=".745" stop-color="#00e8a0"/><stop offset=".745" stop-color="#00e470"/><stop offset=".751" stop-color="#00e040"/><stop offset=".767" stop-color="#15dd17"/><stop offset=".767" stop-color="#00e040"/><stop offset=".767" stop-color="#00e8a0"/><stop offset=".767" stop-color="#00f4f4"/><stop offset=".767" stop-color="#0070f0"/><stop offset=".767" stop-color="#1121f0"/><stop offset=".769" stop-color="#1414f0"/><stop offset=".781" stop-color="#5010e0"/><stop offset=".793" stop-color="#7811da"/><stop offset=".808" stop-color="#8812d8"/><stop offset=".903" stop-color="#8c10c5"/><stop offset=".973" stop-color="#8812d8"/><stop offset="1" stop-color="#7011db"/></radialGradient><radialGradient id="g42" gradientUnits="userSpaceOnUse" cx="1407.3" cy="2135.2" r="289.5"><stop offset="0" stop-color="#8b11ca"/><stop offset=".051" stop-color="#8812d8"/><stop offset=".065" stop-color="#5010e0"/><stop offset=".075" stop-color="#1414f0"/><stop offset=".089" stop-color="#0070f0"/><stop offset=".113" stop-color="#00f4f4"/><stop offset=".125" stop-color="#00e8a0"/><stop offset=".133" stop-color="#00e040"/><stop offset=".146" stop-color="#18dc10"/><stop offset=".165" stop-color="#78e000"/><stop offset=".169" stop-color="#87e200"/><stop offset=".187" stop-color="#5bdf05"/><stop offset=".187" stop-color="#18dc10"/><stop offset=".187" stop-color="#00e040"/><stop offset=".187" stop-color="#00e8a0"/><stop offset=".187" stop-color="#00f4f4"/><stop offset=".187" stop-color="#0070f0"/><stop offset=".187" stop-color="#1414f0"/><stop offset=".188" stop-color="#5010e0"/><stop offset=".188" stop-color="#8812d8"/><stop offset=".188" stop-color="#8c10c4"/><stop offset=".188" stop-color="#8c10c4"/><stop offset=".32" stop-color="#8812d8"/><stop offset=".438" stop-color="#1414f0"/><stop offset=".5" stop-color="#0099f0"/><stop offset=".562" stop-color="#00e8f3"/><stop offset=".628" stop-color="#00f4f4"/><stop offset=".741" stop-color="#00f4f4"/><stop offset=".741" stop-color="#00e8a0"/><stop offset=".741" stop-color="#00e470"/><stop offset=".747" stop-color="#00e040"/><stop offset=".765" stop-color="#15dd17"/><stop offset=".765" stop-color="#00e040"/><stop offset=".765" stop-color="#00e8a0"/><stop offset=".765" stop-color="#00f4f4"/><stop offset=".765" stop-color="#0070f0"/><stop offset=".765" stop-color="#0f2bf0"/><stop offset=".769" stop-color="#1414f0"/><stop offset=".791" stop-color="#7711da"/><stop offset=".807" stop-color="#8812d8"/><stop offset=".9" stop-color="#8c10c6"/><stop offset=".965" stop-color="#8812d8"/><stop offset="1" stop-color="#6811dd"/></radialGradient><radialGradient id="g43" gradientUnits="userSpaceOnUse" cx="1407.3" cy="2135.2" r="289.5"><stop offset="0" stop-color="#8b11ca"/><stop offset=".051" stop-color="#8812d8"/><stop offset=".065" stop-color="#5010e0"/><stop offset=".075" stop-color="#1414f0"/><stop offset=".089" stop-color="#0070f0"/><stop offset=".113" stop-color="#00f4f4"/><stop offset=".125" stop-color="#00e8a0"/><stop offset=".133" stop-color="#00e040"/><stop offset=".146" stop-color="#18dc10"/><stop offset=".165" stop-color="#78e000"/><stop offset=".169" stop-color="#87e200"/><stop offset=".187" stop-color="#58df05"/><stop offset=".187" stop-color="#18dc10"/><stop offset=".187" stop-color="#00e040"/><stop offset=".187" stop-color="#00e8a0"/><stop offset=".187" stop-color="#00f4f4"/><stop offset=".187" stop-color="#0070f0"/><stop offset=".187" stop-color="#1414f0"/><stop offset=".187" stop-color="#5010e0"/><stop offset=".187" stop-color="#8812d8"/><stop offset=".187" stop-color="#8c10c4"/><stop offset=".32" stop-color="#8812d8"/><stop offset=".438" stop-color="#1414f0"/><stop offset=".5" stop-color="#0099f0"/><stop offset=".562" stop-color="#00e8f3"/><stop offset=".628" stop-color="#00f4f4"/><stop offset=".736" stop-color="#00f4f4"/><stop offset=".736" stop-color="#00e8a0"/><stop offset=".736" stop-color="#00e470"/><stop offset=".743" stop-color="#00e040"/><stop offset=".763" stop-color="#15dd17"/><stop offset=".763" stop-color="#00e040"/><stop offset=".763" stop-color="#00e8a0"/><stop offset=".763" stop-color="#00f4f4"/><stop offset=".763" stop-color="#0d35f0"/><stop offset=".769" stop-color="#1414f0"/><stop offset=".789" stop-color="#7511db"/><stop offset=".805" stop-color="#8812d8"/><stop offset=".897" stop-color="#8c10c6"/><stop offset=".958" stop-color="#8812d8"/><stop offset="1" stop-color="#6111de"/></radialGradient><radialGradient id="g44" gradientUnits="userSpaceOnUse" cx="1407.3" cy="2135.2" r="289.5"><stop offset="0" stop-color="#8b11ca"/><stop offset=".051" stop-color="#8812d8"/><stop offset=".065" stop-color="#5010e0"/><stop offset=".075" stop-color="#1414f0"/><stop offset=".089" stop-color="#0070f0"/><stop offset=".113" stop-color="#00f4f4"/><stop offset=".125" stop-color="#00e8a0"/><stop offset=".133" stop-color="#00e040"/><stop offset=".146" stop-color="#18dc10"/><stop offset=".169" stop-color="#87e200"/><stop offset=".176" stop-color="#78e000"/><stop offset=".187" stop-color="#54df06"/><stop offset=".187" stop-color="#18dc10"/><stop offset=".187" stop-color="#00e040"/><stop offset=".187" stop-color="#00e8a0"/><stop offset=".187" stop-color="#00f4f4"/><stop offset=".187" stop-color="#0070f0"/><stop offset=".187" stop-color="#1414f0"/><stop offset=".187" stop-color="#5010e0"/><stop offset=".187" stop-color="#8812d8"/><stop offset=".187" stop-color="#8c10c4"/><stop offset=".32" stop-color="#8812d8"/><stop offset=".438" stop-color="#1414f0"/><stop offset=".5" stop-color="#0099f0"/><stop offset=".562" stop-color="#00e8f3"/><stop offset=".731" stop-color="#00f4f4"/><stop offset=".731" stop-color="#00e8a0"/><stop offset=".731" stop-color="#00e470"/><stop offset=".739" stop-color="#00e040"/><stop offset=".761" stop-color="#15dd17"/><stop offset=".761" stop-color="#00e040"/><stop offset=".761" stop-color="#00e8a0"/><stop offset=".761" stop-color="#00f4f4"/><stop offset=".762" stop-color="#0b3ff0"/><stop offset=".768" stop-color="#1414f0"/><stop offset=".787" stop-color="#7411db"/><stop offset=".804" stop-color="#8812d8"/><stop offset=".895" stop-color="#8c10c6"/><stop offset=".95" stop-color="#8812d8"/><stop offset="1" stop-color="#5910df"/></radialGradient><radialGradient id="g45" gradientUnits="userSpaceOnUse" cx="1407.3" cy="2135.2" r="289.5"><stop offset="0" stop-color="#8b11ca"/><stop offset=".051" stop-color="#8812d8"/><stop offset=".065" stop-color="#5010e0"/><stop offset=".075" stop-color="#1414f0"/><stop offset=".089" stop-color="#0070f0"/><stop offset=".113" stop-color="#00f4f4"/><stop offset=".125" stop-color="#00e8a0"/><stop offset=".133" stop-color="#00e040"/><stop offset=".146" stop-color="#18dc10"/><stop offset=".169" stop-color="#87e200"/><stop offset=".175" stop-color="#78e000"/><stop offset=".187" stop-color="#51de07"/><stop offset=".187" stop-color="#18dc10"/><stop offset=".187" stop-color="#00e040"/><stop offset=".187" stop-color="#00e8a0"/><stop offset=".187" stop-color="#00f4f4"/><stop offset=".187" stop-color="#0070f0"/><stop offset=".187" stop-color="#1414f0"/><stop offset=".187" stop-color="#5010e0"/><stop offset=".187" stop-color="#8812d8"/><stop offset=".187" stop-color="#8c10c4"/><stop offset=".32" stop-color="#8812d8"/><stop offset=".438" stop-color="#1414f0"/><stop offset=".5" stop-color="#0099f0"/><stop offset=".562" stop-color="#00e8f3"/><stop offset=".725" stop-color="#00f4f4"/><stop offset=".726" stop-color="#00e8a0"/><stop offset=".726" stop-color="#00e470"/><stop offset=".734" stop-color="#00e040"/><stop offset=".759" stop-color="#15dd17"/><stop offset=".759" stop-color="#00e040"/><stop offset=".759" stop-color="#00e8a0"/><stop offset=".76" stop-color="#00f4f4"/><stop offset=".76" stop-color="#0949f0"/><stop offset=".767" stop-color="#1414f0"/><stop offset=".785" stop-color="#7211db"/><stop offset=".802" stop-color="#8812d8"/><stop offset=".892" stop-color="#8c10c6"/><stop offset=".942" stop-color="#8812d8"/><stop offset="1" stop-color="#5110e0"/></radialGradient><radialGradient id="g46" gradientUnits="userSpaceOnUse" cx="1407.3" cy="2135.2" r="289.5"><stop offset="0" stop-color="#8b11ca"/><stop offset=".051" stop-color="#8812d8"/><stop offset=".065" stop-color="#5010e0"/><stop offset=".075" stop-color="#1414f0"/><stop offset=".089" stop-color="#0070f0"/><stop offset=".113" stop-color="#00f4f4"/><stop offset=".125" stop-color="#00e8a0"/><stop offset=".133" stop-color="#00e040"/><stop offset=".146" stop-color="#18dc10"/><stop offset=".165" stop-color="#78e000"/><stop offset=".169" stop-color="#87e200"/><stop offset=".186" stop-color="#4ede07"/><stop offset=".186" stop-color="#18dc10"/><stop offset=".186" stop-color="#00e040"/><stop offset=".187" stop-color="#00e8a0"/><stop offset=".187" stop-color="#00f4f4"/><stop offset=".187" stop-color="#0070f0"/><stop offset=".187" stop-color="#1414f0"/><stop offset=".187" stop-color="#5010e0"/><stop offset=".187" stop-color="#8812d8"/><stop offset=".187" stop-color="#8c10c4"/><stop offset=".32" stop-color="#8812d8"/><stop offset=".438" stop-color="#1414f0"/><stop offset=".5" stop-color="#0099f0"/><stop offset=".562" stop-color="#00e8f3"/><stop offset=".628" stop-color="#00f4f4"/><stop offset=".72" stop-color="#00f4f4"/><stop offset=".72" stop-color="#00e8a0"/><stop offset=".72" stop-color="#00e470"/><stop offset=".73" stop-color="#00e040"/><stop offset=".758" stop-color="#15dd17"/><stop offset=".758" stop-color="#00e040"/><stop offset=".758" stop-color="#00e8a0"/><stop offset=".758" stop-color="#00f4f4"/><stop offset=".758" stop-color="#0652f0"/><stop offset=".766" stop-color="#1414f0"/><stop offset=".783" stop-color="#7111db"/><stop offset=".801" stop-color="#8812d8"/><stop offset=".889" stop-color="#8b10c7"/><stop offset=".935" stop-color="#8812d8"/><stop offset="1" stop-color="#4711e3"/></radialGradient><radialGradient id="g47" gradientUnits="userSpaceOnUse" cx="1407.3" cy="2135.2" r="289.5"><stop offset="0" stop-color="#8b11ca"/><stop offset=".051" stop-color="#8812d8"/><stop offset=".065" stop-color="#5010e0"/><stop offset=".075" stop-color="#1414f0"/><stop offset=".089" stop-color="#0070f0"/><stop offset=".113" stop-color="#00f4f4"/><stop offset=".125" stop-color="#00e8a0"/><stop offset=".133" stop-color="#00e040"/><stop offset=".146" stop-color="#18dc10"/><stop offset=".165" stop-color="#78e000"/><stop offset=".169" stop-color="#87e200"/><stop offset=".186" stop-color="#4bde07"/><stop offset=".186" stop-color="#18dc10"/><stop offset=".186" stop-color="#00e040"/><stop offset=".186" stop-color="#00e8a0"/><stop offset=".186" stop-color="#00f4f4"/><stop offset=".186" stop-color="#0070f0"/><stop offset=".186" stop-color="#1414f0"/><stop offset=".186" stop-color="#5010e0"/><stop offset=".186" stop-color="#8812d8"/><stop offset=".187" stop-color="#8c10c4"/><stop offset=".32" stop-color="#8812d8"/><stop offset=".438" stop-color="#1414f0"/><stop offset=".5" stop-color="#0099f0"/><stop offset=".562" stop-color="#00e8f3"/><stop offset=".628" stop-color="#00f4f4"/><stop offset=".715" stop-color="#00f4f4"/><stop offset=".715" stop-color="#00e8a0"/><stop offset=".715" stop-color="#00e470"/><stop offset=".725" stop-color="#00e040"/><stop offset=".756" stop-color="#15dd17"/><stop offset=".756" stop-color="#00e040"/><stop offset=".756" stop-color="#00e8a0"/><stop offset=".756" stop-color="#00f4f4"/><stop offset=".756" stop-color="#055af0"/><stop offset=".766" stop-color="#1414f0"/><stop offset=".781" stop-color="#6f11dc"/><stop offset=".8" stop-color="#8812d8"/><stop offset=".887" stop-color="#8b10c7"/><stop offset=".931" stop-color="#8812d8"/><stop offset="1" stop-color="#3f11e5"/></radialGradient><radialGradient id="g48" gradientUnits="userSpaceOnUse" cx="1407.3" cy="2135.2" r="289.5"><stop offset="0" stop-color="#8b11ca"/><stop offset=".051" stop-color="#8812d8"/><stop offset=".065" stop-color="#5010e0"/><stop offset=".075" stop-color="#1414f0"/><stop offset=".089" stop-color="#0070f0"/><stop offset=".113" stop-color="#00f4f4"/><stop offset=".125" stop-color="#00e8a0"/><stop offset=".133" stop-color="#00e040"/><stop offset=".146" stop-color="#18dc10"/><stop offset=".165" stop-color="#78e000"/><stop offset=".169" stop-color="#87e200"/><stop offset=".186" stop-color="#48de08"/><stop offset=".186" stop-color="#18dc10"/><stop offset=".186" stop-color="#00e040"/><stop offset=".186" stop-color="#00e8a0"/><stop offset=".186" stop-color="#00f4f4"/><stop offset=".186" stop-color="#0070f0"/><stop offset=".186" stop-color="#1414f0"/><stop offset=".186" stop-color="#5010e0"/><stop offset=".186" stop-color="#8812d8"/><stop offset=".186" stop-color="#8c10c4"/><stop offset=".32" stop-color="#8812d8"/><stop offset=".438" stop-color="#1414f0"/><stop offset=".5" stop-color="#0099f0"/><stop offset=".562" stop-color="#00e8f3"/><stop offset=".628" stop-color="#00f4f4"/><stop offset=".711" stop-color="#00f4f4"/><stop offset=".711" stop-color="#00e8a0"/><stop offset=".711" stop-color="#00e470"/><stop offset=".722" stop-color="#00e040"/><stop offset=".754" stop-color="#15dd17"/><stop offset=".754" stop-color="#00e040"/><stop offset=".754" stop-color="#00e8a0"/><stop offset=".755" stop-color="#00f4f4"/><stop offset=".756" stop-color="#045ef0"/><stop offset=".766" stop-color="#1414f0"/><stop offset=".781" stop-color="#6e11dc"/><stop offset=".8" stop-color="#8812d8"/><stop offset=".886" stop-color="#8b10c7"/><stop offset=".929" stop-color="#8812d8"/><stop offset="1" stop-color="#3e11e5"/></radialGradient><radialGradient id="g49" gradientUnits="userSpaceOnUse" cx="1407.3" cy="2135.2" r="289.5"><stop offset="0" stop-color="#8b11ca"/><stop offset=".051" stop-color="#8812d8"/><stop offset=".065" stop-color="#5010e0"/><stop offset=".075" stop-color="#1414f0"/><stop offset=".089" stop-color="#0070f0"/><stop offset=".113" stop-color="#00f4f4"/><stop offset=".125" stop-color="#00e8a0"/><stop offset=".133" stop-color="#00e040"/><stop offset=".146" stop-color="#18dc10"/><stop offset=".165" stop-color="#78e000"/><stop offset=".169" stop-color="#87e200"/><stop offset=".186" stop-color="#46de08"/><stop offset=".186" stop-color="#18dc10"/><stop offset=".186" stop-color="#00e040"/><stop offset=".186" stop-color="#00e8a0"/><stop offset=".186" stop-color="#00f4f4"/><stop offset=".186" stop-color="#0070f0"/><stop offset=".186" stop-color="#1414f0"/><stop offset=".186" stop-color="#5010e0"/><stop offset=".186" stop-color="#8812d8"/><stop offset=".186" stop-color="#8c10c4"/><stop offset=".32" stop-color="#8812d8"/><stop offset=".438" stop-color="#1414f0"/><stop offset=".5" stop-color="#0099f0"/><stop offset=".562" stop-color="#00e8f3"/><stop offset=".628" stop-color="#00f4f4"/><stop offset=".707" stop-color="#00f4f4"/><stop offset=".707" stop-color="#00e8a0"/><stop offset=".707" stop-color="#00e470"/><stop offset=".718" stop-color="#00e040"/><stop offset=".752" stop-color="#15dd17"/><stop offset=".753" stop-color="#00e040"/><stop offset=".753" stop-color="#00e8a0"/><stop offset=".754" stop-color="#00f4f4"/><stop offset=".755" stop-color="#0361f0"/><stop offset=".765" stop-color="#1414f0"/><stop offset=".78" stop-color="#6d11dc"/><stop offset=".8" stop-color="#8812d8"/><stop offset=".885" stop-color="#8b10c8"/><stop offset=".928" stop-color="#8812d8"/><stop offset="1" stop-color="#3d11e5"/></radialGradient><radialGradient id="g50" gradientUnits="userSpaceOnUse" cx="1407.3" cy="2135.2" r="289.5"><stop offset="0" stop-color="#8b11ca"/><stop offset=".051" stop-color="#8812d8"/><stop offset=".065" stop-color="#5010e0"/><stop offset=".075" stop-color="#1414f0"/><stop offset=".089" stop-color="#0070f0"/><stop offset=".113" stop-color="#00f4f4"/><stop offset=".125" stop-color="#00e8a0"/><stop offset=".133" stop-color="#00e040"/><stop offset=".146" stop-color="#18dc10"/><stop offset=".165" stop-color="#78e000"/><stop offset=".169" stop-color="#87e200"/><stop offset=".186" stop-color="#43de09"/><stop offset=".186" stop-color="#18dc10"/><stop offset=".186" stop-color="#00e040"/><stop offset=".186" stop-color="#00e8a0"/><stop offset=".186" stop-color="#00f4f4"/><stop offset=".186" stop-color="#0070f0"/><stop offset=".186" stop-color="#1414f0"/><stop offset=".186" stop-color="#5010e0"/><stop offset=".186" stop-color="#8812d8"/><stop offset=".186" stop-color="#8c10c4"/><stop offset=".32" stop-color="#8812d8"/><stop offset=".438" stop-color="#1414f0"/><stop offset=".5" stop-color="#0099f0"/><stop offset=".562" stop-color="#00e8f3"/><stop offset=".628" stop-color="#00f4f4"/><stop offset=".703" stop-color="#00f4f4"/><stop offset=".703" stop-color="#00e8a0"/><stop offset=".703" stop-color="#00e470"/><stop offset=".715" stop-color="#00e040"/><stop offset=".75" stop-color="#15dd17"/><stop offset=".751" stop-color="#00e040"/><stop offset=".752" stop-color="#00e8a0"/><stop offset=".753" stop-color="#00f4f4"/><stop offset=".755" stop-color="#0265f0"/><stop offset=".765" stop-color="#1414f0"/><stop offset=".78" stop-color="#6c11dc"/><stop offset=".8" stop-color="#8812d8"/><stop offset=".884" stop-color="#8b10c8"/><stop offset=".926" stop-color="#8812d8"/><stop offset="1" stop-color="#3c11e5"/></radialGradient><radialGradient id="g51" gradientUnits="userSpaceOnUse" cx="1407.3" cy="2135.2" r="289.5"><stop offset="0" stop-color="#8b11ca"/><stop offset=".051" stop-color="#8812d8"/><stop offset=".065" stop-color="#5010e0"/><stop offset=".075" stop-color="#1414f0"/><stop offset=".089" stop-color="#0070f0"/><stop offset=".113" stop-color="#00f4f4"/><stop offset=".125" stop-color="#00e8a0"/><stop offset=".133" stop-color="#00e040"/><stop offset=".146" stop-color="#18dc10"/><stop offset=".165" stop-color="#78e000"/><stop offset=".169" stop-color="#87e200"/><stop offset=".186" stop-color="#41de09"/><stop offset=".186" stop-color="#18dc10"/><stop offset=".186" stop-color="#00e040"/><stop offset=".186" stop-color="#00e8a0"/><stop offset=".186" stop-color="#00f4f4"/><stop offset=".186" stop-color="#0070f0"/><stop offset=".186" stop-color="#1414f0"/><stop offset=".186" stop-color="#5010e0"/><stop offset=".186" stop-color="#8812d8"/><stop offset=".186" stop-color="#8c10c4"/><stop offset=".32" stop-color="#8812d8"/><stop offset=".438" stop-color="#1414f0"/><stop offset=".5" stop-color="#0099f0"/><stop offset=".562" stop-color="#00e8f3"/><stop offset=".628" stop-color="#00f4f4"/><stop offset=".699" stop-color="#00f4f4"/><stop offset=".699" stop-color="#00e8a0"/><stop offset=".699" stop-color="#00e470"/><stop offset=".712" stop-color="#00e040"/><stop offset=".75" stop-color="#15dd17"/><stop offset=".751" stop-color="#00e040"/><stop offset=".751" stop-color="#00e8a0"/><stop offset=".752" stop-color="#00f4f4"/><stop offset=".754" stop-color="#0268f0"/><stop offset=".765" stop-color="#1414f0"/><stop offset=".779" stop-color="#6b11dc"/><stop offset=".8" stop-color="#8812d8"/><stop offset=".883" stop-color="#8b10c8"/><stop offset=".925" stop-color="#8812d8"/><stop offset="1" stop-color="#3b11e6"/></radialGradient><radialGradient id="g52" gradientUnits="userSpaceOnUse" cx="1407.3" cy="2135.2" r="289.5"><stop offset="0" stop-color="#8b11ca"/><stop offset=".051" stop-color="#8812d8"/><stop offset=".065" stop-color="#5010e0"/><stop offset=".075" stop-color="#1414f0"/><stop offset=".089" stop-color="#0070f0"/><stop offset=".113" stop-color="#00f4f4"/><stop offset=".125" stop-color="#00e8a0"/><stop offset=".133" stop-color="#00e040"/><stop offset=".146" stop-color="#18dc10"/><stop offset=".165" stop-color="#78e000"/><stop offset=".169" stop-color="#87e200"/><stop offset=".185" stop-color="#3fde09"/><stop offset=".186" stop-color="#18dc10"/><stop offset=".186" stop-color="#00e040"/><stop offset=".186" stop-color="#00e8a0"/><stop offset=".186" stop-color="#00f4f4"/><stop offset=".186" stop-color="#0070f0"/><stop offset=".186" stop-color="#1414f0"/><stop offset=".186" stop-color="#5010e0"/><stop offset=".186" stop-color="#8812d8"/><stop offset=".186" stop-color="#8c10c4"/><stop offset=".32" stop-color="#8812d8"/><stop offset=".438" stop-color="#1414f0"/><stop offset=".5" stop-color="#0099f0"/><stop offset=".562" stop-color="#00e8f3"/><stop offset=".628" stop-color="#00f4f4"/><stop offset=".695" stop-color="#00f4f4"/><stop offset=".695" stop-color="#00e8a0"/><stop offset=".695" stop-color="#00e470"/><stop offset=".709" stop-color="#00e040"/><stop offset=".75" stop-color="#15dd17"/><stop offset=".751" stop-color="#00e040"/><stop offset=".751" stop-color="#00e8a0"/><stop offset=".752" stop-color="#00f4f4"/><stop offset=".754" stop-color="#016bf0"/><stop offset=".765" stop-color="#1414f0"/><stop offset=".779" stop-color="#6a11dc"/><stop offset=".8" stop-color="#8812d8"/><stop offset=".882" stop-color="#8b10c8"/><stop offset=".923" stop-color="#8812d8"/><stop offset="1" stop-color="#3b11e6"/></radialGradient><radialGradient id="g53" gradientUnits="userSpaceOnUse" cx="1407.3" cy="2135.2" r="289.5"><stop offset="0" stop-color="#8b11ca"/><stop offset=".051" stop-color="#8812d8"/><stop offset=".065" stop-color="#5010e0"/><stop offset=".075" stop-color="#1414f0"/><stop offset=".089" stop-color="#0070f0"/><stop offset=".113" stop-color="#00f4f4"/><stop offset=".125" stop-color="#00e8a0"/><stop offset=".133" stop-color="#00e040"/><stop offset=".146" stop-color="#18dc10"/><stop offset=".165" stop-color="#78e000"/><stop offset=".169" stop-color="#87e200"/><stop offset=".185" stop-color="#3ede0a"/><stop offset=".185" stop-color="#18dc10"/><stop offset=".185" stop-color="#00e040"/><stop offset=".185" stop-color="#00e8a0"/><stop offset=".185" stop-color="#00f4f4"/><stop offset=".186" stop-color="#0070f0"/><stop offset=".186" stop-color="#1414f0"/><stop offset=".186" stop-color="#5010e0"/><stop offset=".186" stop-color="#8812d8"/><stop offset=".186" stop-color="#8c10c4"/><stop offset=".32" stop-color="#8812d8"/><stop offset=".438" stop-color="#1414f0"/><stop offset=".5" stop-color="#0099f0"/><stop offset=".562" stop-color="#00e8f3"/><stop offset=".628" stop-color="#00f4f4"/><stop offset=".698" stop-color="#00f4f4"/><stop offset=".698" stop-color="#00e8a0"/><stop offset=".698" stop-color="#00e470"/><stop offset=".711" stop-color="#00e040"/><stop offset=".75" stop-color="#15dd17"/><stop offset=".751" stop-color="#00e040"/><stop offset=".751" stop-color="#00e8a0"/><stop offset=".752" stop-color="#00f4f4"/><stop offset=".753" stop-color="#006ff0"/><stop offset=".765" stop-color="#1414f0"/><stop offset=".778" stop-color="#6911dc"/><stop offset=".8" stop-color="#8812d8"/><stop offset=".882" stop-color="#8b10c8"/><stop offset=".922" stop-color="#8812d8"/><stop offset="1" stop-color="#3a11e6"/></radialGradient><radialGradient id="g54" gradientUnits="userSpaceOnUse" cx="1407.3" cy="2135.2" r="289.5"><stop offset="0" stop-color="#8b11ca"/><stop offset=".051" stop-color="#8812d8"/><stop offset=".065" stop-color="#5010e0"/><stop offset=".075" stop-color="#1414f0"/><stop offset=".089" stop-color="#0070f0"/><stop offset=".113" stop-color="#00f4f4"/><stop offset=".125" stop-color="#00e8a0"/><stop offset=".133" stop-color="#00e040"/><stop offset=".146" stop-color="#18dc10"/><stop offset=".165" stop-color="#78e000"/><stop offset=".169" stop-color="#87e200"/><stop offset=".185" stop-color="#3cde0a"/><stop offset=".185" stop-color="#18dc10"/><stop offset=".185" stop-color="#00e040"/><stop offset=".185" stop-color="#00e8a0"/><stop offset=".185" stop-color="#00f4f4"/><stop offset=".185" stop-color="#0070f0"/><stop offset=".185" stop-color="#1414f0"/><stop offset=".185" stop-color="#5010e0"/><stop offset=".185" stop-color="#8812d8"/><stop offset=".186" stop-color="#8c10c4"/><stop offset=".32" stop-color="#8812d8"/><stop offset=".438" stop-color="#1414f0"/><stop offset=".5" stop-color="#0099f0"/><stop offset=".562" stop-color="#00e8f3"/><stop offset=".628" stop-color="#00f4f4"/><stop offset=".703" stop-color="#00f4f4"/><stop offset=".703" stop-color="#00e8a0"/><stop offset=".703" stop-color="#00e470"/><stop offset=".715" stop-color="#00e040"/><stop offset=".75" stop-color="#15dd17"/><stop offset=".751" stop-color="#00e040"/><stop offset=".751" stop-color="#00e8a0"/><stop offset=".752" stop-color="#00f4f4"/><stop offset=".753" stop-color="#0072f0"/><stop offset=".765" stop-color="#1414f0"/><stop offset=".778" stop-color="#6811dd"/><stop offset=".8" stop-color="#8812d8"/><stop offset=".881" stop-color="#8b10c9"/><stop offset=".92" stop-color="#8812d8"/><stop offset="1" stop-color="#3912e6"/></radialGradient><radialGradient id="g55" gradientUnits="userSpaceOnUse" cx="1407.3" cy="2135.2" r="289.5"><stop offset="0" stop-color="#8b11ca"/><stop offset=".051" stop-color="#8812d8"/><stop offset=".065" stop-color="#5010e0"/><stop offset=".075" stop-color="#1414f0"/><stop offset=".089" stop-color="#0070f0"/><stop offset=".113" stop-color="#00f4f4"/><stop offset=".125" stop-color="#00e8a0"/><stop offset=".133" stop-color="#00e040"/><stop offset=".146" stop-color="#18dc10"/><stop offset=".165" stop-color="#78e000"/><stop offset=".169" stop-color="#87e200"/><stop offset=".185" stop-color="#3bdd0a"/><stop offset=".185" stop-color="#18dc10"/><stop offset=".185" stop-color="#00e040"/><stop offset=".185" stop-color="#00e8a0"/><stop offset=".185" stop-color="#00f4f4"/><stop offset=".185" stop-color="#0070f0"/><stop offset=".185" stop-color="#1414f0"/><stop offset=".185" stop-color="#5010e0"/><stop offset=".185" stop-color="#8812d8"/><stop offset=".185" stop-color="#8c10c4"/><stop offset=".32" stop-color="#8812d8"/><stop offset=".438" stop-color="#1414f0"/><stop offset=".5" stop-color="#0099f0"/><stop offset=".562" stop-color="#00e8f3"/><stop offset=".628" stop-color="#00f4f4"/><stop offset=".709" stop-color="#00f4f4"/><stop offset=".709" stop-color="#00e8a0"/><stop offset=".709" stop-color="#00e470"/><stop offset=".719" stop-color="#00e040"/><stop offset=".75" stop-color="#15dd17"/><stop offset=".75" stop-color="#00e040"/><stop offset=".751" stop-color="#00e8a0"/><stop offset=".751" stop-color="#00f4f4"/><stop offset=".752" stop-color="#0075f0"/><stop offset=".765" stop-color="#1414f0"/><stop offset=".777" stop-color="#6711dd"/><stop offset=".801" stop-color="#8812d8"/><stop offset=".88" stop-color="#8b10c9"/><stop offset=".919" stop-color="#8812d8"/><stop offset="1" stop-color="#3812e6"/></radialGradient><radialGradient id="g56" gradientUnits="userSpaceOnUse" cx="1407.3" cy="2135.2" r="289.5"><stop offset="0" stop-color="#8b11ca"/><stop offset=".051" stop-color="#8812d8"/><stop offset=".065" stop-color="#5010e0"/><stop offset=".075" stop-color="#1414f0"/><stop offset=".089" stop-color="#0070f0"/><stop offset=".113" stop-color="#00f4f4"/><stop offset=".125" stop-color="#00e8a0"/><stop offset=".133" stop-color="#00e040"/><stop offset=".146" stop-color="#18dc10"/><stop offset=".165" stop-color="#78e000"/><stop offset=".169" stop-color="#87e200"/><stop offset=".185" stop-color="#3add0a"/><stop offset=".185" stop-color="#18dc10"/><stop offset=".185" stop-color="#00e040"/><stop offset=".185" stop-color="#00e8a0"/><stop offset=".185" stop-color="#00f4f4"/><stop offset=".185" stop-color="#0070f0"/><stop offset=".185" stop-color="#1414f0"/><stop offset=".185" stop-color="#5010e0"/><stop offset=".185" stop-color="#8812d8"/><stop offset=".185" stop-color="#8c10c4"/><stop offset=".32" stop-color="#8812d8"/><stop offset=".438" stop-color="#1414f0"/><stop offset=".5" stop-color="#0099f0"/><stop offset=".562" stop-color="#00e8f3"/><stop offset=".628" stop-color="#00f4f4"/><stop offset=".714" stop-color="#00f4f4"/><stop offset=".715" stop-color="#00e8a0"/><stop offset=".715" stop-color="#00e470"/><stop offset=".723" stop-color="#00e040"/><stop offset=".75" stop-color="#15dd17"/><stop offset=".75" stop-color="#00e040"/><stop offset=".751" stop-color="#00e8a0"/><stop offset=".751" stop-color="#00f4f4"/><stop offset=".752" stop-color="#0078f0"/><stop offset=".765" stop-color="#1414f0"/><stop offset=".777" stop-color="#61d"/><stop offset=".8" stop-color="#8812d8"/><stop offset=".879" stop-color="#8b11c9"/><stop offset=".917" stop-color="#8812d8"/><stop offset="1" stop-color="#3712e7"/></radialGradient><radialGradient id="g57" gradientUnits="userSpaceOnUse" cx="1407.3" cy="2135.2" r="289.5"><stop offset="0" stop-color="#8b11ca"/><stop offset=".051" stop-color="#8812d8"/><stop offset=".065" stop-color="#5010e0"/><stop offset=".075" stop-color="#1414f0"/><stop offset=".089" stop-color="#0070f0"/><stop offset=".113" stop-color="#00f4f4"/><stop offset=".125" stop-color="#00e8a0"/><stop offset=".133" stop-color="#00e040"/><stop offset=".146" stop-color="#18dc10"/><stop offset=".165" stop-color="#78e000"/><stop offset=".169" stop-color="#87e200"/><stop offset=".185" stop-color="#39dd0a"/><stop offset=".185" stop-color="#18dc10"/><stop offset=".185" stop-color="#00e040"/><stop offset=".185" stop-color="#00e8a0"/><stop offset=".185" stop-color="#00f4f4"/><stop offset=".185" stop-color="#0070f0"/><stop offset=".185" stop-color="#1414f0"/><stop offset=".185" stop-color="#5010e0"/><stop offset=".185" stop-color="#8812d8"/><stop offset=".185" stop-color="#8c10c4"/><stop offset=".32" stop-color="#8812d8"/><stop offset=".438" stop-color="#1414f0"/><stop offset=".5" stop-color="#0099f0"/><stop offset=".562" stop-color="#00e8f3"/><stop offset=".628" stop-color="#00f4f4"/><stop offset=".72" stop-color="#00f4f4"/><stop offset=".72" stop-color="#00e8a0"/><stop offset=".72" stop-color="#00e470"/><stop offset=".728" stop-color="#00e040"/><stop offset=".75" stop-color="#15dd17"/><stop offset=".75" stop-color="#00e040"/><stop offset=".75" stop-color="#00e8a0"/><stop offset=".751" stop-color="#00f4f4"/><stop offset=".751" stop-color="#007bf0"/><stop offset=".764" stop-color="#1414f0"/><stop offset=".776" stop-color="#6411dd"/><stop offset=".8" stop-color="#8812d8"/><stop offset=".878" stop-color="#8b11c9"/><stop offset=".916" stop-color="#8812d8"/><stop offset="1" stop-color="#3712e7"/></radialGradient><radialGradient id="g58" gradientUnits="userSpaceOnUse" cx="1407.3" cy="2135.2" r="289.5"><stop offset="0" stop-color="#8b11ca"/><stop offset=".051" stop-color="#8812d8"/><stop offset=".065" stop-color="#5010e0"/><stop offset=".075" stop-color="#1414f0"/><stop offset=".089" stop-color="#0070f0"/><stop offset=".113" stop-color="#00f4f4"/><stop offset=".125" stop-color="#00e8a0"/><stop offset=".133" stop-color="#00e040"/><stop offset=".146" stop-color="#18dc10"/><stop offset=".165" stop-color="#78e000"/><stop offset=".169" stop-color="#87e200"/><stop offset=".185" stop-color="#38dd0b"/><stop offset=".185" stop-color="#18dc10"/><stop offset=".185" stop-color="#00e040"/><stop offset=".185" stop-color="#00e8a0"/><stop offset=".185" stop-color="#00f4f4"/><stop offset=".185" stop-color="#0070f0"/><stop offset=".185" stop-color="#1414f0"/><stop offset=".185" stop-color="#5010e0"/><stop offset=".185" stop-color="#8812d8"/><stop offset=".185" stop-color="#8c10c4"/><stop offset=".32" stop-color="#8812d8"/><stop offset=".438" stop-color="#1414f0"/><stop offset=".5" stop-color="#0099f0"/><stop offset=".562" stop-color="#00e8f3"/><stop offset=".628" stop-color="#00f4f4"/><stop offset=".726" stop-color="#00f4f4"/><stop offset=".726" stop-color="#00e8a0"/><stop offset=".726" stop-color="#00e470"/><stop offset=".732" stop-color="#00e040"/><stop offset=".75" stop-color="#15dd17"/><stop offset=".75" stop-color="#00e040"/><stop offset=".75" stop-color="#00e8a0"/><stop offset=".751" stop-color="#00f4f4"/><stop offset=".751" stop-color="#007ef0"/><stop offset=".764" stop-color="#1414f0"/><stop offset=".776" stop-color="#6311dd"/><stop offset=".8" stop-color="#8812d8"/><stop offset=".877" stop-color="#8b11ca"/><stop offset=".914" stop-color="#8812d8"/><stop offset="1" stop-color="#3612e7"/></radialGradient><radialGradient id="g59" gradientUnits="userSpaceOnUse" cx="1407.3" cy="2135.2" r="289.5"><stop offset="0" stop-color="#8b11ca"/><stop offset=".051" stop-color="#8812d8"/><stop offset=".065" stop-color="#5010e0"/><stop offset=".075" stop-color="#1414f0"/><stop offset=".089" stop-color="#0070f0"/><stop offset=".113" stop-color="#00f4f4"/><stop offset=".125" stop-color="#00e8a0"/><stop offset=".133" stop-color="#00e040"/><stop offset=".146" stop-color="#18dc10"/><stop offset=".165" stop-color="#78e000"/><stop offset=".169" stop-color="#87e200"/><stop offset=".185" stop-color="#38dd0b"/><stop offset=".185" stop-color="#18dc10"/><stop offset=".185" stop-color="#00e040"/><stop offset=".185" stop-color="#00e8a0"/><stop offset=".185" stop-color="#00f4f4"/><stop offset=".185" stop-color="#0070f0"/><stop offset=".185" stop-color="#1414f0"/><stop offset=".185" stop-color="#5010e0"/><stop offset=".185" stop-color="#8812d8"/><stop offset=".185" stop-color="#8c10c4"/><stop offset=".32" stop-color="#8812d8"/><stop offset=".438" stop-color="#1414f0"/><stop offset=".5" stop-color="#0099f0"/><stop offset=".562" stop-color="#00e8f3"/><stop offset=".628" stop-color="#00f4f4"/><stop offset=".731" stop-color="#00f4f4"/><stop offset=".731" stop-color="#00e8a0"/><stop offset=".732" stop-color="#00e470"/><stop offset=".736" stop-color="#00e040"/><stop offset=".75" stop-color="#15dd17"/><stop offset=".75" stop-color="#00e040"/><stop offset=".75" stop-color="#00e8a0"/><stop offset=".75" stop-color="#00f4f4"/><stop offset=".75" stop-color="#0082f0"/><stop offset=".764" stop-color="#1414f0"/><stop offset=".775" stop-color="#6211dd"/><stop offset=".8" stop-color="#8812d8"/><stop offset=".813" stop-color="#8a11d0"/><stop offset=".876" stop-color="#8b11ca"/><stop offset=".912" stop-color="#8812d8"/><stop offset="1" stop-color="#3512e7"/></radialGradient><radialGradient id="g60" gradientUnits="userSpaceOnUse" cx="1407.3" cy="2135.2" r="289.5"><stop offset="0" stop-color="#8b11ca"/><stop offset=".051" stop-color="#8812d8"/><stop offset=".065" stop-color="#5010e0"/><stop offset=".075" stop-color="#1414f0"/><stop offset=".089" stop-color="#0070f0"/><stop offset=".113" stop-color="#00f4f4"/><stop offset=".125" stop-color="#00e8a0"/><stop offset=".133" stop-color="#00e040"/><stop offset=".146" stop-color="#18dc10"/><stop offset=".165" stop-color="#78e000"/><stop offset=".169" stop-color="#87e200"/><stop offset=".185" stop-color="#38dd0b"/><stop offset=".185" stop-color="#18dc10"/><stop offset=".185" stop-color="#00e040"/><stop offset=".185" stop-color="#00e8a0"/><stop offset=".185" stop-color="#00f4f4"/><stop offset=".185" stop-color="#0070f0"/><stop offset=".185" stop-color="#1414f0"/><stop offset=".185" stop-color="#5010e0"/><stop offset=".185" stop-color="#8812d8"/><stop offset=".185" stop-color="#8c10c4"/><stop offset=".32" stop-color="#8812d8"/><stop offset=".438" stop-color="#1414f0"/><stop offset=".5" stop-color="#0099f0"/><stop offset=".562" stop-color="#00e8f3"/><stop offset=".628" stop-color="#00f4f4"/><stop offset=".731" stop-color="#00f4f4"/><stop offset=".731" stop-color="#00e8a0"/><stop offset=".732" stop-color="#00e470"/><stop offset=".736" stop-color="#00e040"/><stop offset=".75" stop-color="#15dd17"/><stop offset=".75" stop-color="#00e040"/><stop offset=".75" stop-color="#00e8a0"/><stop offset=".75" stop-color="#00f4f4"/><stop offset=".75" stop-color="#0085f0"/><stop offset=".764" stop-color="#1414f0"/><stop offset=".775" stop-color="#6111de"/><stop offset=".8" stop-color="#8812d8"/><stop offset=".812" stop-color="#8a11d0"/><stop offset=".875" stop-color="#8b11ca"/><stop offset=".911" stop-color="#8812d8"/><stop offset="1" stop-color="#3412e7"/></radialGradient></defs><circle cx="1407.3" cy="2135.2" r="309.8" fill="url(#g30)"/><g shape-rendering="crispEdges"><path d="M1407.3 2135.2L1402.6 1825.5L1412 1825.5ZM1407.3 2135.2L1412 2444.9L1402.6 2444.9Z" fill="url(#g0)"/><path d="M1407.3 2135.2L1410.7 1825.5L1420.1 1825.7ZM1407.3 2135.2L1420.1 2444.7L1410.7 2444.9ZM1407.3 2135.2L1403.9 2444.9L1394.5 2444.7ZM1407.3 2135.2L1394.5 1825.7L1403.9 1825.5Z" fill="url(#g1)"/><path d="M1407.3 2135.2L1418.8 1825.6L1428.2 1826.1ZM1407.3 2135.2L1428.2 2444.3L1418.8 2444.8ZM1407.3 2135.2L1395.8 2444.8L1386.4 2444.3ZM1407.3 2135.2L1386.4 1826.1L1395.8 1825.6Z" fill="url(#g2)"/><path d="M1407.3 2135.2L1426.9 1826.1L1436.3 1826.8ZM1407.3 2135.2L1436.3 2443.6L1426.9 2444.3ZM1407.3 2135.2L1387.7 2444.3L1378.3 2443.6ZM1407.3 2135.2L1378.3 1826.8L1387.7 1826.1Z" fill="url(#g3)"/><path d="M1407.3 2135.2L1435 1826.7L1444.4 1827.7ZM1407.3 2135.2L1444.4 2442.7L1435 2443.7ZM1407.3 2135.2L1379.6 2443.7L1370.2 2442.7ZM1407.3 2135.2L1370.2 1827.7L1379.6 1826.7Z" fill="url(#g4)"/><path d="M1407.3 2135.2L1443.1 1827.5L1452.4 1828.7ZM1407.3 2135.2L1452.4 2441.7L1443.1 2442.9ZM1407.3 2135.2L1371.5 2442.9L1362.2 2441.7ZM1407.3 2135.2L1362.2 1828.7L1371.5 1827.5Z" fill="url(#g5)"/><path d="M1407.3 2135.2L1451.1 1828.5L1460.4 1830ZM1407.3 2135.2L1460.4 2440.4L1451.1 2441.9ZM1407.3 2135.2L1363.5 2441.9L1354.2 2440.4ZM1407.3 2135.2L1354.2 1830L1363.5 1828.5Z" fill="url(#g6)"/><path d="M1407.3 2135.2L1459.1 1829.8L1468.4 1831.5ZM1407.3 2135.2L1468.4 2438.9L1459.1 2440.6ZM1407.3 2135.2L1355.5 2440.6L1346.2 2438.9ZM1407.3 2135.2L1346.2 1831.5L1355.5 1829.8Z" fill="url(#g7)"/><path d="M1407.3 2135.2L1467.1 1831.3L1476.3 1833.2ZM1407.3 2135.2L1476.3 2437.2L1467.1 2439.1ZM1407.3 2135.2L1347.5 2439.1L1338.3 2437.2ZM1407.3 2135.2L1338.3 1833.2L1347.5 1831.3Z" fill="url(#g8)"/><path d="M1407.3 2135.2L1475 1832.9L1484.2 1835.1ZM1407.3 2135.2L1484.2 2435.3L1475 2437.5ZM1407.3 2135.2L1339.6 2437.5L1330.4 2435.3ZM1407.3 2135.2L1330.4 1835.1L1339.6 1832.9Z" fill="url(#g9)"/><path d="M1407.3 2135.2L1482.9 1834.8L1492 1837.2ZM1407.3 2135.2L1492 2433.2L1482.9 2435.6ZM1407.3 2135.2L1331.7 2435.6L1322.6 2433.2ZM1407.3 2135.2L1322.6 1837.2L1331.7 1834.8Z" fill="url(#g10)"/><path d="M1407.3 2135.2L1490.8 1836.9L1499.8 1839.6ZM1407.3 2135.2L1499.8 2430.8L1490.8 2433.5ZM1407.3 2135.2L1323.8 2433.5L1314.8 2430.8ZM1407.3 2135.2L1314.8 1839.6L1323.8 1836.9Z" fill="url(#g11)"/><path d="M1407.3 2135.2L1498.5 1839.2L1507.5 1842.1ZM1407.3 2135.2L1507.5 2428.3L1498.5 2431.2ZM1407.3 2135.2L1316.1 2431.2L1307.1 2428.3ZM1407.3 2135.2L1307.1 1842.1L1316.1 1839.2Z" fill="url(#g12)"/><path d="M1407.3 2135.2L1506.3 1841.7L1515.1 1844.8ZM1407.3 2135.2L1515.1 2425.6L1506.3 2428.7ZM1407.3 2135.2L1308.3 2428.7L1299.5 2425.6ZM1407.3 2135.2L1299.5 1844.8L1308.3 1841.7Z" fill="url(#g13)"/><path d="M1407.3 2135.2L1513.9 1844.4L1522.7 1847.7ZM1407.3 2135.2L1522.7 2422.7L1513.9 2426ZM1407.3 2135.2L1300.7 2426L1291.9 2422.7ZM1407.3 2135.2L1291.9 1847.7L1300.7 1844.4Z" fill="url(#g14)"/><path d="M1407.3 2135.2L1521.5 1847.2L1530.2 1850.8ZM1407.3 2135.2L1530.2 2419.6L1521.5 2423.2ZM1407.3 2135.2L1293.1 2423.2L1284.4 2419.6ZM1407.3 2135.2L1284.4 1850.8L1293.1 1847.2Z" fill="url(#g15)"/><path d="M1407.3 2135.2L1529 1850.3L1537.6 1854.2ZM1407.3 2135.2L1537.6 2416.2L1529 2420.1ZM1407.3 2135.2L1285.6 2420.1L1277 2416.2ZM1407.3 2135.2L1277 1854.2L1285.6 1850.3Z" fill="url(#g16)"/><path d="M1407.3 2135.2L1536.4 1853.6L1544.9 1857.7ZM1407.3 2135.2L1544.9 2412.7L1536.4 2416.8ZM1407.3 2135.2L1278.2 2416.8L1269.7 2412.7ZM1407.3 2135.2L1269.7 1857.7L1278.2 1853.6Z" fill="url(#g17)"/><path d="M1407.3 2135.2L1543.7 1857.1L1552.1 1861.4ZM1407.3 2135.2L1552.1 2409L1543.7 2413.3ZM1407.3 2135.2L1270.9 2413.3L1262.5 2409ZM1407.3 2135.2L1262.5 1861.4L1270.9 1857.1Z" fill="url(#g18)"/><path d="M1407.3 2135.2L1551 1860.8L1559.2 1865.2ZM1407.3 2135.2L1559.2 2405.2L1551 2409.6ZM1407.3 2135.2L1263.6 2409.6L1255.4 2405.2ZM1407.3 2135.2L1255.4 1865.2L1263.6 1860.8Z" fill="url(#g19)"/><path d="M1407.3 2135.2L1558.1 1864.6L1566.2 1869.3ZM1407.3 2135.2L1566.2 2401.1L1558.1 2405.8ZM1407.3 2135.2L1256.5 2405.8L1248.4 2401.1ZM1407.3 2135.2L1248.4 1869.3L1256.5 1864.6Z" fill="url(#g20)"/><path d="M1407.3 2135.2L1565.1 1868.7L1573.1 1873.6ZM1407.3 2135.2L1573.1 2396.8L1565.1 2401.7ZM1407.3 2135.2L1249.5 2401.7L1241.5 2396.8ZM1407.3 2135.2L1241.5 1873.6L1249.5 1868.7Z" fill="url(#g21)"/><path d="M1407.3 2135.2L1572 1872.9L1579.9 1878ZM1407.3 2135.2L1579.9 2392.4L1572 2397.5ZM1407.3 2135.2L1242.6 2397.5L1234.7 2392.4ZM1407.3 2135.2L1234.7 1878L1242.6 1872.9Z" fill="url(#g22)"/><path d="M1407.3 2135.2L1578.9 1877.3L1586.6 1882.6ZM1407.3 2135.2L1586.6 2387.8L1578.9 2393.1ZM1407.3 2135.2L1235.7 2393.1L1228 2387.8ZM1407.3 2135.2L1228 1882.6L1235.7 1877.3Z" fill="url(#g23)"/><path d="M1407.3 2135.2L1585.5 1881.9L1593.2 1887.4ZM1407.3 2135.2L1593.2 2383L1585.5 2388.5ZM1407.3 2135.2L1229.1 2388.5L1221.4 2383ZM1407.3 2135.2L1221.4 1887.4L1229.1 1881.9Z" fill="url(#g24)"/><path d="M1407.3 2135.2L1592.1 1886.6L1599.6 1892.3ZM1407.3 2135.2L1599.6 2378.1L1592.1 2383.8ZM1407.3 2135.2L1222.5 2383.8L1215 2378.1ZM1407.3 2135.2L1215 1892.3L1222.5 1886.6Z" fill="url(#g25)"/><path d="M1407.3 2135.2L1598.6 1891.5L1605.9 1897.5ZM1407.3 2135.2L1605.9 2372.9L1598.6 2378.9ZM1407.3 2135.2L1216 2378.9L1208.7 2372.9ZM1407.3 2135.2L1208.7 1897.5L1216 1891.5Z" fill="url(#g26)"/><path d="M1407.3 2135.2L1604.9 1896.6L1612 1902.7ZM1407.3 2135.2L1612 2367.7L1604.9 2373.8ZM1407.3 2135.2L1209.7 2373.8L1202.6 2367.7ZM1407.3 2135.2L1202.6 1902.7L1209.7 1896.6Z" fill="url(#g27)"/><path d="M1407.3 2135.2L1611.1 1901.9L1618 1908.2ZM1407.3 2135.2L1618 2362.2L1611.1 2368.5ZM1407.3 2135.2L1203.5 2368.5L1196.6 2362.2ZM1407.3 2135.2L1196.6 1908.2L1203.5 1901.9Z" fill="url(#g28)"/><path d="M1407.3 2135.2L1617.1 1907.3L1623.9 1913.8ZM1407.3 2135.2L1623.9 2356.6L1617.1 2363.1ZM1407.3 2135.2L1197.5 2363.1L1190.7 2356.6ZM1407.3 2135.2L1190.7 1913.8L1197.5 1907.3Z" fill="url(#g29)"/><path d="M1407.3 2135.2L1623 1912.9L1629.6 1919.5ZM1407.3 2135.2L1629.6 2350.9L1623 2357.5ZM1407.3 2135.2L1191.6 2357.5L1185 2350.9ZM1407.3 2135.2L1185 1919.5L1191.6 1912.9Z" fill="url(#g30)"/><path d="M1407.3 2135.2L1628.7 1918.6L1635.2 1925.4ZM1407.3 2135.2L1635.2 2345L1628.7 2351.8ZM1407.3 2135.2L1185.9 2351.8L1179.4 2345ZM1407.3 2135.2L1179.4 1925.4L1185.9 1918.6Z" fill="url(#g31)"/><path d="M1407.3 2135.2L1634.3 1924.5L1640.6 1931.4ZM1407.3 2135.2L1640.6 2339L1634.3 2345.9ZM1407.3 2135.2L1180.3 2345.9L1174 2339ZM1407.3 2135.2L1174 1931.4L1180.3 1924.5Z" fill="url(#g32)"/><path d="M1407.3 2135.2L1639.8 1930.5L1645.9 1937.6ZM1407.3 2135.2L1645.9 2332.8L1639.8 2339.9ZM1407.3 2135.2L1174.8 2339.9L1168.7 2332.8ZM1407.3 2135.2L1168.7 1937.6L1174.8 1930.5Z" fill="url(#g33)"/><path d="M1407.3 2135.2L1645 1936.6L1651 1943.9ZM1407.3 2135.2L1651 2326.5L1645 2333.8ZM1407.3 2135.2L1169.6 2333.8L1163.6 2326.5ZM1407.3 2135.2L1163.6 1943.9L1169.6 1936.6Z" fill="url(#g34)"/><path d="M1407.3 2135.2L1650.2 1942.9L1655.9 1950.4ZM1407.3 2135.2L1655.9 2320L1650.2 2327.5ZM1407.3 2135.2L1164.4 2327.5L1158.7 2320ZM1407.3 2135.2L1158.7 1950.4L1164.4 1942.9Z" fill="url(#g35)"/><path d="M1407.3 2135.2L1655.1 1949.3L1660.6 1957ZM1407.3 2135.2L1660.6 2313.4L1655.1 2321.1ZM1407.3 2135.2L1159.5 2321.1L1154 2313.4ZM1407.3 2135.2L1154 1957L1159.5 1949.3Z" fill="url(#g36)"/><path d="M1407.3 2135.2L1659.9 1955.9L1665.2 1963.6ZM1407.3 2135.2L1665.2 2306.8L1659.9 2314.5ZM1407.3 2135.2L1154.7 2314.5L1149.4 2306.8ZM1407.3 2135.2L1149.4 1963.6L1154.7 1955.9Z" fill="url(#g37)"/><path d="M1407.3 2135.2L1664.5 1962.6L1669.6 1970.5ZM1407.3 2135.2L1669.6 2299.9L1664.5 2307.8ZM1407.3 2135.2L1150.1 2307.8L1145 2299.9ZM1407.3 2135.2L1145 1970.5L1150.1 1962.6Z" fill="url(#g38)"/><path d="M1407.3 2135.2L1668.9 1969.4L1673.8 1977.4ZM1407.3 2135.2L1673.8 2293L1668.9 2301ZM1407.3 2135.2L1145.7 2301L1140.8 2293ZM1407.3 2135.2L1140.8 1977.4L1145.7 1969.4Z" fill="url(#g39)"/><path d="M1407.3 2135.2L1673.2 1976.3L1677.9 1984.4ZM1407.3 2135.2L1677.9 2286L1673.2 2294.1ZM1407.3 2135.2L1141.4 2294.1L1136.7 2286ZM1407.3 2135.2L1136.7 1984.4L1141.4 1976.3Z" fill="url(#g40)"/><path d="M1407.3 2135.2L1677.3 1983.3L1681.7 1991.5ZM1407.3 2135.2L1681.7 2278.9L1677.3 2287.1ZM1407.3 2135.2L1137.3 2287.1L1132.9 2278.9ZM1407.3 2135.2L1132.9 1991.5L1137.3 1983.3Z" fill="url(#g41)"/><path d="M1407.3 2135.2L1681.1 1990.4L1685.4 1998.8ZM1407.3 2135.2L1685.4 2271.6L1681.1 2280ZM1407.3 2135.2L1133.5 2280L1129.2 2271.6ZM1407.3 2135.2L1129.2 1998.8L1133.5 1990.4Z" fill="url(#g42)"/><path d="M1407.3 2135.2L1684.8 1997.6L1688.9 2006.1ZM1407.3 2135.2L1688.9 2264.3L1684.8 2272.8ZM1407.3 2135.2L1129.8 2272.8L1125.7 2264.3ZM1407.3 2135.2L1125.7 2006.1L1129.8 1997.6Z" fill="url(#g43)"/><path d="M1407.3 2135.2L1688.3 2004.9L1692.2 2013.5ZM1407.3 2135.2L1692.2 2256.9L1688.3 2265.5ZM1407.3 2135.2L1126.3 2265.5L1122.4 2256.9ZM1407.3 2135.2L1122.4 2013.5L1126.3 2004.9Z" fill="url(#g44)"/><path d="M1407.3 2135.2L1691.7 2012.3L1695.3 2021ZM1407.3 2135.2L1695.3 2249.4L1691.7 2258.1ZM1407.3 2135.2L1122.9 2258.1L1119.3 2249.4ZM1407.3 2135.2L1119.3 2021L1122.9 2012.3Z" fill="url(#g45)"/><path d="M1407.3 2135.2L1694.8 2019.8L1698.1 2028.6ZM1407.3 2135.2L1698.1 2241.8L1694.8 2250.6ZM1407.3 2135.2L1119.8 2250.6L1116.5 2241.8ZM1407.3 2135.2L1116.5 2028.6L1119.8 2019.8Z" fill="url(#g46)"/><path d="M1407.3 2135.2L1697.7 2027.4L1700.8 2036.2ZM1407.3 2135.2L1700.8 2234.2L1697.7 2243ZM1407.3 2135.2L1116.9 2243L1113.8 2234.2ZM1407.3 2135.2L1113.8 2036.2L1116.9 2027.4Z" fill="url(#g47)"/><path d="M1407.3 2135.2L1700.4 2035L1703.3 2044ZM1407.3 2135.2L1703.3 2226.4L1700.4 2235.4ZM1407.3 2135.2L1114.2 2235.4L1111.3 2226.4ZM1407.3 2135.2L1111.3 2044L1114.2 2035Z" fill="url(#g48)"/><path d="M1407.3 2135.2L1702.9 2042.7L1705.6 2051.7ZM1407.3 2135.2L1705.6 2218.7L1702.9 2227.7ZM1407.3 2135.2L1111.7 2227.7L1109 2218.7ZM1407.3 2135.2L1109 2051.7L1111.7 2042.7Z" fill="url(#g49)"/><path d="M1407.3 2135.2L1705.3 2050.5L1707.7 2059.6ZM1407.3 2135.2L1707.7 2210.8L1705.3 2219.9ZM1407.3 2135.2L1109.3 2219.9L1106.9 2210.8ZM1407.3 2135.2L1106.9 2059.6L1109.3 2050.5Z" fill="url(#g50)"/><path d="M1407.3 2135.2L1707.4 2058.3L1709.6 2067.5ZM1407.3 2135.2L1709.6 2202.9L1707.4 2212.1ZM1407.3 2135.2L1107.2 2212.1L1105 2202.9ZM1407.3 2135.2L1105 2067.5L1107.2 2058.3Z" fill="url(#g51)"/><path d="M1407.3 2135.2L1709.3 2066.2L1711.2 2075.4ZM1407.3 2135.2L1711.2 2195L1709.3 2204.2ZM1407.3 2135.2L1105.3 2204.2L1103.4 2195ZM1407.3 2135.2L1103.4 2075.4L1105.3 2066.2Z" fill="url(#g52)"/><path d="M1407.3 2135.2L1711 2074.1L1712.7 2083.4ZM1407.3 2135.2L1712.7 2187L1711 2196.3ZM1407.3 2135.2L1103.6 2196.3L1101.9 2187ZM1407.3 2135.2L1101.9 2083.4L1103.6 2074.1Z" fill="url(#g53)"/><path d="M1407.3 2135.2L1712.5 2082.1L1714 2091.4ZM1407.3 2135.2L1714 2179L1712.5 2188.3ZM1407.3 2135.2L1102.1 2188.3L1100.6 2179ZM1407.3 2135.2L1100.6 2091.4L1102.1 2082.1Z" fill="url(#g54)"/><path d="M1407.3 2135.2L1713.8 2090.1L1715 2099.4ZM1407.3 2135.2L1715 2171L1713.8 2180.3ZM1407.3 2135.2L1100.8 2180.3L1099.6 2171ZM1407.3 2135.2L1099.6 2099.4L1100.8 2090.1Z" fill="url(#g55)"/><path d="M1407.3 2135.2L1714.8 2098.1L1715.8 2107.5ZM1407.3 2135.2L1715.8 2162.9L1714.8 2172.3ZM1407.3 2135.2L1099.8 2172.3L1098.8 2162.9ZM1407.3 2135.2L1098.8 2107.5L1099.8 2098.1Z" fill="url(#g56)"/><path d="M1407.3 2135.2L1715.7 2106.2L1716.4 2115.6ZM1407.3 2135.2L1716.4 2154.8L1715.7 2164.2ZM1407.3 2135.2L1098.9 2164.2L1098.2 2154.8ZM1407.3 2135.2L1098.2 2115.6L1098.9 2106.2Z" fill="url(#g57)"/><path d="M1407.3 2135.2L1716.4 2114.3L1716.9 2123.7ZM1407.3 2135.2L1716.9 2146.7L1716.4 2156.1ZM1407.3 2135.2L1098.2 2156.1L1097.7 2146.7ZM1407.3 2135.2L1097.7 2123.7L1098.2 2114.3Z" fill="url(#g58)"/><path d="M1407.3 2135.2L1716.8 2122.4L1717 2131.8ZM1407.3 2135.2L1717 2138.6L1716.8 2148ZM1407.3 2135.2L1097.8 2148L1097.6 2138.6ZM1407.3 2135.2L1097.6 2131.8L1097.8 2122.4Z" fill="url(#g59)"/><path d="M1407.3 2135.2L1717 2130.5L1717 2139.9ZM1407.3 2135.2L1097.6 2139.9L1097.6 2130.5Z" fill="url(#g60)"/></g></g></g>
<g clip-path="url(#cf)"><defs><linearGradient id="fvr" gradientUnits="userSpaceOnUse" x1="1454" y1="0" x2="1571.6" y2="0"><stop offset="0" stop-color="#f00"/><stop offset=".897" stop-color="#f00"/><stop offset=".902" stop-color="#f03c00"/><stop offset=".942" stop-color="#f8dc00"/><stop offset=".957" stop-color="#f6ec00"/><stop offset="1" stop-color="#e6f200"/></linearGradient><clipPath id="fvrc"><circle cx="1407.3" cy="1255.2" r="164.3"/></clipPath></defs><g clip-path="url(#fvrc)"><path d="M1442.4 1286L1454.3 1286L1559.3 1292.1L1577.4 1293.2L1577.4 1217.2L1559.3 1218.3L1454.3 1224.4L1442.4 1224.4A46.7 46.7 0 0 1 1442.4 1286Z" fill="url(#fvr)"/></g><defs><linearGradient id="fvl" gradientUnits="userSpaceOnUse" x1="1360.6" y1="0" x2="1243" y2="0"><stop offset="0" stop-color="#f00"/><stop offset=".897" stop-color="#f00"/><stop offset=".902" stop-color="#f03c00"/><stop offset=".942" stop-color="#f8dc00"/><stop offset=".957" stop-color="#f6ec00"/><stop offset="1" stop-color="#e6f200"/></linearGradient><clipPath id="fvlc"><circle cx="1407.3" cy="1255.2" r="164.3"/></clipPath></defs><g clip-path="url(#fvlc)"><path d="M1372.2 1286L1360.3 1286L1255.3 1292.1L1237.2 1293.2L1237.2 1217.2L1255.3 1218.3L1360.3 1224.4L1372.2 1224.4A46.7 46.7 0 0 0 1372.2 1286Z" fill="url(#fvl)"/></g></g><g fill="none"><g stroke="#8a8a8a" stroke-width="1.1" opacity="0.7"><circle cx="1407.3" cy="1255.2" r="72.4"/><circle cx="1407.3" cy="1255.2" r="144.8"/><circle cx="1407.3" cy="1255.2" r="217.1"/><path d="M1407.3 1544.7L1407.3 965.7M1262.5 1505.9L1552 1004.5M1156.6 1400L1658 1110.5M1117.8 1255.2L1696.8 1255.2M1156.6 1110.5L1658 1400M1262.5 1004.5L1552 1505.9"/></g><path d="M1407.3 1255.2L1407.3 965.7M1407.3 1255.2L1407.3 1544.7M1407.3 1255.2L1574.4 1018.8M1407.3 1255.2L1240.2 1491.6M1407.3 1255.2L1643.7 1088.1M1407.3 1255.2L1170.9 1422.3M1407.3 1255.2L1680.2 1158.7M1407.3 1255.2L1134.4 1351.7M1407.3 1255.2L1696.8 1255.2M1407.3 1255.2L1117.8 1255.2M1407.3 1255.2L1680.2 1351.7M1407.3 1255.2L1134.4 1158.7M1407.3 1255.2L1643.7 1422.3M1407.3 1255.2L1170.9 1088.1M1407.3 1255.2L1574.4 1491.6M1407.3 1255.2L1240.2 1018.8" stroke="#f4e8f4" stroke-width="1.9" stroke-dasharray="7.5 7.5" stroke-dashoffset="-5"/><circle cx="1407.3" cy="1255.2" r="289.5" stroke="#333" stroke-width="0.9"/></g><g fill="none" stroke-linejoin="round"><path d="M1407.3 1075.3L1416.6 1075.7L1425.9 1076.5L1435.2 1077.8L1444.3 1079.6L1453.3 1081.9L1462.2 1084.7L1470.9 1087.9L1479.4 1091.7L1487.7 1095.9L1495.5 1100.8L1503.1 1106.1L1510.4 1111.8L1517.4 1117.7L1524 1124L1530 1130.9L1535.7 1138L1540.9 1145.4L1545.7 1153L1550 1160.8L1554 1168.8L1557.5 1177L1560.5 1185.2L1563.4 1193.5L1565.9 1201.9L1567.9 1210.3L1569.5 1218.8L1570.6 1227.4L1571.3 1235.9L1571.6 1244.5L1571.4 1253.1L1571.5 1261.6L1571.5 1270.2L1571 1278.7L1570.1 1287.3L1568.7 1295.8L1566.9 1304.3L1564.7 1312.7L1562 1321L1559.1 1329.3L1555.8 1337.5L1552.1 1345.6L1547.9 1353.5L1543.3 1361.2L1538.3 1368.7L1532.9 1376L1527.1 1383L1520.7 1389.6L1513.9 1395.7L1506.8 1401.5L1499.3 1406.9L1491.7 1412.1L1483.6 1416.6L1475.2 1420.6L1466.6 1424.2L1457.8 1427.2L1448.8 1429.7L1439.7 1431.7L1430.5 1433.3L1421.3 1434.3L1412 1434.9L1402.6 1434.9L1393.3 1434.3L1384.1 1433.3L1374.9 1431.7L1365.8 1429.7L1356.8 1427.2L1348 1424.2L1339.4 1420.6L1331 1416.6L1322.9 1412.1L1315.3 1406.9L1307.8 1401.5L1300.7 1395.7L1293.9 1389.6L1287.5 1383L1281.7 1376L1276.3 1368.7L1271.3 1361.2L1266.7 1353.5L1262.5 1345.6L1258.8 1337.5L1255.5 1329.3L1252.6 1321L1249.9 1312.7L1247.7 1304.3L1245.9 1295.8L1244.5 1287.3L1243.6 1278.7L1243.1 1270.2L1243.1 1261.6L1243.2 1253.1L1243 1244.5L1243.3 1235.9L1244 1227.4L1245.1 1218.8L1246.7 1210.3L1248.7 1201.9L1251.2 1193.5L1254.1 1185.2L1257.1 1177L1260.6 1168.8L1264.6 1160.8L1268.9 1153L1273.7 1145.4L1278.9 1138L1284.6 1130.9L1290.6 1124L1297.2 1117.7L1304.2 1111.8L1311.5 1106.1L1319.1 1100.8L1326.9 1095.9L1335.2 1091.7L1343.7 1087.9L1352.4 1084.7L1361.3 1081.9L1370.3 1079.6L1379.4 1077.8L1388.7 1076.5L1398 1075.7L1407.3 1075.3Z" stroke="#000" stroke-width="2.4"/><path d="M1407.3 1075.3L1416.6 1075.7L1425.9 1076.5L1435.2 1077.8L1444.3 1079.6L1453.3 1081.9L1462.2 1084.7L1470.9 1087.9L1479.4 1091.7L1487.7 1095.9L1495.5 1100.8L1503.1 1106.1L1510.4 1111.8L1517.4 1117.7L1524 1124L1530 1130.9L1535.7 1138L1540.9 1145.4L1545.7 1153L1550 1160.8L1554 1168.8L1557.5 1177L1560.5 1185.2L1563.4 1193.5L1565.9 1201.9L1567.9 1210.3L1569.5 1218.8L1570.6 1227.4L1571.3 1235.9L1571.6 1244.5L1571.4 1253.1L1571.5 1261.6L1571.5 1270.2L1571 1278.7L1570.1 1287.3L1568.7 1295.8L1566.9 1304.3L1564.7 1312.7L1562 1321L1559.1 1329.3L1555.8 1337.5L1552.1 1345.6L1547.9 1353.5L1543.3 1361.2L1538.3 1368.7L1532.9 1376L1527.1 1383L1520.7 1389.6L1513.9 1395.7L1506.8 1401.5L1499.3 1406.9L1491.7 1412.1L1483.6 1416.6L1475.2 1420.6L1466.6 1424.2L1457.8 1427.2L1448.8 1429.7L1439.7 1431.7L1430.5 1433.3L1421.3 1434.3L1412 1434.9L1402.6 1434.9L1393.3 1434.3L1384.1 1433.3L1374.9 1431.7L1365.8 1429.7L1356.8 1427.2L1348 1424.2L1339.4 1420.6L1331 1416.6L1322.9 1412.1L1315.3 1406.9L1307.8 1401.5L1300.7 1395.7L1293.9 1389.6L1287.5 1383L1281.7 1376L1276.3 1368.7L1271.3 1361.2L1266.7 1353.5L1262.5 1345.6L1258.8 1337.5L1255.5 1329.3L1252.6 1321L1249.9 1312.7L1247.7 1304.3L1245.9 1295.8L1244.5 1287.3L1243.6 1278.7L1243.1 1270.2L1243.1 1261.6L1243.2 1253.1L1243 1244.5L1243.3 1235.9L1244 1227.4L1245.1 1218.8L1246.7 1210.3L1248.7 1201.9L1251.2 1193.5L1254.1 1185.2L1257.1 1177L1260.6 1168.8L1264.6 1160.8L1268.9 1153L1273.7 1145.4L1278.9 1138L1284.6 1130.9L1290.6 1124L1297.2 1117.7L1304.2 1111.8L1311.5 1106.1L1319.1 1100.8L1326.9 1095.9L1335.2 1091.7L1343.7 1087.9L1352.4 1084.7L1361.3 1081.9L1370.3 1079.6L1379.4 1077.8L1388.7 1076.5L1398 1075.7L1407.3 1075.3Z" stroke="#000" stroke-width="5" stroke-dasharray="5 6.5"/><path d="M1407.3 1075.3L1416.6 1075.7L1425.9 1076.5L1435.2 1077.8L1444.3 1079.6L1453.3 1081.9L1462.2 1084.7L1470.9 1087.9L1479.4 1091.7L1487.7 1095.9L1495.5 1100.8L1503.1 1106.1L1510.4 1111.8L1517.4 1117.7L1524 1124L1530 1130.9L1535.7 1138L1540.9 1145.4L1545.7 1153L1550 1160.8L1554 1168.8L1557.5 1177L1560.5 1185.2L1563.4 1193.5L1565.9 1201.9L1567.9 1210.3L1569.5 1218.8L1570.6 1227.4L1571.3 1235.9L1571.6 1244.5L1571.4 1253.1L1571.5 1261.6L1571.5 1270.2L1571 1278.7L1570.1 1287.3L1568.7 1295.8L1566.9 1304.3L1564.7 1312.7L1562 1321L1559.1 1329.3L1555.8 1337.5L1552.1 1345.6L1547.9 1353.5L1543.3 1361.2L1538.3 1368.7L1532.9 1376L1527.1 1383L1520.7 1389.6L1513.9 1395.7L1506.8 1401.5L1499.3 1406.9L1491.7 1412.1L1483.6 1416.6L1475.2 1420.6L1466.6 1424.2L1457.8 1427.2L1448.8 1429.7L1439.7 1431.7L1430.5 1433.3L1421.3 1434.3L1412 1434.9L1402.6 1434.9L1393.3 1434.3L1384.1 1433.3L1374.9 1431.7L1365.8 1429.7L1356.8 1427.2L1348 1424.2L1339.4 1420.6L1331 1416.6L1322.9 1412.1L1315.3 1406.9L1307.8 1401.5L1300.7 1395.7L1293.9 1389.6L1287.5 1383L1281.7 1376L1276.3 1368.7L1271.3 1361.2L1266.7 1353.5L1262.5 1345.6L1258.8 1337.5L1255.5 1329.3L1252.6 1321L1249.9 1312.7L1247.7 1304.3L1245.9 1295.8L1244.5 1287.3L1243.6 1278.7L1243.1 1270.2L1243.1 1261.6L1243.2 1253.1L1243 1244.5L1243.3 1235.9L1244 1227.4L1245.1 1218.8L1246.7 1210.3L1248.7 1201.9L1251.2 1193.5L1254.1 1185.2L1257.1 1177L1260.6 1168.8L1264.6 1160.8L1268.9 1153L1273.7 1145.4L1278.9 1138L1284.6 1130.9L1290.6 1124L1297.2 1117.7L1304.2 1111.8L1311.5 1106.1L1319.1 1100.8L1326.9 1095.9L1335.2 1091.7L1343.7 1087.9L1352.4 1084.7L1361.3 1081.9L1370.3 1079.6L1379.4 1077.8L1388.7 1076.5L1398 1075.7L1407.3 1075.3Z" stroke="#fff" stroke-width="3" stroke-dasharray="3 8.5" stroke-dashoffset="-1"/><path d="M1323.4 1150.6L1326.6 1145.5L1330.2 1140.5L1334 1135.5L1337.6 1129.7L1341.5 1124L1345.8 1118.4L1350.4 1112.9L1355.5 1108L1361 1103.5L1366.8 1099.1L1372.9 1094.9L1379.1 1090.1L1385.7 1085.5L1392.6 1081.2L1399.8 1078.9L1407.3 1079L1414.8 1078.9L1422 1081.2L1428.9 1085.5L1435.5 1090.1L1441.7 1094.9L1447.8 1099.1L1453.6 1103.5L1459.1 1108L1464.2 1112.9L1468.8 1118.4L1473.1 1124L1477 1129.7L1480.6 1135.5L1484.4 1140.5L1488 1145.5L1491.2 1150.6" stroke="#000" stroke-width="3.2"/><path d="M1323.4 1150.6L1326.6 1145.5L1330.2 1140.5L1334 1135.5L1337.6 1129.7L1341.5 1124L1345.8 1118.4L1350.4 1112.9L1355.5 1108L1361 1103.5L1366.8 1099.1L1372.9 1094.9L1379.1 1090.1L1385.7 1085.5L1392.6 1081.2L1399.8 1078.9L1407.3 1079L1414.8 1078.9L1422 1081.2L1428.9 1085.5L1435.5 1090.1L1441.7 1094.9L1447.8 1099.1L1453.6 1103.5L1459.1 1108L1464.2 1112.9L1468.8 1118.4L1473.1 1124L1477 1129.7L1480.6 1135.5L1484.4 1140.5L1488 1145.5L1491.2 1150.6" stroke="#000" stroke-width="6.5" stroke-dasharray="0.1 11.5" stroke-linecap="round"/><path d="M1323.4 1359.8L1326.6 1364.9L1330.2 1369.9L1334 1374.9L1337.6 1380.7L1341.5 1386.4L1345.8 1392L1350.4 1397.5L1355.5 1402.4L1361 1406.9L1366.8 1411.3L1372.9 1415.5L1379.1 1420.3L1385.7 1424.9L1392.6 1429.2L1399.8 1431.5L1407.3 1431.4L1414.8 1431.5L1422 1429.2L1428.9 1424.9L1435.5 1420.3L1441.7 1415.5L1447.8 1411.3L1453.6 1406.9L1459.1 1402.4L1464.2 1397.5L1468.8 1392L1473.1 1386.4L1477 1380.7L1480.6 1374.9L1484.4 1369.9L1488 1364.9L1491.2 1359.8" stroke="#000" stroke-width="3.2"/><path d="M1323.4 1359.8L1326.6 1364.9L1330.2 1369.9L1334 1374.9L1337.6 1380.7L1341.5 1386.4L1345.8 1392L1350.4 1397.5L1355.5 1402.4L1361 1406.9L1366.8 1411.3L1372.9 1415.5L1379.1 1420.3L1385.7 1424.9L1392.6 1429.2L1399.8 1431.5L1407.3 1431.4L1414.8 1431.5L1422 1429.2L1428.9 1424.9L1435.5 1420.3L1441.7 1415.5L1447.8 1411.3L1453.6 1406.9L1459.1 1402.4L1464.2 1397.5L1468.8 1392L1473.1 1386.4L1477 1380.7L1480.6 1374.9L1484.4 1369.9L1488 1364.9L1491.2 1359.8" stroke="#000" stroke-width="6.5" stroke-dasharray="0.1 11.5" stroke-linecap="round"/><path d="M1491.3 1150.6L1453.3 1224.4M1323.3 1150.6L1361.3 1224.4M1491.3 1359.8L1453.3 1286M1323.3 1359.8L1361.3 1286M1454.3 1224.4L1559.3 1218.3L1559.3 1255.2M1360.3 1224.4L1255.3 1218.3L1255.3 1255.2M1454.3 1286L1559.3 1292.1L1559.3 1255.2M1360.3 1286L1255.3 1292.1L1255.3 1255.2" stroke="#000" stroke-width="3.6" stroke-dasharray="8 4.5"/><path d="M1491.3 1150.6L1453.3 1224.4M1323.3 1150.6L1361.3 1224.4M1491.3 1359.8L1453.3 1286M1323.3 1359.8L1361.3 1286M1454.3 1224.4L1559.3 1218.3L1559.3 1255.2M1360.3 1224.4L1255.3 1218.3L1255.3 1255.2M1454.3 1286L1559.3 1292.1L1559.3 1255.2M1360.3 1286L1255.3 1292.1L1255.3 1255.2" stroke="#fff" stroke-width="5.6" stroke-dasharray="0.1 13" stroke-linecap="round"/><path d="M1491.3 1151.3L1550.2 1151.3L1550.2 1218.7M1323.3 1151.3L1264.4 1151.3L1264.4 1218.7M1491.3 1359.1L1550.2 1359.1L1550.2 1291.7M1323.3 1359.1L1264.4 1359.1L1264.4 1291.7M1497.8 1255.2L1526.7 1247.2L1555.7 1232.4L1557.8 1219M1316.8 1255.2L1287.9 1247.2L1258.9 1232.4L1256.8 1219M1497.8 1255.2L1526.7 1263.2L1555.7 1278L1557.8 1291.4M1316.8 1255.2L1287.9 1263.2L1258.9 1278L1256.8 1291.4" stroke="#15158f" stroke-width="2.2"/><path d="M1491.3 1151.3L1550.2 1151.3L1550.2 1218.7M1323.3 1151.3L1264.4 1151.3L1264.4 1218.7M1491.3 1359.1L1550.2 1359.1L1550.2 1291.7M1323.3 1359.1L1264.4 1359.1L1264.4 1291.7M1497.8 1255.2L1526.7 1247.2L1555.7 1232.4L1557.8 1219M1316.8 1255.2L1287.9 1247.2L1258.9 1232.4L1256.8 1219M1497.8 1255.2L1526.7 1263.2L1555.7 1278L1557.8 1291.4M1316.8 1255.2L1287.9 1263.2L1258.9 1278L1256.8 1291.4" stroke="#15158f" stroke-width="6.4" stroke-dasharray="0.1 9.5" stroke-linecap="round"/><path d="M1491.3 1151.3L1550.2 1151.3L1550.2 1218.7M1323.3 1151.3L1264.4 1151.3L1264.4 1218.7M1491.3 1359.1L1550.2 1359.1L1550.2 1291.7M1323.3 1359.1L1264.4 1359.1L1264.4 1291.7M1497.8 1255.2L1526.7 1247.2L1555.7 1232.4L1557.8 1219M1316.8 1255.2L1287.9 1247.2L1258.9 1232.4L1256.8 1219M1497.8 1255.2L1526.7 1263.2L1555.7 1278L1557.8 1291.4M1316.8 1255.2L1287.9 1263.2L1258.9 1278L1256.8 1291.4" stroke="#fff" stroke-width="3" stroke-dasharray="0.1 9.5" stroke-linecap="round"/><path d="M1407.3 1208.5L1412.1 1208.8L1416.8 1209.5L1421.5 1210.7L1426 1212.4L1430.3 1214.6L1434.3 1217.2L1438.1 1220.1L1441.6 1223.5L1444.6 1227.2L1447.3 1231.2L1449.6 1235.4L1451.4 1239.9L1452.7 1244.5L1453.6 1249.2L1454 1254L1453.8 1258.8L1453.2 1263.6L1452.1 1268.2L1450.5 1272.8L1448.5 1277.1L1446 1281.3L1443.1 1285.1L1439.9 1288.6L1436.3 1291.8L1432.4 1294.6L1428.2 1297L1423.8 1298.9L1419.2 1300.3L1414.5 1301.3L1409.7 1301.8L1404.9 1301.8L1400.1 1301.3L1395.4 1300.3L1390.8 1298.9L1386.4 1297L1382.2 1294.6L1378.3 1291.8L1374.7 1288.6L1371.5 1285.1L1368.6 1281.3L1366.1 1277.1L1364.1 1272.8L1362.5 1268.2L1361.4 1263.6L1360.8 1258.8L1360.6 1254L1361 1249.2L1361.9 1244.5L1363.2 1239.9L1365 1235.4L1367.3 1231.2L1370 1227.2L1373 1223.5L1376.5 1220.1L1380.3 1217.2L1384.3 1214.6L1388.6 1212.4L1393.1 1210.7L1397.8 1209.5L1402.5 1208.8L1407.3 1208.5Z" stroke="#ff6cff" stroke-width="4.4"/><path d="M1407.3 1208.5L1412.1 1208.8L1416.8 1209.5L1421.5 1210.7L1426 1212.4L1430.3 1214.6L1434.3 1217.2L1438.1 1220.1L1441.6 1223.5L1444.6 1227.2L1447.3 1231.2L1449.6 1235.4L1451.4 1239.9L1452.7 1244.5L1453.6 1249.2L1454 1254L1453.8 1258.8L1453.2 1263.6L1452.1 1268.2L1450.5 1272.8L1448.5 1277.1L1446 1281.3L1443.1 1285.1L1439.9 1288.6L1436.3 1291.8L1432.4 1294.6L1428.2 1297L1423.8 1298.9L1419.2 1300.3L1414.5 1301.3L1409.7 1301.8L1404.9 1301.8L1400.1 1301.3L1395.4 1300.3L1390.8 1298.9L1386.4 1297L1382.2 1294.6L1378.3 1291.8L1374.7 1288.6L1371.5 1285.1L1368.6 1281.3L1366.1 1277.1L1364.1 1272.8L1362.5 1268.2L1361.4 1263.6L1360.8 1258.8L1360.6 1254L1361 1249.2L1361.9 1244.5L1363.2 1239.9L1365 1235.4L1367.3 1231.2L1370 1227.2L1373 1223.5L1376.5 1220.1L1380.3 1217.2L1384.3 1214.6L1388.6 1212.4L1393.1 1210.7L1397.8 1209.5L1402.5 1208.8L1407.3 1208.5Z" stroke="#fff" stroke-width="1.8" stroke-dasharray="0.1 5" stroke-linecap="round"/></g><path d="M1445.8 1219.7l4.2 -4.2l4.2 4.2l-4.2 4.2Z" fill="#fff" stroke="#1a8a3a" stroke-width="2"/><path d="M1438.2 1226.2l4.2 -4.2l4.2 4.2l-4.2 4.2Z" fill="#fff" stroke="#1a8a3a" stroke-width="2"/><path d="M1452.3 1232.4l4.2 -4.2l4.2 4.2l-4.2 4.2Z" fill="#fff" stroke="#1a8a3a" stroke-width="2"/><path d="M1443.3 1234.6l4.2 -4.2l4.2 4.2l-4.2 4.2Z" fill="#fff" stroke="#1a8a3a" stroke-width="2"/><path d="M1360.4 1219.7l4.2 -4.2l4.2 4.2l-4.2 4.2Z" fill="#fff" stroke="#1a8a3a" stroke-width="2"/><path d="M1368 1226.2l4.2 -4.2l4.2 4.2l-4.2 4.2Z" fill="#fff" stroke="#1a8a3a" stroke-width="2"/><path d="M1353.9 1232.4l4.2 -4.2l4.2 4.2l-4.2 4.2Z" fill="#fff" stroke="#1a8a3a" stroke-width="2"/><path d="M1362.9 1234.6l4.2 -4.2l4.2 4.2l-4.2 4.2Z" fill="#fff" stroke="#1a8a3a" stroke-width="2"/><path d="M1445.8 1290.7l4.2 -4.2l4.2 4.2l-4.2 4.2Z" fill="#fff" stroke="#1a8a3a" stroke-width="2"/><path d="M1438.2 1284.2l4.2 -4.2l4.2 4.2l-4.2 4.2Z" fill="#fff" stroke="#1a8a3a" stroke-width="2"/><path d="M1452.3 1278l4.2 -4.2l4.2 4.2l-4.2 4.2Z" fill="#fff" stroke="#1a8a3a" stroke-width="2"/><path d="M1443.3 1275.8l4.2 -4.2l4.2 4.2l-4.2 4.2Z" fill="#fff" stroke="#1a8a3a" stroke-width="2"/><path d="M1360.4 1290.7l4.2 -4.2l4.2 4.2l-4.2 4.2Z" fill="#fff" stroke="#1a8a3a" stroke-width="2"/><path d="M1368 1284.2l4.2 -4.2l4.2 4.2l-4.2 4.2Z" fill="#fff" stroke="#1a8a3a" stroke-width="2"/><path d="M1353.9 1278l4.2 -4.2l4.2 4.2l-4.2 4.2Z" fill="#fff" stroke="#1a8a3a" stroke-width="2"/><path d="M1362.9 1275.8l4.2 -4.2l4.2 4.2l-4.2 4.2Z" fill="#fff" stroke="#1a8a3a" stroke-width="2"/><g font-family='"Liberation Sans", Arial, sans-serif'><g transform="translate(1377.6 1149.2) rotate(0)"><rect x="-7.5" y="-9.5" width="15" height="19" fill="#fff"/><text y="6.8" font-size="19" text-anchor="middle" fill="#333">III</text></g><g transform="translate(1512.2 1183.9) rotate(0)"><rect x="-15" y="-9.5" width="30" height="19" fill="#fff"/><text y="6.8" font-size="19" text-anchor="middle" fill="#333">VIII</text></g><g transform="translate(1477.5 1255.2) rotate(0)"><rect x="-7" y="-9.5" width="14" height="19" fill="#fff"/><text y="6.8" font-size="19" text-anchor="middle" fill="#333">V</text></g><g transform="translate(1553.9 1255.2) rotate(0)"><rect x="-9.5" y="-9.5" width="19" height="19" fill="#fff"/><text y="6.8" font-size="19" text-anchor="middle" fill="#333">VI</text></g><g transform="translate(1377.3 1255.2) rotate(0)"><text y="6.8" font-size="19" text-anchor="middle" fill="#333">I</text></g><g transform="translate(1497.8 1122.4) rotate(-40)"><rect x="-7.5" y="-9.5" width="15" height="19" fill="#fff"/><text y="6.5" font-size="18" text-anchor="middle" fill="#333">X</text></g></g><g clip-path="url(#cg)"><defs><linearGradient id="gvr" gradientUnits="userSpaceOnUse" x1="1460.9" y1="0" x2="1624.4" y2="0"><stop offset="0" stop-color="#63df04"/><stop offset=".137" stop-color="#ceed00"/><stop offset=".138" stop-color="#f1f400"/><stop offset=".243" stop-color="#f8dc00"/><stop offset=".278" stop-color="#f5a800"/><stop offset=".381" stop-color="#f03c00"/><stop offset=".397" stop-color="#f00"/><stop offset=".936" stop-color="#f00"/><stop offset=".945" stop-color="#f03c00"/><stop offset=".965" stop-color="#f5a800"/><stop offset=".97" stop-color="#f8dc00"/><stop offset=".979" stop-color="#f5f500"/><stop offset=".985" stop-color="#c8ec00"/><stop offset=".993" stop-color="#78e000"/><stop offset="1" stop-color="#15dd17"/></linearGradient><clipPath id="gvrc"><circle cx="1407.3" cy="2135.2" r="217.1"/></clipPath></defs><g clip-path="url(#gvrc)"><path d="M1457 2155.1L1460.9 2155.1L1604.2 2175.4L1631.7 2178.6L1631.7 2091.8L1604.2 2095L1460.9 2115.3L1457 2115.3A53.6 53.6 0 0 1 1457 2155.1Z" fill="url(#gvr)"/></g><defs><linearGradient id="gvl" gradientUnits="userSpaceOnUse" x1="1353.7" y1="0" x2="1190.2" y2="0"><stop offset="0" stop-color="#63df04"/><stop offset=".137" stop-color="#ceed00"/><stop offset=".138" stop-color="#f1f400"/><stop offset=".243" stop-color="#f8dc00"/><stop offset=".278" stop-color="#f5a800"/><stop offset=".381" stop-color="#f03c00"/><stop offset=".397" stop-color="#f00"/><stop offset=".936" stop-color="#f00"/><stop offset=".945" stop-color="#f03c00"/><stop offset=".965" stop-color="#f5a800"/><stop offset=".97" stop-color="#f8dc00"/><stop offset=".979" stop-color="#f5f500"/><stop offset=".985" stop-color="#c8ec00"/><stop offset=".993" stop-color="#78e000"/><stop offset="1" stop-color="#15dd17"/></linearGradient><clipPath id="gvlc"><circle cx="1407.3" cy="2135.2" r="217.1"/></clipPath></defs><g clip-path="url(#gvlc)"><path d="M1357.6 2155.1L1353.7 2155.1L1210.4 2175.4L1182.9 2178.6L1182.9 2091.8L1210.4 2095L1353.7 2115.3L1357.6 2115.3A53.6 53.6 0 0 0 1357.6 2155.1Z" fill="url(#gvl)"/></g></g><g fill="none"><g stroke="#8a8a8a" stroke-width="1.1" opacity="0.7"><circle cx="1407.3" cy="2135.2" r="72.4"/><circle cx="1407.3" cy="2135.2" r="144.8"/><circle cx="1407.3" cy="2135.2" r="217.1"/><path d="M1407.3 2424.7L1407.3 1845.7M1262.5 2385.9L1552 1884.5M1156.6 2279.9L1658 1990.4M1117.8 2135.2L1696.8 2135.2M1156.6 1990.4L1658 2279.9M1262.5 1884.5L1552 2385.9"/></g><path d="M1407.3 2135.2L1407.3 1845.7M1407.3 2135.2L1407.3 2424.7M1407.3 2135.2L1574.4 1898.8M1407.3 2135.2L1240.2 2371.6M1407.3 2135.2L1643.7 1968.1M1407.3 2135.2L1170.9 2302.3M1407.3 2135.2L1680.2 2038.7M1407.3 2135.2L1134.4 2231.7M1407.3 2135.2L1696.8 2135.2M1407.3 2135.2L1117.8 2135.2M1407.3 2135.2L1680.2 2231.7M1407.3 2135.2L1134.4 2038.7M1407.3 2135.2L1643.7 2302.3M1407.3 2135.2L1170.9 1968.1M1407.3 2135.2L1574.4 2371.6M1407.3 2135.2L1240.2 1898.8" stroke="#f0e0f4" stroke-width="1.9" stroke-dasharray="7.5 7.5" stroke-dashoffset="-5"/><circle cx="1407.3" cy="2135.2" r="289.5" stroke="#333" stroke-width="0.9"/></g><g fill="none" stroke-linejoin="round"><path d="M1526.7 1979.2L1534 1979.2L1553.5 1986.5L1579.2 2003.1L1591.1 2015.8L1599.5 2041.8L1602.4 2065.7L1604.2 2095M1287.9 1979.2L1280.6 1979.2L1261.1 1986.5L1235.4 2003.1L1223.5 2015.8L1215.1 2041.8L1212.2 2065.7L1210.4 2095M1526.7 2291.2L1534 2291.2L1553.5 2283.9L1579.2 2267.3L1591.1 2254.6L1599.5 2228.6L1602.4 2204.7L1604.2 2175.4M1287.9 2291.2L1280.6 2291.2L1261.1 2283.9L1235.4 2267.3L1223.5 2254.6L1215.1 2228.6L1212.2 2204.7L1210.4 2175.4M1604.2 2095L1600.2 2109.9L1597.6 2118.9L1592.6 2126.2L1595.5 2131.6L1589.3 2135.2M1210.4 2095L1214.4 2109.9L1217 2118.9L1222 2126.2L1219.1 2131.6L1225.3 2135.2M1604.2 2175.4L1600.2 2160.5L1597.6 2151.5L1592.6 2144.2L1595.5 2138.8L1589.3 2135.2M1210.4 2175.4L1214.4 2160.5L1217 2151.5L1222 2144.2L1219.1 2138.8L1225.3 2135.2" stroke="#15158f" stroke-width="2.2"/><path d="M1526.7 1979.2L1534 1979.2L1553.5 1986.5L1579.2 2003.1L1591.1 2015.8L1599.5 2041.8L1602.4 2065.7L1604.2 2095M1287.9 1979.2L1280.6 1979.2L1261.1 1986.5L1235.4 2003.1L1223.5 2015.8L1215.1 2041.8L1212.2 2065.7L1210.4 2095M1526.7 2291.2L1534 2291.2L1553.5 2283.9L1579.2 2267.3L1591.1 2254.6L1599.5 2228.6L1602.4 2204.7L1604.2 2175.4M1287.9 2291.2L1280.6 2291.2L1261.1 2283.9L1235.4 2267.3L1223.5 2254.6L1215.1 2228.6L1212.2 2204.7L1210.4 2175.4M1604.2 2095L1600.2 2109.9L1597.6 2118.9L1592.6 2126.2L1595.5 2131.6L1589.3 2135.2M1210.4 2095L1214.4 2109.9L1217 2118.9L1222 2126.2L1219.1 2131.6L1225.3 2135.2M1604.2 2175.4L1600.2 2160.5L1597.6 2151.5L1592.6 2144.2L1595.5 2138.8L1589.3 2135.2M1210.4 2175.4L1214.4 2160.5L1217 2151.5L1222 2144.2L1219.1 2138.8L1225.3 2135.2" stroke="#15158f" stroke-width="6.4" stroke-dasharray="0.1 9.5" stroke-linecap="round"/><path d="M1526.7 1979.2L1534 1979.2L1553.5 1986.5L1579.2 2003.1L1591.1 2015.8L1599.5 2041.8L1602.4 2065.7L1604.2 2095M1287.9 1979.2L1280.6 1979.2L1261.1 1986.5L1235.4 2003.1L1223.5 2015.8L1215.1 2041.8L1212.2 2065.7L1210.4 2095M1526.7 2291.2L1534 2291.2L1553.5 2283.9L1579.2 2267.3L1591.1 2254.6L1599.5 2228.6L1602.4 2204.7L1604.2 2175.4M1287.9 2291.2L1280.6 2291.2L1261.1 2283.9L1235.4 2267.3L1223.5 2254.6L1215.1 2228.6L1212.2 2204.7L1210.4 2175.4M1604.2 2095L1600.2 2109.9L1597.6 2118.9L1592.6 2126.2L1595.5 2131.6L1589.3 2135.2M1210.4 2095L1214.4 2109.9L1217 2118.9L1222 2126.2L1219.1 2131.6L1225.3 2135.2M1604.2 2175.4L1600.2 2160.5L1597.6 2151.5L1592.6 2144.2L1595.5 2138.8L1589.3 2135.2M1210.4 2175.4L1214.4 2160.5L1217 2151.5L1222 2144.2L1219.1 2138.8L1225.3 2135.2" stroke="#fff" stroke-width="3" stroke-dasharray="0.1 9.5" stroke-linecap="round"/><path d="M1483.3 2158.4L1483.3 2112M1331.3 2158.4L1331.3 2112" stroke="#8a22b0" stroke-width="4.5"/><path d="M1483.3 2158.4L1483.3 2112M1331.3 2158.4L1331.3 2112" stroke="#fff" stroke-width="2" stroke-dasharray="0.1 5" stroke-linecap="round"/><path d="M1407.3 1903.6L1419.3 1903.4L1431.4 1903.9L1443.5 1905L1455.4 1906.9L1467.1 1910L1478.6 1913.7L1489.9 1917.9L1500.9 1923L1511.4 1928.8L1521.7 1935.1L1531.5 1941.9L1540.9 1949.3L1549.8 1957.2L1558.3 1965.5L1566.3 1974.2L1573.7 1983.3L1580.6 1992.8L1587.1 2002.4L1593.4 2012.2L1599.1 2022.2L1603.9 2032.8L1607.9 2043.6L1611.4 2054.5L1614.3 2065.5L1616.6 2076.7L1619.2 2087.7L1621.3 2098.7L1622.9 2109.9L1624 2121.1L1624.4 2132.4L1624.3 2143.7L1623.5 2154.9L1622.2 2166.1L1620.3 2177.2L1617.9 2188.2L1615.5 2199.3L1613 2210.4L1609.8 2221.4L1606 2232.2L1601.6 2242.9L1596.3 2253.2L1590.3 2263.1L1583.8 2272.8L1577.2 2282.4L1570 2291.7L1562.3 2300.6L1554.1 2309.1L1545.4 2317.2L1536.3 2324.9L1526.6 2331.9L1516.6 2338.5L1506.2 2344.5L1495.5 2350.1L1484.3 2354.7L1472.9 2358.6L1461.3 2362L1449.5 2364.7L1437.4 2366.1L1425.4 2366.8L1413.3 2367L1401.3 2367L1389.2 2366.8L1377.2 2366.1L1365.1 2364.7L1353.3 2362L1341.7 2358.6L1330.3 2354.7L1319.1 2350.1L1308.4 2344.5L1298 2338.5L1288 2331.9L1278.3 2324.9L1269.2 2317.2L1260.5 2309.1L1252.3 2300.6L1244.6 2291.7L1237.4 2282.4L1230.8 2272.8L1224.3 2263.1L1218.3 2253.2L1213 2242.9L1208.6 2232.2L1204.8 2221.4L1201.6 2210.4L1199.1 2199.3L1196.7 2188.2L1194.3 2177.2L1192.4 2166.1L1191.1 2154.9L1190.3 2143.7L1190.2 2132.4L1190.6 2121.1L1191.7 2109.9L1193.3 2098.7L1195.4 2087.7L1198 2076.7L1200.3 2065.5L1203.2 2054.5L1206.7 2043.6L1210.7 2032.8L1215.5 2022.2L1221.2 2012.2L1227.5 2002.4L1234 1992.8L1240.9 1983.3L1248.3 1974.2L1256.3 1965.5L1264.8 1957.2L1273.7 1949.3L1283.1 1941.9L1292.9 1935.1L1303.2 1928.8L1313.7 1923L1324.7 1917.9L1336 1913.7L1347.5 1910L1359.2 1906.9L1371.1 1905L1383.2 1903.9L1395.3 1903.4L1407.3 1903.6Z" stroke="#000" stroke-width="2.4"/><path d="M1407.3 1903.6L1419.3 1903.4L1431.4 1903.9L1443.5 1905L1455.4 1906.9L1467.1 1910L1478.6 1913.7L1489.9 1917.9L1500.9 1923L1511.4 1928.8L1521.7 1935.1L1531.5 1941.9L1540.9 1949.3L1549.8 1957.2L1558.3 1965.5L1566.3 1974.2L1573.7 1983.3L1580.6 1992.8L1587.1 2002.4L1593.4 2012.2L1599.1 2022.2L1603.9 2032.8L1607.9 2043.6L1611.4 2054.5L1614.3 2065.5L1616.6 2076.7L1619.2 2087.7L1621.3 2098.7L1622.9 2109.9L1624 2121.1L1624.4 2132.4L1624.3 2143.7L1623.5 2154.9L1622.2 2166.1L1620.3 2177.2L1617.9 2188.2L1615.5 2199.3L1613 2210.4L1609.8 2221.4L1606 2232.2L1601.6 2242.9L1596.3 2253.2L1590.3 2263.1L1583.8 2272.8L1577.2 2282.4L1570 2291.7L1562.3 2300.6L1554.1 2309.1L1545.4 2317.2L1536.3 2324.9L1526.6 2331.9L1516.6 2338.5L1506.2 2344.5L1495.5 2350.1L1484.3 2354.7L1472.9 2358.6L1461.3 2362L1449.5 2364.7L1437.4 2366.1L1425.4 2366.8L1413.3 2367L1401.3 2367L1389.2 2366.8L1377.2 2366.1L1365.1 2364.7L1353.3 2362L1341.7 2358.6L1330.3 2354.7L1319.1 2350.1L1308.4 2344.5L1298 2338.5L1288 2331.9L1278.3 2324.9L1269.2 2317.2L1260.5 2309.1L1252.3 2300.6L1244.6 2291.7L1237.4 2282.4L1230.8 2272.8L1224.3 2263.1L1218.3 2253.2L1213 2242.9L1208.6 2232.2L1204.8 2221.4L1201.6 2210.4L1199.1 2199.3L1196.7 2188.2L1194.3 2177.2L1192.4 2166.1L1191.1 2154.9L1190.3 2143.7L1190.2 2132.4L1190.6 2121.1L1191.7 2109.9L1193.3 2098.7L1195.4 2087.7L1198 2076.7L1200.3 2065.5L1203.2 2054.5L1206.7 2043.6L1210.7 2032.8L1215.5 2022.2L1221.2 2012.2L1227.5 2002.4L1234 1992.8L1240.9 1983.3L1248.3 1974.2L1256.3 1965.5L1264.8 1957.2L1273.7 1949.3L1283.1 1941.9L1292.9 1935.1L1303.2 1928.8L1313.7 1923L1324.7 1917.9L1336 1913.7L1347.5 1910L1359.2 1906.9L1371.1 1905L1383.2 1903.9L1395.3 1903.4L1407.3 1903.6Z" stroke="#000" stroke-width="5" stroke-dasharray="5 6.5"/><path d="M1407.3 1903.6L1419.3 1903.4L1431.4 1903.9L1443.5 1905L1455.4 1906.9L1467.1 1910L1478.6 1913.7L1489.9 1917.9L1500.9 1923L1511.4 1928.8L1521.7 1935.1L1531.5 1941.9L1540.9 1949.3L1549.8 1957.2L1558.3 1965.5L1566.3 1974.2L1573.7 1983.3L1580.6 1992.8L1587.1 2002.4L1593.4 2012.2L1599.1 2022.2L1603.9 2032.8L1607.9 2043.6L1611.4 2054.5L1614.3 2065.5L1616.6 2076.7L1619.2 2087.7L1621.3 2098.7L1622.9 2109.9L1624 2121.1L1624.4 2132.4L1624.3 2143.7L1623.5 2154.9L1622.2 2166.1L1620.3 2177.2L1617.9 2188.2L1615.5 2199.3L1613 2210.4L1609.8 2221.4L1606 2232.2L1601.6 2242.9L1596.3 2253.2L1590.3 2263.1L1583.8 2272.8L1577.2 2282.4L1570 2291.7L1562.3 2300.6L1554.1 2309.1L1545.4 2317.2L1536.3 2324.9L1526.6 2331.9L1516.6 2338.5L1506.2 2344.5L1495.5 2350.1L1484.3 2354.7L1472.9 2358.6L1461.3 2362L1449.5 2364.7L1437.4 2366.1L1425.4 2366.8L1413.3 2367L1401.3 2367L1389.2 2366.8L1377.2 2366.1L1365.1 2364.7L1353.3 2362L1341.7 2358.6L1330.3 2354.7L1319.1 2350.1L1308.4 2344.5L1298 2338.5L1288 2331.9L1278.3 2324.9L1269.2 2317.2L1260.5 2309.1L1252.3 2300.6L1244.6 2291.7L1237.4 2282.4L1230.8 2272.8L1224.3 2263.1L1218.3 2253.2L1213 2242.9L1208.6 2232.2L1204.8 2221.4L1201.6 2210.4L1199.1 2199.3L1196.7 2188.2L1194.3 2177.2L1192.4 2166.1L1191.1 2154.9L1190.3 2143.7L1190.2 2132.4L1190.6 2121.1L1191.7 2109.9L1193.3 2098.7L1195.4 2087.7L1198 2076.7L1200.3 2065.5L1203.2 2054.5L1206.7 2043.6L1210.7 2032.8L1215.5 2022.2L1221.2 2012.2L1227.5 2002.4L1234 1992.8L1240.9 1983.3L1248.3 1974.2L1256.3 1965.5L1264.8 1957.2L1273.7 1949.3L1283.1 1941.9L1292.9 1935.1L1303.2 1928.8L1313.7 1923L1324.7 1917.9L1336 1913.7L1347.5 1910L1359.2 1906.9L1371.1 1905L1383.2 1903.9L1395.3 1903.4L1407.3 1903.6Z" stroke="#fff" stroke-width="3" stroke-dasharray="3 8.5" stroke-dashoffset="-1"/><path d="M1287.8 1979.2L1294.3 1973.5L1301 1968L1308 1962.9L1315.2 1958L1322.7 1953.4L1329.8 1947.7L1337.2 1942.3L1344.9 1937.1L1353 1932.3L1361.4 1927.8L1369.9 1922.8L1378.8 1918.1L1388 1913.8L1397.5 1910L1407.3 1906.5L1417.1 1910L1426.6 1913.8L1435.8 1918.1L1444.7 1922.8L1453.2 1927.8L1461.6 1932.3L1469.7 1937.1L1477.4 1942.3L1484.8 1947.7L1491.9 1953.4L1499.4 1958L1506.6 1962.9L1513.6 1968L1520.3 1973.5L1526.8 1979.2" stroke="#000" stroke-width="3.8"/><path d="M1287.8 1979.2L1294.3 1973.5L1301 1968L1308 1962.9L1315.2 1958L1322.7 1953.4L1329.8 1947.7L1337.2 1942.3L1344.9 1937.1L1353 1932.3L1361.4 1927.8L1369.9 1922.8L1378.8 1918.1L1388 1913.8L1397.5 1910L1407.3 1906.5L1417.1 1910L1426.6 1913.8L1435.8 1918.1L1444.7 1922.8L1453.2 1927.8L1461.6 1932.3L1469.7 1937.1L1477.4 1942.3L1484.8 1947.7L1491.9 1953.4L1499.4 1958L1506.6 1962.9L1513.6 1968L1520.3 1973.5L1526.8 1979.2" stroke="#000" stroke-width="6.5" stroke-dasharray="0.1 11.5" stroke-linecap="round"/><path d="M1287.8 2291.2L1294.3 2296.9L1301 2302.4L1308 2307.5L1315.2 2312.4L1322.7 2317L1329.8 2322.7L1337.2 2328.1L1344.9 2333.3L1353 2338.1L1361.4 2342.6L1369.9 2347.6L1378.8 2352.3L1388 2356.6L1397.5 2360.4L1407.3 2363.9L1417.1 2360.4L1426.6 2356.6L1435.8 2352.3L1444.7 2347.6L1453.2 2342.6L1461.6 2338.1L1469.7 2333.3L1477.4 2328.1L1484.8 2322.7L1491.9 2317L1499.4 2312.4L1506.6 2307.5L1513.6 2302.4L1520.3 2296.9L1526.8 2291.2" stroke="#000" stroke-width="3.8"/><path d="M1287.8 2291.2L1294.3 2296.9L1301 2302.4L1308 2307.5L1315.2 2312.4L1322.7 2317L1329.8 2322.7L1337.2 2328.1L1344.9 2333.3L1353 2338.1L1361.4 2342.6L1369.9 2347.6L1378.8 2352.3L1388 2356.6L1397.5 2360.4L1407.3 2363.9L1417.1 2360.4L1426.6 2356.6L1435.8 2352.3L1444.7 2347.6L1453.2 2342.6L1461.6 2338.1L1469.7 2333.3L1477.4 2328.1L1484.8 2322.7L1491.9 2317L1499.4 2312.4L1506.6 2307.5L1513.6 2302.4L1520.3 2296.9L1526.8 2291.2" stroke="#000" stroke-width="6.5" stroke-dasharray="0.1 11.5" stroke-linecap="round"/><path d="M1313.3 2008.1L1315.3 2006.2L1317.2 2004.3L1319.3 2002.4L1321.3 2000.6L1323.5 1998.7L1325.6 1996.9L1327.8 1995.2L1330 1993.5L1332.3 1991.8L1334.5 1990.1L1336.8 1988.3L1339 1986.3L1341.2 1984.4L1343.5 1982.5L1345.8 1980.7L1348.2 1978.9L1350.6 1977.1L1352.9 1974.8L1355.2 1972.4L1357.5 1970L1359.9 1967.6L1362.5 1965.7L1365.3 1964.5L1368.2 1963.4L1371.1 1962.3L1374 1961.2L1376.9 1960.2L1379.8 1959.3L1382.8 1958.4L1385.8 1957.6L1388.8 1956.8L1391.8 1956L1394.9 1955L1397.9 1952.5L1400.9 1950L1404.1 1947.6L1407.3 1945.2L1410.5 1947.6L1413.7 1950L1416.7 1952.5L1419.7 1955L1422.8 1956L1425.8 1956.8L1428.8 1957.6L1431.8 1958.4L1434.8 1959.3L1437.7 1960.2L1440.6 1961.2L1443.5 1962.3L1446.4 1963.4L1449.3 1964.5L1452.1 1965.7L1454.7 1967.6L1457.1 1970L1459.4 1972.4L1461.7 1974.8L1464 1977.1L1466.4 1978.9L1468.8 1980.7L1471.1 1982.5L1473.4 1984.4L1475.6 1986.3L1477.8 1988.3L1480.1 1990.1L1482.3 1991.8L1484.6 1993.5L1486.8 1995.2L1489 1996.9L1491.1 1998.7L1493.3 2000.6L1495.3 2002.4L1497.4 2004.3L1499.3 2006.2L1501.3 2008.1" stroke="#1f9c9c" stroke-width="2.4"/><path d="M1313.3 2008.1L1315.3 2006.2L1317.2 2004.3L1319.3 2002.4L1321.3 2000.6L1323.5 1998.7L1325.6 1996.9L1327.8 1995.2L1330 1993.5L1332.3 1991.8L1334.5 1990.1L1336.8 1988.3L1339 1986.3L1341.2 1984.4L1343.5 1982.5L1345.8 1980.7L1348.2 1978.9L1350.6 1977.1L1352.9 1974.8L1355.2 1972.4L1357.5 1970L1359.9 1967.6L1362.5 1965.7L1365.3 1964.5L1368.2 1963.4L1371.1 1962.3L1374 1961.2L1376.9 1960.2L1379.8 1959.3L1382.8 1958.4L1385.8 1957.6L1388.8 1956.8L1391.8 1956L1394.9 1955L1397.9 1952.5L1400.9 1950L1404.1 1947.6L1407.3 1945.2L1410.5 1947.6L1413.7 1950L1416.7 1952.5L1419.7 1955L1422.8 1956L1425.8 1956.8L1428.8 1957.6L1431.8 1958.4L1434.8 1959.3L1437.7 1960.2L1440.6 1961.2L1443.5 1962.3L1446.4 1963.4L1449.3 1964.5L1452.1 1965.7L1454.7 1967.6L1457.1 1970L1459.4 1972.4L1461.7 1974.8L1464 1977.1L1466.4 1978.9L1468.8 1980.7L1471.1 1982.5L1473.4 1984.4L1475.6 1986.3L1477.8 1988.3L1480.1 1990.1L1482.3 1991.8L1484.6 1993.5L1486.8 1995.2L1489 1996.9L1491.1 1998.7L1493.3 2000.6L1495.3 2002.4L1497.4 2004.3L1499.3 2006.2L1501.3 2008.1" stroke="#1f9c9c" stroke-width="7" stroke-dasharray="0.1 12" stroke-linecap="round"/><path d="M1313.3 2008.1L1315.3 2006.2L1317.2 2004.3L1319.3 2002.4L1321.3 2000.6L1323.5 1998.7L1325.6 1996.9L1327.8 1995.2L1330 1993.5L1332.3 1991.8L1334.5 1990.1L1336.8 1988.3L1339 1986.3L1341.2 1984.4L1343.5 1982.5L1345.8 1980.7L1348.2 1978.9L1350.6 1977.1L1352.9 1974.8L1355.2 1972.4L1357.5 1970L1359.9 1967.6L1362.5 1965.7L1365.3 1964.5L1368.2 1963.4L1371.1 1962.3L1374 1961.2L1376.9 1960.2L1379.8 1959.3L1382.8 1958.4L1385.8 1957.6L1388.8 1956.8L1391.8 1956L1394.9 1955L1397.9 1952.5L1400.9 1950L1404.1 1947.6L1407.3 1945.2L1410.5 1947.6L1413.7 1950L1416.7 1952.5L1419.7 1955L1422.8 1956L1425.8 1956.8L1428.8 1957.6L1431.8 1958.4L1434.8 1959.3L1437.7 1960.2L1440.6 1961.2L1443.5 1962.3L1446.4 1963.4L1449.3 1964.5L1452.1 1965.7L1454.7 1967.6L1457.1 1970L1459.4 1972.4L1461.7 1974.8L1464 1977.1L1466.4 1978.9L1468.8 1980.7L1471.1 1982.5L1473.4 1984.4L1475.6 1986.3L1477.8 1988.3L1480.1 1990.1L1482.3 1991.8L1484.6 1993.5L1486.8 1995.2L1489 1996.9L1491.1 1998.7L1493.3 2000.6L1495.3 2002.4L1497.4 2004.3L1499.3 2006.2L1501.3 2008.1" stroke="#a8e4e4" stroke-width="3" stroke-dasharray="0.1 12" stroke-linecap="round"/><path d="M1313.3 2262.3L1315.3 2264.2L1317.2 2266.1L1319.3 2268L1321.3 2269.8L1323.5 2271.7L1325.6 2273.5L1327.8 2275.2L1330 2276.9L1332.3 2278.6L1334.5 2280.3L1336.8 2282.1L1339 2284.1L1341.2 2286L1343.5 2287.9L1345.8 2289.7L1348.2 2291.5L1350.6 2293.3L1352.9 2295.6L1355.2 2298L1357.5 2300.4L1359.9 2302.8L1362.5 2304.7L1365.3 2305.9L1368.2 2307L1371.1 2308.1L1374 2309.2L1376.9 2310.2L1379.8 2311.1L1382.8 2312L1385.8 2312.8L1388.8 2313.6L1391.8 2314.4L1394.9 2315.4L1397.9 2317.9L1400.9 2320.4L1404.1 2322.8L1407.3 2325.2L1410.5 2322.8L1413.7 2320.4L1416.7 2317.9L1419.7 2315.4L1422.8 2314.4L1425.8 2313.6L1428.8 2312.8L1431.8 2312L1434.8 2311.1L1437.7 2310.2L1440.6 2309.2L1443.5 2308.1L1446.4 2307L1449.3 2305.9L1452.1 2304.7L1454.7 2302.8L1457.1 2300.4L1459.4 2298L1461.7 2295.6L1464 2293.3L1466.4 2291.5L1468.8 2289.7L1471.1 2287.9L1473.4 2286L1475.6 2284.1L1477.8 2282.1L1480.1 2280.3L1482.3 2278.6L1484.6 2276.9L1486.8 2275.2L1489 2273.5L1491.1 2271.7L1493.3 2269.8L1495.3 2268L1497.4 2266.1L1499.3 2264.2L1501.3 2262.3" stroke="#1f9c9c" stroke-width="2.4"/><path d="M1313.3 2262.3L1315.3 2264.2L1317.2 2266.1L1319.3 2268L1321.3 2269.8L1323.5 2271.7L1325.6 2273.5L1327.8 2275.2L1330 2276.9L1332.3 2278.6L1334.5 2280.3L1336.8 2282.1L1339 2284.1L1341.2 2286L1343.5 2287.9L1345.8 2289.7L1348.2 2291.5L1350.6 2293.3L1352.9 2295.6L1355.2 2298L1357.5 2300.4L1359.9 2302.8L1362.5 2304.7L1365.3 2305.9L1368.2 2307L1371.1 2308.1L1374 2309.2L1376.9 2310.2L1379.8 2311.1L1382.8 2312L1385.8 2312.8L1388.8 2313.6L1391.8 2314.4L1394.9 2315.4L1397.9 2317.9L1400.9 2320.4L1404.1 2322.8L1407.3 2325.2L1410.5 2322.8L1413.7 2320.4L1416.7 2317.9L1419.7 2315.4L1422.8 2314.4L1425.8 2313.6L1428.8 2312.8L1431.8 2312L1434.8 2311.1L1437.7 2310.2L1440.6 2309.2L1443.5 2308.1L1446.4 2307L1449.3 2305.9L1452.1 2304.7L1454.7 2302.8L1457.1 2300.4L1459.4 2298L1461.7 2295.6L1464 2293.3L1466.4 2291.5L1468.8 2289.7L1471.1 2287.9L1473.4 2286L1475.6 2284.1L1477.8 2282.1L1480.1 2280.3L1482.3 2278.6L1484.6 2276.9L1486.8 2275.2L1489 2273.5L1491.1 2271.7L1493.3 2269.8L1495.3 2268L1497.4 2266.1L1499.3 2264.2L1501.3 2262.3" stroke="#1f9c9c" stroke-width="7" stroke-dasharray="0.1 12" stroke-linecap="round"/><path d="M1313.3 2262.3L1315.3 2264.2L1317.2 2266.1L1319.3 2268L1321.3 2269.8L1323.5 2271.7L1325.6 2273.5L1327.8 2275.2L1330 2276.9L1332.3 2278.6L1334.5 2280.3L1336.8 2282.1L1339 2284.1L1341.2 2286L1343.5 2287.9L1345.8 2289.7L1348.2 2291.5L1350.6 2293.3L1352.9 2295.6L1355.2 2298L1357.5 2300.4L1359.9 2302.8L1362.5 2304.7L1365.3 2305.9L1368.2 2307L1371.1 2308.1L1374 2309.2L1376.9 2310.2L1379.8 2311.1L1382.8 2312L1385.8 2312.8L1388.8 2313.6L1391.8 2314.4L1394.9 2315.4L1397.9 2317.9L1400.9 2320.4L1404.1 2322.8L1407.3 2325.2L1410.5 2322.8L1413.7 2320.4L1416.7 2317.9L1419.7 2315.4L1422.8 2314.4L1425.8 2313.6L1428.8 2312.8L1431.8 2312L1434.8 2311.1L1437.7 2310.2L1440.6 2309.2L1443.5 2308.1L1446.4 2307L1449.3 2305.9L1452.1 2304.7L1454.7 2302.8L1457.1 2300.4L1459.4 2298L1461.7 2295.6L1464 2293.3L1466.4 2291.5L1468.8 2289.7L1471.1 2287.9L1473.4 2286L1475.6 2284.1L1477.8 2282.1L1480.1 2280.3L1482.3 2278.6L1484.6 2276.9L1486.8 2275.2L1489 2273.5L1491.1 2271.7L1493.3 2269.8L1495.3 2268L1497.4 2266.1L1499.3 2264.2L1501.3 2262.3" stroke="#a8e4e4" stroke-width="3" stroke-dasharray="0.1 12" stroke-linecap="round"/><path d="M1526.7 1979.2L1446 2087.8M1287.9 1979.2L1368.6 2087.8M1526.7 2291.2L1446 2182.6M1287.9 2291.2L1368.6 2182.6M1460.9 2115.3L1604.2 2095M1353.7 2115.3L1210.4 2095M1460.9 2155.1L1604.2 2175.4M1353.7 2155.1L1210.4 2175.4" stroke="#000" stroke-width="3.6" stroke-dasharray="8 4.5"/><path d="M1526.7 1979.2L1446 2087.8M1287.9 1979.2L1368.6 2087.8M1526.7 2291.2L1446 2182.6M1287.9 2291.2L1368.6 2182.6M1460.9 2115.3L1604.2 2095M1353.7 2115.3L1210.4 2095M1460.9 2155.1L1604.2 2175.4M1353.7 2155.1L1210.4 2175.4" stroke="#fff" stroke-width="5.6" stroke-dasharray="0.1 13" stroke-linecap="round"/><path d="M1407.3 2078.4L1412.2 2078.6L1417 2079.3L1421.8 2080.5L1426.4 2082.1L1430.8 2084.1L1435 2086.5L1438.9 2089.3L1442.6 2092.3L1445.9 2095.7L1449 2099.4L1451.7 2103.3L1454 2107.3L1456 2111.5L1457.7 2115.9L1459 2120.3L1460 2124.9L1460.6 2129.4L1460.8 2134L1460.8 2138.7L1460.3 2143.2L1459.5 2147.8L1458.4 2152.3L1456.9 2156.7L1455.1 2161L1452.9 2165.1L1450.4 2169.1L1447.5 2172.9L1444.3 2176.4L1440.8 2179.6L1437 2182.6L1432.9 2185.2L1428.6 2187.4L1424.1 2189.2L1419.4 2190.6L1414.6 2191.5L1409.7 2192L1404.9 2192L1400 2191.5L1395.2 2190.6L1390.5 2189.2L1386 2187.4L1381.7 2185.2L1377.6 2182.6L1373.8 2179.6L1370.3 2176.4L1367.1 2172.9L1364.2 2169.1L1361.7 2165.1L1359.5 2161L1357.7 2156.7L1356.2 2152.3L1355.1 2147.8L1354.3 2143.2L1353.8 2138.7L1353.8 2134L1354 2129.4L1354.6 2124.9L1355.6 2120.3L1356.9 2115.9L1358.6 2111.5L1360.6 2107.3L1362.9 2103.3L1365.6 2099.4L1368.7 2095.7L1372 2092.3L1375.7 2089.3L1379.6 2086.5L1383.8 2084.1L1388.2 2082.1L1392.8 2080.5L1397.6 2079.3L1402.4 2078.6L1407.3 2078.4Z" stroke="#ff6cff" stroke-width="4.4"/><path d="M1407.3 2078.4L1412.2 2078.6L1417 2079.3L1421.8 2080.5L1426.4 2082.1L1430.8 2084.1L1435 2086.5L1438.9 2089.3L1442.6 2092.3L1445.9 2095.7L1449 2099.4L1451.7 2103.3L1454 2107.3L1456 2111.5L1457.7 2115.9L1459 2120.3L1460 2124.9L1460.6 2129.4L1460.8 2134L1460.8 2138.7L1460.3 2143.2L1459.5 2147.8L1458.4 2152.3L1456.9 2156.7L1455.1 2161L1452.9 2165.1L1450.4 2169.1L1447.5 2172.9L1444.3 2176.4L1440.8 2179.6L1437 2182.6L1432.9 2185.2L1428.6 2187.4L1424.1 2189.2L1419.4 2190.6L1414.6 2191.5L1409.7 2192L1404.9 2192L1400 2191.5L1395.2 2190.6L1390.5 2189.2L1386 2187.4L1381.7 2185.2L1377.6 2182.6L1373.8 2179.6L1370.3 2176.4L1367.1 2172.9L1364.2 2169.1L1361.7 2165.1L1359.5 2161L1357.7 2156.7L1356.2 2152.3L1355.1 2147.8L1354.3 2143.2L1353.8 2138.7L1353.8 2134L1354 2129.4L1354.6 2124.9L1355.6 2120.3L1356.9 2115.9L1358.6 2111.5L1360.6 2107.3L1362.9 2103.3L1365.6 2099.4L1368.7 2095.7L1372 2092.3L1375.7 2089.3L1379.6 2086.5L1383.8 2084.1L1388.2 2082.1L1392.8 2080.5L1397.6 2079.3L1402.4 2078.6L1407.3 2078.4Z" stroke="#fff" stroke-width="1.8" stroke-dasharray="0.1 5" stroke-linecap="round"/></g><g font-family='"Liberation Sans", Arial, sans-serif'><g transform="translate(1385.6 1938.3) rotate(0)"><rect x="-8.5" y="-10" width="17" height="20" fill="#fff"/><text y="7.2" font-size="20" text-anchor="middle" fill="#333">III</text></g><g transform="translate(1360.3 2021.9) rotate(0)"><rect x="-6" y="-11" width="12" height="22" fill="#fff"/><text y="7.6" font-size="21" text-anchor="middle" fill="#333">II</text></g><g transform="translate(1534 2056.3) rotate(0)"><rect x="-16" y="-10.5" width="32" height="21" fill="#fff"/><text y="7.6" font-size="21" text-anchor="middle" fill="#333">VIII</text></g><g transform="translate(1369.3 2135.2) rotate(0)"><text y="7.6" font-size="21" text-anchor="middle" fill="#333">I</text></g><g transform="translate(1474.2 2135.2) rotate(0)"><rect x="-9.5" y="-9.5" width="19" height="19" fill="#fff"/><text y="6.8" font-size="19" text-anchor="middle" fill="#333">IV</text></g><g transform="translate(1537.6 2135.2) rotate(0)"><rect x="-7.5" y="-10.5" width="15" height="21" fill="#fff"/><text y="7.6" font-size="21" text-anchor="middle" fill="#333">V</text></g><g transform="translate(1607.8 2135.2) rotate(0)"><rect x="-10" y="-10" width="20" height="20" fill="#fff"/><text y="7.2" font-size="20" text-anchor="middle" fill="#333">VI</text></g><g transform="translate(1492.3 1936.2) rotate(-35)"><rect x="-7.5" y="-9.5" width="15" height="19" fill="#fff"/><text y="6.5" font-size="18" text-anchor="middle" fill="#333">X</text></g><g transform="translate(1446 2097.9) rotate(55)"><rect x="-7" y="-5" width="14" height="10" fill="#fff"/><text y="3.2" font-size="9" text-anchor="middle" fill="#333">VII</text></g></g>
<g font-family='"Liberation Sans", Arial, sans-serif' fill="#000"><g fill="none"><g stroke="#8a8a8a" stroke-width="1.1" opacity="0.8"><circle cx="1397.4" cy="380.8" r="72.3"/><circle cx="1397.4" cy="380.8" r="144.7"/><circle cx="1397.4" cy="380.8" r="217"/><path d="M1397.4 670.1L1397.4 91.5M1252.8 631.3L1542.1 130.3M1146.9 525.5L1647.9 236.1M1108.1 380.8L1686.7 380.8M1146.9 236.2L1647.9 525.4M1252.8 130.3L1542.1 631.3"/></g><path d="M1397.4 380.8L1397.4 91.5M1397.4 380.8L1397.4 670.1M1397.4 380.8L1564.4 144.6M1397.4 380.8L1230.4 617M1397.4 380.8L1633.6 213.8M1397.4 380.8L1161.2 547.8M1397.4 380.8L1670.2 284.4M1397.4 380.8L1124.6 477.2M1397.4 380.8L1686.7 380.8M1397.4 380.8L1108.1 380.8M1397.4 380.8L1670.2 477.2M1397.4 380.8L1124.6 284.4M1397.4 380.8L1633.6 547.8M1397.4 380.8L1161.2 213.8M1397.4 380.8L1564.4 617M1397.4 380.8L1230.4 144.6" stroke="#fff" stroke-width="1.9" stroke-dasharray="7.5 7.5" stroke-dashoffset="-5"/><circle cx="1397.4" cy="380.8" r="289.3" stroke="#333" stroke-width="0.9"/></g><g stroke="#555" stroke-width="1.5" fill="none"><path d="M1028.4 91.5V670.1M1028.4 91.5h-9M1028.4 127.7h-4.5M1028.4 163.8h-9M1028.4 200h-4.5M1028.4 236.2h-9M1028.4 272.3h-4.5M1028.4 308.5h-9M1028.4 344.6h-4.5M1028.4 380.8h-9M1028.4 417h-4.5M1028.4 453.1h-9M1028.4 489.3h-4.5M1028.4 525.5h-9M1028.4 561.6h-4.5M1028.4 597.8h-9M1028.4 633.9h-4.5M1028.4 670.1h-9"/></g><g font-size="28" text-anchor="end"><text x="1012" y="101.5">80</text><text x="1012" y="173.8">60</text><text x="1012" y="246.2">40</text><text x="1012" y="318.5">20</text><text x="1012" y="390.8">0</text><text x="1012" y="463.1">20</text><text x="1012" y="535.5">40</text><text x="1012" y="607.8">60</text><text x="1012" y="680.1">80</text></g><text transform="translate(970 380.8) rotate(-90)" font-size="30" text-anchor="middle">H (kOe)</text><g font-size="18.5" font-weight="bold" text-anchor="middle"><text transform="translate(1397.4 80) rotate(0)" y="6.7">[001]</text><text transform="translate(1571 135.2) rotate(35.3)" y="6.7">[112]</text><text transform="translate(1643 207.2) rotate(54.7)" y="6.7">[111]</text><text transform="translate(1681 280.5) rotate(70.5)" y="6.7">[221]</text><text transform="translate(1698.2 380.8) rotate(90)" y="6.7">[110]</text><text transform="translate(1681 481.1) rotate(-70.5)" y="6.7">[22<tspan text-decoration="overline">1</tspan>]</text><text transform="translate(1643 554.4) rotate(-54.7)" y="6.7">[11<tspan text-decoration="overline">1</tspan>]</text><text transform="translate(1571 626.4) rotate(-35.3)" y="6.7">[11<tspan text-decoration="overline">2</tspan>]</text><text transform="translate(1397.4 681.6) rotate(0)" y="6.7">[00<tspan text-decoration="overline">1</tspan>]</text><text transform="translate(1223.8 626.4) rotate(35.3)" y="6.7">[<tspan text-decoration="overline">1</tspan><tspan text-decoration="overline">1</tspan><tspan text-decoration="overline">2</tspan>]</text><text transform="translate(1151.8 554.4) rotate(54.7)" y="6.7">[<tspan text-decoration="overline">1</tspan><tspan text-decoration="overline">1</tspan><tspan text-decoration="overline">1</tspan>]</text><text transform="translate(1113.8 481.1) rotate(70.5)" y="6.7">[<tspan text-decoration="overline">2</tspan><tspan text-decoration="overline">2</tspan><tspan text-decoration="overline">1</tspan>]</text><text transform="translate(1096.6 380.8) rotate(-90)" y="6.7">[<tspan text-decoration="overline">1</tspan><tspan text-decoration="overline">1</tspan>0]</text><text transform="translate(1113.8 280.5) rotate(-70.5)" y="6.7">[<tspan text-decoration="overline">2</tspan><tspan text-decoration="overline">2</tspan>1]</text><text transform="translate(1151.8 207.2) rotate(-54.7)" y="6.7">[<tspan text-decoration="overline">1</tspan><tspan text-decoration="overline">1</tspan>1]</text><text transform="translate(1223.8 135.2) rotate(-35.3)" y="6.7">[<tspan text-decoration="overline">1</tspan><tspan text-decoration="overline">1</tspan>2]</text></g><g font-size="21.5" text-anchor="middle" fill="#222"><text x="1396" y="61.7">0°</text><text x="1215" y="103.3">330°</text><text x="1571.6" y="103.3">30°</text><text x="1099.7" y="218.7">300°</text><text x="1687" y="218.7">60°</text><text x="1056.6" y="388.7">270°</text><text x="1728.7" y="388.7">90°</text><text x="1099.7" y="560.3">240°</text><text x="1693" y="560.3">120°</text><text x="1215" y="675">210°</text><text x="1577.6" y="675">150°</text><text x="1397.7" y="717.4">180°</text></g><defs><linearGradient id="cbe" x1="0" y1="0" x2="0" y2="1"><stop offset="0" stop-color="#5c0000"/><stop offset=".05" stop-color="#740000"/><stop offset=".11" stop-color="#9c0000"/><stop offset=".167" stop-color="#d80000"/><stop offset=".2" stop-color="#ff0000"/><stop offset=".345" stop-color="#ff0000"/><stop offset=".36" stop-color="#f03c00"/><stop offset=".405" stop-color="#f07800"/><stop offset=".444" stop-color="#f5a800"/><stop offset=".47" stop-color="#f8dc00"/><stop offset=".517" stop-color="#f5f500"/><stop offset=".555" stop-color="#c8ec00"/><stop offset=".61" stop-color="#78e000"/><stop offset=".655" stop-color="#18dc10"/><stop offset=".69" stop-color="#00e040"/><stop offset=".71" stop-color="#00e8a0"/><stop offset=".744" stop-color="#00f4f4"/><stop offset=".777" stop-color="#00b4f0"/><stop offset=".81" stop-color="#0070f0"/><stop offset=".85" stop-color="#1414f0"/><stop offset=".878" stop-color="#5010e0"/><stop offset=".917" stop-color="#8812d8"/><stop offset=".95" stop-color="#8c10c4"/><stop offset=".97" stop-color="#84089c"/><stop offset="1" stop-color="#700070"/></linearGradient></defs><rect x="1755" y="139.9" width="36" height="517.7" fill="#000"/><rect x="1756" y="140.9" width="34" height="3.7" fill="#fff"/><rect x="1756" y="144.6" width="34" height="507.9" fill="url(#cbe)"/><g font-size="26.5"><text x="1814.3" y="154.1">−0.002</text><text x="1814.3" y="205.1">−0.031</text><text x="1814.3" y="256">−0.060</text><text x="1814.3" y="307">−0.089</text><text x="1814.3" y="357.9">−0.118</text><text x="1814.3" y="408.9">−0.147</text><text x="1814.3" y="459.9">−0.176</text><text x="1814.3" y="509.1">−0.204</text><text x="1814.3" y="560.1">−0.233</text><text x="1814.3" y="611">−0.262</text><text x="1814.3" y="662">−0.291</text></g><path d="M1791 144.6h8M1791 195.6h8M1791 246.5h8M1791 297.5h8M1791 348.5h8M1791 399.4h8M1791 450.4h8M1791 499.6h8M1791 550.6h8M1791 601.5h8M1791 652.5h8" stroke="#333" stroke-width="1.5" fill="none"/><text x="1702.8" y="112.2" font-size="31" textLength="208.8" lengthAdjust="spacingAndGlyphs"><tspan font-family="Liberation Serif, serif" font-size="33">Δρ/ρ</tspan>(T = 6.5 K)</text><text x="1912" y="48" font-size="39" text-anchor="middle">(e)</text></g><g font-family='"Liberation Sans", Arial, sans-serif' fill="#000"><g stroke="#555" stroke-width="1.5" fill="none"><path d="M1028.4 965.7V1544.7M1028.4 965.7h-9M1028.4 1001.9h-4.5M1028.4 1038.1h-9M1028.4 1074.3h-4.5M1028.4 1110.5h-9M1028.4 1146.6h-4.5M1028.4 1182.8h-9M1028.4 1219h-4.5M1028.4 1255.2h-9M1028.4 1291.4h-4.5M1028.4 1327.6h-9M1028.4 1363.8h-4.5M1028.4 1400h-9M1028.4 1436.1h-4.5M1028.4 1472.3h-9M1028.4 1508.5h-4.5M1028.4 1544.7h-9"/></g><g font-size="28" text-anchor="end"><text x="1012" y="975.7">80</text><text x="1012" y="1048.1">60</text><text x="1012" y="1120.5">40</text><text x="1012" y="1192.8">20</text><text x="1012" y="1265.2">0</text><text x="1012" y="1337.6">20</text><text x="1012" y="1410">40</text><text x="1012" y="1482.3">60</text><text x="1012" y="1554.7">80</text></g><text transform="translate(970 1255.2) rotate(-90)" font-size="30" text-anchor="middle">H (kOe)</text><g font-size="20" font-weight="bold" text-anchor="middle"><text transform="translate(1407.3 955.2) rotate(0)" y="7.2">[001]</text><text transform="translate(1580.5 1010.2) rotate(35.3)" y="7.2">[112]</text><text transform="translate(1652.3 1082) rotate(54.7)" y="7.2">[111]</text><text transform="translate(1690.1 1155.2) rotate(70.5)" y="7.2">[221]</text><text transform="translate(1707.3 1255.2) rotate(90)" y="7.2">[110]</text><text transform="translate(1690.1 1355.2) rotate(-70.5)" y="7.2">[22<tspan text-decoration="overline">1</tspan>]</text><text transform="translate(1652.3 1428.4) rotate(-54.7)" y="7.2">[11<tspan text-decoration="overline">1</tspan>]</text><text transform="translate(1580.5 1500.2) rotate(-35.3)" y="7.2">[11<tspan text-decoration="overline">2</tspan>]</text><text transform="translate(1407.3 1555.2) rotate(0)" y="7.2">[00<tspan text-decoration="overline">1</tspan>]</text><text transform="translate(1234.1 1500.2) rotate(35.3)" y="7.2">[<tspan text-decoration="overline">1</tspan><tspan text-decoration="overline">1</tspan><tspan text-decoration="overline">2</tspan>]</text><text transform="translate(1162.3 1428.4) rotate(54.7)" y="7.2">[<tspan text-decoration="overline">1</tspan><tspan text-decoration="overline">1</tspan><tspan text-decoration="overline">1</tspan>]</text><text transform="translate(1124.5 1355.2) rotate(70.5)" y="7.2">[<tspan text-decoration="overline">2</tspan><tspan text-decoration="overline">2</tspan><tspan text-decoration="overline">1</tspan>]</text><text transform="translate(1107.3 1255.2) rotate(-90)" y="7.2">[<tspan text-decoration="overline">1</tspan><tspan text-decoration="overline">1</tspan>0]</text><text transform="translate(1124.5 1155.2) rotate(-70.5)" y="7.2">[<tspan text-decoration="overline">2</tspan><tspan text-decoration="overline">2</tspan>1]</text><text transform="translate(1162.3 1082) rotate(-54.7)" y="7.2">[<tspan text-decoration="overline">1</tspan><tspan text-decoration="overline">1</tspan>1]</text><text transform="translate(1234.1 1010.2) rotate(-35.3)" y="7.2">[<tspan text-decoration="overline">1</tspan><tspan text-decoration="overline">1</tspan>2]</text></g><g font-size="25" text-anchor="middle" fill="#222"><text x="1406" y="932">0°</text><text x="1219.7" y="975.6">330°</text><text x="1585.3" y="972.6">30°</text><text x="1102.6" y="1092">300°</text><text x="1700.6" y="1089">60°</text><text x="1061.4" y="1264">270°</text><text x="1742.4" y="1264">90°</text><text x="1104.4" y="1438.6">240°</text><text x="1710.8" y="1435.6">120°</text><text x="1221" y="1555">210°</text><text x="1594.3" y="1552">150°</text><text x="1410.3" y="1597">180°</text></g><defs><linearGradient id="cbf" x1="0" y1="0" x2="0" y2="1"><stop offset="0" stop-color="#5c0000"/><stop offset=".05" stop-color="#740000"/><stop offset=".11" stop-color="#9c0000"/><stop offset=".167" stop-color="#d80000"/><stop offset=".2" stop-color="#ff0000"/><stop offset=".345" stop-color="#ff0000"/><stop offset=".36" stop-color="#f03c00"/><stop offset=".405" stop-color="#f07800"/><stop offset=".444" stop-color="#f5a800"/><stop offset=".47" stop-color="#f8dc00"/><stop offset=".517" stop-color="#f5f500"/><stop offset=".555" stop-color="#c8ec00"/><stop offset=".61" stop-color="#78e000"/><stop offset=".655" stop-color="#18dc10"/><stop offset=".69" stop-color="#00e040"/><stop offset=".71" stop-color="#00e8a0"/><stop offset=".744" stop-color="#00f4f4"/><stop offset=".777" stop-color="#00b4f0"/><stop offset=".81" stop-color="#0070f0"/><stop offset=".85" stop-color="#1414f0"/><stop offset=".878" stop-color="#5010e0"/><stop offset=".917" stop-color="#8812d8"/><stop offset=".95" stop-color="#8c10c4"/><stop offset=".97" stop-color="#84089c"/><stop offset="1" stop-color="#700070"/></linearGradient></defs><rect x="1775.3" y="1038.3" width="35.7" height="534.7" fill="#000"/><rect x="1776.3" y="1039.3" width="33.7" height="5" fill="#fff"/><rect x="1776.3" y="1044.3" width="33.7" height="524.5" fill="url(#cbf)"/><g font-size="29"><text x="1830.2" y="1054.7">0.286</text><text x="1830.2" y="1101.7">0.234</text><text x="1830.2" y="1170.4">0.158</text><text x="1830.2" y="1238.3">0.083</text><text x="1830.2" y="1306.1">0.008</text><text x="1830.2" y="1374.8">−0.068</text><text x="1830.2" y="1442.6">−0.143</text><text x="1830.2" y="1511.4">−0.219</text><text x="1830.2" y="1579.2">−0.294</text></g><path d="M1811 1044.3h8M1811 1091.3h8M1811 1160.1h8M1811 1227.9h8M1811 1295.7h8M1811 1364.4h8M1811 1432.2h8M1811 1501h8M1811 1568.8h8" stroke="#333" stroke-width="1.5" fill="none"/><text x="1722.7" y="1003.7" font-size="31" textLength="216.3" lengthAdjust="spacingAndGlyphs"><tspan font-family="Liberation Serif, serif" font-size="33">Δρ/ρ</tspan>(T = 4.2 K)</text><text x="1908" y="935" font-size="39" text-anchor="middle">(f)</text></g><g font-family='"Liberation Sans", Arial, sans-serif' fill="#000"><g stroke="#555" stroke-width="1.5" fill="none"><path d="M1028.4 1845.7V2424.7M1028.4 1845.7h-9M1028.4 1881.9h-4.5M1028.4 1918.1h-9M1028.4 1954.3h-4.5M1028.4 1990.4h-9M1028.4 2026.6h-4.5M1028.4 2062.8h-9M1028.4 2099h-4.5M1028.4 2135.2h-9M1028.4 2171.4h-4.5M1028.4 2207.6h-9M1028.4 2243.8h-4.5M1028.4 2279.9h-9M1028.4 2316.1h-4.5M1028.4 2352.3h-9M1028.4 2388.5h-4.5M1028.4 2424.7h-9"/></g><g font-size="28" text-anchor="end"><text x="1012" y="1855.7">80</text><text x="1012" y="1928.1">60</text><text x="1012" y="2000.4">40</text><text x="1012" y="2072.8">20</text><text x="1012" y="2145.2">0</text><text x="1012" y="2217.6">20</text><text x="1012" y="2289.9">40</text><text x="1012" y="2362.3">60</text><text x="1012" y="2434.7">80</text></g><text transform="translate(970 2135.2) rotate(-90)" font-size="30" text-anchor="middle">H (kOe)</text><g font-size="20" font-weight="bold" text-anchor="middle"><text transform="translate(1407.3 1835.2) rotate(0)" y="7.2">[001]</text><text transform="translate(1580.5 1890.2) rotate(35.3)" y="7.2">[112]</text><text transform="translate(1652.3 1962) rotate(54.7)" y="7.2">[111]</text><text transform="translate(1690.1 2035.2) rotate(70.5)" y="7.2">[221]</text><text transform="translate(1707.3 2135.2) rotate(90)" y="7.2">[110]</text><text transform="translate(1690.1 2235.2) rotate(-70.5)" y="7.2">[22<tspan text-decoration="overline">1</tspan>]</text><text transform="translate(1652.3 2308.4) rotate(-54.7)" y="7.2">[11<tspan text-decoration="overline">1</tspan>]</text><text transform="translate(1580.5 2380.2) rotate(-35.3)" y="7.2">[11<tspan text-decoration="overline">2</tspan>]</text><text transform="translate(1407.3 2435.2) rotate(0)" y="7.2">[00<tspan text-decoration="overline">1</tspan>]</text><text transform="translate(1234.1 2380.2) rotate(35.3)" y="7.2">[<tspan text-decoration="overline">1</tspan><tspan text-decoration="overline">1</tspan><tspan text-decoration="overline">2</tspan>]</text><text transform="translate(1162.3 2308.4) rotate(54.7)" y="7.2">[<tspan text-decoration="overline">1</tspan><tspan text-decoration="overline">1</tspan><tspan text-decoration="overline">1</tspan>]</text><text transform="translate(1124.5 2235.2) rotate(70.5)" y="7.2">[<tspan text-decoration="overline">2</tspan><tspan text-decoration="overline">2</tspan><tspan text-decoration="overline">1</tspan>]</text><text transform="translate(1107.3 2135.2) rotate(-90)" y="7.2">[<tspan text-decoration="overline">1</tspan><tspan text-decoration="overline">1</tspan>0]</text><text transform="translate(1124.5 2035.2) rotate(-70.5)" y="7.2">[<tspan text-decoration="overline">2</tspan><tspan text-decoration="overline">2</tspan>1]</text><text transform="translate(1162.3 1962) rotate(-54.7)" y="7.2">[<tspan text-decoration="overline">1</tspan><tspan text-decoration="overline">1</tspan>1]</text><text transform="translate(1234.1 1890.2) rotate(-35.3)" y="7.2">[<tspan text-decoration="overline">1</tspan><tspan text-decoration="overline">1</tspan>2]</text></g><g font-size="25" text-anchor="middle" fill="#222"><text x="1410.3" y="1815.6">0°</text><text x="1225.7" y="1857.4">330°</text><text x="1588.3" y="1858.6">30°</text><text x="1108.6" y="1970.3">300°</text><text x="1700.6" y="1974">60°</text><text x="1065.6" y="2144">270°</text><text x="1742.4" y="2146.5">90°</text><text x="1107.4" y="2313.8">240°</text><text x="1706" y="2316.8">120°</text><text x="1221" y="2430.3">210°</text><text x="1591.3" y="2430.3">150°</text><text x="1410.3" y="2474">180°</text></g><defs><linearGradient id="cbg" x1="0" y1="0" x2="0" y2="1"><stop offset="0" stop-color="#5c0000"/><stop offset=".05" stop-color="#740000"/><stop offset=".11" stop-color="#9c0000"/><stop offset=".167" stop-color="#d80000"/><stop offset=".2" stop-color="#ff0000"/><stop offset=".345" stop-color="#ff0000"/><stop offset=".36" stop-color="#f03c00"/><stop offset=".405" stop-color="#f07800"/><stop offset=".444" stop-color="#f5a800"/><stop offset=".47" stop-color="#f8dc00"/><stop offset=".517" stop-color="#f5f500"/><stop offset=".555" stop-color="#c8ec00"/><stop offset=".61" stop-color="#78e000"/><stop offset=".655" stop-color="#18dc10"/><stop offset=".69" stop-color="#00e040"/><stop offset=".71" stop-color="#00e8a0"/><stop offset=".744" stop-color="#00f4f4"/><stop offset=".777" stop-color="#00b4f0"/><stop offset=".81" stop-color="#0070f0"/><stop offset=".85" stop-color="#1414f0"/><stop offset=".878" stop-color="#5010e0"/><stop offset=".917" stop-color="#8812d8"/><stop offset=".95" stop-color="#8c10c4"/><stop offset=".97" stop-color="#84089c"/><stop offset="1" stop-color="#700070"/></linearGradient></defs><rect x="1770.5" y="1887" width="35.8" height="557" fill="#000"/><rect x="1771.5" y="1888" width="33.8" height="6.4" fill="#fff"/><rect x="1771.5" y="1894.4" width="33.8" height="545.4" fill="url(#cbg)"/><g font-size="29"><text x="1827.3" y="1904.8">0.910</text><text x="1827.3" y="1954">0.823</text><text x="1827.3" y="2024.6">0.698</text><text x="1827.3" y="2095.8">0.572</text><text x="1827.3" y="2166.5">0.447</text><text x="1827.3" y="2237.7">0.321</text><text x="1827.3" y="2308.3">0.196</text><text x="1827.3" y="2379.5">0.070</text><text x="1827.3" y="2450.2">-0.055</text></g><path d="M1806.3 1894.4h8M1806.3 1943.6h8M1806.3 2014.2h8M1806.3 2085.4h8M1806.3 2156.1h8M1806.3 2227.3h8M1806.3 2297.9h8M1806.3 2369.2h8M1806.3 2439.8h8" stroke="#333" stroke-width="1.5" fill="none"/><text x="1698.8" y="1861.6" font-size="31" textLength="236" lengthAdjust="spacingAndGlyphs"><tspan font-family="Liberation Serif, serif" font-size="33">Δρ/ρ</tspan>(T = 2.1 K)</text><text x="1908" y="1805" font-size="39" text-anchor="middle">(g)</text></g>
</svg>
</body></html>
